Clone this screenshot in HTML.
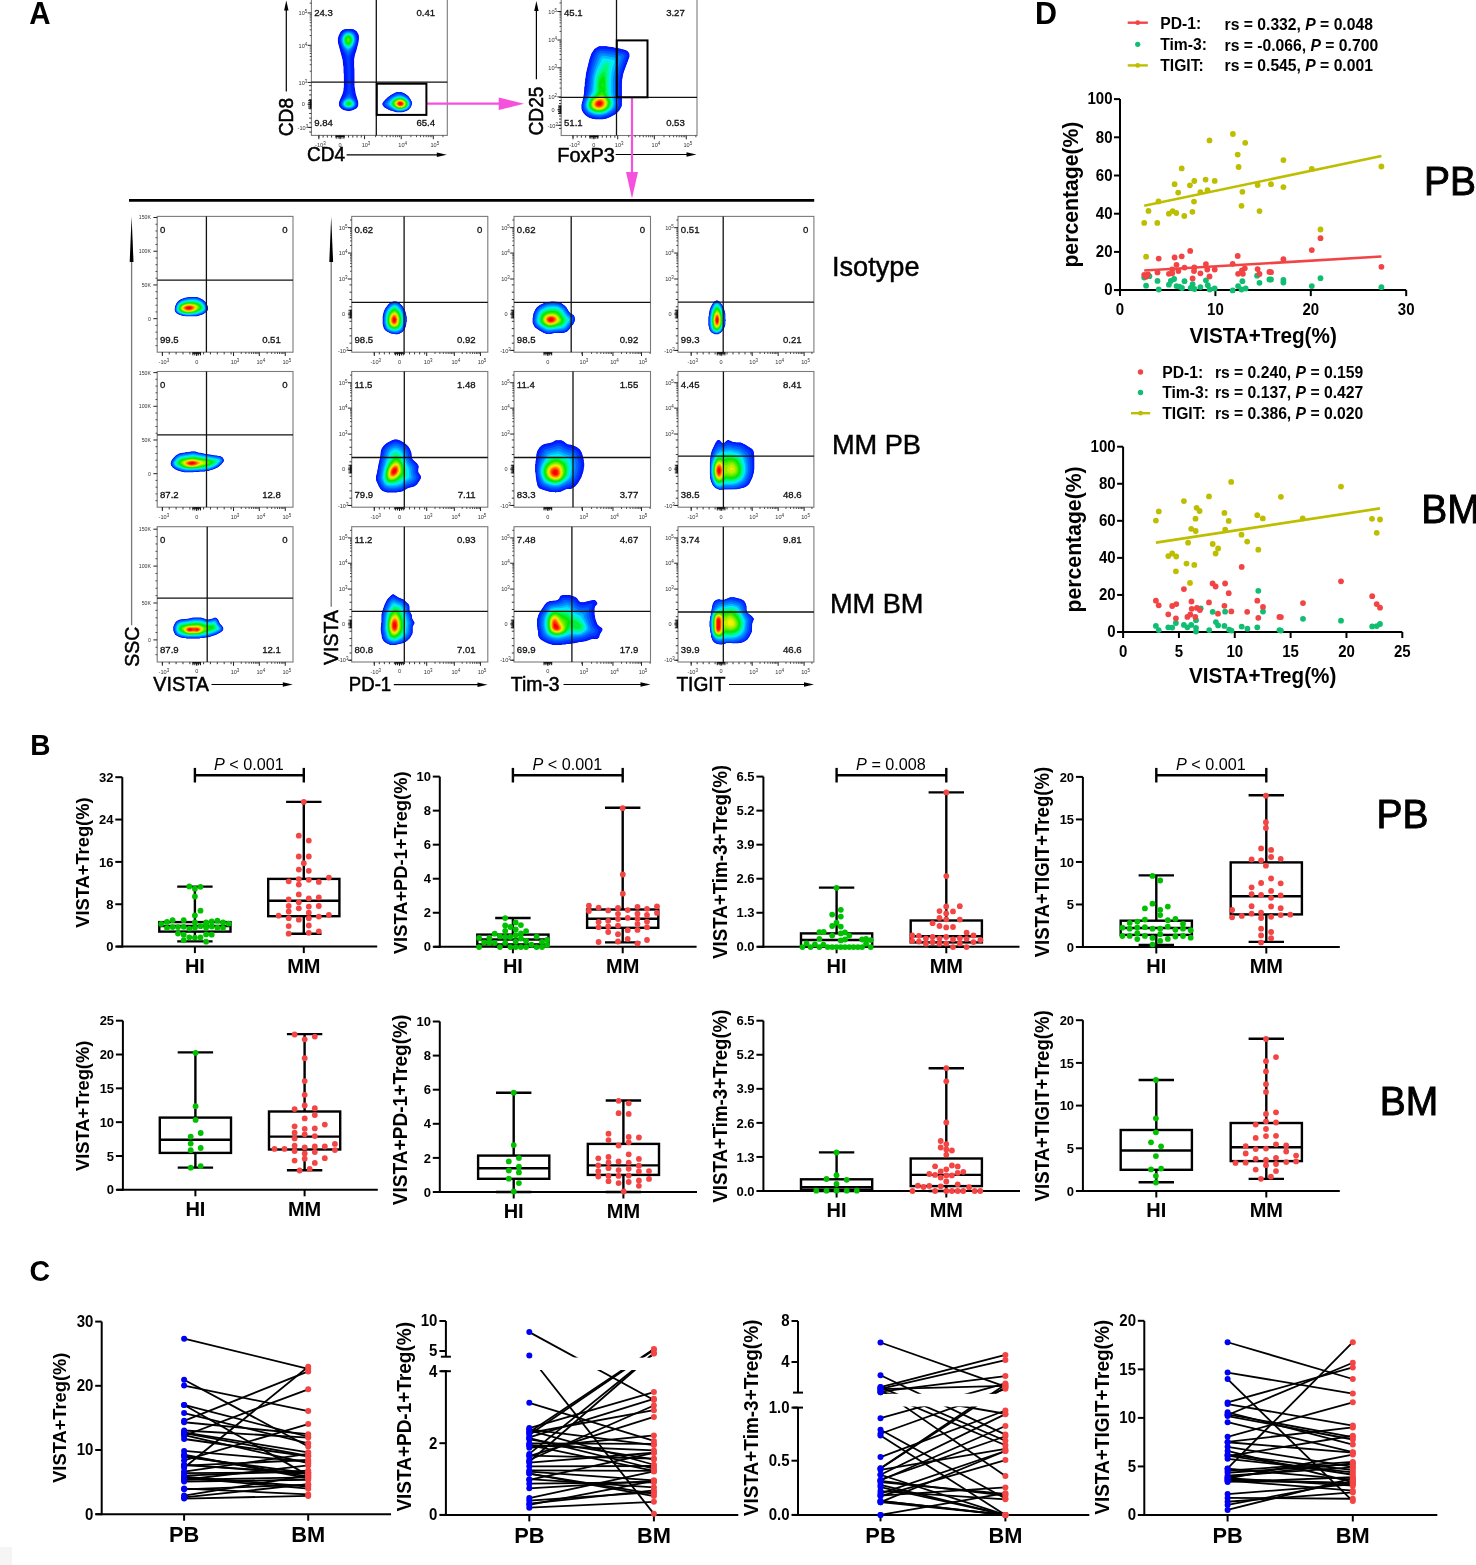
<!DOCTYPE html>
<html><head><meta charset="utf-8"><style>
html,body{margin:0;padding:0;background:#fff;overflow:hidden;}
svg{display:block;font-family:"Liberation Sans", sans-serif;will-change:transform;}
</style></head><body>
<svg width="1476" height="1565" viewBox="0 0 1476 1565">
<rect x="0" y="0" width="1476" height="1565" fill="#fff"/>
<text x="29.3" y="24.0" font-size="29.5" font-weight="bold" fill="#000" transform="translate(29.3 24.0) scale(1 1.04) translate(-29.3 -24.0)">A</text>
<text x="30.2" y="755.1" font-size="28" font-weight="bold" fill="#000" transform="translate(30.2 755.1) scale(1 1.07) translate(-30.2 -755.1)">B</text>
<text x="29.5" y="1281.0" font-size="28.5" font-weight="bold" fill="#000" transform="translate(29.5 1281.0) scale(1 1.05) translate(-29.5 -1281.0)">C</text>
<text x="1034.9" y="24.0" font-size="30.5" font-weight="bold" fill="#000" transform="translate(1034.9 24.0) scale(1 1.03) translate(-1034.9 -24.0)">D</text>
<line x1="116.30" y1="946.60" x2="377.20" y2="946.60" stroke="#000" stroke-width="2" stroke-linecap="butt"/>
<line x1="122.30" y1="777.20" x2="122.30" y2="947.60" stroke="#000" stroke-width="2" stroke-linecap="butt"/>
<line x1="115.30" y1="946.60" x2="122.30" y2="946.60" stroke="#000" stroke-width="2" stroke-linecap="butt"/>
<text x="113.5" y="951.3" font-size="13" font-weight="bold" text-anchor="end" fill="#000" transform="translate(113.5 951.3) scale(1 1.04) translate(-113.5 -951.3)">0</text>
<line x1="115.30" y1="904.25" x2="122.30" y2="904.25" stroke="#000" stroke-width="2" stroke-linecap="butt"/>
<text x="113.5" y="908.9" font-size="13" font-weight="bold" text-anchor="end" fill="#000" transform="translate(113.5 908.9) scale(1 1.04) translate(-113.5 -908.9)">8</text>
<line x1="115.30" y1="861.90" x2="122.30" y2="861.90" stroke="#000" stroke-width="2" stroke-linecap="butt"/>
<text x="113.5" y="866.6" font-size="13" font-weight="bold" text-anchor="end" fill="#000" transform="translate(113.5 866.6) scale(1 1.04) translate(-113.5 -866.6)">16</text>
<line x1="115.30" y1="819.55" x2="122.30" y2="819.55" stroke="#000" stroke-width="2" stroke-linecap="butt"/>
<text x="113.5" y="824.2" font-size="13" font-weight="bold" text-anchor="end" fill="#000" transform="translate(113.5 824.2) scale(1 1.04) translate(-113.5 -824.2)">24</text>
<line x1="115.30" y1="777.20" x2="122.30" y2="777.20" stroke="#000" stroke-width="2" stroke-linecap="butt"/>
<text x="113.5" y="781.9" font-size="13" font-weight="bold" text-anchor="end" fill="#000" transform="translate(113.5 781.9) scale(1 1.04) translate(-113.5 -781.9)">32</text>
<line x1="194.90" y1="946.60" x2="194.90" y2="953.10" stroke="#000" stroke-width="2" stroke-linecap="butt"/>
<line x1="303.80" y1="946.60" x2="303.80" y2="953.10" stroke="#000" stroke-width="2" stroke-linecap="butt"/>
<text x="194.9" y="973.0" font-size="20" font-weight="bold" text-anchor="middle" fill="#000" transform="translate(194.9 973.0) scale(1 1.04) translate(-194.9 -973.0)">HI</text>
<text x="303.8" y="973.0" font-size="20" font-weight="bold" text-anchor="middle" fill="#000" transform="translate(303.8 973.0) scale(1 1.04) translate(-303.8 -973.0)">MM</text>
<text x="89.0" y="862.6" font-size="18.3" font-weight="bold" text-anchor="middle" fill="#000" transform="rotate(-90 89.0 862.6) translate(89.0 862.6) scale(1 1.04) translate(-89.0 -862.6)">VISTA+Treg(%)</text>
<rect x="159.30" y="922.10" width="71.20" height="9.50" fill="none" stroke="#000" stroke-width="2.4"/>
<line x1="159.30" y1="926.00" x2="230.50" y2="926.00" stroke="#000" stroke-width="2.4" stroke-linecap="butt"/>
<line x1="194.90" y1="886.60" x2="194.90" y2="922.10" stroke="#000" stroke-width="2.4" stroke-linecap="butt"/>
<line x1="194.90" y1="931.60" x2="194.90" y2="941.40" stroke="#000" stroke-width="2.4" stroke-linecap="butt"/>
<line x1="177.20" y1="886.60" x2="212.60" y2="886.60" stroke="#000" stroke-width="2.4" stroke-linecap="butt"/>
<line x1="177.20" y1="941.40" x2="212.60" y2="941.40" stroke="#000" stroke-width="2.4" stroke-linecap="butt"/>
<rect x="268.20" y="878.90" width="71.20" height="37.30" fill="none" stroke="#000" stroke-width="2.4"/>
<line x1="268.20" y1="900.70" x2="339.40" y2="900.70" stroke="#000" stroke-width="2.4" stroke-linecap="butt"/>
<line x1="303.80" y1="801.90" x2="303.80" y2="878.90" stroke="#000" stroke-width="2.4" stroke-linecap="butt"/>
<line x1="303.80" y1="916.20" x2="303.80" y2="933.70" stroke="#000" stroke-width="2.4" stroke-linecap="butt"/>
<line x1="286.10" y1="801.90" x2="321.50" y2="801.90" stroke="#000" stroke-width="2.4" stroke-linecap="butt"/>
<line x1="286.10" y1="933.70" x2="321.50" y2="933.70" stroke="#000" stroke-width="2.4" stroke-linecap="butt"/>
<line x1="433.80" y1="946.80" x2="696.60" y2="946.80" stroke="#000" stroke-width="2" stroke-linecap="butt"/>
<line x1="439.80" y1="776.60" x2="439.80" y2="947.80" stroke="#000" stroke-width="2" stroke-linecap="butt"/>
<line x1="432.80" y1="946.80" x2="439.80" y2="946.80" stroke="#000" stroke-width="2" stroke-linecap="butt"/>
<text x="431.0" y="951.5" font-size="13" font-weight="bold" text-anchor="end" fill="#000" transform="translate(431.0 951.5) scale(1 1.04) translate(-431.0 -951.5)">0</text>
<line x1="432.80" y1="912.76" x2="439.80" y2="912.76" stroke="#000" stroke-width="2" stroke-linecap="butt"/>
<text x="431.0" y="917.4" font-size="13" font-weight="bold" text-anchor="end" fill="#000" transform="translate(431.0 917.4) scale(1 1.04) translate(-431.0 -917.4)">2</text>
<line x1="432.80" y1="878.72" x2="439.80" y2="878.72" stroke="#000" stroke-width="2" stroke-linecap="butt"/>
<text x="431.0" y="883.4" font-size="13" font-weight="bold" text-anchor="end" fill="#000" transform="translate(431.0 883.4) scale(1 1.04) translate(-431.0 -883.4)">4</text>
<line x1="432.80" y1="844.68" x2="439.80" y2="844.68" stroke="#000" stroke-width="2" stroke-linecap="butt"/>
<text x="431.0" y="849.4" font-size="13" font-weight="bold" text-anchor="end" fill="#000" transform="translate(431.0 849.4) scale(1 1.04) translate(-431.0 -849.4)">6</text>
<line x1="432.80" y1="810.64" x2="439.80" y2="810.64" stroke="#000" stroke-width="2" stroke-linecap="butt"/>
<text x="431.0" y="815.3" font-size="13" font-weight="bold" text-anchor="end" fill="#000" transform="translate(431.0 815.3) scale(1 1.04) translate(-431.0 -815.3)">8</text>
<line x1="432.80" y1="776.60" x2="439.80" y2="776.60" stroke="#000" stroke-width="2" stroke-linecap="butt"/>
<text x="431.0" y="781.3" font-size="13" font-weight="bold" text-anchor="end" fill="#000" transform="translate(431.0 781.3) scale(1 1.04) translate(-431.0 -781.3)">10</text>
<line x1="512.90" y1="946.80" x2="512.90" y2="953.30" stroke="#000" stroke-width="2" stroke-linecap="butt"/>
<line x1="622.70" y1="946.80" x2="622.70" y2="953.30" stroke="#000" stroke-width="2" stroke-linecap="butt"/>
<text x="512.9" y="973.2" font-size="20" font-weight="bold" text-anchor="middle" fill="#000" transform="translate(512.9 973.2) scale(1 1.04) translate(-512.9 -973.2)">HI</text>
<text x="622.7" y="973.2" font-size="20" font-weight="bold" text-anchor="middle" fill="#000" transform="translate(622.7 973.2) scale(1 1.04) translate(-622.7 -973.2)">MM</text>
<text x="407.0" y="862.8" font-size="18.3" font-weight="bold" text-anchor="middle" fill="#000" transform="rotate(-90 407.0 862.8) translate(407.0 862.8) scale(1 1.04) translate(-407.0 -862.8)">VISTA+PD-1+Treg(%)</text>
<rect x="477.30" y="934.60" width="71.20" height="9.80" fill="none" stroke="#000" stroke-width="2.4"/>
<line x1="477.30" y1="939.50" x2="548.50" y2="939.50" stroke="#000" stroke-width="2.4" stroke-linecap="butt"/>
<line x1="512.90" y1="918.00" x2="512.90" y2="934.60" stroke="#000" stroke-width="2.4" stroke-linecap="butt"/>
<line x1="512.90" y1="944.40" x2="512.90" y2="946.80" stroke="#000" stroke-width="2.4" stroke-linecap="butt"/>
<line x1="495.20" y1="918.00" x2="530.60" y2="918.00" stroke="#000" stroke-width="2.4" stroke-linecap="butt"/>
<line x1="495.20" y1="946.80" x2="530.60" y2="946.80" stroke="#000" stroke-width="2.4" stroke-linecap="butt"/>
<rect x="587.10" y="909.50" width="71.20" height="18.30" fill="none" stroke="#000" stroke-width="2.4"/>
<line x1="587.10" y1="918.80" x2="658.30" y2="918.80" stroke="#000" stroke-width="2.4" stroke-linecap="butt"/>
<line x1="622.70" y1="807.80" x2="622.70" y2="909.50" stroke="#000" stroke-width="2.4" stroke-linecap="butt"/>
<line x1="622.70" y1="927.80" x2="622.70" y2="942.40" stroke="#000" stroke-width="2.4" stroke-linecap="butt"/>
<line x1="605.00" y1="807.80" x2="640.40" y2="807.80" stroke="#000" stroke-width="2.4" stroke-linecap="butt"/>
<line x1="605.00" y1="942.40" x2="640.40" y2="942.40" stroke="#000" stroke-width="2.4" stroke-linecap="butt"/>
<line x1="757.40" y1="946.80" x2="1019.50" y2="946.80" stroke="#000" stroke-width="2" stroke-linecap="butt"/>
<line x1="763.40" y1="776.60" x2="763.40" y2="947.80" stroke="#000" stroke-width="2" stroke-linecap="butt"/>
<line x1="756.40" y1="946.80" x2="763.40" y2="946.80" stroke="#000" stroke-width="2" stroke-linecap="butt"/>
<text x="754.6" y="951.5" font-size="13" font-weight="bold" text-anchor="end" fill="#000" transform="translate(754.6 951.5) scale(1 1.04) translate(-754.6 -951.5)">0.0</text>
<line x1="756.40" y1="912.76" x2="763.40" y2="912.76" stroke="#000" stroke-width="2" stroke-linecap="butt"/>
<text x="754.6" y="917.4" font-size="13" font-weight="bold" text-anchor="end" fill="#000" transform="translate(754.6 917.4) scale(1 1.04) translate(-754.6 -917.4)">1.3</text>
<line x1="756.40" y1="878.72" x2="763.40" y2="878.72" stroke="#000" stroke-width="2" stroke-linecap="butt"/>
<text x="754.6" y="883.4" font-size="13" font-weight="bold" text-anchor="end" fill="#000" transform="translate(754.6 883.4) scale(1 1.04) translate(-754.6 -883.4)">2.6</text>
<line x1="756.40" y1="844.68" x2="763.40" y2="844.68" stroke="#000" stroke-width="2" stroke-linecap="butt"/>
<text x="754.6" y="849.4" font-size="13" font-weight="bold" text-anchor="end" fill="#000" transform="translate(754.6 849.4) scale(1 1.04) translate(-754.6 -849.4)">3.9</text>
<line x1="756.40" y1="810.64" x2="763.40" y2="810.64" stroke="#000" stroke-width="2" stroke-linecap="butt"/>
<text x="754.6" y="815.3" font-size="13" font-weight="bold" text-anchor="end" fill="#000" transform="translate(754.6 815.3) scale(1 1.04) translate(-754.6 -815.3)">5.2</text>
<line x1="756.40" y1="776.60" x2="763.40" y2="776.60" stroke="#000" stroke-width="2" stroke-linecap="butt"/>
<text x="754.6" y="781.3" font-size="13" font-weight="bold" text-anchor="end" fill="#000" transform="translate(754.6 781.3) scale(1 1.04) translate(-754.6 -781.3)">6.5</text>
<line x1="836.60" y1="946.80" x2="836.60" y2="953.30" stroke="#000" stroke-width="2" stroke-linecap="butt"/>
<line x1="946.30" y1="946.80" x2="946.30" y2="953.30" stroke="#000" stroke-width="2" stroke-linecap="butt"/>
<text x="836.6" y="973.2" font-size="20" font-weight="bold" text-anchor="middle" fill="#000" transform="translate(836.6 973.2) scale(1 1.04) translate(-836.6 -973.2)">HI</text>
<text x="946.3" y="973.2" font-size="20" font-weight="bold" text-anchor="middle" fill="#000" transform="translate(946.3 973.2) scale(1 1.04) translate(-946.3 -973.2)">MM</text>
<text x="727.2" y="862.0" font-size="18.76" font-weight="bold" text-anchor="middle" fill="#000" transform="rotate(-90 727.2 862.0) translate(727.2 862.0) scale(1 1.04) translate(-727.2 -862.0)">VISTA+Tim-3+Treg(%)</text>
<rect x="801.00" y="933.40" width="71.20" height="13.40" fill="none" stroke="#000" stroke-width="2.4"/>
<line x1="801.00" y1="940.00" x2="872.20" y2="940.00" stroke="#000" stroke-width="2.4" stroke-linecap="butt"/>
<line x1="836.60" y1="887.60" x2="836.60" y2="933.40" stroke="#000" stroke-width="2.4" stroke-linecap="butt"/>
<line x1="836.60" y1="946.80" x2="836.60" y2="946.80" stroke="#000" stroke-width="2.4" stroke-linecap="butt"/>
<line x1="818.90" y1="887.60" x2="854.30" y2="887.60" stroke="#000" stroke-width="2.4" stroke-linecap="butt"/>
<line x1="818.90" y1="946.80" x2="854.30" y2="946.80" stroke="#000" stroke-width="2.4" stroke-linecap="butt"/>
<rect x="910.70" y="920.50" width="71.20" height="21.90" fill="none" stroke="#000" stroke-width="2.4"/>
<line x1="910.70" y1="936.30" x2="981.90" y2="936.30" stroke="#000" stroke-width="2.4" stroke-linecap="butt"/>
<line x1="946.30" y1="792.40" x2="946.30" y2="920.50" stroke="#000" stroke-width="2.4" stroke-linecap="butt"/>
<line x1="946.30" y1="942.40" x2="946.30" y2="946.80" stroke="#000" stroke-width="2.4" stroke-linecap="butt"/>
<line x1="928.60" y1="792.40" x2="964.00" y2="792.40" stroke="#000" stroke-width="2.4" stroke-linecap="butt"/>
<line x1="928.60" y1="946.80" x2="964.00" y2="946.80" stroke="#000" stroke-width="2.4" stroke-linecap="butt"/>
<line x1="1076.90" y1="947.00" x2="1339.80" y2="947.00" stroke="#000" stroke-width="2" stroke-linecap="butt"/>
<line x1="1082.90" y1="776.90" x2="1082.90" y2="948.00" stroke="#000" stroke-width="2" stroke-linecap="butt"/>
<line x1="1075.90" y1="947.00" x2="1082.90" y2="947.00" stroke="#000" stroke-width="2" stroke-linecap="butt"/>
<text x="1074.1" y="951.7" font-size="13" font-weight="bold" text-anchor="end" fill="#000" transform="translate(1074.1 951.7) scale(1 1.04) translate(-1074.1 -951.7)">0</text>
<line x1="1075.90" y1="904.48" x2="1082.90" y2="904.48" stroke="#000" stroke-width="2" stroke-linecap="butt"/>
<text x="1074.1" y="909.2" font-size="13" font-weight="bold" text-anchor="end" fill="#000" transform="translate(1074.1 909.2) scale(1 1.04) translate(-1074.1 -909.2)">5</text>
<line x1="1075.90" y1="861.95" x2="1082.90" y2="861.95" stroke="#000" stroke-width="2" stroke-linecap="butt"/>
<text x="1074.1" y="866.6" font-size="13" font-weight="bold" text-anchor="end" fill="#000" transform="translate(1074.1 866.6) scale(1 1.04) translate(-1074.1 -866.6)">10</text>
<line x1="1075.90" y1="819.42" x2="1082.90" y2="819.42" stroke="#000" stroke-width="2" stroke-linecap="butt"/>
<text x="1074.1" y="824.1" font-size="13" font-weight="bold" text-anchor="end" fill="#000" transform="translate(1074.1 824.1) scale(1 1.04) translate(-1074.1 -824.1)">15</text>
<line x1="1075.90" y1="776.90" x2="1082.90" y2="776.90" stroke="#000" stroke-width="2" stroke-linecap="butt"/>
<text x="1074.1" y="781.6" font-size="13" font-weight="bold" text-anchor="end" fill="#000" transform="translate(1074.1 781.6) scale(1 1.04) translate(-1074.1 -781.6)">20</text>
<line x1="1156.30" y1="947.00" x2="1156.30" y2="953.50" stroke="#000" stroke-width="2" stroke-linecap="butt"/>
<line x1="1266.30" y1="947.00" x2="1266.30" y2="953.50" stroke="#000" stroke-width="2" stroke-linecap="butt"/>
<text x="1156.3" y="973.4" font-size="20" font-weight="bold" text-anchor="middle" fill="#000" transform="translate(1156.3 973.4) scale(1 1.04) translate(-1156.3 -973.4)">HI</text>
<text x="1266.3" y="973.4" font-size="20" font-weight="bold" text-anchor="middle" fill="#000" transform="translate(1266.3 973.4) scale(1 1.04) translate(-1266.3 -973.4)">MM</text>
<text x="1049.0" y="862.1" font-size="18.57" font-weight="bold" text-anchor="middle" fill="#000" transform="rotate(-90 1049.0 862.1) translate(1049.0 862.1) scale(1 1.04) translate(-1049.0 -862.1)">VISTA+TIGIT+Treg(%)</text>
<rect x="1120.70" y="920.70" width="71.20" height="14.20" fill="none" stroke="#000" stroke-width="2.4"/>
<line x1="1120.70" y1="928.00" x2="1191.90" y2="928.00" stroke="#000" stroke-width="2.4" stroke-linecap="butt"/>
<line x1="1156.30" y1="875.40" x2="1156.30" y2="920.70" stroke="#000" stroke-width="2.4" stroke-linecap="butt"/>
<line x1="1156.30" y1="934.90" x2="1156.30" y2="944.90" stroke="#000" stroke-width="2.4" stroke-linecap="butt"/>
<line x1="1138.60" y1="875.40" x2="1174.00" y2="875.40" stroke="#000" stroke-width="2.4" stroke-linecap="butt"/>
<line x1="1138.60" y1="944.90" x2="1174.00" y2="944.90" stroke="#000" stroke-width="2.4" stroke-linecap="butt"/>
<rect x="1230.70" y="862.40" width="71.20" height="52.00" fill="none" stroke="#000" stroke-width="2.4"/>
<line x1="1230.70" y1="896.20" x2="1301.90" y2="896.20" stroke="#000" stroke-width="2.4" stroke-linecap="butt"/>
<line x1="1266.30" y1="795.30" x2="1266.30" y2="862.40" stroke="#000" stroke-width="2.4" stroke-linecap="butt"/>
<line x1="1266.30" y1="914.40" x2="1266.30" y2="941.90" stroke="#000" stroke-width="2.4" stroke-linecap="butt"/>
<line x1="1248.60" y1="795.30" x2="1284.00" y2="795.30" stroke="#000" stroke-width="2.4" stroke-linecap="butt"/>
<line x1="1248.60" y1="941.90" x2="1284.00" y2="941.90" stroke="#000" stroke-width="2.4" stroke-linecap="butt"/>
<line x1="116.90" y1="1189.80" x2="377.80" y2="1189.80" stroke="#000" stroke-width="2" stroke-linecap="butt"/>
<line x1="122.90" y1="1020.70" x2="122.90" y2="1190.80" stroke="#000" stroke-width="2" stroke-linecap="butt"/>
<line x1="115.90" y1="1189.80" x2="122.90" y2="1189.80" stroke="#000" stroke-width="2" stroke-linecap="butt"/>
<text x="114.1" y="1194.5" font-size="13" font-weight="bold" text-anchor="end" fill="#000" transform="translate(114.1 1194.5) scale(1 1.04) translate(-114.1 -1194.5)">0</text>
<line x1="115.90" y1="1155.98" x2="122.90" y2="1155.98" stroke="#000" stroke-width="2" stroke-linecap="butt"/>
<text x="114.1" y="1160.7" font-size="13" font-weight="bold" text-anchor="end" fill="#000" transform="translate(114.1 1160.7) scale(1 1.04) translate(-114.1 -1160.7)">5</text>
<line x1="115.90" y1="1122.16" x2="122.90" y2="1122.16" stroke="#000" stroke-width="2" stroke-linecap="butt"/>
<text x="114.1" y="1126.8" font-size="13" font-weight="bold" text-anchor="end" fill="#000" transform="translate(114.1 1126.8) scale(1 1.04) translate(-114.1 -1126.8)">10</text>
<line x1="115.90" y1="1088.34" x2="122.90" y2="1088.34" stroke="#000" stroke-width="2" stroke-linecap="butt"/>
<text x="114.1" y="1093.0" font-size="13" font-weight="bold" text-anchor="end" fill="#000" transform="translate(114.1 1093.0) scale(1 1.04) translate(-114.1 -1093.0)">15</text>
<line x1="115.90" y1="1054.52" x2="122.90" y2="1054.52" stroke="#000" stroke-width="2" stroke-linecap="butt"/>
<text x="114.1" y="1059.2" font-size="13" font-weight="bold" text-anchor="end" fill="#000" transform="translate(114.1 1059.2) scale(1 1.04) translate(-114.1 -1059.2)">20</text>
<line x1="115.90" y1="1020.70" x2="122.90" y2="1020.70" stroke="#000" stroke-width="2" stroke-linecap="butt"/>
<text x="114.1" y="1025.4" font-size="13" font-weight="bold" text-anchor="end" fill="#000" transform="translate(114.1 1025.4) scale(1 1.04) translate(-114.1 -1025.4)">25</text>
<line x1="195.40" y1="1189.80" x2="195.40" y2="1196.30" stroke="#000" stroke-width="2" stroke-linecap="butt"/>
<line x1="304.60" y1="1189.80" x2="304.60" y2="1196.30" stroke="#000" stroke-width="2" stroke-linecap="butt"/>
<text x="195.4" y="1216.2" font-size="20" font-weight="bold" text-anchor="middle" fill="#000" transform="translate(195.4 1216.2) scale(1 1.04) translate(-195.4 -1216.2)">HI</text>
<text x="304.6" y="1216.2" font-size="20" font-weight="bold" text-anchor="middle" fill="#000" transform="translate(304.6 1216.2) scale(1 1.04) translate(-304.6 -1216.2)">MM</text>
<text x="89.1" y="1105.8" font-size="18.3" font-weight="bold" text-anchor="middle" fill="#000" transform="rotate(-90 89.1 1105.8) translate(89.1 1105.8) scale(1 1.04) translate(-89.1 -1105.8)">VISTA+Treg(%)</text>
<rect x="159.80" y="1117.60" width="71.20" height="35.30" fill="none" stroke="#000" stroke-width="2.4"/>
<line x1="159.80" y1="1139.80" x2="231.00" y2="1139.80" stroke="#000" stroke-width="2.4" stroke-linecap="butt"/>
<line x1="195.40" y1="1052.40" x2="195.40" y2="1117.60" stroke="#000" stroke-width="2.4" stroke-linecap="butt"/>
<line x1="195.40" y1="1152.90" x2="195.40" y2="1167.60" stroke="#000" stroke-width="2.4" stroke-linecap="butt"/>
<line x1="177.70" y1="1052.40" x2="213.10" y2="1052.40" stroke="#000" stroke-width="2.4" stroke-linecap="butt"/>
<line x1="177.70" y1="1167.60" x2="213.10" y2="1167.60" stroke="#000" stroke-width="2.4" stroke-linecap="butt"/>
<rect x="269.00" y="1111.50" width="71.20" height="38.00" fill="none" stroke="#000" stroke-width="2.4"/>
<line x1="269.00" y1="1136.60" x2="340.20" y2="1136.60" stroke="#000" stroke-width="2.4" stroke-linecap="butt"/>
<line x1="304.60" y1="1034.10" x2="304.60" y2="1111.50" stroke="#000" stroke-width="2.4" stroke-linecap="butt"/>
<line x1="304.60" y1="1149.50" x2="304.60" y2="1170.20" stroke="#000" stroke-width="2.4" stroke-linecap="butt"/>
<line x1="286.90" y1="1034.10" x2="322.30" y2="1034.10" stroke="#000" stroke-width="2.4" stroke-linecap="butt"/>
<line x1="286.90" y1="1170.20" x2="322.30" y2="1170.20" stroke="#000" stroke-width="2.4" stroke-linecap="butt"/>
<line x1="433.80" y1="1192.00" x2="697.00" y2="1192.00" stroke="#000" stroke-width="2" stroke-linecap="butt"/>
<line x1="439.80" y1="1021.50" x2="439.80" y2="1193.00" stroke="#000" stroke-width="2" stroke-linecap="butt"/>
<line x1="432.80" y1="1192.00" x2="439.80" y2="1192.00" stroke="#000" stroke-width="2" stroke-linecap="butt"/>
<text x="431.0" y="1196.7" font-size="13" font-weight="bold" text-anchor="end" fill="#000" transform="translate(431.0 1196.7) scale(1 1.04) translate(-431.0 -1196.7)">0</text>
<line x1="432.80" y1="1157.90" x2="439.80" y2="1157.90" stroke="#000" stroke-width="2" stroke-linecap="butt"/>
<text x="431.0" y="1162.6" font-size="13" font-weight="bold" text-anchor="end" fill="#000" transform="translate(431.0 1162.6) scale(1 1.04) translate(-431.0 -1162.6)">2</text>
<line x1="432.80" y1="1123.80" x2="439.80" y2="1123.80" stroke="#000" stroke-width="2" stroke-linecap="butt"/>
<text x="431.0" y="1128.5" font-size="13" font-weight="bold" text-anchor="end" fill="#000" transform="translate(431.0 1128.5) scale(1 1.04) translate(-431.0 -1128.5)">4</text>
<line x1="432.80" y1="1089.70" x2="439.80" y2="1089.70" stroke="#000" stroke-width="2" stroke-linecap="butt"/>
<text x="431.0" y="1094.4" font-size="13" font-weight="bold" text-anchor="end" fill="#000" transform="translate(431.0 1094.4) scale(1 1.04) translate(-431.0 -1094.4)">6</text>
<line x1="432.80" y1="1055.60" x2="439.80" y2="1055.60" stroke="#000" stroke-width="2" stroke-linecap="butt"/>
<text x="431.0" y="1060.3" font-size="13" font-weight="bold" text-anchor="end" fill="#000" transform="translate(431.0 1060.3) scale(1 1.04) translate(-431.0 -1060.3)">8</text>
<line x1="432.80" y1="1021.50" x2="439.80" y2="1021.50" stroke="#000" stroke-width="2" stroke-linecap="butt"/>
<text x="431.0" y="1026.2" font-size="13" font-weight="bold" text-anchor="end" fill="#000" transform="translate(431.0 1026.2) scale(1 1.04) translate(-431.0 -1026.2)">10</text>
<line x1="513.70" y1="1192.00" x2="513.70" y2="1198.50" stroke="#000" stroke-width="2" stroke-linecap="butt"/>
<line x1="623.40" y1="1192.00" x2="623.40" y2="1198.50" stroke="#000" stroke-width="2" stroke-linecap="butt"/>
<text x="513.7" y="1218.4" font-size="20" font-weight="bold" text-anchor="middle" fill="#000" transform="translate(513.7 1218.4) scale(1 1.04) translate(-513.7 -1218.4)">HI</text>
<text x="623.4" y="1218.4" font-size="20" font-weight="bold" text-anchor="middle" fill="#000" transform="translate(623.4 1218.4) scale(1 1.04) translate(-623.4 -1218.4)">MM</text>
<text x="407.0" y="1109.9" font-size="19.1" font-weight="bold" text-anchor="middle" fill="#000" transform="rotate(-90 407.0 1109.9) translate(407.0 1109.9) scale(1 1.04) translate(-407.0 -1109.9)">VISTA+PD-1+Treg(%)</text>
<rect x="478.10" y="1155.60" width="71.20" height="23.20" fill="none" stroke="#000" stroke-width="2.4"/>
<line x1="478.10" y1="1168.30" x2="549.30" y2="1168.30" stroke="#000" stroke-width="2.4" stroke-linecap="butt"/>
<line x1="513.70" y1="1092.70" x2="513.70" y2="1155.60" stroke="#000" stroke-width="2.4" stroke-linecap="butt"/>
<line x1="513.70" y1="1178.80" x2="513.70" y2="1192.00" stroke="#000" stroke-width="2.4" stroke-linecap="butt"/>
<line x1="496.00" y1="1092.70" x2="531.40" y2="1092.70" stroke="#000" stroke-width="2.4" stroke-linecap="butt"/>
<line x1="496.00" y1="1192.00" x2="531.40" y2="1192.00" stroke="#000" stroke-width="2.4" stroke-linecap="butt"/>
<rect x="587.80" y="1143.90" width="71.20" height="31.00" fill="none" stroke="#000" stroke-width="2.4"/>
<line x1="587.80" y1="1165.40" x2="659.00" y2="1165.40" stroke="#000" stroke-width="2.4" stroke-linecap="butt"/>
<line x1="623.40" y1="1100.50" x2="623.40" y2="1143.90" stroke="#000" stroke-width="2.4" stroke-linecap="butt"/>
<line x1="623.40" y1="1174.90" x2="623.40" y2="1192.00" stroke="#000" stroke-width="2.4" stroke-linecap="butt"/>
<line x1="605.70" y1="1100.50" x2="641.10" y2="1100.50" stroke="#000" stroke-width="2.4" stroke-linecap="butt"/>
<line x1="605.70" y1="1192.00" x2="641.10" y2="1192.00" stroke="#000" stroke-width="2.4" stroke-linecap="butt"/>
<line x1="757.40" y1="1191.00" x2="1020.00" y2="1191.00" stroke="#000" stroke-width="2" stroke-linecap="butt"/>
<line x1="763.40" y1="1020.70" x2="763.40" y2="1192.00" stroke="#000" stroke-width="2" stroke-linecap="butt"/>
<line x1="756.40" y1="1191.00" x2="763.40" y2="1191.00" stroke="#000" stroke-width="2" stroke-linecap="butt"/>
<text x="754.6" y="1195.7" font-size="13" font-weight="bold" text-anchor="end" fill="#000" transform="translate(754.6 1195.7) scale(1 1.04) translate(-754.6 -1195.7)">0.0</text>
<line x1="756.40" y1="1156.94" x2="763.40" y2="1156.94" stroke="#000" stroke-width="2" stroke-linecap="butt"/>
<text x="754.6" y="1161.6" font-size="13" font-weight="bold" text-anchor="end" fill="#000" transform="translate(754.6 1161.6) scale(1 1.04) translate(-754.6 -1161.6)">1.3</text>
<line x1="756.40" y1="1122.88" x2="763.40" y2="1122.88" stroke="#000" stroke-width="2" stroke-linecap="butt"/>
<text x="754.6" y="1127.6" font-size="13" font-weight="bold" text-anchor="end" fill="#000" transform="translate(754.6 1127.6) scale(1 1.04) translate(-754.6 -1127.6)">2.6</text>
<line x1="756.40" y1="1088.82" x2="763.40" y2="1088.82" stroke="#000" stroke-width="2" stroke-linecap="butt"/>
<text x="754.6" y="1093.5" font-size="13" font-weight="bold" text-anchor="end" fill="#000" transform="translate(754.6 1093.5) scale(1 1.04) translate(-754.6 -1093.5)">3.9</text>
<line x1="756.40" y1="1054.76" x2="763.40" y2="1054.76" stroke="#000" stroke-width="2" stroke-linecap="butt"/>
<text x="754.6" y="1059.4" font-size="13" font-weight="bold" text-anchor="end" fill="#000" transform="translate(754.6 1059.4) scale(1 1.04) translate(-754.6 -1059.4)">5.2</text>
<line x1="756.40" y1="1020.70" x2="763.40" y2="1020.70" stroke="#000" stroke-width="2" stroke-linecap="butt"/>
<text x="754.6" y="1025.4" font-size="13" font-weight="bold" text-anchor="end" fill="#000" transform="translate(754.6 1025.4) scale(1 1.04) translate(-754.6 -1025.4)">6.5</text>
<line x1="836.60" y1="1191.00" x2="836.60" y2="1197.50" stroke="#000" stroke-width="2" stroke-linecap="butt"/>
<line x1="946.30" y1="1191.00" x2="946.30" y2="1197.50" stroke="#000" stroke-width="2" stroke-linecap="butt"/>
<text x="836.6" y="1217.4" font-size="20" font-weight="bold" text-anchor="middle" fill="#000" transform="translate(836.6 1217.4) scale(1 1.04) translate(-836.6 -1217.4)">HI</text>
<text x="946.3" y="1217.4" font-size="20" font-weight="bold" text-anchor="middle" fill="#000" transform="translate(946.3 1217.4) scale(1 1.04) translate(-946.3 -1217.4)">MM</text>
<text x="727.2" y="1106.1" font-size="18.65" font-weight="bold" text-anchor="middle" fill="#000" transform="rotate(-90 727.2 1106.1) translate(727.2 1106.1) scale(1 1.04) translate(-727.2 -1106.1)">VISTA+Tim-3+Treg(%)</text>
<rect x="801.00" y="1179.30" width="71.20" height="10.50" fill="none" stroke="#000" stroke-width="2.4"/>
<line x1="801.00" y1="1187.30" x2="872.20" y2="1187.30" stroke="#000" stroke-width="2.4" stroke-linecap="butt"/>
<line x1="836.60" y1="1152.40" x2="836.60" y2="1179.30" stroke="#000" stroke-width="2.4" stroke-linecap="butt"/>
<line x1="836.60" y1="1189.80" x2="836.60" y2="1191.00" stroke="#000" stroke-width="2.4" stroke-linecap="butt"/>
<line x1="818.90" y1="1152.40" x2="854.30" y2="1152.40" stroke="#000" stroke-width="2.4" stroke-linecap="butt"/>
<line x1="818.90" y1="1191.00" x2="854.30" y2="1191.00" stroke="#000" stroke-width="2.4" stroke-linecap="butt"/>
<rect x="910.70" y="1158.50" width="71.20" height="27.60" fill="none" stroke="#000" stroke-width="2.4"/>
<line x1="910.70" y1="1174.90" x2="981.90" y2="1174.90" stroke="#000" stroke-width="2.4" stroke-linecap="butt"/>
<line x1="946.30" y1="1068.30" x2="946.30" y2="1158.50" stroke="#000" stroke-width="2.4" stroke-linecap="butt"/>
<line x1="946.30" y1="1186.10" x2="946.30" y2="1191.00" stroke="#000" stroke-width="2.4" stroke-linecap="butt"/>
<line x1="928.60" y1="1068.30" x2="964.00" y2="1068.30" stroke="#000" stroke-width="2.4" stroke-linecap="butt"/>
<line x1="928.60" y1="1191.00" x2="964.00" y2="1191.00" stroke="#000" stroke-width="2.4" stroke-linecap="butt"/>
<line x1="1076.90" y1="1191.00" x2="1339.80" y2="1191.00" stroke="#000" stroke-width="2" stroke-linecap="butt"/>
<line x1="1082.90" y1="1020.20" x2="1082.90" y2="1192.00" stroke="#000" stroke-width="2" stroke-linecap="butt"/>
<line x1="1075.90" y1="1191.00" x2="1082.90" y2="1191.00" stroke="#000" stroke-width="2" stroke-linecap="butt"/>
<text x="1074.1" y="1195.7" font-size="13" font-weight="bold" text-anchor="end" fill="#000" transform="translate(1074.1 1195.7) scale(1 1.04) translate(-1074.1 -1195.7)">0</text>
<line x1="1075.90" y1="1148.30" x2="1082.90" y2="1148.30" stroke="#000" stroke-width="2" stroke-linecap="butt"/>
<text x="1074.1" y="1153.0" font-size="13" font-weight="bold" text-anchor="end" fill="#000" transform="translate(1074.1 1153.0) scale(1 1.04) translate(-1074.1 -1153.0)">5</text>
<line x1="1075.90" y1="1105.60" x2="1082.90" y2="1105.60" stroke="#000" stroke-width="2" stroke-linecap="butt"/>
<text x="1074.1" y="1110.3" font-size="13" font-weight="bold" text-anchor="end" fill="#000" transform="translate(1074.1 1110.3) scale(1 1.04) translate(-1074.1 -1110.3)">10</text>
<line x1="1075.90" y1="1062.90" x2="1082.90" y2="1062.90" stroke="#000" stroke-width="2" stroke-linecap="butt"/>
<text x="1074.1" y="1067.6" font-size="13" font-weight="bold" text-anchor="end" fill="#000" transform="translate(1074.1 1067.6) scale(1 1.04) translate(-1074.1 -1067.6)">15</text>
<line x1="1075.90" y1="1020.20" x2="1082.90" y2="1020.20" stroke="#000" stroke-width="2" stroke-linecap="butt"/>
<text x="1074.1" y="1024.9" font-size="13" font-weight="bold" text-anchor="end" fill="#000" transform="translate(1074.1 1024.9) scale(1 1.04) translate(-1074.1 -1024.9)">20</text>
<line x1="1156.30" y1="1191.00" x2="1156.30" y2="1197.50" stroke="#000" stroke-width="2" stroke-linecap="butt"/>
<line x1="1266.30" y1="1191.00" x2="1266.30" y2="1197.50" stroke="#000" stroke-width="2" stroke-linecap="butt"/>
<text x="1156.3" y="1217.4" font-size="20" font-weight="bold" text-anchor="middle" fill="#000" transform="translate(1156.3 1217.4) scale(1 1.04) translate(-1156.3 -1217.4)">HI</text>
<text x="1266.3" y="1217.4" font-size="20" font-weight="bold" text-anchor="middle" fill="#000" transform="translate(1266.3 1217.4) scale(1 1.04) translate(-1266.3 -1217.4)">MM</text>
<text x="1049.0" y="1105.8" font-size="18.63" font-weight="bold" text-anchor="middle" fill="#000" transform="rotate(-90 1049.0 1105.8) translate(1049.0 1105.8) scale(1 1.04) translate(-1049.0 -1105.8)">VISTA+TIGIT+Treg(%)</text>
<rect x="1120.70" y="1130.00" width="71.20" height="39.80" fill="none" stroke="#000" stroke-width="2.4"/>
<line x1="1120.70" y1="1150.50" x2="1191.90" y2="1150.50" stroke="#000" stroke-width="2.4" stroke-linecap="butt"/>
<line x1="1156.30" y1="1080.00" x2="1156.30" y2="1130.00" stroke="#000" stroke-width="2.4" stroke-linecap="butt"/>
<line x1="1156.30" y1="1169.80" x2="1156.30" y2="1182.20" stroke="#000" stroke-width="2.4" stroke-linecap="butt"/>
<line x1="1138.60" y1="1080.00" x2="1174.00" y2="1080.00" stroke="#000" stroke-width="2.4" stroke-linecap="butt"/>
<line x1="1138.60" y1="1182.20" x2="1174.00" y2="1182.20" stroke="#000" stroke-width="2.4" stroke-linecap="butt"/>
<rect x="1230.70" y="1123.00" width="71.20" height="38.10" fill="none" stroke="#000" stroke-width="2.4"/>
<line x1="1230.70" y1="1147.20" x2="1301.90" y2="1147.20" stroke="#000" stroke-width="2.4" stroke-linecap="butt"/>
<line x1="1266.30" y1="1038.70" x2="1266.30" y2="1123.00" stroke="#000" stroke-width="2.4" stroke-linecap="butt"/>
<line x1="1266.30" y1="1161.10" x2="1266.30" y2="1178.90" stroke="#000" stroke-width="2.4" stroke-linecap="butt"/>
<line x1="1248.60" y1="1038.70" x2="1284.00" y2="1038.70" stroke="#000" stroke-width="2.4" stroke-linecap="butt"/>
<line x1="1248.60" y1="1178.90" x2="1284.00" y2="1178.90" stroke="#000" stroke-width="2.4" stroke-linecap="butt"/>
<line x1="194.90" y1="775.20" x2="303.80" y2="775.20" stroke="#000" stroke-width="2.4" stroke-linecap="butt"/>
<line x1="194.90" y1="767.90" x2="194.90" y2="782.50" stroke="#000" stroke-width="2.4" stroke-linecap="butt"/>
<line x1="303.80" y1="767.90" x2="303.80" y2="782.50" stroke="#000" stroke-width="2.4" stroke-linecap="butt"/>
<text x="248.9" y="770.5" font-size="16.2" text-anchor="middle" fill="#000" transform="translate(248.9 770.5) scale(1 1.04) translate(-248.9 -770.5)"><tspan font-style="italic">P</tspan> &lt; 0.001</text>
<line x1="512.90" y1="775.20" x2="622.70" y2="775.20" stroke="#000" stroke-width="2.4" stroke-linecap="butt"/>
<line x1="512.90" y1="767.90" x2="512.90" y2="782.50" stroke="#000" stroke-width="2.4" stroke-linecap="butt"/>
<line x1="622.70" y1="767.90" x2="622.70" y2="782.50" stroke="#000" stroke-width="2.4" stroke-linecap="butt"/>
<text x="567.3" y="770.5" font-size="16.2" text-anchor="middle" fill="#000" transform="translate(567.3 770.5) scale(1 1.04) translate(-567.3 -770.5)"><tspan font-style="italic">P</tspan> &lt; 0.001</text>
<line x1="836.60" y1="775.20" x2="946.30" y2="775.20" stroke="#000" stroke-width="2.4" stroke-linecap="butt"/>
<line x1="836.60" y1="767.90" x2="836.60" y2="782.50" stroke="#000" stroke-width="2.4" stroke-linecap="butt"/>
<line x1="946.30" y1="767.90" x2="946.30" y2="782.50" stroke="#000" stroke-width="2.4" stroke-linecap="butt"/>
<text x="891.0" y="770.5" font-size="16.2" text-anchor="middle" fill="#000" transform="translate(891.0 770.5) scale(1 1.04) translate(-891.0 -770.5)"><tspan font-style="italic">P</tspan> = 0.008</text>
<line x1="1156.30" y1="775.20" x2="1266.30" y2="775.20" stroke="#000" stroke-width="2.4" stroke-linecap="butt"/>
<line x1="1156.30" y1="767.90" x2="1156.30" y2="782.50" stroke="#000" stroke-width="2.4" stroke-linecap="butt"/>
<line x1="1266.30" y1="767.90" x2="1266.30" y2="782.50" stroke="#000" stroke-width="2.4" stroke-linecap="butt"/>
<text x="1210.8" y="770.5" font-size="16.2" text-anchor="middle" fill="#000" transform="translate(1210.8 770.5) scale(1 1.04) translate(-1210.8 -770.5)"><tspan font-style="italic">P</tspan> &lt; 0.001</text>
<text x="1376.6" y="827.7" font-size="39" fill="#000" transform="translate(1376.6 827.7) scale(1 1.04) translate(-1376.6 -827.7)" stroke="#000" stroke-width="0.9">PB</text>
<text x="1379.8" y="1114.6" font-size="39" fill="#000" transform="translate(1379.8 1114.6) scale(1 1.04) translate(-1379.8 -1114.6)" stroke="#000" stroke-width="0.9">BM</text>
<line x1="95.70" y1="1514.20" x2="391.00" y2="1514.20" stroke="#000" stroke-width="2" stroke-linecap="butt"/>
<line x1="184.10" y1="1514.20" x2="184.10" y2="1520.70" stroke="#000" stroke-width="2" stroke-linecap="butt"/>
<line x1="308.20" y1="1514.20" x2="308.20" y2="1520.70" stroke="#000" stroke-width="2" stroke-linecap="butt"/>
<text x="184.1" y="1542.1" font-size="21.8" font-weight="bold" text-anchor="middle" fill="#000" transform="translate(184.1 1542.1) scale(1 1.04) translate(-184.1 -1542.1)">PB</text>
<text x="308.2" y="1542.1" font-size="21.8" font-weight="bold" text-anchor="middle" fill="#000" transform="translate(308.2 1542.1) scale(1 1.04) translate(-308.2 -1542.1)">BM</text>
<line x1="439.90" y1="1514.90" x2="738.30" y2="1514.90" stroke="#000" stroke-width="2" stroke-linecap="butt"/>
<line x1="529.30" y1="1514.90" x2="529.30" y2="1521.40" stroke="#000" stroke-width="2" stroke-linecap="butt"/>
<line x1="653.90" y1="1514.90" x2="653.90" y2="1521.40" stroke="#000" stroke-width="2" stroke-linecap="butt"/>
<text x="529.3" y="1542.8" font-size="21.8" font-weight="bold" text-anchor="middle" fill="#000" transform="translate(529.3 1542.8) scale(1 1.04) translate(-529.3 -1542.8)">PB</text>
<text x="653.9" y="1542.8" font-size="21.8" font-weight="bold" text-anchor="middle" fill="#000" transform="translate(653.9 1542.8) scale(1 1.04) translate(-653.9 -1542.8)">BM</text>
<line x1="792.00" y1="1514.90" x2="1089.30" y2="1514.90" stroke="#000" stroke-width="2" stroke-linecap="butt"/>
<line x1="880.50" y1="1514.90" x2="880.50" y2="1521.40" stroke="#000" stroke-width="2" stroke-linecap="butt"/>
<line x1="1005.40" y1="1514.90" x2="1005.40" y2="1521.40" stroke="#000" stroke-width="2" stroke-linecap="butt"/>
<text x="880.5" y="1542.8" font-size="21.8" font-weight="bold" text-anchor="middle" fill="#000" transform="translate(880.5 1542.8) scale(1 1.04) translate(-880.5 -1542.8)">PB</text>
<text x="1005.4" y="1542.8" font-size="21.8" font-weight="bold" text-anchor="middle" fill="#000" transform="translate(1005.4 1542.8) scale(1 1.04) translate(-1005.4 -1542.8)">BM</text>
<line x1="1138.30" y1="1515.00" x2="1437.30" y2="1515.00" stroke="#000" stroke-width="2" stroke-linecap="butt"/>
<line x1="1227.60" y1="1515.00" x2="1227.60" y2="1521.50" stroke="#000" stroke-width="2" stroke-linecap="butt"/>
<line x1="1352.80" y1="1515.00" x2="1352.80" y2="1521.50" stroke="#000" stroke-width="2" stroke-linecap="butt"/>
<text x="1227.6" y="1542.9" font-size="21.8" font-weight="bold" text-anchor="middle" fill="#000" transform="translate(1227.6 1542.9) scale(1 1.04) translate(-1227.6 -1542.9)">PB</text>
<text x="1352.8" y="1542.9" font-size="21.8" font-weight="bold" text-anchor="middle" fill="#000" transform="translate(1352.8 1542.9) scale(1 1.04) translate(-1352.8 -1542.9)">BM</text>
<line x1="101.70" y1="1321.60" x2="101.70" y2="1515.20" stroke="#000" stroke-width="2" stroke-linecap="butt"/>
<line x1="95.20" y1="1514.20" x2="101.70" y2="1514.20" stroke="#000" stroke-width="2" stroke-linecap="butt"/>
<text x="93.4" y="1519.6" font-size="15" font-weight="bold" text-anchor="end" fill="#000" transform="translate(93.4 1519.6) scale(1 1.04) translate(-93.4 -1519.6)">0</text>
<line x1="95.20" y1="1450.00" x2="101.70" y2="1450.00" stroke="#000" stroke-width="2" stroke-linecap="butt"/>
<text x="93.4" y="1455.4" font-size="15" font-weight="bold" text-anchor="end" fill="#000" transform="translate(93.4 1455.4) scale(1 1.04) translate(-93.4 -1455.4)">10</text>
<line x1="95.20" y1="1385.80" x2="101.70" y2="1385.80" stroke="#000" stroke-width="2" stroke-linecap="butt"/>
<text x="93.4" y="1391.2" font-size="15" font-weight="bold" text-anchor="end" fill="#000" transform="translate(93.4 1391.2) scale(1 1.04) translate(-93.4 -1391.2)">20</text>
<line x1="95.20" y1="1321.60" x2="101.70" y2="1321.60" stroke="#000" stroke-width="2" stroke-linecap="butt"/>
<text x="93.4" y="1327.0" font-size="15" font-weight="bold" text-anchor="end" fill="#000" transform="translate(93.4 1327.0) scale(1 1.04) translate(-93.4 -1327.0)">30</text>
<text x="65.7" y="1417.7" font-size="18.3" font-weight="bold" text-anchor="middle" fill="#000" transform="rotate(-90 65.7 1417.7) translate(65.7 1417.7) scale(1 1.04) translate(-65.7 -1417.7)">VISTA+Treg(%)</text>
<line x1="445.90" y1="1370.00" x2="445.90" y2="1515.90" stroke="#000" stroke-width="2" stroke-linecap="butt"/>
<line x1="439.40" y1="1514.90" x2="445.90" y2="1514.90" stroke="#000" stroke-width="2" stroke-linecap="butt"/>
<text x="437.4" y="1520.3" font-size="15" font-weight="bold" text-anchor="end" fill="#000" transform="translate(437.4 1520.3) scale(1 1.04) translate(-437.4 -1520.3)">0</text>
<line x1="439.40" y1="1443.20" x2="445.90" y2="1443.20" stroke="#000" stroke-width="2" stroke-linecap="butt"/>
<text x="437.4" y="1448.6" font-size="15" font-weight="bold" text-anchor="end" fill="#000" transform="translate(437.4 1448.6) scale(1 1.04) translate(-437.4 -1448.6)">2</text>
<line x1="439.40" y1="1371.20" x2="445.90" y2="1371.20" stroke="#000" stroke-width="2" stroke-linecap="butt"/>
<text x="437.4" y="1376.6" font-size="15" font-weight="bold" text-anchor="end" fill="#000" transform="translate(437.4 1376.6) scale(1 1.04) translate(-437.4 -1376.6)">4</text>
<line x1="445.90" y1="1321.00" x2="445.90" y2="1356.00" stroke="#000" stroke-width="2" stroke-linecap="butt"/>
<line x1="439.40" y1="1351.00" x2="445.90" y2="1351.00" stroke="#000" stroke-width="2" stroke-linecap="butt"/>
<text x="437.4" y="1356.4" font-size="15" font-weight="bold" text-anchor="end" fill="#000" transform="translate(437.4 1356.4) scale(1 1.04) translate(-437.4 -1356.4)">5</text>
<line x1="439.40" y1="1321.00" x2="445.90" y2="1321.00" stroke="#000" stroke-width="2" stroke-linecap="butt"/>
<text x="437.4" y="1326.4" font-size="15" font-weight="bold" text-anchor="end" fill="#000" transform="translate(437.4 1326.4) scale(1 1.04) translate(-437.4 -1326.4)">10</text>
<line x1="440.90" y1="1356.70" x2="450.90" y2="1356.70" stroke="#000" stroke-width="2" stroke-linecap="butt"/>
<line x1="440.90" y1="1371.20" x2="450.90" y2="1371.20" stroke="#000" stroke-width="2" stroke-linecap="butt"/>
<text x="411.3" y="1416.8" font-size="19.0" font-weight="bold" text-anchor="middle" fill="#000" transform="rotate(-90 411.3 1416.8) translate(411.3 1416.8) scale(1 1.04) translate(-411.3 -1416.8)">VISTA+PD-1+Treg(%)</text>
<line x1="798.00" y1="1407.60" x2="798.00" y2="1515.90" stroke="#000" stroke-width="2" stroke-linecap="butt"/>
<line x1="791.50" y1="1514.90" x2="798.00" y2="1514.90" stroke="#000" stroke-width="2" stroke-linecap="butt"/>
<text x="789.5" y="1520.3" font-size="15" font-weight="bold" text-anchor="end" fill="#000" transform="translate(789.5 1520.3) scale(1 1.04) translate(-789.5 -1520.3)">0.0</text>
<line x1="791.50" y1="1460.70" x2="798.00" y2="1460.70" stroke="#000" stroke-width="2" stroke-linecap="butt"/>
<text x="789.5" y="1466.1" font-size="15" font-weight="bold" text-anchor="end" fill="#000" transform="translate(789.5 1466.1) scale(1 1.04) translate(-789.5 -1466.1)">0.5</text>
<line x1="791.50" y1="1407.60" x2="798.00" y2="1407.60" stroke="#000" stroke-width="2" stroke-linecap="butt"/>
<text x="789.5" y="1413.0" font-size="15" font-weight="bold" text-anchor="end" fill="#000" transform="translate(789.5 1413.0) scale(1 1.04) translate(-789.5 -1413.0)">1.0</text>
<line x1="798.00" y1="1321.00" x2="798.00" y2="1392.60" stroke="#000" stroke-width="2" stroke-linecap="butt"/>
<line x1="791.50" y1="1362.00" x2="798.00" y2="1362.00" stroke="#000" stroke-width="2" stroke-linecap="butt"/>
<text x="789.5" y="1367.4" font-size="15" font-weight="bold" text-anchor="end" fill="#000" transform="translate(789.5 1367.4) scale(1 1.04) translate(-789.5 -1367.4)">4</text>
<line x1="791.50" y1="1321.00" x2="798.00" y2="1321.00" stroke="#000" stroke-width="2" stroke-linecap="butt"/>
<text x="789.5" y="1326.4" font-size="15" font-weight="bold" text-anchor="end" fill="#000" transform="translate(789.5 1326.4) scale(1 1.04) translate(-789.5 -1326.4)">8</text>
<line x1="793.00" y1="1392.60" x2="803.00" y2="1392.60" stroke="#000" stroke-width="2" stroke-linecap="butt"/>
<line x1="793.00" y1="1407.60" x2="803.00" y2="1407.60" stroke="#000" stroke-width="2" stroke-linecap="butt"/>
<text x="757.6" y="1417.9" font-size="19.0" font-weight="bold" text-anchor="middle" fill="#000" transform="rotate(-90 757.6 1417.9) translate(757.6 1417.9) scale(1 1.04) translate(-757.6 -1417.9)">VISTA+Tim-3+Treg(%)</text>
<line x1="1144.30" y1="1320.80" x2="1144.30" y2="1516.00" stroke="#000" stroke-width="2" stroke-linecap="butt"/>
<line x1="1137.80" y1="1515.00" x2="1144.30" y2="1515.00" stroke="#000" stroke-width="2" stroke-linecap="butt"/>
<text x="1136.0" y="1520.4" font-size="15" font-weight="bold" text-anchor="end" fill="#000" transform="translate(1136.0 1520.4) scale(1 1.04) translate(-1136.0 -1520.4)">0</text>
<line x1="1137.80" y1="1466.45" x2="1144.30" y2="1466.45" stroke="#000" stroke-width="2" stroke-linecap="butt"/>
<text x="1136.0" y="1471.9" font-size="15" font-weight="bold" text-anchor="end" fill="#000" transform="translate(1136.0 1471.9) scale(1 1.04) translate(-1136.0 -1471.9)">5</text>
<line x1="1137.80" y1="1417.90" x2="1144.30" y2="1417.90" stroke="#000" stroke-width="2" stroke-linecap="butt"/>
<text x="1136.0" y="1423.3" font-size="15" font-weight="bold" text-anchor="end" fill="#000" transform="translate(1136.0 1423.3) scale(1 1.04) translate(-1136.0 -1423.3)">10</text>
<line x1="1137.80" y1="1369.35" x2="1144.30" y2="1369.35" stroke="#000" stroke-width="2" stroke-linecap="butt"/>
<text x="1136.0" y="1374.8" font-size="15" font-weight="bold" text-anchor="end" fill="#000" transform="translate(1136.0 1374.8) scale(1 1.04) translate(-1136.0 -1374.8)">15</text>
<line x1="1137.80" y1="1320.80" x2="1144.30" y2="1320.80" stroke="#000" stroke-width="2" stroke-linecap="butt"/>
<text x="1136.0" y="1326.2" font-size="15" font-weight="bold" text-anchor="end" fill="#000" transform="translate(1136.0 1326.2) scale(1 1.04) translate(-1136.0 -1326.2)">20</text>
<text x="1109.0" y="1417.3" font-size="19.0" font-weight="bold" text-anchor="middle" fill="#000" transform="rotate(-90 1109.0 1417.3) translate(1109.0 1417.3) scale(1 1.04) translate(-1109.0 -1417.3)">VISTA+TIGIT+Treg(%)</text>
<rect x="0" y="1547" width="12" height="18" fill="#f6f5f3"/>
<line x1="1114.00" y1="290.10" x2="1406.20" y2="290.10" stroke="#000" stroke-width="2" stroke-linecap="butt"/>
<line x1="1120.00" y1="99.10" x2="1120.00" y2="290.10" stroke="#000" stroke-width="2" stroke-linecap="butt"/>
<line x1="1114.00" y1="290.10" x2="1120.00" y2="290.10" stroke="#000" stroke-width="2" stroke-linecap="butt"/>
<text x="1112.5" y="295.4" font-size="15" font-weight="bold" text-anchor="end" fill="#000" transform="translate(1112.5 295.4) scale(1 1.04) translate(-1112.5 -295.4)">0</text>
<line x1="1114.00" y1="251.90" x2="1120.00" y2="251.90" stroke="#000" stroke-width="2" stroke-linecap="butt"/>
<text x="1112.5" y="257.2" font-size="15" font-weight="bold" text-anchor="end" fill="#000" transform="translate(1112.5 257.2) scale(1 1.04) translate(-1112.5 -257.2)">20</text>
<line x1="1114.00" y1="213.70" x2="1120.00" y2="213.70" stroke="#000" stroke-width="2" stroke-linecap="butt"/>
<text x="1112.5" y="219.0" font-size="15" font-weight="bold" text-anchor="end" fill="#000" transform="translate(1112.5 219.0) scale(1 1.04) translate(-1112.5 -219.0)">40</text>
<line x1="1114.00" y1="175.50" x2="1120.00" y2="175.50" stroke="#000" stroke-width="2" stroke-linecap="butt"/>
<text x="1112.5" y="180.8" font-size="15" font-weight="bold" text-anchor="end" fill="#000" transform="translate(1112.5 180.8) scale(1 1.04) translate(-1112.5 -180.8)">60</text>
<line x1="1114.00" y1="137.30" x2="1120.00" y2="137.30" stroke="#000" stroke-width="2" stroke-linecap="butt"/>
<text x="1112.5" y="142.6" font-size="15" font-weight="bold" text-anchor="end" fill="#000" transform="translate(1112.5 142.6) scale(1 1.04) translate(-1112.5 -142.6)">80</text>
<line x1="1114.00" y1="99.10" x2="1120.00" y2="99.10" stroke="#000" stroke-width="2" stroke-linecap="butt"/>
<text x="1112.5" y="104.4" font-size="15" font-weight="bold" text-anchor="end" fill="#000" transform="translate(1112.5 104.4) scale(1 1.04) translate(-1112.5 -104.4)">100</text>
<line x1="1120.00" y1="290.10" x2="1120.00" y2="296.10" stroke="#000" stroke-width="2" stroke-linecap="butt"/>
<text x="1120.0" y="315.1" font-size="15" font-weight="bold" text-anchor="middle" fill="#000" transform="translate(1120.0 315.1) scale(1 1.04) translate(-1120.0 -315.1)">0</text>
<line x1="1215.40" y1="290.10" x2="1215.40" y2="296.10" stroke="#000" stroke-width="2" stroke-linecap="butt"/>
<text x="1215.4" y="315.1" font-size="15" font-weight="bold" text-anchor="middle" fill="#000" transform="translate(1215.4 315.1) scale(1 1.04) translate(-1215.4 -315.1)">10</text>
<line x1="1310.80" y1="290.10" x2="1310.80" y2="296.10" stroke="#000" stroke-width="2" stroke-linecap="butt"/>
<text x="1310.8" y="315.1" font-size="15" font-weight="bold" text-anchor="middle" fill="#000" transform="translate(1310.8 315.1) scale(1 1.04) translate(-1310.8 -315.1)">20</text>
<line x1="1406.20" y1="290.10" x2="1406.20" y2="296.10" stroke="#000" stroke-width="2" stroke-linecap="butt"/>
<text x="1406.2" y="315.1" font-size="15" font-weight="bold" text-anchor="middle" fill="#000" transform="translate(1406.2 315.1) scale(1 1.04) translate(-1406.2 -315.1)">30</text>
<text x="1078.0" y="194.6" font-size="21.2" font-weight="bold" text-anchor="middle" fill="#000" transform="rotate(-90 1078.0 194.6) translate(1078.0 194.6) scale(1 1.04) translate(-1078.0 -194.6)">percentage(%)</text>
<text x="1263.1" y="343.0" font-size="20.7" font-weight="bold" text-anchor="middle" fill="#000" transform="translate(1263.1 343.0) scale(1 1.04) translate(-1263.1 -343.0)">VISTA+Treg(%)</text>
<line x1="1117.10" y1="632.00" x2="1402.30" y2="632.00" stroke="#000" stroke-width="2" stroke-linecap="butt"/>
<line x1="1123.10" y1="446.70" x2="1123.10" y2="632.00" stroke="#000" stroke-width="2" stroke-linecap="butt"/>
<line x1="1117.10" y1="632.00" x2="1123.10" y2="632.00" stroke="#000" stroke-width="2" stroke-linecap="butt"/>
<text x="1115.6" y="637.3" font-size="15" font-weight="bold" text-anchor="end" fill="#000" transform="translate(1115.6 637.3) scale(1 1.04) translate(-1115.6 -637.3)">0</text>
<line x1="1117.10" y1="594.94" x2="1123.10" y2="594.94" stroke="#000" stroke-width="2" stroke-linecap="butt"/>
<text x="1115.6" y="600.2" font-size="15" font-weight="bold" text-anchor="end" fill="#000" transform="translate(1115.6 600.2) scale(1 1.04) translate(-1115.6 -600.2)">20</text>
<line x1="1117.10" y1="557.88" x2="1123.10" y2="557.88" stroke="#000" stroke-width="2" stroke-linecap="butt"/>
<text x="1115.6" y="563.2" font-size="15" font-weight="bold" text-anchor="end" fill="#000" transform="translate(1115.6 563.2) scale(1 1.04) translate(-1115.6 -563.2)">40</text>
<line x1="1117.10" y1="520.82" x2="1123.10" y2="520.82" stroke="#000" stroke-width="2" stroke-linecap="butt"/>
<text x="1115.6" y="526.1" font-size="15" font-weight="bold" text-anchor="end" fill="#000" transform="translate(1115.6 526.1) scale(1 1.04) translate(-1115.6 -526.1)">60</text>
<line x1="1117.10" y1="483.76" x2="1123.10" y2="483.76" stroke="#000" stroke-width="2" stroke-linecap="butt"/>
<text x="1115.6" y="489.1" font-size="15" font-weight="bold" text-anchor="end" fill="#000" transform="translate(1115.6 489.1) scale(1 1.04) translate(-1115.6 -489.1)">80</text>
<line x1="1117.10" y1="446.70" x2="1123.10" y2="446.70" stroke="#000" stroke-width="2" stroke-linecap="butt"/>
<text x="1115.6" y="452.0" font-size="15" font-weight="bold" text-anchor="end" fill="#000" transform="translate(1115.6 452.0) scale(1 1.04) translate(-1115.6 -452.0)">100</text>
<line x1="1123.10" y1="632.00" x2="1123.10" y2="638.00" stroke="#000" stroke-width="2" stroke-linecap="butt"/>
<text x="1123.1" y="657.0" font-size="15" font-weight="bold" text-anchor="middle" fill="#000" transform="translate(1123.1 657.0) scale(1 1.04) translate(-1123.1 -657.0)">0</text>
<line x1="1178.94" y1="632.00" x2="1178.94" y2="638.00" stroke="#000" stroke-width="2" stroke-linecap="butt"/>
<text x="1178.9" y="657.0" font-size="15" font-weight="bold" text-anchor="middle" fill="#000" transform="translate(1178.9 657.0) scale(1 1.04) translate(-1178.9 -657.0)">5</text>
<line x1="1234.78" y1="632.00" x2="1234.78" y2="638.00" stroke="#000" stroke-width="2" stroke-linecap="butt"/>
<text x="1234.8" y="657.0" font-size="15" font-weight="bold" text-anchor="middle" fill="#000" transform="translate(1234.8 657.0) scale(1 1.04) translate(-1234.8 -657.0)">10</text>
<line x1="1290.62" y1="632.00" x2="1290.62" y2="638.00" stroke="#000" stroke-width="2" stroke-linecap="butt"/>
<text x="1290.6" y="657.0" font-size="15" font-weight="bold" text-anchor="middle" fill="#000" transform="translate(1290.6 657.0) scale(1 1.04) translate(-1290.6 -657.0)">15</text>
<line x1="1346.46" y1="632.00" x2="1346.46" y2="638.00" stroke="#000" stroke-width="2" stroke-linecap="butt"/>
<text x="1346.5" y="657.0" font-size="15" font-weight="bold" text-anchor="middle" fill="#000" transform="translate(1346.5 657.0) scale(1 1.04) translate(-1346.5 -657.0)">20</text>
<line x1="1402.30" y1="632.00" x2="1402.30" y2="638.00" stroke="#000" stroke-width="2" stroke-linecap="butt"/>
<text x="1402.3" y="657.0" font-size="15" font-weight="bold" text-anchor="middle" fill="#000" transform="translate(1402.3 657.0) scale(1 1.04) translate(-1402.3 -657.0)">25</text>
<text x="1081.0" y="539.4" font-size="21.2" font-weight="bold" text-anchor="middle" fill="#000" transform="rotate(-90 1081.0 539.4) translate(1081.0 539.4) scale(1 1.04) translate(-1081.0 -539.4)">percentage(%)</text>
<text x="1262.7" y="683.0" font-size="20.7" font-weight="bold" text-anchor="middle" fill="#000" transform="translate(1262.7 683.0) scale(1 1.04) translate(-1262.7 -683.0)">VISTA+Treg(%)</text>
<text x="1424.0" y="194.7" font-size="39" fill="#000" transform="translate(1424.0 194.7) scale(1 1.04) translate(-1424.0 -194.7)" stroke="#000" stroke-width="0.9">PB</text>
<text x="1421.2" y="523.2" font-size="39" fill="#000" transform="translate(1421.2 523.2) scale(1 1.04) translate(-1421.2 -523.2)" stroke="#000" stroke-width="0.9">BM</text>
<g clip-path="url(#fc0)"><path d="M197.0 316.2 185.4 316.2 184.6 315.9 182.6 315.8 179.0 314.6 176.6 313.2 175.8 312.4 174.8 310.4 174.8 308.4 175.6 305.2 177.0 302.5 179.0 300.5 180.6 299.4 185.0 297.8 188.2 297.4 189.0 297.0 196.2 297.0 199.0 297.8 202.5 299.6 204.9 301.6 206.4 303.6 208.0 307.2 208.0 309.2 207.3 310.8 204.1 313.6 202.2 314.6 197.0 316.2Z" fill="#0000ff"/><path d="M196.2 316.0 185.4 316.0 184.6 315.7 182.6 315.6 179.0 314.4 177.0 313.2 175.8 312.0 175.0 310.4 175.0 308.8 175.8 305.2 177.0 302.8 179.0 300.7 180.6 299.6 185.0 298.0 189.0 297.3 196.2 297.3 199.0 298.0 202.2 299.6 204.7 301.6 206.2 303.6 207.4 306.0 207.8 308.4 207.3 310.4 205.4 312.5 203.0 314.0 198.6 315.6 196.2 316.0Z" fill="#0016ff"/><path d="M197.0 315.7 185.4 315.8 181.0 315.0 178.2 313.8 176.2 312.3 175.2 310.0 175.6 306.4 177.2 302.8 179.2 300.8 180.6 299.9 185.0 298.3 189.4 297.4 196.2 297.5 199.0 298.3 202.2 299.9 204.3 301.6 205.9 303.6 207.5 307.2 207.5 309.2 206.8 310.8 203.8 313.3 202.2 314.1 197.0 315.7Z" fill="#001dff"/><path d="M196.2 315.6 186.2 315.7 183.0 315.3 179.0 314.0 177.0 312.8 176.2 312.0 175.4 310.4 175.3 308.8 176.2 305.2 177.5 302.8 180.6 300.2 185.0 298.6 189.4 297.7 195.8 297.7 199.0 298.6 202.2 300.2 204.4 302.0 205.6 303.6 206.8 306.0 207.3 308.4 206.8 310.4 205.0 312.2 202.7 313.6 198.6 315.1 196.2 315.6Z" fill="#003dff"/><path d="M197.0 315.2 185.8 315.4 181.0 314.5 178.2 313.3 176.5 312.0 175.6 310.0 176.1 306.4 177.4 303.5 179.0 301.7 181.0 300.4 185.4 298.8 189.4 298.1 195.8 298.1 198.6 298.8 201.8 300.4 204.2 302.4 205.8 304.7 206.9 307.6 206.6 309.8 205.4 311.4 203.5 312.8 200.9 314.0 197.0 315.2Z" fill="#0063ff"/><path d="M192.2 315.2 186.2 315.2 183.0 314.7 179.6 313.6 177.4 312.2 176.3 310.8 175.9 308.8 176.6 306.0 178.3 303.2 180.2 301.6 183.0 300.3 186.6 299.2 190.6 298.7 195.0 298.7 197.4 299.2 200.4 300.4 202.7 302.0 204.6 304.1 206.0 306.8 206.1 308.8 205.4 310.4 202.9 312.4 199.4 313.9 196.2 314.8 192.2 315.2Z" fill="#0089ff"/><path d="M190.6 314.8 186.6 314.8 182.6 314.1 179.4 312.9 177.6 311.6 176.6 310.0 176.6 308.0 177.4 305.6 179.0 303.3 181.4 301.6 185.0 300.3 189.8 299.4 193.4 299.4 196.2 299.6 199.0 300.5 201.4 301.9 203.4 303.7 204.9 306.0 205.4 308.0 205.0 309.6 204.0 310.8 201.5 312.4 197.4 314.0 195.0 314.5 190.6 314.8Z" fill="#00b9ff"/><path d="M190.2 314.4 186.6 314.4 183.0 313.8 180.2 312.7 178.2 311.4 177.3 310.0 177.2 308.0 178.0 305.6 179.4 303.8 181.8 302.1 185.4 300.9 190.2 300.1 193.8 300.1 196.6 300.5 199.4 301.5 201.4 302.8 203.3 304.8 204.4 306.8 204.6 308.4 204.1 309.6 202.8 310.8 200.6 312.1 196.6 313.6 190.2 314.4Z" fill="#00eaff"/><path d="M190.2 314.0 186.6 314.0 183.4 313.4 180.6 312.4 178.7 311.2 177.9 310.0 177.7 308.4 178.2 306.4 179.6 304.4 181.8 302.8 185.4 301.5 190.2 300.8 193.8 300.8 196.6 301.2 199.4 302.4 201.4 303.8 203.0 305.6 203.7 307.2 203.8 308.4 203.1 309.6 201.6 310.8 196.2 313.2 190.2 314.0Z" fill="#00f3bb"/><path d="M190.2 313.6 187.0 313.6 183.8 313.1 181.4 312.3 179.5 311.2 178.5 310.0 178.2 308.8 178.7 306.8 179.6 305.2 181.4 303.6 184.2 302.4 187.8 301.6 192.2 301.4 195.4 301.7 198.2 302.6 200.5 304.0 202.4 306.0 202.9 307.2 202.9 308.4 202.2 309.4 200.9 310.4 195.8 312.8 190.2 313.6Z" fill="#00fa75"/><path d="M190.6 313.2 187.4 313.3 185.0 313.0 182.6 312.3 180.4 311.2 179.4 310.3 178.8 309.2 178.9 307.6 179.6 306.0 181.4 304.2 183.8 303.1 187.0 302.3 191.0 301.9 194.6 302.2 197.4 303.0 199.8 304.3 201.5 306.0 202.0 307.2 202.1 308.0 201.7 308.8 200.3 310.0 195.8 312.3 190.6 313.2Z" fill="#00f03e"/><path d="M191.0 312.8 185.8 312.7 183.4 312.2 181.2 311.2 180.2 310.4 179.4 309.2 179.4 308.0 180.0 306.4 181.4 304.8 183.8 303.6 187.0 302.8 191.0 302.5 194.2 302.7 197.0 303.5 199.3 304.8 200.8 306.4 201.2 307.6 200.9 308.4 198.5 310.4 195.2 312.0 191.0 312.8Z" fill="#00e707"/><path d="M191.4 312.4 186.6 312.5 182.2 311.2 180.9 310.4 180.0 309.2 179.9 308.0 180.3 306.8 181.7 305.2 183.8 304.0 186.6 303.3 190.2 303.0 193.8 303.2 196.2 303.8 198.2 304.8 199.9 306.4 200.2 307.2 200.1 308.0 198.1 310.0 195.0 311.6 191.4 312.4Z" fill="#2ce900"/><path d="M191.8 312.0 187.0 312.2 183.0 311.2 180.8 309.6 180.4 308.4 180.7 307.2 181.8 305.7 183.4 304.7 185.8 303.9 188.6 303.5 191.4 303.4 194.6 303.9 197.0 304.8 198.6 306.0 199.2 306.8 199.3 307.6 198.1 309.2 195.4 311.0 191.8 312.0Z" fill="#5fec00"/><path d="M191.8 311.7 187.4 311.9 183.8 311.1 182.2 310.2 181.2 309.2 181.0 308.4 181.2 307.2 182.2 305.9 183.8 304.9 186.2 304.2 188.6 303.9 191.4 303.9 194.2 304.3 196.2 305.0 197.7 306.0 198.2 306.8 198.3 307.6 197.1 309.2 195.0 310.6 191.8 311.7Z" fill="#92ef00"/><path d="M189.4 311.6 186.2 311.4 183.0 310.2 181.7 308.8 181.6 308.0 182.0 306.8 183.0 305.8 184.6 305.0 189.4 304.2 194.2 304.8 196.1 305.6 197.1 306.4 197.4 307.2 197.2 308.0 195.4 309.9 192.6 311.1 189.4 311.6Z" fill="#c4f000"/><path d="M190.2 311.2 187.0 311.2 183.8 310.2 182.3 308.8 182.4 307.2 183.0 306.4 184.6 305.5 188.6 304.6 193.0 305.0 194.9 305.6 196.1 306.4 196.5 307.6 195.4 309.2 193.3 310.4 190.2 311.2Z" fill="#f5f000"/><path d="M190.2 310.8 187.0 310.8 184.4 310.0 183.0 308.8 182.7 308.0 183.0 307.2 183.8 306.4 185.4 305.6 189.0 305.0 193.0 305.4 194.5 306.0 195.4 306.8 195.5 308.0 194.4 309.2 192.6 310.2 190.2 310.8Z" fill="#ffc800"/><path d="M190.2 310.5 187.8 310.6 185.4 310.0 183.7 308.8 183.5 307.6 184.0 306.8 185.0 306.2 188.2 305.4 191.9 305.6 193.4 306.1 194.4 306.8 194.7 307.6 193.9 308.8 192.2 309.9 190.2 310.5Z" fill="#ff9700"/><path d="M190.2 310.0 187.8 310.2 185.8 309.6 184.5 308.8 184.2 307.6 185.6 306.4 188.2 305.8 191.4 306.0 193.3 306.8 193.7 307.6 193.0 308.8 191.7 309.6 190.2 310.0Z" fill="#ff6300"/><path d="M189.8 309.6 187.8 309.7 186.2 309.2 185.2 308.4 185.1 307.6 186.2 306.7 188.2 306.2 190.6 306.3 192.0 306.8 192.6 307.6 192.3 308.4 191.2 309.2 189.8 309.6Z" fill="#ff2c00"/><path d="M190.2 308.9 188.6 309.2 187.4 309.0 186.4 308.4 186.3 307.6 187.8 306.8 190.2 306.8 191.3 307.6 191.0 308.4 190.2 308.9Z" fill="#ff0000"/></g>
<rect x="157.20" y="216.40" width="135.80" height="135.80" fill="none" stroke="#7a7a7a" stroke-width="1.1"/>
<line x1="206.40" y1="216.40" x2="206.40" y2="352.20" stroke="#111" stroke-width="1.3" stroke-linecap="butt"/>
<line x1="157.20" y1="280.20" x2="293.00" y2="280.20" stroke="#111" stroke-width="1.3" stroke-linecap="butt"/>
<text x="160.0" y="232.8" font-size="9.6" fill="#111" transform="translate(160.0 232.8) scale(1 1.04) translate(-160.0 -232.8)" stroke="#111" stroke-width="0.3">0</text>
<text x="160.0" y="342.9" font-size="9.6" fill="#111" transform="translate(160.0 342.9) scale(1 1.04) translate(-160.0 -342.9)" stroke="#111" stroke-width="0.3">99.5</text>
<text x="282.2" y="232.8" font-size="9.6" fill="#111" transform="translate(282.2 232.8) scale(1 1.04) translate(-282.2 -232.8)" stroke="#111" stroke-width="0.3">0</text>
<text x="280.8" y="342.9" font-size="9.6" text-anchor="end" fill="#111" transform="translate(280.8 342.9) scale(1 1.04) translate(-280.8 -342.9)" stroke="#111" stroke-width="0.3">0.51</text>
<line x1="153.40" y1="217.50" x2="157.20" y2="217.50" stroke="#222" stroke-width="1.0" stroke-linecap="butt"/>
<line x1="155.50" y1="224.24" x2="157.20" y2="224.24" stroke="#222" stroke-width="0.8" stroke-linecap="butt"/>
<line x1="155.50" y1="230.99" x2="157.20" y2="230.99" stroke="#222" stroke-width="0.8" stroke-linecap="butt"/>
<line x1="155.50" y1="237.73" x2="157.20" y2="237.73" stroke="#222" stroke-width="0.8" stroke-linecap="butt"/>
<line x1="155.50" y1="244.48" x2="157.20" y2="244.48" stroke="#222" stroke-width="0.8" stroke-linecap="butt"/>
<line x1="153.40" y1="251.22" x2="157.20" y2="251.22" stroke="#222" stroke-width="1.0" stroke-linecap="butt"/>
<line x1="155.50" y1="257.96" x2="157.20" y2="257.96" stroke="#222" stroke-width="0.8" stroke-linecap="butt"/>
<line x1="155.50" y1="264.71" x2="157.20" y2="264.71" stroke="#222" stroke-width="0.8" stroke-linecap="butt"/>
<line x1="155.50" y1="271.45" x2="157.20" y2="271.45" stroke="#222" stroke-width="0.8" stroke-linecap="butt"/>
<line x1="155.50" y1="278.19" x2="157.20" y2="278.19" stroke="#222" stroke-width="0.8" stroke-linecap="butt"/>
<line x1="153.40" y1="284.94" x2="157.20" y2="284.94" stroke="#222" stroke-width="1.0" stroke-linecap="butt"/>
<line x1="155.50" y1="291.68" x2="157.20" y2="291.68" stroke="#222" stroke-width="0.8" stroke-linecap="butt"/>
<line x1="155.50" y1="298.43" x2="157.20" y2="298.43" stroke="#222" stroke-width="0.8" stroke-linecap="butt"/>
<line x1="155.50" y1="305.17" x2="157.20" y2="305.17" stroke="#222" stroke-width="0.8" stroke-linecap="butt"/>
<line x1="155.50" y1="311.91" x2="157.20" y2="311.91" stroke="#222" stroke-width="0.8" stroke-linecap="butt"/>
<line x1="153.40" y1="318.66" x2="157.20" y2="318.66" stroke="#222" stroke-width="1.0" stroke-linecap="butt"/>
<line x1="155.50" y1="325.40" x2="157.20" y2="325.40" stroke="#222" stroke-width="0.8" stroke-linecap="butt"/>
<line x1="155.50" y1="332.15" x2="157.20" y2="332.15" stroke="#222" stroke-width="0.8" stroke-linecap="butt"/>
<line x1="155.50" y1="338.89" x2="157.20" y2="338.89" stroke="#222" stroke-width="0.8" stroke-linecap="butt"/>
<line x1="155.50" y1="345.63" x2="157.20" y2="345.63" stroke="#222" stroke-width="0.8" stroke-linecap="butt"/>
<text x="150.9" y="219.5" font-size="5.2" text-anchor="end" fill="#333" transform="translate(150.9 219.5) scale(1 1.04) translate(-150.9 -219.5)">150K</text>
<text x="150.9" y="253.2" font-size="5.2" text-anchor="end" fill="#333" transform="translate(150.9 253.2) scale(1 1.04) translate(-150.9 -253.2)">100K</text>
<text x="150.9" y="286.9" font-size="5.2" text-anchor="end" fill="#333" transform="translate(150.9 286.9) scale(1 1.04) translate(-150.9 -286.9)">50K</text>
<text x="150.9" y="320.7" font-size="5.2" text-anchor="end" fill="#333" transform="translate(150.9 320.7) scale(1 1.04) translate(-150.9 -320.7)">0</text>
<line x1="162.36" y1="352.20" x2="162.36" y2="356.00" stroke="#222" stroke-width="1.0" stroke-linecap="butt"/>
<text x="163.9" y="363.7" font-size="5.6" text-anchor="middle" fill="#333">-10<tspan font-size="4.5" dy="-2">3</tspan></text>
<line x1="196.72" y1="352.20" x2="196.72" y2="356.00" stroke="#222" stroke-width="1.0" stroke-linecap="butt"/>
<text x="196.7" y="363.7" font-size="5.6" text-anchor="middle" fill="#333" transform="translate(196.7 363.7) scale(1 1.04) translate(-196.7 -363.7)">0</text>
<line x1="233.52" y1="352.20" x2="233.52" y2="356.00" stroke="#222" stroke-width="1.0" stroke-linecap="butt"/>
<text x="235.0" y="363.7" font-size="5.6" text-anchor="middle" fill="#333">10<tspan font-size="4.5" dy="-2">3</tspan></text>
<line x1="259.32" y1="352.20" x2="259.32" y2="356.00" stroke="#222" stroke-width="1.0" stroke-linecap="butt"/>
<text x="260.8" y="363.7" font-size="5.6" text-anchor="middle" fill="#333">10<tspan font-size="4.5" dy="-2">4</tspan></text>
<line x1="285.26" y1="352.20" x2="285.26" y2="356.00" stroke="#222" stroke-width="1.0" stroke-linecap="butt"/>
<text x="286.8" y="363.7" font-size="5.6" text-anchor="middle" fill="#333">10<tspan font-size="4.5" dy="-2">5</tspan></text>
<line x1="241.29" y1="352.20" x2="241.29" y2="354.00" stroke="#222" stroke-width="0.8" stroke-linecap="butt"/>
<line x1="245.83" y1="352.20" x2="245.83" y2="354.00" stroke="#222" stroke-width="0.8" stroke-linecap="butt"/>
<line x1="249.05" y1="352.20" x2="249.05" y2="354.00" stroke="#222" stroke-width="0.8" stroke-linecap="butt"/>
<line x1="251.55" y1="352.20" x2="251.55" y2="354.00" stroke="#222" stroke-width="0.8" stroke-linecap="butt"/>
<line x1="253.60" y1="352.20" x2="253.60" y2="354.00" stroke="#222" stroke-width="0.8" stroke-linecap="butt"/>
<line x1="255.32" y1="352.20" x2="255.32" y2="354.00" stroke="#222" stroke-width="0.8" stroke-linecap="butt"/>
<line x1="256.82" y1="352.20" x2="256.82" y2="354.00" stroke="#222" stroke-width="0.8" stroke-linecap="butt"/>
<line x1="258.14" y1="352.20" x2="258.14" y2="354.00" stroke="#222" stroke-width="0.8" stroke-linecap="butt"/>
<line x1="267.13" y1="352.20" x2="267.13" y2="354.00" stroke="#222" stroke-width="0.8" stroke-linecap="butt"/>
<line x1="271.70" y1="352.20" x2="271.70" y2="354.00" stroke="#222" stroke-width="0.8" stroke-linecap="butt"/>
<line x1="274.94" y1="352.20" x2="274.94" y2="354.00" stroke="#222" stroke-width="0.8" stroke-linecap="butt"/>
<line x1="277.45" y1="352.20" x2="277.45" y2="354.00" stroke="#222" stroke-width="0.8" stroke-linecap="butt"/>
<line x1="279.51" y1="352.20" x2="279.51" y2="354.00" stroke="#222" stroke-width="0.8" stroke-linecap="butt"/>
<line x1="281.24" y1="352.20" x2="281.24" y2="354.00" stroke="#222" stroke-width="0.8" stroke-linecap="butt"/>
<line x1="282.75" y1="352.20" x2="282.75" y2="354.00" stroke="#222" stroke-width="0.8" stroke-linecap="butt"/>
<line x1="284.07" y1="352.20" x2="284.07" y2="354.00" stroke="#222" stroke-width="0.8" stroke-linecap="butt"/>
<line x1="162.36" y1="352.20" x2="162.36" y2="354.40" stroke="#222" stroke-width="0.9" stroke-linecap="butt"/>
<line x1="169.23" y1="352.20" x2="169.23" y2="354.40" stroke="#222" stroke-width="0.9" stroke-linecap="butt"/>
<line x1="176.10" y1="352.20" x2="176.10" y2="354.40" stroke="#222" stroke-width="0.9" stroke-linecap="butt"/>
<line x1="182.97" y1="352.20" x2="182.97" y2="354.40" stroke="#222" stroke-width="0.9" stroke-linecap="butt"/>
<line x1="189.85" y1="352.20" x2="189.85" y2="354.40" stroke="#222" stroke-width="0.9" stroke-linecap="butt"/>
<line x1="196.72" y1="352.20" x2="196.72" y2="354.40" stroke="#222" stroke-width="0.9" stroke-linecap="butt"/>
<line x1="203.59" y1="352.20" x2="203.59" y2="354.40" stroke="#222" stroke-width="0.9" stroke-linecap="butt"/>
<line x1="210.46" y1="352.20" x2="210.46" y2="354.40" stroke="#222" stroke-width="0.9" stroke-linecap="butt"/>
<line x1="217.33" y1="352.20" x2="217.33" y2="354.40" stroke="#222" stroke-width="0.9" stroke-linecap="butt"/>
<line x1="224.20" y1="352.20" x2="224.20" y2="354.40" stroke="#222" stroke-width="0.9" stroke-linecap="butt"/>
<line x1="231.08" y1="352.20" x2="231.08" y2="354.40" stroke="#222" stroke-width="0.9" stroke-linecap="butt"/>
<line x1="192.92" y1="352.20" x2="192.92" y2="355.40" stroke="#111" stroke-width="1.0" stroke-linecap="butt"/>
<line x1="194.82" y1="352.20" x2="194.82" y2="355.40" stroke="#111" stroke-width="1.0" stroke-linecap="butt"/>
<line x1="196.72" y1="352.20" x2="196.72" y2="355.40" stroke="#111" stroke-width="1.0" stroke-linecap="butt"/>
<line x1="198.62" y1="352.20" x2="198.62" y2="355.40" stroke="#111" stroke-width="1.0" stroke-linecap="butt"/>
<line x1="200.52" y1="352.20" x2="200.52" y2="355.40" stroke="#111" stroke-width="1.0" stroke-linecap="butt"/>
<rect x="192.5" y="352.2" width="8.4" height="1.6" fill="#111"/>
<g clip-path="url(#fc1)"><path d="M397.7 334.2 395.3 334.2 394.5 333.8 392.5 333.8 390.9 333.4 385.8 330.8 383.9 328.4 382.7 324.0 382.7 316.4 383.9 311.2 385.7 307.7 388.5 304.2 390.5 302.6 393.3 301.5 396.5 301.5 398.1 302.2 399.3 302.9 402.4 306.0 405.1 310.8 406.2 314.4 406.3 316.0 406.6 316.8 406.7 321.6 406.3 322.4 406.2 324.8 404.7 329.2 402.4 332.0 399.3 333.8 397.7 334.2Z" fill="#0000ff"/><path d="M398.1 333.7 397.7 333.9 395.7 334.0 394.5 333.6 392.5 333.6 389.7 332.8 387.3 331.5 385.3 330.0 384.2 328.4 383.0 324.0 383.0 316.4 384.2 311.2 385.8 308.0 388.6 304.4 390.5 302.9 393.3 301.7 396.5 301.7 397.3 302.1 399.3 303.2 402.1 306.0 404.8 310.8 406.0 314.4 406.1 316.0 406.4 316.8 406.4 321.6 406.1 322.4 406.0 324.8 404.8 328.4 402.5 331.6 399.3 333.5 398.1 333.7Z" fill="#0016ff"/><path d="M397.7 333.7 395.3 333.7 390.9 332.9 386.1 330.5 384.5 328.4 383.2 323.6 383.2 316.8 384.4 311.2 386.1 308.0 388.9 304.4 390.5 303.2 393.7 301.9 396.5 302.0 398.9 303.2 402.1 306.4 404.5 310.8 405.7 314.4 406.2 317.2 406.2 321.2 405.8 322.4 405.7 324.8 404.1 329.2 402.1 331.6 399.3 333.3 397.7 333.7Z" fill="#001dff"/><path d="M397.7 333.4 395.7 333.5 392.5 333.0 389.7 332.2 387.3 331.0 385.7 329.7 384.8 328.4 383.5 323.6 383.5 316.8 384.9 310.9 386.4 308.0 389.1 304.8 390.5 303.5 393.7 302.3 396.1 302.3 398.1 303.1 398.9 303.6 401.8 306.4 404.2 310.8 405.4 314.4 405.9 317.2 405.9 321.2 405.5 324.4 404.1 328.6 402.1 331.3 399.6 332.8 397.7 333.4Z" fill="#003dff"/><path d="M397.7 332.9 396.1 333.1 392.9 332.8 390.1 332.0 387.7 330.7 386.4 329.6 385.3 328.0 383.9 323.2 384.0 316.8 384.7 313.2 385.8 310.4 387.2 308.0 389.7 305.1 391.7 303.7 394.1 302.9 396.1 303.0 397.7 303.7 399.3 304.8 401.3 307.0 403.8 311.6 404.7 314.4 405.3 317.6 405.3 320.4 404.8 324.4 403.5 328.4 402.5 330.0 401.3 331.1 399.7 332.1 397.7 332.9Z" fill="#0063ff"/><path d="M397.7 332.1 396.1 332.3 392.9 332.0 390.5 331.3 388.5 330.3 386.9 329.0 385.9 327.6 384.7 323.2 384.7 317.2 385.4 313.6 386.5 310.8 387.9 308.4 390.1 305.9 392.1 304.5 394.1 303.8 395.7 303.9 397.3 304.5 398.9 305.7 400.7 307.6 403.1 312.0 404.5 317.6 404.5 320.0 404.1 324.0 402.9 327.6 402.0 329.2 400.9 330.4 397.7 332.1Z" fill="#0089ff"/><path d="M397.7 331.3 395.7 331.6 392.9 331.3 390.9 330.8 388.9 329.7 387.4 328.4 386.6 327.2 385.3 322.8 385.4 317.2 386.0 314.0 386.9 311.6 388.3 309.2 390.5 306.7 392.1 305.5 394.1 304.8 395.6 304.8 396.9 305.3 398.5 306.5 400.1 308.2 402.3 312.4 403.7 317.6 403.8 320.0 403.4 323.2 402.4 326.8 400.6 329.6 397.7 331.3Z" fill="#00b9ff"/><path d="M396.1 330.8 393.7 330.8 391.7 330.3 390.0 329.6 388.4 328.4 386.8 326.0 385.9 321.6 386.1 316.8 386.8 314.0 387.7 311.6 389.3 309.2 391.3 307.2 392.9 306.1 394.5 305.6 395.7 305.8 397.3 306.6 400.1 309.7 402.2 314.4 403.0 318.8 402.5 324.0 401.2 327.6 400.3 328.8 398.9 329.9 396.1 330.8Z" fill="#00eaff"/><path d="M396.5 330.1 392.5 329.9 389.3 328.3 387.5 326.0 386.5 322.0 386.6 317.2 387.3 314.4 388.3 312.0 389.6 310.0 391.3 308.3 392.9 307.1 394.5 306.6 395.7 306.8 396.9 307.4 399.6 310.4 401.5 314.4 402.3 318.4 401.9 323.6 400.8 326.8 398.9 329.1 396.5 330.1Z" fill="#00f3bb"/><path d="M396.9 329.3 393.3 329.4 391.3 328.8 389.9 328.0 388.1 325.9 387.1 322.0 387.1 317.6 388.6 312.8 389.7 311.1 391.4 309.2 393.0 308.0 394.5 307.5 395.7 307.7 396.9 308.5 399.2 311.2 400.9 314.8 401.7 318.4 401.4 322.8 400.5 325.9 399.1 328.0 396.9 329.3Z" fill="#00fa75"/><path d="M396.1 328.8 392.5 328.6 389.8 327.2 388.4 325.2 387.6 321.6 387.7 317.6 389.1 313.2 390.1 311.6 391.7 309.9 393.3 308.8 394.5 308.4 396.5 309.2 398.9 312.0 400.4 315.2 401.1 318.8 400.7 323.2 399.8 326.0 398.1 328.0 396.1 328.8Z" fill="#00f03e"/><path d="M396.5 328.1 393.3 328.2 390.5 327.0 388.9 324.9 388.1 321.6 388.2 317.6 389.5 313.6 391.7 310.9 393.3 309.7 394.5 309.3 396.5 310.2 398.4 312.4 399.8 315.2 400.5 318.4 400.4 321.6 399.7 324.8 398.5 326.8 396.5 328.1Z" fill="#00e707"/><path d="M395.7 327.7 392.9 327.6 390.5 326.3 389.2 324.4 388.5 321.2 388.7 317.6 389.9 314.0 392.1 311.4 393.3 310.6 394.5 310.2 396.1 310.8 398.1 313.0 399.4 315.6 400.0 318.8 399.8 322.4 398.9 325.2 397.7 326.8 395.7 327.7Z" fill="#2ce900"/><path d="M394.9 327.2 392.5 326.9 390.5 325.6 389.3 323.2 388.9 320.4 389.2 317.2 390.5 314.1 392.5 311.9 394.5 311.0 396.1 311.7 397.8 313.6 399.1 316.4 399.6 319.2 399.2 322.8 398.3 325.2 396.9 326.6 394.9 327.2Z" fill="#5fec00"/><path d="M395.7 326.5 393.3 326.6 391.3 325.6 390.0 323.6 389.4 320.8 389.6 317.6 390.7 314.8 392.5 312.7 394.5 311.8 396.0 312.4 397.4 314.0 398.5 316.2 399.1 318.8 399.0 321.6 398.3 324.0 397.3 325.6 395.7 326.5Z" fill="#92ef00"/><path d="M395.3 326.0 392.9 325.9 391.3 324.9 390.3 323.2 389.8 320.8 390.0 318.0 391.1 315.2 392.8 313.2 394.5 312.5 395.7 313.0 397.3 314.8 398.2 316.8 398.7 319.2 398.4 322.0 397.8 324.0 396.9 325.2 395.3 326.0Z" fill="#c4f000"/><path d="M395.7 325.3 393.7 325.5 392.1 324.9 390.9 323.4 390.3 321.2 390.4 318.4 391.2 316.0 392.5 314.2 394.1 313.3 395.3 313.5 396.5 314.6 397.5 316.4 398.2 318.8 398.2 320.8 397.6 323.2 396.9 324.5 395.7 325.3Z" fill="#f5f000"/><path d="M395.3 324.9 393.7 325.0 392.1 324.2 391.2 322.8 390.7 320.8 390.8 318.4 391.6 316.4 392.7 314.8 394.1 314.0 395.3 314.3 396.3 315.2 397.2 316.8 397.7 318.8 397.7 320.8 397.2 322.8 396.5 324.1 395.3 324.9Z" fill="#ffc800"/><path d="M394.5 324.4 393.3 324.3 392.1 323.4 391.4 322.0 391.1 320.0 391.4 318.0 392.2 316.4 393.3 315.1 394.5 314.8 395.4 315.2 396.4 316.4 397.3 319.6 397.1 321.6 396.5 323.2 395.7 324.1 394.5 324.4Z" fill="#ff9700"/><path d="M394.9 323.8 393.7 323.8 392.7 323.2 392.1 322.3 391.7 320.8 391.7 319.2 392.2 317.6 392.9 316.4 394.1 315.6 394.9 315.7 395.7 316.4 396.8 319.2 396.3 322.4 395.7 323.3 394.9 323.8Z" fill="#ff6300"/><path d="M394.9 323.0 394.1 323.1 393.3 322.8 392.6 322.0 392.3 320.8 392.5 318.3 393.3 317.0 394.1 316.5 395.3 316.9 396.3 319.2 396.0 321.6 394.9 323.0Z" fill="#ff2c00"/><path d="M394.9 322.0 393.7 322.1 393.0 320.8 393.1 318.8 394.1 317.6 394.9 317.8 395.6 319.2 395.6 320.8 394.9 322.0Z" fill="#ff0000"/></g>
<rect x="351.70" y="216.40" width="136.10" height="135.80" fill="none" stroke="#7a7a7a" stroke-width="1.1"/>
<line x1="404.10" y1="216.40" x2="404.10" y2="352.20" stroke="#111" stroke-width="1.3" stroke-linecap="butt"/>
<line x1="351.70" y1="302.40" x2="487.80" y2="302.40" stroke="#111" stroke-width="1.3" stroke-linecap="butt"/>
<text x="354.5" y="232.8" font-size="9.6" fill="#111" transform="translate(354.5 232.8) scale(1 1.04) translate(-354.5 -232.8)" stroke="#111" stroke-width="0.3">0.62</text>
<text x="354.5" y="342.9" font-size="9.6" fill="#111" transform="translate(354.5 342.9) scale(1 1.04) translate(-354.5 -342.9)" stroke="#111" stroke-width="0.3">98.5</text>
<text x="477.0" y="232.8" font-size="9.6" fill="#111" transform="translate(477.0 232.8) scale(1 1.04) translate(-477.0 -232.8)" stroke="#111" stroke-width="0.3">0</text>
<text x="475.6" y="342.9" font-size="9.6" text-anchor="end" fill="#111" transform="translate(475.6 342.9) scale(1 1.04) translate(-475.6 -342.9)" stroke="#111" stroke-width="0.3">0.92</text>
<line x1="347.90" y1="227.67" x2="351.70" y2="227.67" stroke="#222" stroke-width="1.0" stroke-linecap="butt"/>
<text x="343.2" y="229.9" font-size="5.6" text-anchor="middle" fill="#333">10<tspan font-size="4.5" dy="-2">5</tspan></text>
<line x1="347.90" y1="253.07" x2="351.70" y2="253.07" stroke="#222" stroke-width="1.0" stroke-linecap="butt"/>
<text x="343.2" y="255.3" font-size="5.6" text-anchor="middle" fill="#333">10<tspan font-size="4.5" dy="-2">4</tspan></text>
<line x1="347.90" y1="279.00" x2="351.70" y2="279.00" stroke="#222" stroke-width="1.0" stroke-linecap="butt"/>
<text x="343.2" y="281.2" font-size="5.6" text-anchor="middle" fill="#333">10<tspan font-size="4.5" dy="-2">3</tspan></text>
<line x1="347.90" y1="314.04" x2="351.70" y2="314.04" stroke="#222" stroke-width="1.0" stroke-linecap="butt"/>
<text x="345.2" y="316.2" font-size="5.6" text-anchor="end" fill="#333" transform="translate(345.2 316.2) scale(1 1.04) translate(-345.2 -316.2)">0</text>
<line x1="347.90" y1="350.43" x2="351.70" y2="350.43" stroke="#222" stroke-width="1.0" stroke-linecap="butt"/>
<text x="343.2" y="352.6" font-size="5.6" text-anchor="middle" fill="#333">-10<tspan font-size="4.5" dy="-2">3</tspan></text>
<line x1="350.00" y1="245.42" x2="351.70" y2="245.42" stroke="#222" stroke-width="0.8" stroke-linecap="butt"/>
<line x1="350.00" y1="240.95" x2="351.70" y2="240.95" stroke="#222" stroke-width="0.8" stroke-linecap="butt"/>
<line x1="350.00" y1="237.78" x2="351.70" y2="237.78" stroke="#222" stroke-width="0.8" stroke-linecap="butt"/>
<line x1="350.00" y1="235.32" x2="351.70" y2="235.32" stroke="#222" stroke-width="0.8" stroke-linecap="butt"/>
<line x1="350.00" y1="233.31" x2="351.70" y2="233.31" stroke="#222" stroke-width="0.8" stroke-linecap="butt"/>
<line x1="350.00" y1="231.61" x2="351.70" y2="231.61" stroke="#222" stroke-width="0.8" stroke-linecap="butt"/>
<line x1="350.00" y1="230.13" x2="351.70" y2="230.13" stroke="#222" stroke-width="0.8" stroke-linecap="butt"/>
<line x1="350.00" y1="228.83" x2="351.70" y2="228.83" stroke="#222" stroke-width="0.8" stroke-linecap="butt"/>
<line x1="350.00" y1="271.20" x2="351.70" y2="271.20" stroke="#222" stroke-width="0.8" stroke-linecap="butt"/>
<line x1="350.00" y1="266.63" x2="351.70" y2="266.63" stroke="#222" stroke-width="0.8" stroke-linecap="butt"/>
<line x1="350.00" y1="263.39" x2="351.70" y2="263.39" stroke="#222" stroke-width="0.8" stroke-linecap="butt"/>
<line x1="350.00" y1="260.87" x2="351.70" y2="260.87" stroke="#222" stroke-width="0.8" stroke-linecap="butt"/>
<line x1="350.00" y1="258.82" x2="351.70" y2="258.82" stroke="#222" stroke-width="0.8" stroke-linecap="butt"/>
<line x1="350.00" y1="257.08" x2="351.70" y2="257.08" stroke="#222" stroke-width="0.8" stroke-linecap="butt"/>
<line x1="350.00" y1="255.58" x2="351.70" y2="255.58" stroke="#222" stroke-width="0.8" stroke-linecap="butt"/>
<line x1="350.00" y1="254.25" x2="351.70" y2="254.25" stroke="#222" stroke-width="0.8" stroke-linecap="butt"/>
<line x1="350.00" y1="220.03" x2="351.70" y2="220.03" stroke="#222" stroke-width="0.8" stroke-linecap="butt"/>
<line x1="349.50" y1="284.92" x2="351.70" y2="284.92" stroke="#222" stroke-width="0.9" stroke-linecap="butt"/>
<line x1="349.50" y1="292.20" x2="351.70" y2="292.20" stroke="#222" stroke-width="0.9" stroke-linecap="butt"/>
<line x1="349.50" y1="299.48" x2="351.70" y2="299.48" stroke="#222" stroke-width="0.9" stroke-linecap="butt"/>
<line x1="349.50" y1="306.76" x2="351.70" y2="306.76" stroke="#222" stroke-width="0.9" stroke-linecap="butt"/>
<line x1="349.50" y1="321.32" x2="351.70" y2="321.32" stroke="#222" stroke-width="0.9" stroke-linecap="butt"/>
<line x1="349.50" y1="328.60" x2="351.70" y2="328.60" stroke="#222" stroke-width="0.9" stroke-linecap="butt"/>
<line x1="349.50" y1="335.88" x2="351.70" y2="335.88" stroke="#222" stroke-width="0.9" stroke-linecap="butt"/>
<line x1="349.50" y1="343.16" x2="351.70" y2="343.16" stroke="#222" stroke-width="0.9" stroke-linecap="butt"/>
<line x1="349.50" y1="350.43" x2="351.70" y2="350.43" stroke="#222" stroke-width="0.9" stroke-linecap="butt"/>
<line x1="348.50" y1="310.24" x2="351.70" y2="310.24" stroke="#111" stroke-width="1.0" stroke-linecap="butt"/>
<line x1="348.50" y1="312.14" x2="351.70" y2="312.14" stroke="#111" stroke-width="1.0" stroke-linecap="butt"/>
<line x1="348.50" y1="314.04" x2="351.70" y2="314.04" stroke="#111" stroke-width="1.0" stroke-linecap="butt"/>
<line x1="348.50" y1="315.94" x2="351.70" y2="315.94" stroke="#111" stroke-width="1.0" stroke-linecap="butt"/>
<line x1="348.50" y1="317.84" x2="351.70" y2="317.84" stroke="#111" stroke-width="1.0" stroke-linecap="butt"/>
<rect x="350.1" y="309.8" width="1.6" height="8.4" fill="#111"/>
<line x1="374.29" y1="352.20" x2="374.29" y2="356.00" stroke="#222" stroke-width="1.0" stroke-linecap="butt"/>
<text x="375.8" y="363.7" font-size="5.6" text-anchor="middle" fill="#333">-10<tspan font-size="4.5" dy="-2">3</tspan></text>
<line x1="399.47" y1="352.20" x2="399.47" y2="356.00" stroke="#222" stroke-width="1.0" stroke-linecap="butt"/>
<text x="399.5" y="363.7" font-size="5.6" text-anchor="middle" fill="#333" transform="translate(399.5 363.7) scale(1 1.04) translate(-399.5 -363.7)">0</text>
<line x1="426.69" y1="352.20" x2="426.69" y2="356.00" stroke="#222" stroke-width="1.0" stroke-linecap="butt"/>
<text x="428.2" y="363.7" font-size="5.6" text-anchor="middle" fill="#333">10<tspan font-size="4.5" dy="-2">3</tspan></text>
<line x1="454.32" y1="352.20" x2="454.32" y2="356.00" stroke="#222" stroke-width="1.0" stroke-linecap="butt"/>
<text x="455.8" y="363.7" font-size="5.6" text-anchor="middle" fill="#333">10<tspan font-size="4.5" dy="-2">4</tspan></text>
<line x1="480.45" y1="352.20" x2="480.45" y2="356.00" stroke="#222" stroke-width="1.0" stroke-linecap="butt"/>
<text x="482.0" y="363.7" font-size="5.6" text-anchor="middle" fill="#333">10<tspan font-size="4.5" dy="-2">5</tspan></text>
<line x1="435.01" y1="352.20" x2="435.01" y2="354.00" stroke="#222" stroke-width="0.8" stroke-linecap="butt"/>
<line x1="439.87" y1="352.20" x2="439.87" y2="354.00" stroke="#222" stroke-width="0.8" stroke-linecap="butt"/>
<line x1="443.32" y1="352.20" x2="443.32" y2="354.00" stroke="#222" stroke-width="0.8" stroke-linecap="butt"/>
<line x1="446.00" y1="352.20" x2="446.00" y2="354.00" stroke="#222" stroke-width="0.8" stroke-linecap="butt"/>
<line x1="448.19" y1="352.20" x2="448.19" y2="354.00" stroke="#222" stroke-width="0.8" stroke-linecap="butt"/>
<line x1="450.04" y1="352.20" x2="450.04" y2="354.00" stroke="#222" stroke-width="0.8" stroke-linecap="butt"/>
<line x1="451.64" y1="352.20" x2="451.64" y2="354.00" stroke="#222" stroke-width="0.8" stroke-linecap="butt"/>
<line x1="453.06" y1="352.20" x2="453.06" y2="354.00" stroke="#222" stroke-width="0.8" stroke-linecap="butt"/>
<line x1="462.19" y1="352.20" x2="462.19" y2="354.00" stroke="#222" stroke-width="0.8" stroke-linecap="butt"/>
<line x1="466.79" y1="352.20" x2="466.79" y2="354.00" stroke="#222" stroke-width="0.8" stroke-linecap="butt"/>
<line x1="470.05" y1="352.20" x2="470.05" y2="354.00" stroke="#222" stroke-width="0.8" stroke-linecap="butt"/>
<line x1="472.58" y1="352.20" x2="472.58" y2="354.00" stroke="#222" stroke-width="0.8" stroke-linecap="butt"/>
<line x1="474.65" y1="352.20" x2="474.65" y2="354.00" stroke="#222" stroke-width="0.8" stroke-linecap="butt"/>
<line x1="476.40" y1="352.20" x2="476.40" y2="354.00" stroke="#222" stroke-width="0.8" stroke-linecap="butt"/>
<line x1="477.92" y1="352.20" x2="477.92" y2="354.00" stroke="#222" stroke-width="0.8" stroke-linecap="butt"/>
<line x1="479.25" y1="352.20" x2="479.25" y2="354.00" stroke="#222" stroke-width="0.8" stroke-linecap="butt"/>
<line x1="374.29" y1="352.20" x2="374.29" y2="354.40" stroke="#222" stroke-width="0.9" stroke-linecap="butt"/>
<line x1="379.33" y1="352.20" x2="379.33" y2="354.40" stroke="#222" stroke-width="0.9" stroke-linecap="butt"/>
<line x1="384.36" y1="352.20" x2="384.36" y2="354.40" stroke="#222" stroke-width="0.9" stroke-linecap="butt"/>
<line x1="389.40" y1="352.20" x2="389.40" y2="354.40" stroke="#222" stroke-width="0.9" stroke-linecap="butt"/>
<line x1="394.44" y1="352.20" x2="394.44" y2="354.40" stroke="#222" stroke-width="0.9" stroke-linecap="butt"/>
<line x1="399.47" y1="352.20" x2="399.47" y2="354.40" stroke="#222" stroke-width="0.9" stroke-linecap="butt"/>
<line x1="404.51" y1="352.20" x2="404.51" y2="354.40" stroke="#222" stroke-width="0.9" stroke-linecap="butt"/>
<line x1="409.54" y1="352.20" x2="409.54" y2="354.40" stroke="#222" stroke-width="0.9" stroke-linecap="butt"/>
<line x1="414.58" y1="352.20" x2="414.58" y2="354.40" stroke="#222" stroke-width="0.9" stroke-linecap="butt"/>
<line x1="419.61" y1="352.20" x2="419.61" y2="354.40" stroke="#222" stroke-width="0.9" stroke-linecap="butt"/>
<line x1="424.65" y1="352.20" x2="424.65" y2="354.40" stroke="#222" stroke-width="0.9" stroke-linecap="butt"/>
<line x1="395.67" y1="352.20" x2="395.67" y2="355.40" stroke="#111" stroke-width="1.0" stroke-linecap="butt"/>
<line x1="397.57" y1="352.20" x2="397.57" y2="355.40" stroke="#111" stroke-width="1.0" stroke-linecap="butt"/>
<line x1="399.47" y1="352.20" x2="399.47" y2="355.40" stroke="#111" stroke-width="1.0" stroke-linecap="butt"/>
<line x1="401.37" y1="352.20" x2="401.37" y2="355.40" stroke="#111" stroke-width="1.0" stroke-linecap="butt"/>
<line x1="403.27" y1="352.20" x2="403.27" y2="355.40" stroke="#111" stroke-width="1.0" stroke-linecap="butt"/>
<rect x="395.3" y="352.2" width="8.4" height="1.6" fill="#111"/>
<g clip-path="url(#fc2)"><path d="M550.4 334.1 547.2 334.1 544.0 332.9 539.4 330.4 534.9 327.2 533.9 325.6 532.7 322.8 532.7 318.0 533.0 317.2 533.5 313.6 535.5 309.2 537.0 307.2 540.0 305.1 544.8 302.7 547.6 301.9 550.8 301.8 551.6 301.5 558.4 301.9 561.8 303.6 564.8 305.7 566.4 307.4 569.1 312.0 570.8 313.7 573.6 315.0 574.5 316.8 574.9 320.0 574.5 321.6 573.2 324.2 571.1 326.4 569.1 329.6 566.8 331.7 563.2 332.9 554.4 333.0 550.4 334.1Z" fill="#0000ff"/><path d="M550.8 333.6 550.4 333.9 547.2 333.9 544.0 332.7 539.6 330.3 535.2 327.2 534.1 325.6 532.9 322.8 532.9 318.0 533.3 317.2 533.7 313.6 535.7 309.2 537.2 307.3 540.0 305.3 544.8 302.9 547.6 302.1 550.8 302.1 551.6 301.7 558.4 302.1 561.6 303.7 564.8 306.0 566.3 307.6 568.9 312.0 570.8 313.9 573.4 315.2 574.3 316.8 574.7 320.0 574.3 321.6 573.1 324.0 570.8 326.4 568.8 329.6 566.8 331.5 563.2 332.7 554.4 332.7 550.8 333.6Z" fill="#0016ff"/><path d="M550.0 333.7 547.3 333.6 544.0 332.4 539.6 330.0 535.2 326.8 533.6 324.0 533.2 322.4 533.1 318.4 534.0 313.6 536.0 309.2 537.3 307.6 540.0 305.6 544.8 303.2 547.7 302.4 550.8 302.3 552.0 302.0 558.4 302.4 561.6 304.0 564.4 306.0 566.0 307.6 568.8 312.3 570.8 314.2 573.2 315.4 574.0 316.8 574.4 318.8 574.0 321.5 572.8 324.0 570.8 326.0 568.8 329.2 566.8 331.2 566.0 331.6 562.8 332.4 554.4 332.5 550.0 333.7Z" fill="#001dff"/><path d="M550.0 333.3 547.3 333.2 544.0 332.0 539.6 329.6 535.6 326.6 534.4 324.8 533.5 322.4 533.5 318.4 534.4 313.6 536.0 310.0 537.6 307.9 540.1 306.0 544.9 303.6 548.0 302.7 552.0 302.3 558.2 302.8 561.5 304.4 564.4 306.4 565.6 307.6 568.5 312.4 570.4 314.3 572.8 315.6 573.6 317.0 574.0 318.8 573.6 321.4 572.4 323.8 570.4 326.0 568.4 329.0 565.8 331.2 562.8 332.0 554.4 332.2 550.0 333.3Z" fill="#003dff"/><path d="M551.6 332.0 548.4 332.4 544.8 331.3 540.1 328.8 536.5 326.0 535.1 324.0 534.4 321.6 534.4 318.8 535.1 314.8 536.3 311.6 538.0 309.0 540.4 307.0 544.0 305.1 547.6 303.9 552.4 303.3 558.0 303.8 561.2 305.3 564.6 308.0 568.4 313.5 572.2 316.8 572.9 318.4 572.8 320.4 571.3 323.6 567.3 328.8 565.6 330.1 562.4 331.1 554.8 331.4 551.6 332.0Z" fill="#0063ff"/><path d="M550.4 331.2 547.6 331.2 544.0 329.9 539.6 327.2 536.8 324.8 535.8 322.8 535.4 320.8 535.6 318.4 536.4 314.0 537.7 311.2 539.2 309.3 541.6 307.5 545.2 305.7 548.4 304.8 552.8 304.4 558.0 305.0 560.8 306.4 563.9 308.8 567.4 314.0 571.3 317.6 571.8 319.2 571.5 320.8 570.5 322.8 566.8 327.6 564.9 329.2 562.0 330.0 554.4 330.5 550.4 331.2Z" fill="#0089ff"/><path d="M551.6 330.1 548.4 330.3 545.6 329.5 541.6 327.4 538.2 324.8 537.1 323.2 536.5 321.2 536.5 319.2 537.2 315.6 538.1 312.8 539.6 310.5 541.6 308.9 544.7 307.2 546.8 306.3 549.2 305.8 553.2 305.5 557.2 305.9 560.0 307.2 562.8 309.3 566.7 314.8 570.0 318.0 570.5 319.2 570.4 320.4 569.6 322.0 566.0 326.8 564.4 328.2 561.6 329.0 551.6 330.1Z" fill="#00b9ff"/><path d="M551.6 329.2 548.4 329.4 545.6 328.5 542.0 326.6 539.2 324.4 538.0 322.8 537.6 321.2 537.6 319.2 538.2 316.0 539.0 313.6 540.4 311.3 542.4 309.7 545.2 308.2 547.2 307.4 549.6 306.9 553.2 306.7 557.2 307.1 559.6 308.3 562.0 310.1 565.6 315.3 568.8 318.8 569.1 320.4 565.2 326.0 563.6 327.3 561.2 328.0 551.6 329.2Z" fill="#00eaff"/><path d="M551.6 328.4 548.8 328.6 546.0 327.8 542.8 326.1 540.1 324.0 539.2 322.8 538.6 321.2 538.6 319.2 539.1 316.4 540.0 314.0 541.2 312.1 542.8 310.8 545.6 309.3 547.6 308.5 550.0 308.1 553.2 307.9 556.8 308.2 558.9 309.2 561.2 311.0 567.4 319.2 567.6 320.4 564.4 325.2 562.8 326.4 560.4 327.1 551.6 328.4Z" fill="#00f3bb"/><path d="M552.4 327.6 549.6 327.9 548.0 327.7 545.2 326.7 542.8 325.2 541.0 323.6 539.8 322.0 539.4 320.4 539.7 318.0 540.4 315.6 541.4 313.6 542.8 312.1 544.8 310.9 547.2 309.8 549.6 309.2 553.2 309.0 556.4 309.3 558.4 310.2 560.6 312.0 565.5 318.8 566.0 320.4 563.9 324.0 562.4 325.4 558.0 326.7 552.4 327.6Z" fill="#00fa75"/><path d="M550.8 327.2 548.4 327.1 546.0 326.3 543.6 324.9 541.7 323.2 540.8 322.0 540.4 320.8 540.4 319.2 541.0 316.8 541.8 314.8 542.8 313.5 544.4 312.3 546.8 311.1 548.8 310.5 551.6 310.2 556.4 310.5 558.4 311.5 560.1 313.2 564.1 318.8 564.5 320.0 564.5 320.8 562.9 323.6 561.3 324.8 556.4 326.3 550.8 327.2Z" fill="#00f03e"/><path d="M552.8 326.4 549.2 326.6 546.8 326.0 544.0 324.4 541.7 322.0 541.1 320.0 541.7 317.2 542.9 314.8 544.8 313.2 547.6 311.8 549.6 311.3 553.2 311.1 556.0 311.5 557.6 312.3 559.1 313.6 562.6 318.4 563.2 319.6 563.2 320.8 562.5 322.4 561.6 323.5 557.6 325.3 552.8 326.4Z" fill="#00e707"/><path d="M551.6 326.0 549.6 326.1 547.6 325.7 545.6 324.8 544.0 323.6 542.6 322.0 542.0 320.8 542.3 318.0 544.0 314.9 547.2 312.9 550.8 312.1 555.6 312.4 557.8 313.6 560.0 316.1 561.9 319.2 562.2 320.4 562.0 321.2 560.9 322.8 558.9 324.0 555.6 325.3 551.6 326.0Z" fill="#2ce900"/><path d="M550.8 325.6 548.8 325.5 547.2 325.0 544.1 322.8 542.7 320.4 543.2 317.6 544.8 315.2 546.4 314.1 548.4 313.3 552.4 312.9 556.0 313.5 557.8 314.8 559.8 317.2 561.0 319.6 560.9 321.2 559.6 322.7 556.8 324.2 554.0 325.1 550.8 325.6Z" fill="#5fec00"/><path d="M553.2 324.8 550.4 325.1 548.4 324.9 546.4 324.0 544.5 322.4 543.5 320.8 543.4 319.2 544.1 317.2 545.4 315.6 548.8 313.9 552.8 313.6 556.0 314.4 558.3 316.4 560.0 319.2 560.1 320.4 559.8 321.2 557.2 323.3 553.2 324.8Z" fill="#92ef00"/><path d="M552.8 324.4 550.4 324.7 548.4 324.4 546.4 323.4 545.0 322.0 544.1 320.4 544.1 319.2 544.8 317.3 546.0 315.9 549.2 314.5 552.8 314.3 555.6 315.0 557.7 316.8 559.1 319.2 559.2 320.4 558.8 321.1 556.2 323.2 552.8 324.4Z" fill="#c4f000"/><path d="M552.4 324.0 548.8 324.0 547.1 323.2 545.7 322.0 544.8 320.4 544.8 319.2 545.3 317.6 546.4 316.4 549.2 315.1 552.4 314.9 555.2 315.5 557.2 317.2 558.3 319.2 558.0 320.8 555.8 322.8 552.4 324.0Z" fill="#f5f000"/><path d="M551.6 323.7 550.0 323.7 548.4 323.3 546.9 322.4 545.9 321.2 545.4 320.0 545.6 318.4 546.4 317.2 547.6 316.3 550.4 315.4 553.6 315.6 555.6 316.5 557.2 318.4 557.4 320.0 556.3 321.6 554.4 322.9 551.6 323.7Z" fill="#ffc800"/><path d="M551.2 323.2 549.2 323.0 547.3 322.0 546.2 320.4 546.3 318.4 547.6 317.0 549.6 316.1 552.0 315.9 554.4 316.5 555.4 317.2 556.3 318.4 556.6 319.6 556.3 320.4 554.4 322.2 551.2 323.2Z" fill="#ff9700"/><path d="M552.4 322.4 549.6 322.6 547.8 321.6 547.2 320.8 546.8 319.6 546.9 318.8 547.6 317.7 549.2 316.8 551.2 316.5 553.5 316.8 554.8 317.6 555.6 318.8 555.4 320.4 554.2 321.6 552.4 322.4Z" fill="#ff6300"/><path d="M551.6 322.0 549.6 321.9 548.0 320.8 547.6 319.2 548.4 317.9 549.9 317.2 551.6 317.1 553.2 317.4 554.4 318.4 554.7 319.2 554.3 320.4 553.2 321.4 551.6 322.0Z" fill="#ff2c00"/><path d="M551.6 321.2 550.4 321.3 549.1 320.8 548.6 319.6 549.1 318.4 550.0 317.9 551.2 317.8 552.9 318.4 553.4 319.2 553.3 320.0 552.5 320.8 551.6 321.2Z" fill="#ff0000"/></g>
<rect x="514.00" y="216.40" width="136.50" height="135.80" fill="none" stroke="#7a7a7a" stroke-width="1.1"/>
<line x1="571.20" y1="216.40" x2="571.20" y2="352.20" stroke="#111" stroke-width="1.3" stroke-linecap="butt"/>
<line x1="514.00" y1="302.30" x2="650.50" y2="302.30" stroke="#111" stroke-width="1.3" stroke-linecap="butt"/>
<text x="516.8" y="232.8" font-size="9.6" fill="#111" transform="translate(516.8 232.8) scale(1 1.04) translate(-516.8 -232.8)" stroke="#111" stroke-width="0.3">0.62</text>
<text x="516.8" y="342.9" font-size="9.6" fill="#111" transform="translate(516.8 342.9) scale(1 1.04) translate(-516.8 -342.9)" stroke="#111" stroke-width="0.3">98.5</text>
<text x="639.7" y="232.8" font-size="9.6" fill="#111" transform="translate(639.7 232.8) scale(1 1.04) translate(-639.7 -232.8)" stroke="#111" stroke-width="0.3">0</text>
<text x="638.3" y="342.9" font-size="9.6" text-anchor="end" fill="#111" transform="translate(638.3 342.9) scale(1 1.04) translate(-638.3 -342.9)" stroke="#111" stroke-width="0.3">0.92</text>
<line x1="510.20" y1="227.67" x2="514.00" y2="227.67" stroke="#222" stroke-width="1.0" stroke-linecap="butt"/>
<text x="505.5" y="229.9" font-size="5.6" text-anchor="middle" fill="#333">10<tspan font-size="4.5" dy="-2">5</tspan></text>
<line x1="510.20" y1="253.07" x2="514.00" y2="253.07" stroke="#222" stroke-width="1.0" stroke-linecap="butt"/>
<text x="505.5" y="255.3" font-size="5.6" text-anchor="middle" fill="#333">10<tspan font-size="4.5" dy="-2">4</tspan></text>
<line x1="510.20" y1="279.00" x2="514.00" y2="279.00" stroke="#222" stroke-width="1.0" stroke-linecap="butt"/>
<text x="505.5" y="281.2" font-size="5.6" text-anchor="middle" fill="#333">10<tspan font-size="4.5" dy="-2">3</tspan></text>
<line x1="510.20" y1="314.04" x2="514.00" y2="314.04" stroke="#222" stroke-width="1.0" stroke-linecap="butt"/>
<text x="507.5" y="316.2" font-size="5.6" text-anchor="end" fill="#333" transform="translate(507.5 316.2) scale(1 1.04) translate(-507.5 -316.2)">0</text>
<line x1="510.20" y1="350.43" x2="514.00" y2="350.43" stroke="#222" stroke-width="1.0" stroke-linecap="butt"/>
<text x="505.5" y="352.6" font-size="5.6" text-anchor="middle" fill="#333">-10<tspan font-size="4.5" dy="-2">3</tspan></text>
<line x1="512.30" y1="245.42" x2="514.00" y2="245.42" stroke="#222" stroke-width="0.8" stroke-linecap="butt"/>
<line x1="512.30" y1="240.95" x2="514.00" y2="240.95" stroke="#222" stroke-width="0.8" stroke-linecap="butt"/>
<line x1="512.30" y1="237.78" x2="514.00" y2="237.78" stroke="#222" stroke-width="0.8" stroke-linecap="butt"/>
<line x1="512.30" y1="235.32" x2="514.00" y2="235.32" stroke="#222" stroke-width="0.8" stroke-linecap="butt"/>
<line x1="512.30" y1="233.31" x2="514.00" y2="233.31" stroke="#222" stroke-width="0.8" stroke-linecap="butt"/>
<line x1="512.30" y1="231.61" x2="514.00" y2="231.61" stroke="#222" stroke-width="0.8" stroke-linecap="butt"/>
<line x1="512.30" y1="230.13" x2="514.00" y2="230.13" stroke="#222" stroke-width="0.8" stroke-linecap="butt"/>
<line x1="512.30" y1="228.83" x2="514.00" y2="228.83" stroke="#222" stroke-width="0.8" stroke-linecap="butt"/>
<line x1="512.30" y1="271.20" x2="514.00" y2="271.20" stroke="#222" stroke-width="0.8" stroke-linecap="butt"/>
<line x1="512.30" y1="266.63" x2="514.00" y2="266.63" stroke="#222" stroke-width="0.8" stroke-linecap="butt"/>
<line x1="512.30" y1="263.39" x2="514.00" y2="263.39" stroke="#222" stroke-width="0.8" stroke-linecap="butt"/>
<line x1="512.30" y1="260.87" x2="514.00" y2="260.87" stroke="#222" stroke-width="0.8" stroke-linecap="butt"/>
<line x1="512.30" y1="258.82" x2="514.00" y2="258.82" stroke="#222" stroke-width="0.8" stroke-linecap="butt"/>
<line x1="512.30" y1="257.08" x2="514.00" y2="257.08" stroke="#222" stroke-width="0.8" stroke-linecap="butt"/>
<line x1="512.30" y1="255.58" x2="514.00" y2="255.58" stroke="#222" stroke-width="0.8" stroke-linecap="butt"/>
<line x1="512.30" y1="254.25" x2="514.00" y2="254.25" stroke="#222" stroke-width="0.8" stroke-linecap="butt"/>
<line x1="512.30" y1="220.03" x2="514.00" y2="220.03" stroke="#222" stroke-width="0.8" stroke-linecap="butt"/>
<line x1="511.80" y1="284.92" x2="514.00" y2="284.92" stroke="#222" stroke-width="0.9" stroke-linecap="butt"/>
<line x1="511.80" y1="292.20" x2="514.00" y2="292.20" stroke="#222" stroke-width="0.9" stroke-linecap="butt"/>
<line x1="511.80" y1="299.48" x2="514.00" y2="299.48" stroke="#222" stroke-width="0.9" stroke-linecap="butt"/>
<line x1="511.80" y1="306.76" x2="514.00" y2="306.76" stroke="#222" stroke-width="0.9" stroke-linecap="butt"/>
<line x1="511.80" y1="321.32" x2="514.00" y2="321.32" stroke="#222" stroke-width="0.9" stroke-linecap="butt"/>
<line x1="511.80" y1="328.60" x2="514.00" y2="328.60" stroke="#222" stroke-width="0.9" stroke-linecap="butt"/>
<line x1="511.80" y1="335.88" x2="514.00" y2="335.88" stroke="#222" stroke-width="0.9" stroke-linecap="butt"/>
<line x1="511.80" y1="343.16" x2="514.00" y2="343.16" stroke="#222" stroke-width="0.9" stroke-linecap="butt"/>
<line x1="511.80" y1="350.43" x2="514.00" y2="350.43" stroke="#222" stroke-width="0.9" stroke-linecap="butt"/>
<line x1="510.80" y1="310.24" x2="514.00" y2="310.24" stroke="#111" stroke-width="1.0" stroke-linecap="butt"/>
<line x1="510.80" y1="312.14" x2="514.00" y2="312.14" stroke="#111" stroke-width="1.0" stroke-linecap="butt"/>
<line x1="510.80" y1="314.04" x2="514.00" y2="314.04" stroke="#111" stroke-width="1.0" stroke-linecap="butt"/>
<line x1="510.80" y1="315.94" x2="514.00" y2="315.94" stroke="#111" stroke-width="1.0" stroke-linecap="butt"/>
<line x1="510.80" y1="317.84" x2="514.00" y2="317.84" stroke="#111" stroke-width="1.0" stroke-linecap="butt"/>
<rect x="512.4" y="309.8" width="1.6" height="8.4" fill="#111"/>
<line x1="547.85" y1="352.20" x2="547.85" y2="356.00" stroke="#222" stroke-width="1.0" stroke-linecap="butt"/>
<text x="547.9" y="363.7" font-size="5.6" text-anchor="middle" fill="#333" transform="translate(547.9 363.7) scale(1 1.04) translate(-547.9 -363.7)">0</text>
<line x1="582.39" y1="352.20" x2="582.39" y2="356.00" stroke="#222" stroke-width="1.0" stroke-linecap="butt"/>
<text x="583.9" y="363.7" font-size="5.6" text-anchor="middle" fill="#333">10<tspan font-size="4.5" dy="-2">3</tspan></text>
<line x1="612.96" y1="352.20" x2="612.96" y2="356.00" stroke="#222" stroke-width="1.0" stroke-linecap="butt"/>
<text x="614.5" y="363.7" font-size="5.6" text-anchor="middle" fill="#333">10<tspan font-size="4.5" dy="-2">4</tspan></text>
<line x1="641.49" y1="352.20" x2="641.49" y2="356.00" stroke="#222" stroke-width="1.0" stroke-linecap="butt"/>
<text x="643.0" y="363.7" font-size="5.6" text-anchor="middle" fill="#333">10<tspan font-size="4.5" dy="-2">5</tspan></text>
<line x1="591.59" y1="352.20" x2="591.59" y2="354.00" stroke="#222" stroke-width="0.8" stroke-linecap="butt"/>
<line x1="596.97" y1="352.20" x2="596.97" y2="354.00" stroke="#222" stroke-width="0.8" stroke-linecap="butt"/>
<line x1="600.80" y1="352.20" x2="600.80" y2="354.00" stroke="#222" stroke-width="0.8" stroke-linecap="butt"/>
<line x1="603.76" y1="352.20" x2="603.76" y2="354.00" stroke="#222" stroke-width="0.8" stroke-linecap="butt"/>
<line x1="606.18" y1="352.20" x2="606.18" y2="354.00" stroke="#222" stroke-width="0.8" stroke-linecap="butt"/>
<line x1="608.23" y1="352.20" x2="608.23" y2="354.00" stroke="#222" stroke-width="0.8" stroke-linecap="butt"/>
<line x1="610.00" y1="352.20" x2="610.00" y2="354.00" stroke="#222" stroke-width="0.8" stroke-linecap="butt"/>
<line x1="611.56" y1="352.20" x2="611.56" y2="354.00" stroke="#222" stroke-width="0.8" stroke-linecap="butt"/>
<line x1="621.55" y1="352.20" x2="621.55" y2="354.00" stroke="#222" stroke-width="0.8" stroke-linecap="butt"/>
<line x1="626.57" y1="352.20" x2="626.57" y2="354.00" stroke="#222" stroke-width="0.8" stroke-linecap="butt"/>
<line x1="630.14" y1="352.20" x2="630.14" y2="354.00" stroke="#222" stroke-width="0.8" stroke-linecap="butt"/>
<line x1="632.90" y1="352.20" x2="632.90" y2="354.00" stroke="#222" stroke-width="0.8" stroke-linecap="butt"/>
<line x1="635.16" y1="352.20" x2="635.16" y2="354.00" stroke="#222" stroke-width="0.8" stroke-linecap="butt"/>
<line x1="637.07" y1="352.20" x2="637.07" y2="354.00" stroke="#222" stroke-width="0.8" stroke-linecap="butt"/>
<line x1="638.73" y1="352.20" x2="638.73" y2="354.00" stroke="#222" stroke-width="0.8" stroke-linecap="butt"/>
<line x1="640.19" y1="352.20" x2="640.19" y2="354.00" stroke="#222" stroke-width="0.8" stroke-linecap="butt"/>
<line x1="650.08" y1="352.20" x2="650.08" y2="354.00" stroke="#222" stroke-width="0.8" stroke-linecap="butt"/>
<line x1="547.85" y1="352.20" x2="547.85" y2="354.40" stroke="#222" stroke-width="0.9" stroke-linecap="butt"/>
<line x1="581.92" y1="352.20" x2="581.92" y2="354.40" stroke="#222" stroke-width="0.9" stroke-linecap="butt"/>
<line x1="544.05" y1="352.20" x2="544.05" y2="355.40" stroke="#111" stroke-width="1.0" stroke-linecap="butt"/>
<line x1="545.95" y1="352.20" x2="545.95" y2="355.40" stroke="#111" stroke-width="1.0" stroke-linecap="butt"/>
<line x1="547.85" y1="352.20" x2="547.85" y2="355.40" stroke="#111" stroke-width="1.0" stroke-linecap="butt"/>
<line x1="549.75" y1="352.20" x2="549.75" y2="355.40" stroke="#111" stroke-width="1.0" stroke-linecap="butt"/>
<line x1="551.65" y1="352.20" x2="551.65" y2="355.40" stroke="#111" stroke-width="1.0" stroke-linecap="butt"/>
<rect x="543.7" y="352.2" width="8.4" height="1.6" fill="#111"/>
<g clip-path="url(#fc3)"><path d="M717.9 334.2 715.1 334.2 711.9 332.7 710.4 331.2 709.7 330.0 708.5 325.2 708.5 316.8 708.9 316.0 708.9 314.0 709.3 313.2 709.7 310.0 710.9 306.8 713.1 302.9 714.7 301.3 716.3 300.6 717.5 300.6 719.4 301.6 720.2 302.4 721.9 304.5 723.7 308.0 725.3 313.6 725.3 319.2 725.7 320.0 725.3 321.2 725.3 324.8 723.7 329.2 720.7 332.8 717.9 334.2Z" fill="#0000ff"/><path d="M717.9 334.0 715.1 334.0 711.9 332.5 710.6 331.2 709.9 330.0 708.7 325.2 708.7 316.8 709.1 316.0 709.1 314.0 709.9 310.0 711.1 306.8 713.1 303.2 714.7 301.5 716.3 300.8 717.5 300.8 719.9 302.3 721.9 304.8 723.5 308.0 725.1 313.6 725.1 319.2 725.5 320.0 725.1 321.2 725.1 324.8 723.5 329.2 720.7 332.5 717.9 334.0Z" fill="#0016ff"/><path d="M717.9 333.8 715.1 333.8 712.3 332.6 711.5 331.8 710.2 330.0 709.4 327.6 708.9 324.8 708.9 317.2 710.2 310.0 711.4 306.8 713.5 303.0 715.1 301.5 716.7 301.0 717.5 301.1 719.1 301.9 720.3 303.0 721.6 304.8 723.2 308.0 724.8 313.6 724.9 319.2 725.2 320.0 724.8 324.8 723.3 329.2 720.6 332.4 717.9 333.8Z" fill="#001dff"/><path d="M717.5 333.7 715.5 333.6 713.9 333.1 712.3 332.3 710.8 330.8 709.6 327.6 709.1 324.0 709.1 317.2 710.8 308.8 712.3 305.4 713.6 303.2 715.1 301.8 716.7 301.3 718.8 302.0 720.2 303.2 721.4 304.8 723.0 308.0 724.7 314.0 725.0 320.0 724.7 324.4 723.0 329.2 720.3 332.4 717.5 333.7Z" fill="#003dff"/><path d="M717.9 333.3 715.1 333.3 713.0 332.4 711.5 331.2 710.7 329.9 709.9 327.5 709.4 324.0 709.4 317.2 711.1 308.9 712.3 306.0 713.9 303.4 715.4 302.0 716.7 301.6 718.2 302.0 719.8 303.2 721.1 304.9 722.7 308.0 724.4 314.0 724.7 320.0 724.4 324.4 723.1 328.5 721.6 330.8 720.3 332.1 717.9 333.3Z" fill="#0063ff"/><path d="M718.3 332.8 717.1 333.1 715.5 333.0 713.9 332.4 712.3 331.2 711.4 330.0 710.7 328.4 709.9 323.6 709.9 317.6 711.4 309.6 713.9 304.4 715.1 303.0 716.7 302.4 717.9 302.6 718.9 303.2 721.3 306.4 723.0 310.4 724.0 315.6 724.0 323.2 723.4 326.4 722.4 328.8 721.1 330.7 719.9 331.9 718.3 332.8Z" fill="#0089ff"/><path d="M717.5 332.5 716.3 332.5 714.7 332.1 712.3 330.3 711.0 327.2 710.4 322.8 710.5 317.6 711.9 310.0 714.3 305.0 715.5 303.6 716.7 303.1 717.9 303.4 719.1 304.4 721.6 308.4 723.3 314.0 723.6 319.6 723.3 324.4 722.2 328.0 719.9 331.2 717.5 332.5Z" fill="#00b9ff"/><path d="M718.3 331.6 715.9 331.9 714.3 331.3 713.1 330.3 711.7 327.6 711.0 323.2 711.0 317.6 712.4 310.4 714.7 305.6 715.7 304.4 716.7 303.9 717.5 304.0 718.6 304.8 720.7 307.9 722.2 312.0 723.0 316.0 723.0 322.4 722.4 326.0 720.7 329.6 719.5 330.9 718.3 331.6Z" fill="#00eaff"/><path d="M717.5 331.3 716.3 331.4 715.1 331.0 713.1 329.4 712.1 326.8 711.4 322.0 711.6 317.2 712.9 310.8 714.9 306.4 715.9 305.3 716.7 304.9 717.5 305.0 718.7 306.0 720.8 309.6 722.3 314.4 722.6 318.8 722.5 323.6 721.7 326.8 719.9 329.7 718.7 330.8 717.5 331.3Z" fill="#00f3bb"/><path d="M717.1 330.8 715.9 330.7 714.7 330.2 713.2 328.4 712.1 324.4 711.8 320.0 712.4 314.8 713.6 310.4 715.5 306.8 716.3 306.0 717.1 305.9 717.9 306.2 719.1 307.6 720.9 311.2 722.0 315.2 722.2 320.0 722.0 324.0 721.0 327.2 719.1 329.8 717.1 330.8Z" fill="#00fa75"/><path d="M717.9 330.0 715.9 330.2 714.7 329.5 713.9 328.7 712.9 326.0 712.3 321.6 712.4 317.2 713.7 311.6 715.5 308.0 716.3 307.1 717.1 306.9 718.7 308.1 720.4 311.2 721.5 314.8 721.8 318.8 721.7 323.2 721.0 326.0 719.5 328.7 717.9 330.0Z" fill="#00f03e"/><path d="M717.1 329.7 715.1 329.2 713.9 327.6 712.9 324.0 712.6 320.0 713.1 315.6 714.3 311.6 715.9 308.6 717.1 307.9 717.9 308.3 718.7 309.2 720.5 312.8 721.2 315.6 721.5 320.0 721.3 323.6 720.4 326.4 718.8 328.8 717.1 329.7Z" fill="#00e707"/><path d="M717.9 328.8 716.3 329.1 714.6 328.0 713.5 325.2 713.0 321.2 713.2 317.6 714.2 313.2 715.5 310.3 716.3 309.3 717.1 309.0 718.5 310.0 720.0 312.8 720.8 315.6 721.2 319.2 721.0 322.8 720.5 325.2 719.5 327.2 717.9 328.8Z" fill="#2ce900"/><path d="M717.5 328.5 715.9 328.4 714.7 327.2 713.7 324.0 713.3 320.8 713.5 317.6 714.3 314.0 715.6 311.2 716.3 310.3 717.1 310.0 718.3 310.7 719.9 313.6 720.5 316.0 720.8 319.6 720.7 322.8 720.1 325.2 719.0 327.2 717.5 328.5Z" fill="#5fec00"/><path d="M716.7 328.0 715.5 327.5 714.6 326.0 713.9 323.2 713.7 319.6 714.0 316.8 714.7 314.0 715.9 311.7 717.1 310.9 718.3 311.7 719.7 314.4 720.4 317.2 720.5 320.4 720.3 323.2 719.5 325.6 718.3 327.3 716.7 328.0Z" fill="#92ef00"/><path d="M717.5 327.3 716.3 327.4 715.1 326.1 714.3 323.6 714.0 320.4 714.2 317.6 714.9 314.8 715.9 312.7 717.1 311.8 718.3 312.6 719.3 314.4 720.0 316.8 720.2 319.6 720.1 322.4 719.6 324.4 718.7 326.2 717.5 327.3Z" fill="#c4f000"/><path d="M716.7 326.8 715.6 326.0 714.9 324.4 714.3 319.6 714.6 317.2 715.3 314.8 716.3 313.1 717.1 312.7 718.3 313.5 719.2 315.2 719.8 317.6 719.9 320.4 719.7 322.8 719.0 324.8 717.9 326.4 716.7 326.8Z" fill="#f5f000"/><path d="M717.1 326.1 716.3 326.0 715.3 324.4 714.8 322.4 714.6 320.0 715.4 315.6 716.3 314.0 717.1 313.5 718.0 314.0 718.9 315.6 719.6 320.0 719.0 324.0 718.3 325.2 717.1 326.1Z" fill="#ffc800"/><path d="M717.5 325.3 716.7 325.4 715.8 324.4 715.2 322.8 714.9 320.4 715.5 316.4 716.3 314.9 717.1 314.4 717.9 314.7 718.6 316.0 719.3 319.6 718.9 323.2 718.3 324.4 717.5 325.3Z" fill="#ff9700"/><path d="M717.5 324.5 716.7 324.6 715.9 323.7 715.3 320.4 715.8 316.8 716.3 315.8 717.1 315.2 717.8 315.6 718.3 316.4 718.9 319.6 718.6 322.8 717.5 324.5Z" fill="#ff6300"/><path d="M717.5 323.6 716.7 323.7 716.3 323.3 715.6 320.4 715.9 317.9 716.3 316.9 717.1 316.2 717.5 316.3 718.1 317.2 718.6 319.6 718.3 322.2 717.5 323.6Z" fill="#ff2c00"/><path d="M717.5 322.4 717.1 322.7 716.7 322.5 716.1 320.4 716.3 318.4 717.1 317.4 717.7 318.0 718.1 319.6 718.0 321.2 717.5 322.4Z" fill="#ff0000"/></g>
<rect x="678.00" y="216.40" width="135.90" height="135.80" fill="none" stroke="#7a7a7a" stroke-width="1.1"/>
<line x1="723.20" y1="216.40" x2="723.20" y2="352.20" stroke="#111" stroke-width="1.3" stroke-linecap="butt"/>
<line x1="678.00" y1="302.10" x2="813.90" y2="302.10" stroke="#111" stroke-width="1.3" stroke-linecap="butt"/>
<text x="680.8" y="232.8" font-size="9.6" fill="#111" transform="translate(680.8 232.8) scale(1 1.04) translate(-680.8 -232.8)" stroke="#111" stroke-width="0.3">0.51</text>
<text x="680.8" y="342.9" font-size="9.6" fill="#111" transform="translate(680.8 342.9) scale(1 1.04) translate(-680.8 -342.9)" stroke="#111" stroke-width="0.3">99.3</text>
<text x="803.1" y="232.8" font-size="9.6" fill="#111" transform="translate(803.1 232.8) scale(1 1.04) translate(-803.1 -232.8)" stroke="#111" stroke-width="0.3">0</text>
<text x="801.7" y="342.9" font-size="9.6" text-anchor="end" fill="#111" transform="translate(801.7 342.9) scale(1 1.04) translate(-801.7 -342.9)" stroke="#111" stroke-width="0.3">0.21</text>
<line x1="674.20" y1="227.67" x2="678.00" y2="227.67" stroke="#222" stroke-width="1.0" stroke-linecap="butt"/>
<text x="669.5" y="229.9" font-size="5.6" text-anchor="middle" fill="#333">10<tspan font-size="4.5" dy="-2">5</tspan></text>
<line x1="674.20" y1="253.07" x2="678.00" y2="253.07" stroke="#222" stroke-width="1.0" stroke-linecap="butt"/>
<text x="669.5" y="255.3" font-size="5.6" text-anchor="middle" fill="#333">10<tspan font-size="4.5" dy="-2">4</tspan></text>
<line x1="674.20" y1="279.00" x2="678.00" y2="279.00" stroke="#222" stroke-width="1.0" stroke-linecap="butt"/>
<text x="669.5" y="281.2" font-size="5.6" text-anchor="middle" fill="#333">10<tspan font-size="4.5" dy="-2">3</tspan></text>
<line x1="674.20" y1="314.04" x2="678.00" y2="314.04" stroke="#222" stroke-width="1.0" stroke-linecap="butt"/>
<text x="671.5" y="316.2" font-size="5.6" text-anchor="end" fill="#333" transform="translate(671.5 316.2) scale(1 1.04) translate(-671.5 -316.2)">0</text>
<line x1="674.20" y1="350.43" x2="678.00" y2="350.43" stroke="#222" stroke-width="1.0" stroke-linecap="butt"/>
<text x="669.5" y="352.6" font-size="5.6" text-anchor="middle" fill="#333">-10<tspan font-size="4.5" dy="-2">3</tspan></text>
<line x1="676.30" y1="245.42" x2="678.00" y2="245.42" stroke="#222" stroke-width="0.8" stroke-linecap="butt"/>
<line x1="676.30" y1="240.95" x2="678.00" y2="240.95" stroke="#222" stroke-width="0.8" stroke-linecap="butt"/>
<line x1="676.30" y1="237.78" x2="678.00" y2="237.78" stroke="#222" stroke-width="0.8" stroke-linecap="butt"/>
<line x1="676.30" y1="235.32" x2="678.00" y2="235.32" stroke="#222" stroke-width="0.8" stroke-linecap="butt"/>
<line x1="676.30" y1="233.31" x2="678.00" y2="233.31" stroke="#222" stroke-width="0.8" stroke-linecap="butt"/>
<line x1="676.30" y1="231.61" x2="678.00" y2="231.61" stroke="#222" stroke-width="0.8" stroke-linecap="butt"/>
<line x1="676.30" y1="230.13" x2="678.00" y2="230.13" stroke="#222" stroke-width="0.8" stroke-linecap="butt"/>
<line x1="676.30" y1="228.83" x2="678.00" y2="228.83" stroke="#222" stroke-width="0.8" stroke-linecap="butt"/>
<line x1="676.30" y1="271.20" x2="678.00" y2="271.20" stroke="#222" stroke-width="0.8" stroke-linecap="butt"/>
<line x1="676.30" y1="266.63" x2="678.00" y2="266.63" stroke="#222" stroke-width="0.8" stroke-linecap="butt"/>
<line x1="676.30" y1="263.39" x2="678.00" y2="263.39" stroke="#222" stroke-width="0.8" stroke-linecap="butt"/>
<line x1="676.30" y1="260.87" x2="678.00" y2="260.87" stroke="#222" stroke-width="0.8" stroke-linecap="butt"/>
<line x1="676.30" y1="258.82" x2="678.00" y2="258.82" stroke="#222" stroke-width="0.8" stroke-linecap="butt"/>
<line x1="676.30" y1="257.08" x2="678.00" y2="257.08" stroke="#222" stroke-width="0.8" stroke-linecap="butt"/>
<line x1="676.30" y1="255.58" x2="678.00" y2="255.58" stroke="#222" stroke-width="0.8" stroke-linecap="butt"/>
<line x1="676.30" y1="254.25" x2="678.00" y2="254.25" stroke="#222" stroke-width="0.8" stroke-linecap="butt"/>
<line x1="676.30" y1="220.03" x2="678.00" y2="220.03" stroke="#222" stroke-width="0.8" stroke-linecap="butt"/>
<line x1="675.80" y1="284.92" x2="678.00" y2="284.92" stroke="#222" stroke-width="0.9" stroke-linecap="butt"/>
<line x1="675.80" y1="292.20" x2="678.00" y2="292.20" stroke="#222" stroke-width="0.9" stroke-linecap="butt"/>
<line x1="675.80" y1="299.48" x2="678.00" y2="299.48" stroke="#222" stroke-width="0.9" stroke-linecap="butt"/>
<line x1="675.80" y1="306.76" x2="678.00" y2="306.76" stroke="#222" stroke-width="0.9" stroke-linecap="butt"/>
<line x1="675.80" y1="321.32" x2="678.00" y2="321.32" stroke="#222" stroke-width="0.9" stroke-linecap="butt"/>
<line x1="675.80" y1="328.60" x2="678.00" y2="328.60" stroke="#222" stroke-width="0.9" stroke-linecap="butt"/>
<line x1="675.80" y1="335.88" x2="678.00" y2="335.88" stroke="#222" stroke-width="0.9" stroke-linecap="butt"/>
<line x1="675.80" y1="343.16" x2="678.00" y2="343.16" stroke="#222" stroke-width="0.9" stroke-linecap="butt"/>
<line x1="675.80" y1="350.43" x2="678.00" y2="350.43" stroke="#222" stroke-width="0.9" stroke-linecap="butt"/>
<line x1="674.80" y1="310.24" x2="678.00" y2="310.24" stroke="#111" stroke-width="1.0" stroke-linecap="butt"/>
<line x1="674.80" y1="312.14" x2="678.00" y2="312.14" stroke="#111" stroke-width="1.0" stroke-linecap="butt"/>
<line x1="674.80" y1="314.04" x2="678.00" y2="314.04" stroke="#111" stroke-width="1.0" stroke-linecap="butt"/>
<line x1="674.80" y1="315.94" x2="678.00" y2="315.94" stroke="#111" stroke-width="1.0" stroke-linecap="butt"/>
<line x1="674.80" y1="317.84" x2="678.00" y2="317.84" stroke="#111" stroke-width="1.0" stroke-linecap="butt"/>
<rect x="676.4" y="309.8" width="1.6" height="8.4" fill="#111"/>
<line x1="691.18" y1="352.20" x2="691.18" y2="356.00" stroke="#222" stroke-width="1.0" stroke-linecap="butt"/>
<text x="692.7" y="363.7" font-size="5.6" text-anchor="middle" fill="#333">-10<tspan font-size="4.5" dy="-2">3</tspan></text>
<line x1="721.08" y1="352.20" x2="721.08" y2="356.00" stroke="#222" stroke-width="1.0" stroke-linecap="butt"/>
<text x="721.1" y="363.7" font-size="5.6" text-anchor="middle" fill="#333" transform="translate(721.1 363.7) scale(1 1.04) translate(-721.1 -363.7)">0</text>
<line x1="752.20" y1="352.20" x2="752.20" y2="356.00" stroke="#222" stroke-width="1.0" stroke-linecap="butt"/>
<text x="753.7" y="363.7" font-size="5.6" text-anchor="middle" fill="#333">10<tspan font-size="4.5" dy="-2">3</tspan></text>
<line x1="778.16" y1="352.20" x2="778.16" y2="356.00" stroke="#222" stroke-width="1.0" stroke-linecap="butt"/>
<text x="779.7" y="363.7" font-size="5.6" text-anchor="middle" fill="#333">10<tspan font-size="4.5" dy="-2">4</tspan></text>
<line x1="804.12" y1="352.20" x2="804.12" y2="356.00" stroke="#222" stroke-width="1.0" stroke-linecap="butt"/>
<text x="805.6" y="363.7" font-size="5.6" text-anchor="middle" fill="#333">10<tspan font-size="4.5" dy="-2">5</tspan></text>
<line x1="760.02" y1="352.20" x2="760.02" y2="354.00" stroke="#222" stroke-width="0.8" stroke-linecap="butt"/>
<line x1="764.59" y1="352.20" x2="764.59" y2="354.00" stroke="#222" stroke-width="0.8" stroke-linecap="butt"/>
<line x1="767.83" y1="352.20" x2="767.83" y2="354.00" stroke="#222" stroke-width="0.8" stroke-linecap="butt"/>
<line x1="770.34" y1="352.20" x2="770.34" y2="354.00" stroke="#222" stroke-width="0.8" stroke-linecap="butt"/>
<line x1="772.40" y1="352.20" x2="772.40" y2="354.00" stroke="#222" stroke-width="0.8" stroke-linecap="butt"/>
<line x1="774.14" y1="352.20" x2="774.14" y2="354.00" stroke="#222" stroke-width="0.8" stroke-linecap="butt"/>
<line x1="775.64" y1="352.20" x2="775.64" y2="354.00" stroke="#222" stroke-width="0.8" stroke-linecap="butt"/>
<line x1="776.97" y1="352.20" x2="776.97" y2="354.00" stroke="#222" stroke-width="0.8" stroke-linecap="butt"/>
<line x1="785.97" y1="352.20" x2="785.97" y2="354.00" stroke="#222" stroke-width="0.8" stroke-linecap="butt"/>
<line x1="790.54" y1="352.20" x2="790.54" y2="354.00" stroke="#222" stroke-width="0.8" stroke-linecap="butt"/>
<line x1="793.79" y1="352.20" x2="793.79" y2="354.00" stroke="#222" stroke-width="0.8" stroke-linecap="butt"/>
<line x1="796.30" y1="352.20" x2="796.30" y2="354.00" stroke="#222" stroke-width="0.8" stroke-linecap="butt"/>
<line x1="798.36" y1="352.20" x2="798.36" y2="354.00" stroke="#222" stroke-width="0.8" stroke-linecap="butt"/>
<line x1="800.09" y1="352.20" x2="800.09" y2="354.00" stroke="#222" stroke-width="0.8" stroke-linecap="butt"/>
<line x1="801.60" y1="352.20" x2="801.60" y2="354.00" stroke="#222" stroke-width="0.8" stroke-linecap="butt"/>
<line x1="802.93" y1="352.20" x2="802.93" y2="354.00" stroke="#222" stroke-width="0.8" stroke-linecap="butt"/>
<line x1="811.93" y1="352.20" x2="811.93" y2="354.00" stroke="#222" stroke-width="0.8" stroke-linecap="butt"/>
<line x1="691.18" y1="352.20" x2="691.18" y2="354.40" stroke="#222" stroke-width="0.9" stroke-linecap="butt"/>
<line x1="697.16" y1="352.20" x2="697.16" y2="354.40" stroke="#222" stroke-width="0.9" stroke-linecap="butt"/>
<line x1="703.14" y1="352.20" x2="703.14" y2="354.40" stroke="#222" stroke-width="0.9" stroke-linecap="butt"/>
<line x1="709.12" y1="352.20" x2="709.12" y2="354.40" stroke="#222" stroke-width="0.9" stroke-linecap="butt"/>
<line x1="715.10" y1="352.20" x2="715.10" y2="354.40" stroke="#222" stroke-width="0.9" stroke-linecap="butt"/>
<line x1="721.08" y1="352.20" x2="721.08" y2="354.40" stroke="#222" stroke-width="0.9" stroke-linecap="butt"/>
<line x1="727.06" y1="352.20" x2="727.06" y2="354.40" stroke="#222" stroke-width="0.9" stroke-linecap="butt"/>
<line x1="733.04" y1="352.20" x2="733.04" y2="354.40" stroke="#222" stroke-width="0.9" stroke-linecap="butt"/>
<line x1="739.02" y1="352.20" x2="739.02" y2="354.40" stroke="#222" stroke-width="0.9" stroke-linecap="butt"/>
<line x1="745.00" y1="352.20" x2="745.00" y2="354.40" stroke="#222" stroke-width="0.9" stroke-linecap="butt"/>
<line x1="750.98" y1="352.20" x2="750.98" y2="354.40" stroke="#222" stroke-width="0.9" stroke-linecap="butt"/>
<line x1="717.28" y1="352.20" x2="717.28" y2="355.40" stroke="#111" stroke-width="1.0" stroke-linecap="butt"/>
<line x1="719.18" y1="352.20" x2="719.18" y2="355.40" stroke="#111" stroke-width="1.0" stroke-linecap="butt"/>
<line x1="721.08" y1="352.20" x2="721.08" y2="355.40" stroke="#111" stroke-width="1.0" stroke-linecap="butt"/>
<line x1="722.98" y1="352.20" x2="722.98" y2="355.40" stroke="#111" stroke-width="1.0" stroke-linecap="butt"/>
<line x1="724.88" y1="352.20" x2="724.88" y2="355.40" stroke="#111" stroke-width="1.0" stroke-linecap="butt"/>
<rect x="716.9" y="352.2" width="8.4" height="1.6" fill="#111"/>
<g clip-path="url(#fc4)"><path d="M193.2 472.3 184.4 472.3 179.2 471.1 175.6 469.5 172.5 467.3 171.0 464.9 170.7 463.3 171.8 460.1 173.7 457.7 176.0 455.4 179.2 453.5 182.8 452.7 184.8 452.7 185.6 452.3 187.6 452.3 188.4 451.9 192.0 451.5 195.2 451.5 198.8 452.7 200.0 452.7 206.8 454.3 211.2 454.7 214.4 455.5 217.2 455.5 218.0 455.9 219.6 455.9 222.0 457.0 222.8 457.8 223.8 459.7 223.8 461.3 221.2 464.4 218.3 466.9 214.0 469.1 207.6 471.1 205.6 471.1 204.8 471.5 199.6 471.5 198.8 471.9 194.0 471.9 193.2 472.3Z" fill="#0000ff"/><path d="M194.4 471.7 193.2 472.1 184.4 472.0 179.2 470.8 177.2 470.0 174.4 468.4 172.5 466.9 171.3 464.9 170.9 463.3 171.3 461.7 172.1 460.1 173.9 457.7 176.0 455.6 178.4 454.2 180.4 453.4 191.6 451.7 195.2 451.8 198.8 452.9 206.8 454.5 211.2 454.9 214.4 455.7 219.6 456.2 222.0 457.3 223.5 459.7 223.5 461.3 221.2 464.2 218.0 466.9 214.0 468.9 207.6 470.9 205.6 470.9 204.8 471.3 199.6 471.3 198.8 471.7 194.4 471.7Z" fill="#0016ff"/><path d="M193.2 471.8 184.4 471.8 179.2 470.6 175.6 469.0 172.8 467.0 171.5 464.9 171.2 463.3 171.5 461.7 172.3 460.1 176.3 455.7 179.2 454.0 182.8 453.2 192.8 452.0 195.2 452.0 198.4 453.0 206.8 454.7 219.6 456.4 221.7 457.3 222.5 458.1 223.3 459.7 223.2 461.3 221.0 464.1 218.0 466.6 214.0 468.6 207.6 470.6 204.4 471.1 199.6 471.1 198.4 471.5 194.0 471.5 193.2 471.8Z" fill="#001dff"/><path d="M194.8 471.3 192.4 471.6 184.8 471.6 179.2 470.3 177.2 469.5 174.4 467.9 172.2 465.7 171.5 463.3 171.8 461.7 172.6 460.1 174.8 457.5 176.4 455.9 178.8 454.5 180.8 453.8 192.0 452.2 194.8 452.2 198.4 453.3 206.4 454.8 219.6 456.7 221.6 457.6 222.9 459.7 222.9 461.3 220.8 463.9 218.0 466.3 214.0 468.4 210.8 469.6 207.2 470.5 204.4 470.9 194.8 471.3Z" fill="#003dff"/><path d="M192.8 471.3 184.8 471.2 180.0 470.1 176.8 468.8 174.4 467.3 172.6 465.3 172.1 463.3 172.5 461.3 175.6 457.3 179.0 454.9 183.2 453.9 192.8 452.6 194.8 452.7 206.4 455.2 219.2 457.1 221.2 457.9 222.3 459.3 222.5 460.5 222.3 461.3 220.9 463.3 217.7 466.1 213.9 468.1 210.7 469.3 207.2 470.1 192.8 471.3Z" fill="#0063ff"/><path d="M194.4 470.5 191.2 470.8 185.6 470.6 181.2 469.7 178.0 468.6 175.2 467.0 173.5 465.3 172.9 463.7 173.2 461.7 176.3 457.7 179.6 455.5 183.2 454.7 192.8 453.4 194.8 453.5 218.8 457.8 220.6 458.5 221.5 459.7 221.6 460.5 221.1 461.7 218.0 464.9 215.7 466.5 212.0 468.2 208.0 469.4 204.4 469.9 194.4 470.5Z" fill="#0089ff"/><path d="M192.8 470.1 185.6 469.9 178.8 468.1 176.4 466.9 174.5 465.3 173.7 463.7 173.9 462.1 176.6 458.5 179.6 456.4 183.2 455.5 192.8 454.1 217.2 458.2 219.6 458.9 220.5 459.7 220.6 460.5 220.1 461.7 217.4 464.5 214.8 466.2 211.2 467.8 207.6 468.8 204.0 469.4 192.8 470.1Z" fill="#00b9ff"/><path d="M197.6 469.3 188.4 469.6 185.2 469.3 182.0 468.5 178.4 467.1 176.1 465.7 174.7 464.1 174.7 462.5 177.2 459.0 180.0 457.1 183.6 456.2 192.8 454.9 216.4 458.9 218.4 459.4 219.4 460.1 219.3 461.3 216.8 464.0 214.8 465.4 211.7 466.9 206.8 468.3 197.6 469.3Z" fill="#00eaff"/><path d="M196.4 468.9 188.4 469.1 185.6 468.8 182.4 468.0 179.2 466.7 176.9 465.3 175.6 463.8 175.6 462.5 177.6 459.7 180.4 457.8 183.6 457.0 192.8 455.7 210.0 458.4 216.3 459.7 217.8 460.5 217.7 461.7 216.0 463.6 213.6 465.2 210.8 466.5 206.0 467.8 196.4 468.9Z" fill="#00f3bb"/><path d="M195.6 468.5 188.8 468.7 183.2 467.6 180.0 466.3 177.6 464.9 176.6 463.7 176.6 462.5 178.4 460.1 181.2 458.3 193.2 456.4 210.0 459.1 215.5 460.5 216.4 461.3 215.9 462.5 214.6 463.7 209.6 466.3 204.0 467.6 195.6 468.5Z" fill="#00fa75"/><path d="M195.6 468.1 190.0 468.3 184.4 467.4 181.2 466.2 178.9 464.9 177.8 463.7 177.7 462.5 179.2 460.4 181.6 459.0 187.2 457.9 193.2 457.1 207.6 459.3 212.5 460.5 214.0 461.1 214.7 461.7 214.4 462.5 213.1 463.7 208.8 465.8 203.6 467.1 195.6 468.1Z" fill="#00f03e"/><path d="M196.0 467.7 190.4 468.0 185.2 467.2 182.4 466.1 180.3 464.9 178.9 463.7 178.7 462.5 179.8 460.9 182.0 459.6 187.2 458.5 193.2 457.7 206.8 459.7 211.1 460.9 212.4 461.5 212.8 462.1 212.5 462.9 211.5 463.7 207.6 465.5 203.2 466.6 196.0 467.7Z" fill="#00e707"/><path d="M196.0 467.3 190.4 467.6 185.6 466.9 183.2 465.9 180.9 464.5 179.8 463.3 179.7 462.5 180.8 461.0 182.8 460.1 187.6 458.9 193.2 458.3 204.8 460.0 209.2 461.1 210.9 462.1 211.0 462.5 210.4 463.3 207.2 465.0 203.2 466.0 196.0 467.3Z" fill="#2ce900"/><path d="M192.0 467.3 187.6 466.9 184.4 465.9 181.2 463.7 180.8 462.9 180.9 462.1 182.4 460.9 184.8 460.1 189.2 459.1 193.2 458.7 204.4 460.5 208.2 461.7 209.0 462.5 208.6 463.3 207.6 463.9 203.7 465.3 196.8 466.9 192.0 467.3Z" fill="#5fec00"/><path d="M193.2 466.9 189.6 466.9 185.9 466.1 183.1 464.5 182.0 463.3 181.9 462.5 183.0 461.3 185.6 460.3 189.6 459.5 193.2 459.2 202.4 460.7 205.8 461.7 206.9 462.5 206.9 462.9 206.0 463.7 202.9 464.9 196.8 466.5 193.2 466.9Z" fill="#92ef00"/><path d="M194.0 466.5 190.0 466.6 186.4 465.8 183.6 464.1 183.0 463.3 183.0 462.5 184.0 461.5 186.7 460.5 190.0 459.8 193.2 459.6 200.9 460.9 203.4 461.7 204.6 462.5 204.4 463.3 202.4 464.3 197.2 466.0 194.0 466.5Z" fill="#c4f000"/><path d="M194.4 466.1 190.8 466.3 187.2 465.7 184.5 464.1 184.0 463.3 184.0 462.5 184.9 461.7 187.2 460.8 192.8 460.0 198.7 460.9 201.2 461.7 202.5 462.5 202.3 463.3 201.0 464.1 197.2 465.6 194.4 466.1Z" fill="#f5f000"/><path d="M194.8 465.7 191.2 466.0 188.0 465.5 185.9 464.5 185.1 463.7 184.9 462.9 185.4 462.1 187.2 461.2 192.4 460.4 197.2 461.0 199.3 461.7 200.5 462.5 200.4 463.3 199.3 464.1 197.2 465.1 194.8 465.7Z" fill="#ffc800"/><path d="M191.6 465.7 188.8 465.3 186.8 464.5 185.8 463.3 186.0 462.5 188.4 461.3 192.8 460.7 196.5 461.3 198.9 462.5 199.0 462.9 198.6 463.7 196.8 464.8 194.4 465.4 191.6 465.7Z" fill="#ff9700"/><path d="M192.4 465.3 190.4 465.3 188.4 464.7 186.9 463.7 186.8 462.9 187.6 462.1 188.6 461.7 192.0 461.1 195.2 461.4 197.5 462.5 197.7 463.3 196.8 464.1 194.9 464.9 192.4 465.3Z" fill="#ff6300"/><path d="M192.0 464.9 190.4 464.8 188.8 464.3 188.0 463.7 187.9 462.9 189.6 461.9 192.4 461.5 195.2 462.0 196.4 462.9 196.1 463.7 195.5 464.1 192.0 464.9Z" fill="#ff2c00"/><path d="M193.6 464.1 190.8 464.3 189.6 463.9 189.1 463.3 189.2 462.9 190.4 462.3 193.2 462.1 194.9 462.9 194.5 463.7 193.6 464.1Z" fill="#ff0000"/></g>
<rect x="157.20" y="371.50" width="135.80" height="135.70" fill="none" stroke="#7a7a7a" stroke-width="1.1"/>
<line x1="206.50" y1="371.50" x2="206.50" y2="507.20" stroke="#111" stroke-width="1.3" stroke-linecap="butt"/>
<line x1="157.20" y1="434.90" x2="293.00" y2="434.90" stroke="#111" stroke-width="1.3" stroke-linecap="butt"/>
<text x="160.0" y="387.9" font-size="9.6" fill="#111" transform="translate(160.0 387.9) scale(1 1.04) translate(-160.0 -387.9)" stroke="#111" stroke-width="0.3">0</text>
<text x="160.0" y="497.9" font-size="9.6" fill="#111" transform="translate(160.0 497.9) scale(1 1.04) translate(-160.0 -497.9)" stroke="#111" stroke-width="0.3">87.2</text>
<text x="282.2" y="387.9" font-size="9.6" fill="#111" transform="translate(282.2 387.9) scale(1 1.04) translate(-282.2 -387.9)" stroke="#111" stroke-width="0.3">0</text>
<text x="280.8" y="497.9" font-size="9.6" text-anchor="end" fill="#111" transform="translate(280.8 497.9) scale(1 1.04) translate(-280.8 -497.9)" stroke="#111" stroke-width="0.3">12.8</text>
<line x1="153.40" y1="372.60" x2="157.20" y2="372.60" stroke="#222" stroke-width="1.0" stroke-linecap="butt"/>
<line x1="155.50" y1="379.34" x2="157.20" y2="379.34" stroke="#222" stroke-width="0.8" stroke-linecap="butt"/>
<line x1="155.50" y1="386.08" x2="157.20" y2="386.08" stroke="#222" stroke-width="0.8" stroke-linecap="butt"/>
<line x1="155.50" y1="392.82" x2="157.20" y2="392.82" stroke="#222" stroke-width="0.8" stroke-linecap="butt"/>
<line x1="155.50" y1="399.56" x2="157.20" y2="399.56" stroke="#222" stroke-width="0.8" stroke-linecap="butt"/>
<line x1="153.40" y1="406.29" x2="157.20" y2="406.29" stroke="#222" stroke-width="1.0" stroke-linecap="butt"/>
<line x1="155.50" y1="413.03" x2="157.20" y2="413.03" stroke="#222" stroke-width="0.8" stroke-linecap="butt"/>
<line x1="155.50" y1="419.77" x2="157.20" y2="419.77" stroke="#222" stroke-width="0.8" stroke-linecap="butt"/>
<line x1="155.50" y1="426.51" x2="157.20" y2="426.51" stroke="#222" stroke-width="0.8" stroke-linecap="butt"/>
<line x1="155.50" y1="433.25" x2="157.20" y2="433.25" stroke="#222" stroke-width="0.8" stroke-linecap="butt"/>
<line x1="153.40" y1="439.99" x2="157.20" y2="439.99" stroke="#222" stroke-width="1.0" stroke-linecap="butt"/>
<line x1="155.50" y1="446.73" x2="157.20" y2="446.73" stroke="#222" stroke-width="0.8" stroke-linecap="butt"/>
<line x1="155.50" y1="453.47" x2="157.20" y2="453.47" stroke="#222" stroke-width="0.8" stroke-linecap="butt"/>
<line x1="155.50" y1="460.20" x2="157.20" y2="460.20" stroke="#222" stroke-width="0.8" stroke-linecap="butt"/>
<line x1="155.50" y1="466.94" x2="157.20" y2="466.94" stroke="#222" stroke-width="0.8" stroke-linecap="butt"/>
<line x1="153.40" y1="473.68" x2="157.20" y2="473.68" stroke="#222" stroke-width="1.0" stroke-linecap="butt"/>
<line x1="155.50" y1="480.42" x2="157.20" y2="480.42" stroke="#222" stroke-width="0.8" stroke-linecap="butt"/>
<line x1="155.50" y1="487.16" x2="157.20" y2="487.16" stroke="#222" stroke-width="0.8" stroke-linecap="butt"/>
<line x1="155.50" y1="493.90" x2="157.20" y2="493.90" stroke="#222" stroke-width="0.8" stroke-linecap="butt"/>
<line x1="155.50" y1="500.64" x2="157.20" y2="500.64" stroke="#222" stroke-width="0.8" stroke-linecap="butt"/>
<text x="150.9" y="374.6" font-size="5.2" text-anchor="end" fill="#333" transform="translate(150.9 374.6) scale(1 1.04) translate(-150.9 -374.6)">150K</text>
<text x="150.9" y="408.3" font-size="5.2" text-anchor="end" fill="#333" transform="translate(150.9 408.3) scale(1 1.04) translate(-150.9 -408.3)">100K</text>
<text x="150.9" y="442.0" font-size="5.2" text-anchor="end" fill="#333" transform="translate(150.9 442.0) scale(1 1.04) translate(-150.9 -442.0)">50K</text>
<text x="150.9" y="475.7" font-size="5.2" text-anchor="end" fill="#333" transform="translate(150.9 475.7) scale(1 1.04) translate(-150.9 -475.7)">0</text>
<line x1="162.36" y1="507.20" x2="162.36" y2="511.00" stroke="#222" stroke-width="1.0" stroke-linecap="butt"/>
<text x="163.9" y="518.7" font-size="5.6" text-anchor="middle" fill="#333">-10<tspan font-size="4.5" dy="-2">3</tspan></text>
<line x1="196.72" y1="507.20" x2="196.72" y2="511.00" stroke="#222" stroke-width="1.0" stroke-linecap="butt"/>
<text x="196.7" y="518.7" font-size="5.6" text-anchor="middle" fill="#333" transform="translate(196.7 518.7) scale(1 1.04) translate(-196.7 -518.7)">0</text>
<line x1="233.52" y1="507.20" x2="233.52" y2="511.00" stroke="#222" stroke-width="1.0" stroke-linecap="butt"/>
<text x="235.0" y="518.7" font-size="5.6" text-anchor="middle" fill="#333">10<tspan font-size="4.5" dy="-2">3</tspan></text>
<line x1="259.32" y1="507.20" x2="259.32" y2="511.00" stroke="#222" stroke-width="1.0" stroke-linecap="butt"/>
<text x="260.8" y="518.7" font-size="5.6" text-anchor="middle" fill="#333">10<tspan font-size="4.5" dy="-2">4</tspan></text>
<line x1="285.26" y1="507.20" x2="285.26" y2="511.00" stroke="#222" stroke-width="1.0" stroke-linecap="butt"/>
<text x="286.8" y="518.7" font-size="5.6" text-anchor="middle" fill="#333">10<tspan font-size="4.5" dy="-2">5</tspan></text>
<line x1="241.29" y1="507.20" x2="241.29" y2="509.00" stroke="#222" stroke-width="0.8" stroke-linecap="butt"/>
<line x1="245.83" y1="507.20" x2="245.83" y2="509.00" stroke="#222" stroke-width="0.8" stroke-linecap="butt"/>
<line x1="249.05" y1="507.20" x2="249.05" y2="509.00" stroke="#222" stroke-width="0.8" stroke-linecap="butt"/>
<line x1="251.55" y1="507.20" x2="251.55" y2="509.00" stroke="#222" stroke-width="0.8" stroke-linecap="butt"/>
<line x1="253.60" y1="507.20" x2="253.60" y2="509.00" stroke="#222" stroke-width="0.8" stroke-linecap="butt"/>
<line x1="255.32" y1="507.20" x2="255.32" y2="509.00" stroke="#222" stroke-width="0.8" stroke-linecap="butt"/>
<line x1="256.82" y1="507.20" x2="256.82" y2="509.00" stroke="#222" stroke-width="0.8" stroke-linecap="butt"/>
<line x1="258.14" y1="507.20" x2="258.14" y2="509.00" stroke="#222" stroke-width="0.8" stroke-linecap="butt"/>
<line x1="267.13" y1="507.20" x2="267.13" y2="509.00" stroke="#222" stroke-width="0.8" stroke-linecap="butt"/>
<line x1="271.70" y1="507.20" x2="271.70" y2="509.00" stroke="#222" stroke-width="0.8" stroke-linecap="butt"/>
<line x1="274.94" y1="507.20" x2="274.94" y2="509.00" stroke="#222" stroke-width="0.8" stroke-linecap="butt"/>
<line x1="277.45" y1="507.20" x2="277.45" y2="509.00" stroke="#222" stroke-width="0.8" stroke-linecap="butt"/>
<line x1="279.51" y1="507.20" x2="279.51" y2="509.00" stroke="#222" stroke-width="0.8" stroke-linecap="butt"/>
<line x1="281.24" y1="507.20" x2="281.24" y2="509.00" stroke="#222" stroke-width="0.8" stroke-linecap="butt"/>
<line x1="282.75" y1="507.20" x2="282.75" y2="509.00" stroke="#222" stroke-width="0.8" stroke-linecap="butt"/>
<line x1="284.07" y1="507.20" x2="284.07" y2="509.00" stroke="#222" stroke-width="0.8" stroke-linecap="butt"/>
<line x1="162.36" y1="507.20" x2="162.36" y2="509.40" stroke="#222" stroke-width="0.9" stroke-linecap="butt"/>
<line x1="169.23" y1="507.20" x2="169.23" y2="509.40" stroke="#222" stroke-width="0.9" stroke-linecap="butt"/>
<line x1="176.10" y1="507.20" x2="176.10" y2="509.40" stroke="#222" stroke-width="0.9" stroke-linecap="butt"/>
<line x1="182.97" y1="507.20" x2="182.97" y2="509.40" stroke="#222" stroke-width="0.9" stroke-linecap="butt"/>
<line x1="189.85" y1="507.20" x2="189.85" y2="509.40" stroke="#222" stroke-width="0.9" stroke-linecap="butt"/>
<line x1="196.72" y1="507.20" x2="196.72" y2="509.40" stroke="#222" stroke-width="0.9" stroke-linecap="butt"/>
<line x1="203.59" y1="507.20" x2="203.59" y2="509.40" stroke="#222" stroke-width="0.9" stroke-linecap="butt"/>
<line x1="210.46" y1="507.20" x2="210.46" y2="509.40" stroke="#222" stroke-width="0.9" stroke-linecap="butt"/>
<line x1="217.33" y1="507.20" x2="217.33" y2="509.40" stroke="#222" stroke-width="0.9" stroke-linecap="butt"/>
<line x1="224.20" y1="507.20" x2="224.20" y2="509.40" stroke="#222" stroke-width="0.9" stroke-linecap="butt"/>
<line x1="231.08" y1="507.20" x2="231.08" y2="509.40" stroke="#222" stroke-width="0.9" stroke-linecap="butt"/>
<line x1="192.92" y1="507.20" x2="192.92" y2="510.40" stroke="#111" stroke-width="1.0" stroke-linecap="butt"/>
<line x1="194.82" y1="507.20" x2="194.82" y2="510.40" stroke="#111" stroke-width="1.0" stroke-linecap="butt"/>
<line x1="196.72" y1="507.20" x2="196.72" y2="510.40" stroke="#111" stroke-width="1.0" stroke-linecap="butt"/>
<line x1="198.62" y1="507.20" x2="198.62" y2="510.40" stroke="#111" stroke-width="1.0" stroke-linecap="butt"/>
<line x1="200.52" y1="507.20" x2="200.52" y2="510.40" stroke="#111" stroke-width="1.0" stroke-linecap="butt"/>
<rect x="192.5" y="507.2" width="8.4" height="1.6" fill="#111"/>
<g clip-path="url(#fc5)"><path d="M396.9 492.4 387.3 492.4 384.1 491.6 382.3 490.7 380.3 488.7 378.8 486.3 376.0 479.9 376.0 476.7 377.2 472.3 378.4 465.1 380.4 456.3 380.8 451.5 381.6 448.7 383.5 445.9 386.5 443.3 392.1 440.2 394.5 439.4 396.9 439.4 400.1 440.6 404.6 443.1 408.1 446.2 409.8 448.7 410.6 450.7 411.4 453.1 411.8 457.5 412.7 459.5 417.1 463.5 418.6 465.9 418.7 467.1 418.2 469.1 418.2 471.9 421.0 476.3 421.0 477.9 419.8 480.3 417.1 484.3 416.2 485.1 414.1 486.4 408.1 488.1 402.5 491.2 399.7 492.0 397.7 492.0 396.9 492.4Z" fill="#0000ff"/><path d="M396.9 492.1 387.3 492.1 384.1 491.3 382.5 490.5 380.5 488.6 379.1 486.3 376.7 481.1 376.3 479.5 376.3 476.7 380.6 456.3 381.1 451.5 381.9 448.7 383.7 446.1 386.9 443.3 392.1 440.5 394.9 439.7 396.9 439.7 398.1 440.1 403.3 442.5 406.3 444.7 407.9 446.3 409.5 448.7 410.3 450.7 411.1 453.1 411.6 457.9 412.4 459.5 416.9 463.7 418.2 465.9 417.9 471.9 420.7 476.7 420.6 477.9 419.5 480.3 416.9 484.1 414.9 485.7 408.1 487.8 402.5 490.9 396.9 492.1Z" fill="#0016ff"/><path d="M396.1 491.9 387.7 491.8 385.3 491.3 382.5 490.1 380.7 488.3 379.3 485.9 377.1 481.1 376.6 478.7 377.0 475.1 380.9 456.3 381.4 451.9 382.4 448.7 384.5 445.8 388.1 443.0 392.1 441.0 395.3 440.1 398.1 440.6 403.3 443.0 406.1 445.0 408.2 447.5 409.0 448.7 410.6 453.1 411.2 457.5 412.1 459.5 414.9 462.5 416.6 463.9 417.8 465.9 418.0 467.1 417.6 469.1 417.6 471.9 418.3 473.5 420.2 476.3 420.3 477.1 420.1 478.1 418.2 481.5 416.6 483.9 414.9 485.2 408.1 487.5 402.5 490.6 399.3 491.5 396.1 491.9Z" fill="#001dff"/><path d="M396.5 491.1 388.5 491.0 385.3 490.2 383.3 489.2 381.7 487.7 379.9 484.7 378.2 480.7 377.7 478.3 379.9 465.1 382.7 451.9 383.4 449.5 385.4 446.7 388.4 444.3 392.5 442.2 395.7 441.4 398.1 442.0 402.5 444.0 405.6 446.3 407.3 448.5 409.2 452.7 410.9 459.5 412.1 461.3 415.3 464.6 416.2 465.9 416.5 467.1 416.4 472.3 418.6 477.1 418.4 478.3 417.3 480.3 415.6 482.7 414.1 484.0 407.7 486.6 401.7 489.9 396.5 491.1Z" fill="#003dff"/><path d="M396.1 489.5 388.9 489.4 386.1 488.8 384.3 487.9 382.9 486.6 381.3 483.9 379.7 479.9 379.4 477.9 381.5 464.7 384.4 452.3 385.1 450.3 386.8 447.9 389.3 445.9 392.9 444.1 395.7 443.4 398.5 444.1 401.7 445.7 404.5 447.9 406.0 449.9 407.5 453.1 408.7 458.3 409.4 460.3 410.7 462.3 414.3 466.7 414.6 472.7 416.1 476.3 416.4 477.5 414.7 480.7 412.9 482.5 407.3 484.8 401.3 488.3 396.1 489.5Z" fill="#0063ff"/><path d="M396.1 487.9 389.3 487.9 385.3 486.7 384.0 485.5 382.5 483.1 381.2 479.9 380.9 477.9 382.7 466.3 386.6 451.5 387.8 449.5 390.1 447.6 393.3 446.0 395.7 445.4 398.1 446.0 400.9 447.5 403.1 449.1 404.6 451.1 405.9 453.9 407.1 458.7 408.1 461.2 412.4 467.5 412.7 473.1 414.0 477.5 413.1 479.5 411.7 480.8 406.5 483.3 400.9 486.7 396.1 487.9Z" fill="#0089ff"/><path d="M396.1 486.4 390.1 486.6 387.7 486.2 386.1 485.5 384.9 484.5 383.5 482.3 382.4 479.5 382.1 477.5 382.6 472.7 383.8 467.1 388.2 452.3 389.3 450.7 391.3 449.1 394.1 447.7 395.7 447.4 398.1 448.1 400.5 449.5 402.1 450.8 403.4 452.7 406.9 462.3 410.5 468.3 410.8 473.5 411.7 477.1 411.4 478.3 410.6 479.1 406.1 481.5 401.2 484.7 398.9 485.7 396.1 486.4Z" fill="#00b9ff"/><path d="M394.9 485.1 389.7 485.3 387.7 484.9 386.5 484.3 385.1 482.7 384.0 480.7 383.3 478.7 383.2 476.7 383.7 472.3 384.8 467.5 389.9 453.1 390.7 451.9 392.1 450.8 394.1 449.8 395.7 449.5 397.7 450.0 399.7 451.2 401.0 452.3 402.3 454.3 406.1 463.8 408.7 468.7 409.4 476.3 409.2 477.1 408.5 477.9 400.5 483.3 398.5 484.2 394.9 485.1Z" fill="#00eaff"/><path d="M394.5 483.9 389.7 484.2 388.1 483.8 386.9 483.1 385.5 481.5 384.5 479.5 384.1 475.9 384.7 471.5 385.9 467.1 391.3 454.5 392.9 452.5 394.5 451.7 395.7 451.5 397.3 451.9 399.3 453.2 400.5 454.6 401.9 457.1 407.0 469.1 407.3 475.1 407.2 475.9 406.5 476.9 400.1 481.8 398.1 482.9 394.5 483.9Z" fill="#00f3bb"/><path d="M392.9 483.1 388.9 483.0 387.7 482.4 386.7 481.5 385.1 478.3 385.0 473.9 386.3 468.3 389.1 461.9 393.4 454.7 394.5 453.8 396.1 453.5 397.7 454.2 398.9 455.3 400.9 458.2 402.9 461.9 405.6 469.5 405.7 473.9 404.9 475.9 399.4 480.7 396.5 482.2 392.9 483.1Z" fill="#00fa75"/><path d="M392.1 482.3 388.9 482.0 387.7 481.3 386.8 480.3 385.7 477.5 385.8 473.1 387.0 468.3 389.3 463.5 394.1 456.8 395.3 455.7 396.1 455.5 397.3 456.1 398.9 457.8 402.2 462.7 404.3 469.5 404.4 473.1 404.1 474.3 403.3 475.5 398.9 479.7 395.3 481.6 392.1 482.3Z" fill="#00f03e"/><path d="M392.1 481.5 389.3 481.3 388.1 480.5 387.2 479.5 386.3 476.7 386.5 472.3 388.0 467.5 390.5 463.1 394.5 458.6 395.7 457.9 396.5 457.9 399.3 460.1 401.6 463.5 403.2 469.1 403.3 472.7 402.0 475.1 398.5 478.8 395.3 480.7 392.1 481.5Z" fill="#00e707"/><path d="M392.5 480.7 389.7 480.5 388.6 479.9 387.7 478.8 386.9 476.3 387.0 472.3 388.5 467.9 390.9 463.8 394.1 460.5 395.3 459.7 396.5 459.6 397.7 460.1 399.3 461.5 401.1 464.3 402.2 468.3 402.3 472.3 401.1 474.7 398.1 478.1 395.3 479.8 392.5 480.7Z" fill="#2ce900"/><path d="M392.9 479.9 390.1 479.9 388.9 479.2 388.2 478.3 387.4 475.9 387.6 472.3 388.9 468.3 391.0 464.7 394.1 461.7 395.3 461.0 396.5 460.9 398.8 462.3 400.5 464.7 401.5 468.3 401.5 471.9 400.7 473.9 398.1 477.1 395.7 478.8 392.9 479.9Z" fill="#5fec00"/><path d="M393.3 479.2 390.5 479.2 388.9 478.1 388.0 475.5 388.1 472.3 389.2 468.7 391.3 465.3 394.1 462.7 395.3 462.1 396.5 462.0 398.5 463.1 400.1 465.5 400.8 468.7 400.8 471.9 399.8 473.9 397.7 476.5 395.7 478.1 393.3 479.2Z" fill="#92ef00"/><path d="M392.1 478.7 390.1 478.2 388.9 476.7 388.4 474.3 388.9 471.1 390.1 468.1 392.1 465.3 394.5 463.3 396.5 462.9 398.2 463.9 399.5 465.9 400.2 468.7 400.1 471.9 398.8 474.3 396.6 476.7 394.5 478.1 392.1 478.7Z" fill="#c4f000"/><path d="M392.9 478.0 390.9 477.8 389.6 476.7 389.0 474.3 389.2 471.5 390.5 468.4 392.3 465.9 394.5 464.2 396.5 463.8 398.1 464.9 399.1 466.7 399.6 469.1 399.5 471.5 398.7 473.5 396.9 475.7 394.9 477.2 392.9 478.0Z" fill="#f5f000"/><path d="M393.3 477.2 391.3 477.2 390.1 476.1 389.5 473.9 389.8 471.5 390.9 468.7 392.5 466.5 394.5 465.0 395.7 464.6 396.5 464.7 397.7 465.5 398.6 467.1 399.0 469.1 398.9 471.5 398.2 473.1 396.7 475.1 394.9 476.5 393.3 477.2Z" fill="#ffc800"/><path d="M393.7 476.4 391.7 476.5 390.6 475.5 390.1 473.9 390.3 471.5 391.2 469.1 392.7 467.1 394.5 465.8 396.1 465.5 397.3 466.2 398.1 467.5 398.5 469.1 398.4 471.1 397.8 472.7 396.7 474.3 395.3 475.6 393.7 476.4Z" fill="#ff9700"/><path d="M394.1 475.6 392.5 475.8 391.3 475.1 390.7 473.5 390.9 471.5 391.6 469.5 392.9 467.8 394.5 466.6 396.1 466.4 397.0 467.1 397.6 468.3 397.8 471.1 396.5 473.7 394.1 475.6Z" fill="#ff6300"/><path d="M394.1 474.7 392.9 474.9 391.9 474.3 391.4 473.1 391.5 471.5 392.1 469.9 393.3 468.4 394.5 467.5 395.7 467.4 396.5 467.8 397.0 468.7 397.1 471.1 396.1 473.2 394.1 474.7Z" fill="#ff2c00"/><path d="M394.5 473.5 393.7 473.8 392.7 473.5 392.3 472.7 392.3 471.5 393.3 469.5 394.5 468.6 395.3 468.5 396.1 469.2 396.3 470.7 395.7 472.3 394.5 473.5Z" fill="#ff0000"/></g>
<rect x="351.70" y="371.50" width="136.10" height="135.70" fill="none" stroke="#7a7a7a" stroke-width="1.1"/>
<line x1="404.30" y1="371.50" x2="404.30" y2="507.20" stroke="#111" stroke-width="1.3" stroke-linecap="butt"/>
<line x1="351.70" y1="457.50" x2="487.80" y2="457.50" stroke="#111" stroke-width="1.3" stroke-linecap="butt"/>
<text x="354.5" y="387.9" font-size="9.6" fill="#111" transform="translate(354.5 387.9) scale(1 1.04) translate(-354.5 -387.9)" stroke="#111" stroke-width="0.3">11.5</text>
<text x="354.5" y="497.9" font-size="9.6" fill="#111" transform="translate(354.5 497.9) scale(1 1.04) translate(-354.5 -497.9)" stroke="#111" stroke-width="0.3">79.9</text>
<text x="475.6" y="387.9" font-size="9.6" text-anchor="end" fill="#111" transform="translate(475.6 387.9) scale(1 1.04) translate(-475.6 -387.9)" stroke="#111" stroke-width="0.3">1.48</text>
<text x="475.6" y="497.9" font-size="9.6" text-anchor="end" fill="#111" transform="translate(475.6 497.9) scale(1 1.04) translate(-475.6 -497.9)" stroke="#111" stroke-width="0.3">7.11</text>
<line x1="347.90" y1="382.76" x2="351.70" y2="382.76" stroke="#222" stroke-width="1.0" stroke-linecap="butt"/>
<text x="343.2" y="385.0" font-size="5.6" text-anchor="middle" fill="#333">10<tspan font-size="4.5" dy="-2">5</tspan></text>
<line x1="347.90" y1="408.14" x2="351.70" y2="408.14" stroke="#222" stroke-width="1.0" stroke-linecap="butt"/>
<text x="343.2" y="410.3" font-size="5.6" text-anchor="middle" fill="#333">10<tspan font-size="4.5" dy="-2">4</tspan></text>
<line x1="347.90" y1="434.06" x2="351.70" y2="434.06" stroke="#222" stroke-width="1.0" stroke-linecap="butt"/>
<text x="343.2" y="436.3" font-size="5.6" text-anchor="middle" fill="#333">10<tspan font-size="4.5" dy="-2">3</tspan></text>
<line x1="347.90" y1="469.07" x2="351.70" y2="469.07" stroke="#222" stroke-width="1.0" stroke-linecap="butt"/>
<text x="345.2" y="471.3" font-size="5.6" text-anchor="end" fill="#333" transform="translate(345.2 471.3) scale(1 1.04) translate(-345.2 -471.3)">0</text>
<line x1="347.90" y1="505.44" x2="351.70" y2="505.44" stroke="#222" stroke-width="1.0" stroke-linecap="butt"/>
<text x="343.2" y="507.6" font-size="5.6" text-anchor="middle" fill="#333">-10<tspan font-size="4.5" dy="-2">3</tspan></text>
<line x1="350.00" y1="400.50" x2="351.70" y2="400.50" stroke="#222" stroke-width="0.8" stroke-linecap="butt"/>
<line x1="350.00" y1="396.03" x2="351.70" y2="396.03" stroke="#222" stroke-width="0.8" stroke-linecap="butt"/>
<line x1="350.00" y1="392.86" x2="351.70" y2="392.86" stroke="#222" stroke-width="0.8" stroke-linecap="butt"/>
<line x1="350.00" y1="390.40" x2="351.70" y2="390.40" stroke="#222" stroke-width="0.8" stroke-linecap="butt"/>
<line x1="350.00" y1="388.39" x2="351.70" y2="388.39" stroke="#222" stroke-width="0.8" stroke-linecap="butt"/>
<line x1="350.00" y1="386.69" x2="351.70" y2="386.69" stroke="#222" stroke-width="0.8" stroke-linecap="butt"/>
<line x1="350.00" y1="385.22" x2="351.70" y2="385.22" stroke="#222" stroke-width="0.8" stroke-linecap="butt"/>
<line x1="350.00" y1="383.92" x2="351.70" y2="383.92" stroke="#222" stroke-width="0.8" stroke-linecap="butt"/>
<line x1="350.00" y1="426.26" x2="351.70" y2="426.26" stroke="#222" stroke-width="0.8" stroke-linecap="butt"/>
<line x1="350.00" y1="421.69" x2="351.70" y2="421.69" stroke="#222" stroke-width="0.8" stroke-linecap="butt"/>
<line x1="350.00" y1="418.45" x2="351.70" y2="418.45" stroke="#222" stroke-width="0.8" stroke-linecap="butt"/>
<line x1="350.00" y1="415.94" x2="351.70" y2="415.94" stroke="#222" stroke-width="0.8" stroke-linecap="butt"/>
<line x1="350.00" y1="413.89" x2="351.70" y2="413.89" stroke="#222" stroke-width="0.8" stroke-linecap="butt"/>
<line x1="350.00" y1="412.15" x2="351.70" y2="412.15" stroke="#222" stroke-width="0.8" stroke-linecap="butt"/>
<line x1="350.00" y1="410.65" x2="351.70" y2="410.65" stroke="#222" stroke-width="0.8" stroke-linecap="butt"/>
<line x1="350.00" y1="409.32" x2="351.70" y2="409.32" stroke="#222" stroke-width="0.8" stroke-linecap="butt"/>
<line x1="350.00" y1="375.12" x2="351.70" y2="375.12" stroke="#222" stroke-width="0.8" stroke-linecap="butt"/>
<line x1="349.50" y1="439.97" x2="351.70" y2="439.97" stroke="#222" stroke-width="0.9" stroke-linecap="butt"/>
<line x1="349.50" y1="447.25" x2="351.70" y2="447.25" stroke="#222" stroke-width="0.9" stroke-linecap="butt"/>
<line x1="349.50" y1="454.52" x2="351.70" y2="454.52" stroke="#222" stroke-width="0.9" stroke-linecap="butt"/>
<line x1="349.50" y1="461.79" x2="351.70" y2="461.79" stroke="#222" stroke-width="0.9" stroke-linecap="butt"/>
<line x1="349.50" y1="476.34" x2="351.70" y2="476.34" stroke="#222" stroke-width="0.9" stroke-linecap="butt"/>
<line x1="349.50" y1="483.62" x2="351.70" y2="483.62" stroke="#222" stroke-width="0.9" stroke-linecap="butt"/>
<line x1="349.50" y1="490.89" x2="351.70" y2="490.89" stroke="#222" stroke-width="0.9" stroke-linecap="butt"/>
<line x1="349.50" y1="498.16" x2="351.70" y2="498.16" stroke="#222" stroke-width="0.9" stroke-linecap="butt"/>
<line x1="349.50" y1="505.44" x2="351.70" y2="505.44" stroke="#222" stroke-width="0.9" stroke-linecap="butt"/>
<line x1="348.50" y1="465.27" x2="351.70" y2="465.27" stroke="#111" stroke-width="1.0" stroke-linecap="butt"/>
<line x1="348.50" y1="467.17" x2="351.70" y2="467.17" stroke="#111" stroke-width="1.0" stroke-linecap="butt"/>
<line x1="348.50" y1="469.07" x2="351.70" y2="469.07" stroke="#111" stroke-width="1.0" stroke-linecap="butt"/>
<line x1="348.50" y1="470.97" x2="351.70" y2="470.97" stroke="#111" stroke-width="1.0" stroke-linecap="butt"/>
<line x1="348.50" y1="472.87" x2="351.70" y2="472.87" stroke="#111" stroke-width="1.0" stroke-linecap="butt"/>
<rect x="350.1" y="464.9" width="1.6" height="8.4" fill="#111"/>
<line x1="374.29" y1="507.20" x2="374.29" y2="511.00" stroke="#222" stroke-width="1.0" stroke-linecap="butt"/>
<text x="375.8" y="518.7" font-size="5.6" text-anchor="middle" fill="#333">-10<tspan font-size="4.5" dy="-2">3</tspan></text>
<line x1="399.47" y1="507.20" x2="399.47" y2="511.00" stroke="#222" stroke-width="1.0" stroke-linecap="butt"/>
<text x="399.5" y="518.7" font-size="5.6" text-anchor="middle" fill="#333" transform="translate(399.5 518.7) scale(1 1.04) translate(-399.5 -518.7)">0</text>
<line x1="426.69" y1="507.20" x2="426.69" y2="511.00" stroke="#222" stroke-width="1.0" stroke-linecap="butt"/>
<text x="428.2" y="518.7" font-size="5.6" text-anchor="middle" fill="#333">10<tspan font-size="4.5" dy="-2">3</tspan></text>
<line x1="454.32" y1="507.20" x2="454.32" y2="511.00" stroke="#222" stroke-width="1.0" stroke-linecap="butt"/>
<text x="455.8" y="518.7" font-size="5.6" text-anchor="middle" fill="#333">10<tspan font-size="4.5" dy="-2">4</tspan></text>
<line x1="480.45" y1="507.20" x2="480.45" y2="511.00" stroke="#222" stroke-width="1.0" stroke-linecap="butt"/>
<text x="482.0" y="518.7" font-size="5.6" text-anchor="middle" fill="#333">10<tspan font-size="4.5" dy="-2">5</tspan></text>
<line x1="435.01" y1="507.20" x2="435.01" y2="509.00" stroke="#222" stroke-width="0.8" stroke-linecap="butt"/>
<line x1="439.87" y1="507.20" x2="439.87" y2="509.00" stroke="#222" stroke-width="0.8" stroke-linecap="butt"/>
<line x1="443.32" y1="507.20" x2="443.32" y2="509.00" stroke="#222" stroke-width="0.8" stroke-linecap="butt"/>
<line x1="446.00" y1="507.20" x2="446.00" y2="509.00" stroke="#222" stroke-width="0.8" stroke-linecap="butt"/>
<line x1="448.19" y1="507.20" x2="448.19" y2="509.00" stroke="#222" stroke-width="0.8" stroke-linecap="butt"/>
<line x1="450.04" y1="507.20" x2="450.04" y2="509.00" stroke="#222" stroke-width="0.8" stroke-linecap="butt"/>
<line x1="451.64" y1="507.20" x2="451.64" y2="509.00" stroke="#222" stroke-width="0.8" stroke-linecap="butt"/>
<line x1="453.06" y1="507.20" x2="453.06" y2="509.00" stroke="#222" stroke-width="0.8" stroke-linecap="butt"/>
<line x1="462.19" y1="507.20" x2="462.19" y2="509.00" stroke="#222" stroke-width="0.8" stroke-linecap="butt"/>
<line x1="466.79" y1="507.20" x2="466.79" y2="509.00" stroke="#222" stroke-width="0.8" stroke-linecap="butt"/>
<line x1="470.05" y1="507.20" x2="470.05" y2="509.00" stroke="#222" stroke-width="0.8" stroke-linecap="butt"/>
<line x1="472.58" y1="507.20" x2="472.58" y2="509.00" stroke="#222" stroke-width="0.8" stroke-linecap="butt"/>
<line x1="474.65" y1="507.20" x2="474.65" y2="509.00" stroke="#222" stroke-width="0.8" stroke-linecap="butt"/>
<line x1="476.40" y1="507.20" x2="476.40" y2="509.00" stroke="#222" stroke-width="0.8" stroke-linecap="butt"/>
<line x1="477.92" y1="507.20" x2="477.92" y2="509.00" stroke="#222" stroke-width="0.8" stroke-linecap="butt"/>
<line x1="479.25" y1="507.20" x2="479.25" y2="509.00" stroke="#222" stroke-width="0.8" stroke-linecap="butt"/>
<line x1="374.29" y1="507.20" x2="374.29" y2="509.40" stroke="#222" stroke-width="0.9" stroke-linecap="butt"/>
<line x1="379.33" y1="507.20" x2="379.33" y2="509.40" stroke="#222" stroke-width="0.9" stroke-linecap="butt"/>
<line x1="384.36" y1="507.20" x2="384.36" y2="509.40" stroke="#222" stroke-width="0.9" stroke-linecap="butt"/>
<line x1="389.40" y1="507.20" x2="389.40" y2="509.40" stroke="#222" stroke-width="0.9" stroke-linecap="butt"/>
<line x1="394.44" y1="507.20" x2="394.44" y2="509.40" stroke="#222" stroke-width="0.9" stroke-linecap="butt"/>
<line x1="399.47" y1="507.20" x2="399.47" y2="509.40" stroke="#222" stroke-width="0.9" stroke-linecap="butt"/>
<line x1="404.51" y1="507.20" x2="404.51" y2="509.40" stroke="#222" stroke-width="0.9" stroke-linecap="butt"/>
<line x1="409.54" y1="507.20" x2="409.54" y2="509.40" stroke="#222" stroke-width="0.9" stroke-linecap="butt"/>
<line x1="414.58" y1="507.20" x2="414.58" y2="509.40" stroke="#222" stroke-width="0.9" stroke-linecap="butt"/>
<line x1="419.61" y1="507.20" x2="419.61" y2="509.40" stroke="#222" stroke-width="0.9" stroke-linecap="butt"/>
<line x1="424.65" y1="507.20" x2="424.65" y2="509.40" stroke="#222" stroke-width="0.9" stroke-linecap="butt"/>
<line x1="395.67" y1="507.20" x2="395.67" y2="510.40" stroke="#111" stroke-width="1.0" stroke-linecap="butt"/>
<line x1="397.57" y1="507.20" x2="397.57" y2="510.40" stroke="#111" stroke-width="1.0" stroke-linecap="butt"/>
<line x1="399.47" y1="507.20" x2="399.47" y2="510.40" stroke="#111" stroke-width="1.0" stroke-linecap="butt"/>
<line x1="401.37" y1="507.20" x2="401.37" y2="510.40" stroke="#111" stroke-width="1.0" stroke-linecap="butt"/>
<line x1="403.27" y1="507.20" x2="403.27" y2="510.40" stroke="#111" stroke-width="1.0" stroke-linecap="butt"/>
<rect x="395.3" y="507.2" width="8.4" height="1.6" fill="#111"/>
<g clip-path="url(#fc6)"><path d="M555.7 492.5 554.9 492.1 551.7 492.1 550.9 491.7 549.7 491.7 543.7 490.1 539.7 488.5 538.3 487.2 537.6 486.0 536.4 480.8 536.4 479.2 536.0 478.4 535.5 472.4 535.2 471.6 535.2 464.4 535.6 463.6 535.6 460.8 536.0 460.0 536.0 457.6 536.4 456.8 536.4 454.4 537.2 451.2 539.5 447.6 541.7 445.4 544.5 443.9 549.7 443.1 552.5 442.2 555.7 440.3 561.3 440.3 563.4 441.2 567.3 444.2 569.3 444.7 570.9 444.7 574.5 445.9 577.4 447.6 579.9 449.6 581.8 452.8 583.4 458.0 583.4 459.2 583.8 460.0 583.8 462.4 584.2 463.2 584.2 466.4 583.8 467.2 583.4 471.2 581.4 477.2 578.1 482.9 575.3 486.2 573.4 487.6 570.9 488.9 566.5 488.9 560.5 491.7 558.9 492.1 556.5 492.1 555.7 492.5Z" fill="#0000ff"/><path d="M555.7 492.2 554.9 491.9 551.7 491.8 549.7 491.4 543.7 489.8 539.7 488.2 538.5 487.0 537.5 484.4 536.3 478.4 535.8 472.4 535.4 471.6 535.5 464.4 535.8 463.6 535.9 460.8 536.3 460.0 536.8 454.4 537.6 451.2 539.7 447.8 541.9 445.6 544.5 444.3 549.7 443.4 552.5 442.5 555.7 440.7 560.9 440.6 563.3 441.5 567.3 444.5 570.9 445.1 573.7 445.9 576.1 447.1 579.7 449.8 581.4 452.8 583.0 458.0 583.9 463.6 583.9 466.0 583.0 471.2 581.0 477.2 577.8 482.8 575.1 486.0 573.3 487.3 570.9 488.6 566.5 488.7 564.9 489.2 560.5 491.4 558.9 491.8 556.5 491.9 555.7 492.2Z" fill="#0016ff"/><path d="M556.1 491.6 552.1 491.5 546.5 490.2 541.3 488.5 539.7 487.7 538.8 486.8 537.4 482.4 536.5 478.0 536.0 472.4 535.7 471.2 535.8 464.8 537.7 452.4 538.5 450.4 540.1 448.0 542.1 446.0 544.5 444.8 550.1 443.8 552.5 443.0 555.7 441.2 560.9 441.1 563.3 442.0 566.1 444.3 567.3 445.0 573.7 446.4 576.1 447.6 579.3 450.1 580.9 452.8 582.5 458.0 583.4 463.6 583.4 466.0 582.5 471.2 580.5 477.2 578.1 481.6 574.9 485.7 573.3 486.9 570.9 488.1 566.1 488.4 560.5 491.0 558.5 491.5 556.1 491.6Z" fill="#001dff"/><path d="M557.7 490.4 553.3 490.5 549.7 489.8 543.3 487.7 540.5 486.1 539.1 483.6 537.3 478.0 536.6 474.0 536.3 469.6 536.8 465.2 539.3 454.0 540.2 451.6 541.9 449.2 543.3 447.9 545.3 446.8 551.7 445.3 556.5 443.3 558.9 443.2 561.7 443.7 566.5 446.8 573.3 448.7 577.3 451.5 578.7 453.6 580.1 458.0 581.2 465.2 580.4 470.4 578.7 476.0 577.0 479.6 574.1 483.6 572.3 485.2 570.5 486.3 566.1 487.4 560.5 489.8 557.7 490.4Z" fill="#003dff"/><path d="M558.9 488.4 554.9 488.8 550.9 488.3 545.7 486.7 542.1 484.8 540.6 482.4 538.9 478.0 538.0 474.0 537.8 470.4 538.2 466.4 539.3 462.0 541.8 454.0 543.7 450.9 544.9 449.8 546.5 449.0 552.5 447.6 556.9 445.9 558.5 445.7 560.9 446.2 565.7 449.1 572.1 451.0 574.9 452.9 576.1 454.4 576.9 456.4 578.0 460.4 578.6 464.8 578.0 469.6 576.8 474.4 575.2 478.0 572.5 482.0 569.7 484.2 565.7 485.5 558.9 488.4Z" fill="#0063ff"/><path d="M556.9 487.2 553.3 487.2 550.1 486.6 545.7 485.0 543.3 483.6 541.7 481.2 540.0 477.2 539.3 473.6 539.1 470.0 539.6 466.4 540.7 462.8 544.0 454.8 545.3 452.7 547.3 451.3 558.5 448.3 560.1 448.7 564.9 451.4 570.9 453.3 573.0 454.8 574.1 456.4 575.2 459.6 576.0 465.6 575.6 469.6 574.4 474.4 572.9 477.6 570.7 480.8 568.9 482.3 561.7 485.8 559.3 486.7 556.9 487.2Z" fill="#0089ff"/><path d="M555.7 486.0 552.5 485.8 549.3 485.0 545.8 483.6 544.1 482.4 542.3 479.6 541.0 476.4 540.3 473.2 540.2 469.6 540.9 466.4 542.1 463.2 546.9 454.4 548.9 453.2 558.5 450.9 564.1 453.6 569.7 455.6 571.3 456.8 572.2 458.4 573.2 462.0 573.6 464.8 573.6 468.0 573.0 471.6 572.1 474.8 570.7 477.6 568.9 480.0 560.9 484.8 558.1 485.8 555.7 486.0Z" fill="#00b9ff"/><path d="M557.3 484.8 554.5 484.9 551.3 484.5 548.1 483.4 545.3 481.9 543.7 479.9 542.2 476.8 541.4 474.0 541.2 470.8 541.6 467.6 542.9 464.3 544.9 460.8 548.3 456.0 550.5 454.9 558.1 453.4 568.1 457.6 569.3 458.4 570.1 459.7 571.0 462.4 571.5 467.6 570.6 473.6 569.5 476.4 568.3 478.4 566.0 480.4 562.5 482.8 559.7 484.2 557.3 484.8Z" fill="#00eaff"/><path d="M556.1 484.0 553.3 483.9 550.5 483.3 547.7 482.1 545.7 480.8 544.1 478.6 542.9 476.0 542.2 473.2 542.1 470.4 542.8 467.2 544.1 464.3 546.1 461.3 549.3 457.6 551.7 456.4 557.7 455.5 560.9 456.5 566.1 459.0 567.7 460.1 568.6 461.6 569.3 464.0 569.7 469.2 568.8 474.4 568.0 476.4 566.9 478.0 564.1 480.6 561.5 482.4 558.9 483.5 556.1 484.0Z" fill="#00f3bb"/><path d="M556.1 483.2 553.7 483.1 550.9 482.5 548.1 481.4 546.5 480.3 545.0 478.4 543.8 476.0 543.1 473.6 543.0 470.8 543.4 468.0 544.4 465.6 546.1 463.0 548.5 460.4 551.7 458.0 554.5 457.4 557.3 457.2 558.9 457.5 561.3 458.6 564.9 460.4 566.4 461.6 567.1 462.8 567.9 465.2 568.3 470.0 568.0 472.8 567.2 475.2 564.7 478.8 562.9 480.5 560.5 482.0 558.1 482.9 556.1 483.2Z" fill="#00fa75"/><path d="M556.9 482.4 554.5 482.4 552.1 482.0 549.3 481.0 547.3 479.8 546.0 478.4 544.8 476.4 544.0 474.0 543.8 472.0 543.9 469.6 544.5 467.5 545.7 465.2 547.3 463.1 551.7 459.5 553.3 458.9 556.1 458.6 557.7 458.7 559.7 459.4 564.9 462.4 565.8 463.6 566.4 465.2 567.1 469.6 566.5 474.0 565.7 476.0 564.3 478.0 562.8 479.6 560.9 481.0 558.9 481.9 556.9 482.4Z" fill="#00f03e"/><path d="M557.7 481.6 555.7 481.8 553.3 481.6 550.9 480.9 548.5 479.8 547.3 478.8 546.1 477.2 545.1 475.2 544.6 473.2 544.5 470.8 544.9 468.8 546.7 465.2 548.5 463.2 550.5 461.7 552.5 460.5 554.5 460.0 556.9 459.9 558.5 460.3 563.2 462.8 564.9 464.8 565.8 468.4 565.8 472.8 565.2 474.8 564.2 476.8 562.9 478.5 561.3 479.9 559.7 480.9 557.7 481.6Z" fill="#00e707"/><path d="M558.1 480.8 556.1 481.2 553.7 481.0 549.3 479.4 548.0 478.4 546.7 476.8 545.4 473.2 545.2 471.2 545.5 469.2 547.1 466.0 548.5 464.4 550.5 462.8 552.5 461.7 554.5 461.1 556.5 461.0 558.1 461.3 562.1 463.4 563.8 465.2 564.8 468.4 565.0 472.4 563.8 476.0 562.8 477.6 561.3 479.1 558.1 480.8Z" fill="#2ce900"/><path d="M557.3 480.4 555.3 480.6 553.3 480.3 549.3 478.6 547.1 476.0 546.0 472.8 546.3 469.2 548.1 466.0 551.3 463.4 553.3 462.5 555.3 462.0 558.1 462.3 561.7 464.4 563.2 466.4 564.1 470.0 563.9 473.6 562.5 476.8 560.2 479.2 557.3 480.4Z" fill="#5fec00"/><path d="M557.7 479.7 556.1 480.0 554.1 479.8 550.2 478.4 548.1 476.3 546.8 473.2 546.9 469.8 548.4 466.8 550.9 464.6 554.5 463.2 557.3 463.1 560.5 464.6 562.1 466.4 563.1 469.2 563.3 472.8 562.2 476.0 560.3 478.4 557.7 479.7Z" fill="#92ef00"/><path d="M557.3 479.2 554.1 479.2 550.8 478.0 548.7 476.0 547.5 473.2 547.6 470.0 548.9 467.4 551.3 465.3 554.5 464.1 557.3 464.1 559.8 465.2 561.3 466.8 562.3 469.6 562.4 473.2 561.5 476.0 559.7 478.1 557.3 479.2Z" fill="#c4f000"/><path d="M557.7 478.5 554.9 478.7 552.1 477.9 549.9 476.4 548.5 474.0 548.1 471.2 548.9 468.8 550.5 466.8 552.9 465.4 555.7 464.9 558.1 465.3 560.1 466.7 561.2 468.8 561.8 472.0 561.3 474.8 559.8 477.2 557.7 478.5Z" fill="#f5f000"/><path d="M556.9 478.1 554.5 478.1 551.7 477.0 550.1 475.5 549.0 473.2 549.0 470.8 549.8 468.8 551.3 467.2 553.7 466.0 556.1 465.8 558.3 466.4 559.7 467.7 560.7 470.0 561.0 472.8 560.5 475.2 558.9 477.1 556.9 478.1Z" fill="#ffc800"/><path d="M557.3 477.3 555.3 477.5 552.9 476.9 551.1 475.6 550.1 474.0 549.7 472.0 550.1 470.0 551.1 468.4 552.9 467.2 555.3 466.7 557.3 467.0 558.7 468.0 559.7 469.6 560.3 472.0 560.0 474.4 558.9 476.2 557.3 477.3Z" fill="#ff9700"/><path d="M556.1 476.8 554.1 476.6 552.5 475.8 551.3 474.6 550.6 472.8 550.6 471.2 551.3 469.6 552.5 468.4 554.1 467.8 556.1 467.7 557.7 468.4 558.7 469.6 559.3 471.2 559.5 473.2 558.9 475.0 557.7 476.2 556.1 476.8Z" fill="#ff6300"/><path d="M555.7 476.0 554.1 475.8 552.9 475.1 552.0 474.0 551.5 472.8 551.5 471.6 552.1 470.2 553.2 469.2 554.5 468.7 556.1 468.8 557.3 469.4 558.1 470.5 558.6 472.0 558.5 473.6 558.0 474.8 556.9 475.7 555.7 476.0Z" fill="#ff2c00"/><path d="M556.1 474.9 554.1 474.7 552.8 473.2 552.7 472.0 553.0 471.2 554.5 470.0 556.1 470.1 556.9 470.7 557.4 471.6 557.4 473.6 556.9 474.4 556.1 474.9Z" fill="#ff0000"/></g>
<rect x="514.00" y="371.50" width="136.50" height="135.70" fill="none" stroke="#7a7a7a" stroke-width="1.1"/>
<line x1="573.00" y1="371.50" x2="573.00" y2="507.20" stroke="#111" stroke-width="1.3" stroke-linecap="butt"/>
<line x1="514.00" y1="457.50" x2="650.50" y2="457.50" stroke="#111" stroke-width="1.3" stroke-linecap="butt"/>
<text x="516.8" y="387.9" font-size="9.6" fill="#111" transform="translate(516.8 387.9) scale(1 1.04) translate(-516.8 -387.9)" stroke="#111" stroke-width="0.3">11.4</text>
<text x="516.8" y="497.9" font-size="9.6" fill="#111" transform="translate(516.8 497.9) scale(1 1.04) translate(-516.8 -497.9)" stroke="#111" stroke-width="0.3">83.3</text>
<text x="638.3" y="387.9" font-size="9.6" text-anchor="end" fill="#111" transform="translate(638.3 387.9) scale(1 1.04) translate(-638.3 -387.9)" stroke="#111" stroke-width="0.3">1.55</text>
<text x="638.3" y="497.9" font-size="9.6" text-anchor="end" fill="#111" transform="translate(638.3 497.9) scale(1 1.04) translate(-638.3 -497.9)" stroke="#111" stroke-width="0.3">3.77</text>
<line x1="510.20" y1="382.76" x2="514.00" y2="382.76" stroke="#222" stroke-width="1.0" stroke-linecap="butt"/>
<text x="505.5" y="385.0" font-size="5.6" text-anchor="middle" fill="#333">10<tspan font-size="4.5" dy="-2">5</tspan></text>
<line x1="510.20" y1="408.14" x2="514.00" y2="408.14" stroke="#222" stroke-width="1.0" stroke-linecap="butt"/>
<text x="505.5" y="410.3" font-size="5.6" text-anchor="middle" fill="#333">10<tspan font-size="4.5" dy="-2">4</tspan></text>
<line x1="510.20" y1="434.06" x2="514.00" y2="434.06" stroke="#222" stroke-width="1.0" stroke-linecap="butt"/>
<text x="505.5" y="436.3" font-size="5.6" text-anchor="middle" fill="#333">10<tspan font-size="4.5" dy="-2">3</tspan></text>
<line x1="510.20" y1="469.07" x2="514.00" y2="469.07" stroke="#222" stroke-width="1.0" stroke-linecap="butt"/>
<text x="507.5" y="471.3" font-size="5.6" text-anchor="end" fill="#333" transform="translate(507.5 471.3) scale(1 1.04) translate(-507.5 -471.3)">0</text>
<line x1="510.20" y1="505.44" x2="514.00" y2="505.44" stroke="#222" stroke-width="1.0" stroke-linecap="butt"/>
<text x="505.5" y="507.6" font-size="5.6" text-anchor="middle" fill="#333">-10<tspan font-size="4.5" dy="-2">3</tspan></text>
<line x1="512.30" y1="400.50" x2="514.00" y2="400.50" stroke="#222" stroke-width="0.8" stroke-linecap="butt"/>
<line x1="512.30" y1="396.03" x2="514.00" y2="396.03" stroke="#222" stroke-width="0.8" stroke-linecap="butt"/>
<line x1="512.30" y1="392.86" x2="514.00" y2="392.86" stroke="#222" stroke-width="0.8" stroke-linecap="butt"/>
<line x1="512.30" y1="390.40" x2="514.00" y2="390.40" stroke="#222" stroke-width="0.8" stroke-linecap="butt"/>
<line x1="512.30" y1="388.39" x2="514.00" y2="388.39" stroke="#222" stroke-width="0.8" stroke-linecap="butt"/>
<line x1="512.30" y1="386.69" x2="514.00" y2="386.69" stroke="#222" stroke-width="0.8" stroke-linecap="butt"/>
<line x1="512.30" y1="385.22" x2="514.00" y2="385.22" stroke="#222" stroke-width="0.8" stroke-linecap="butt"/>
<line x1="512.30" y1="383.92" x2="514.00" y2="383.92" stroke="#222" stroke-width="0.8" stroke-linecap="butt"/>
<line x1="512.30" y1="426.26" x2="514.00" y2="426.26" stroke="#222" stroke-width="0.8" stroke-linecap="butt"/>
<line x1="512.30" y1="421.69" x2="514.00" y2="421.69" stroke="#222" stroke-width="0.8" stroke-linecap="butt"/>
<line x1="512.30" y1="418.45" x2="514.00" y2="418.45" stroke="#222" stroke-width="0.8" stroke-linecap="butt"/>
<line x1="512.30" y1="415.94" x2="514.00" y2="415.94" stroke="#222" stroke-width="0.8" stroke-linecap="butt"/>
<line x1="512.30" y1="413.89" x2="514.00" y2="413.89" stroke="#222" stroke-width="0.8" stroke-linecap="butt"/>
<line x1="512.30" y1="412.15" x2="514.00" y2="412.15" stroke="#222" stroke-width="0.8" stroke-linecap="butt"/>
<line x1="512.30" y1="410.65" x2="514.00" y2="410.65" stroke="#222" stroke-width="0.8" stroke-linecap="butt"/>
<line x1="512.30" y1="409.32" x2="514.00" y2="409.32" stroke="#222" stroke-width="0.8" stroke-linecap="butt"/>
<line x1="512.30" y1="375.12" x2="514.00" y2="375.12" stroke="#222" stroke-width="0.8" stroke-linecap="butt"/>
<line x1="511.80" y1="439.97" x2="514.00" y2="439.97" stroke="#222" stroke-width="0.9" stroke-linecap="butt"/>
<line x1="511.80" y1="447.25" x2="514.00" y2="447.25" stroke="#222" stroke-width="0.9" stroke-linecap="butt"/>
<line x1="511.80" y1="454.52" x2="514.00" y2="454.52" stroke="#222" stroke-width="0.9" stroke-linecap="butt"/>
<line x1="511.80" y1="461.79" x2="514.00" y2="461.79" stroke="#222" stroke-width="0.9" stroke-linecap="butt"/>
<line x1="511.80" y1="476.34" x2="514.00" y2="476.34" stroke="#222" stroke-width="0.9" stroke-linecap="butt"/>
<line x1="511.80" y1="483.62" x2="514.00" y2="483.62" stroke="#222" stroke-width="0.9" stroke-linecap="butt"/>
<line x1="511.80" y1="490.89" x2="514.00" y2="490.89" stroke="#222" stroke-width="0.9" stroke-linecap="butt"/>
<line x1="511.80" y1="498.16" x2="514.00" y2="498.16" stroke="#222" stroke-width="0.9" stroke-linecap="butt"/>
<line x1="511.80" y1="505.44" x2="514.00" y2="505.44" stroke="#222" stroke-width="0.9" stroke-linecap="butt"/>
<line x1="510.80" y1="465.27" x2="514.00" y2="465.27" stroke="#111" stroke-width="1.0" stroke-linecap="butt"/>
<line x1="510.80" y1="467.17" x2="514.00" y2="467.17" stroke="#111" stroke-width="1.0" stroke-linecap="butt"/>
<line x1="510.80" y1="469.07" x2="514.00" y2="469.07" stroke="#111" stroke-width="1.0" stroke-linecap="butt"/>
<line x1="510.80" y1="470.97" x2="514.00" y2="470.97" stroke="#111" stroke-width="1.0" stroke-linecap="butt"/>
<line x1="510.80" y1="472.87" x2="514.00" y2="472.87" stroke="#111" stroke-width="1.0" stroke-linecap="butt"/>
<rect x="512.4" y="464.9" width="1.6" height="8.4" fill="#111"/>
<line x1="547.85" y1="507.20" x2="547.85" y2="511.00" stroke="#222" stroke-width="1.0" stroke-linecap="butt"/>
<text x="547.9" y="518.7" font-size="5.6" text-anchor="middle" fill="#333" transform="translate(547.9 518.7) scale(1 1.04) translate(-547.9 -518.7)">0</text>
<line x1="582.39" y1="507.20" x2="582.39" y2="511.00" stroke="#222" stroke-width="1.0" stroke-linecap="butt"/>
<text x="583.9" y="518.7" font-size="5.6" text-anchor="middle" fill="#333">10<tspan font-size="4.5" dy="-2">3</tspan></text>
<line x1="612.96" y1="507.20" x2="612.96" y2="511.00" stroke="#222" stroke-width="1.0" stroke-linecap="butt"/>
<text x="614.5" y="518.7" font-size="5.6" text-anchor="middle" fill="#333">10<tspan font-size="4.5" dy="-2">4</tspan></text>
<line x1="641.49" y1="507.20" x2="641.49" y2="511.00" stroke="#222" stroke-width="1.0" stroke-linecap="butt"/>
<text x="643.0" y="518.7" font-size="5.6" text-anchor="middle" fill="#333">10<tspan font-size="4.5" dy="-2">5</tspan></text>
<line x1="591.59" y1="507.20" x2="591.59" y2="509.00" stroke="#222" stroke-width="0.8" stroke-linecap="butt"/>
<line x1="596.97" y1="507.20" x2="596.97" y2="509.00" stroke="#222" stroke-width="0.8" stroke-linecap="butt"/>
<line x1="600.80" y1="507.20" x2="600.80" y2="509.00" stroke="#222" stroke-width="0.8" stroke-linecap="butt"/>
<line x1="603.76" y1="507.20" x2="603.76" y2="509.00" stroke="#222" stroke-width="0.8" stroke-linecap="butt"/>
<line x1="606.18" y1="507.20" x2="606.18" y2="509.00" stroke="#222" stroke-width="0.8" stroke-linecap="butt"/>
<line x1="608.23" y1="507.20" x2="608.23" y2="509.00" stroke="#222" stroke-width="0.8" stroke-linecap="butt"/>
<line x1="610.00" y1="507.20" x2="610.00" y2="509.00" stroke="#222" stroke-width="0.8" stroke-linecap="butt"/>
<line x1="611.56" y1="507.20" x2="611.56" y2="509.00" stroke="#222" stroke-width="0.8" stroke-linecap="butt"/>
<line x1="621.55" y1="507.20" x2="621.55" y2="509.00" stroke="#222" stroke-width="0.8" stroke-linecap="butt"/>
<line x1="626.57" y1="507.20" x2="626.57" y2="509.00" stroke="#222" stroke-width="0.8" stroke-linecap="butt"/>
<line x1="630.14" y1="507.20" x2="630.14" y2="509.00" stroke="#222" stroke-width="0.8" stroke-linecap="butt"/>
<line x1="632.90" y1="507.20" x2="632.90" y2="509.00" stroke="#222" stroke-width="0.8" stroke-linecap="butt"/>
<line x1="635.16" y1="507.20" x2="635.16" y2="509.00" stroke="#222" stroke-width="0.8" stroke-linecap="butt"/>
<line x1="637.07" y1="507.20" x2="637.07" y2="509.00" stroke="#222" stroke-width="0.8" stroke-linecap="butt"/>
<line x1="638.73" y1="507.20" x2="638.73" y2="509.00" stroke="#222" stroke-width="0.8" stroke-linecap="butt"/>
<line x1="640.19" y1="507.20" x2="640.19" y2="509.00" stroke="#222" stroke-width="0.8" stroke-linecap="butt"/>
<line x1="650.08" y1="507.20" x2="650.08" y2="509.00" stroke="#222" stroke-width="0.8" stroke-linecap="butt"/>
<line x1="547.85" y1="507.20" x2="547.85" y2="509.40" stroke="#222" stroke-width="0.9" stroke-linecap="butt"/>
<line x1="581.92" y1="507.20" x2="581.92" y2="509.40" stroke="#222" stroke-width="0.9" stroke-linecap="butt"/>
<line x1="544.05" y1="507.20" x2="544.05" y2="510.40" stroke="#111" stroke-width="1.0" stroke-linecap="butt"/>
<line x1="545.95" y1="507.20" x2="545.95" y2="510.40" stroke="#111" stroke-width="1.0" stroke-linecap="butt"/>
<line x1="547.85" y1="507.20" x2="547.85" y2="510.40" stroke="#111" stroke-width="1.0" stroke-linecap="butt"/>
<line x1="549.75" y1="507.20" x2="549.75" y2="510.40" stroke="#111" stroke-width="1.0" stroke-linecap="butt"/>
<line x1="551.65" y1="507.20" x2="551.65" y2="510.40" stroke="#111" stroke-width="1.0" stroke-linecap="butt"/>
<rect x="543.7" y="507.2" width="8.4" height="1.6" fill="#111"/>
<g clip-path="url(#fc7)"><path d="M723.4 489.4 719.4 489.7 715.4 487.9 713.0 485.4 711.1 481.4 710.3 478.2 710.3 475.0 709.9 474.2 709.9 462.2 710.3 461.4 710.4 457.4 710.8 456.6 710.8 454.6 712.0 450.2 715.7 442.6 716.8 441.0 717.8 440.1 719.0 440.1 720.0 440.6 721.3 442.2 722.6 443.2 724.2 443.1 726.2 441.1 727.8 440.1 728.6 440.1 733.0 442.1 735.0 442.1 735.8 442.5 740.6 442.5 741.8 442.9 745.0 444.5 751.8 448.8 753.0 450.1 753.9 452.2 753.9 455.0 754.3 455.8 754.3 469.4 753.9 470.2 753.9 472.2 752.3 477.8 749.3 483.8 747.0 486.1 744.2 487.6 739.4 488.8 737.8 488.8 737.0 489.2 723.4 489.4Z" fill="#0000ff"/><path d="M723.0 489.4 719.4 489.5 715.7 487.8 713.0 485.1 711.3 481.4 710.5 478.2 710.5 475.0 710.1 474.2 710.1 462.2 710.5 461.4 710.6 457.4 711.0 456.6 711.0 454.6 712.3 450.2 716.0 442.6 717.8 440.4 719.0 440.4 719.8 440.8 721.8 443.0 722.6 443.5 724.2 443.4 726.2 441.4 728.2 440.4 733.0 442.3 735.0 442.4 735.8 442.7 740.6 442.8 741.8 443.2 745.0 444.8 751.6 449.0 752.7 450.2 753.5 452.2 753.6 455.0 754.0 456.2 754.0 469.0 753.7 470.2 753.6 472.2 752.0 477.8 749.0 483.7 747.0 485.8 744.2 487.3 737.0 489.0 723.8 489.1 723.0 489.4Z" fill="#0016ff"/><path d="M723.0 489.2 719.4 489.3 715.8 487.7 713.2 485.0 711.6 481.4 710.7 478.2 710.6 475.0 710.3 474.2 710.3 462.6 710.7 461.4 710.8 457.8 711.2 456.6 711.3 454.6 712.6 450.2 716.4 442.6 717.3 441.4 718.2 440.8 719.8 441.2 721.8 443.4 722.6 443.7 724.2 443.7 726.6 441.5 728.2 440.7 732.6 442.5 734.6 442.6 735.8 443.0 740.2 443.1 741.8 443.6 745.0 445.3 751.4 449.4 752.2 450.2 753.0 452.2 753.2 455.0 753.6 456.2 753.7 469.0 753.3 471.8 751.6 477.8 748.8 483.4 746.6 485.7 744.2 487.0 741.4 487.8 736.6 488.8 723.8 488.9 723.0 489.2Z" fill="#001dff"/><path d="M722.6 489.0 719.4 489.0 715.7 487.4 713.4 485.0 712.2 482.6 711.0 478.2 710.8 475.0 710.5 473.8 710.5 462.6 710.9 461.4 711.0 457.8 711.5 455.0 713.0 450.3 716.2 445.5 717.4 444.1 718.6 443.3 721.8 444.1 724.2 444.1 727.0 442.7 728.6 442.4 741.0 445.2 743.8 446.7 749.0 450.5 750.2 451.7 750.8 453.0 751.8 458.6 752.4 467.8 751.8 473.0 750.2 478.2 748.4 481.8 747.0 483.8 745.0 485.6 742.4 487.0 736.6 488.5 723.8 488.6 722.6 489.0Z" fill="#003dff"/><path d="M722.6 488.6 719.4 488.7 715.8 487.1 713.8 485.0 712.1 481.4 711.2 477.8 710.7 473.8 710.6 467.8 710.8 462.6 711.1 461.4 711.4 457.9 712.5 455.0 715.4 449.9 717.4 447.5 719.0 446.4 724.2 446.3 729.0 444.9 739.8 447.3 742.6 448.9 746.9 452.2 748.0 453.4 748.5 454.6 749.6 459.8 750.2 467.4 749.7 472.6 748.3 477.4 746.5 481.0 745.0 483.0 743.0 484.5 739.8 486.2 736.6 487.4 733.8 487.9 723.8 488.3 722.6 488.6Z" fill="#0063ff"/><path d="M720.2 487.8 717.4 487.3 715.0 485.4 712.9 481.8 711.5 477.0 710.9 473.0 711.0 464.9 712.3 459.0 713.9 455.0 716.6 451.1 718.6 449.2 719.8 448.7 724.6 448.3 729.4 447.3 737.4 449.0 739.8 449.8 742.2 451.4 745.4 454.2 746.3 455.8 747.3 459.4 748.2 465.8 748.2 470.2 747.3 475.0 745.6 479.0 744.3 481.0 742.6 482.6 740.0 484.2 737.0 485.5 732.2 486.5 725.0 486.6 720.2 487.8Z" fill="#0089ff"/><path d="M720.2 486.7 717.8 486.4 715.4 484.6 713.5 481.4 712.1 476.6 711.5 471.4 711.7 465.8 712.9 460.2 714.5 456.2 715.8 454.2 717.4 452.5 719.0 451.2 720.6 450.5 729.8 449.5 734.2 450.3 739.0 451.8 741.8 453.8 743.8 455.8 744.9 458.2 746.0 462.6 746.6 467.0 746.5 471.0 745.6 475.0 744.3 478.2 743.0 480.1 741.6 481.4 739.4 482.8 736.6 484.1 732.2 485.0 725.0 485.1 720.2 486.7Z" fill="#00b9ff"/><path d="M720.6 485.5 718.2 485.5 717.0 484.9 715.8 483.9 714.1 481.0 712.7 476.6 712.1 471.4 712.3 466.2 713.3 461.4 714.9 457.4 716.2 455.5 717.8 453.9 719.8 452.7 721.4 452.2 730.2 451.5 734.6 452.4 738.6 453.8 741.2 455.8 742.6 457.5 743.9 461.0 744.9 465.0 745.2 468.2 745.0 471.8 744.2 475.0 742.9 477.8 741.8 479.3 740.2 480.6 735.8 482.9 731.8 483.7 725.4 483.7 720.6 485.5Z" fill="#00eaff"/><path d="M720.2 484.6 717.8 484.4 715.8 482.8 714.2 479.8 713.1 475.8 712.5 471.0 712.8 466.2 713.8 461.8 715.4 458.1 716.6 456.5 718.2 455.1 719.8 454.3 721.8 453.9 730.6 453.3 735.0 454.3 738.2 455.7 740.3 457.4 741.4 459.0 742.7 462.2 743.6 465.8 743.9 469.0 743.6 471.8 742.9 474.6 741.8 477.0 739.4 479.6 735.4 481.7 731.8 482.3 725.4 482.3 720.2 484.6Z" fill="#00f3bb"/><path d="M719.8 483.8 717.8 483.5 715.8 481.7 714.3 478.6 713.3 474.6 713.0 470.2 713.3 465.8 714.4 461.8 715.8 458.8 718.2 456.4 719.8 455.7 721.4 455.5 731.0 455.1 735.0 456.1 737.8 457.4 739.2 458.6 740.3 460.2 741.6 463.4 742.4 466.6 742.6 469.4 742.4 471.8 741.8 474.2 740.6 476.6 738.2 478.9 735.0 480.5 731.8 481.1 725.4 481.0 721.4 483.3 719.8 483.8Z" fill="#00fa75"/><path d="M719.4 483.0 717.4 482.5 715.8 480.7 714.5 477.8 713.6 473.8 713.4 469.4 713.9 465.4 714.8 462.2 716.2 459.4 717.8 457.8 719.4 457.1 724.6 457.2 729.8 456.7 733.8 457.3 737.4 458.9 738.6 460.2 739.8 462.4 740.8 465.0 741.3 467.4 741.5 469.8 741.2 472.2 740.4 474.6 739.5 476.2 737.4 478.0 734.6 479.4 731.4 479.9 725.8 479.6 724.2 480.3 721.0 482.6 719.4 483.0Z" fill="#00f03e"/><path d="M719.4 482.3 717.4 481.6 715.8 479.8 714.7 477.0 713.9 473.4 713.8 469.8 714.2 465.8 715.1 462.6 716.6 460.0 718.2 458.6 720.2 458.1 724.6 459.1 729.0 458.3 731.4 458.3 734.6 459.1 736.6 460.2 737.8 461.6 739.0 463.7 740.2 467.8 740.0 472.2 738.6 475.4 736.2 477.4 733.4 478.5 731.0 478.7 727.0 478.3 725.4 478.5 721.0 481.7 719.4 482.3Z" fill="#00e707"/><path d="M719.8 481.4 718.2 481.3 716.6 480.0 715.2 477.4 714.4 474.2 714.1 470.6 714.5 466.6 715.3 463.4 716.6 461.0 718.2 459.5 719.8 459.1 721.4 459.5 724.6 461.0 725.8 460.9 729.0 459.9 731.0 459.7 733.8 460.3 735.8 461.4 738.0 464.6 739.1 468.2 739.0 471.8 737.7 474.6 735.4 476.5 733.0 477.3 730.6 477.5 726.6 476.9 725.4 477.1 721.4 480.6 719.8 481.4Z" fill="#2ce900"/><path d="M719.8 480.6 718.2 480.5 716.6 479.1 715.4 476.7 714.7 473.8 714.5 470.2 714.8 466.6 715.6 463.8 717.0 461.4 718.2 460.4 719.8 460.1 721.4 460.6 725.0 463.1 726.2 463.0 729.0 461.6 730.6 461.2 733.0 461.5 735.0 462.5 737.0 465.3 737.9 468.2 737.9 471.4 736.8 473.8 735.0 475.3 732.6 476.1 730.6 476.2 727.0 475.4 725.8 475.5 724.6 476.3 721.4 479.7 719.8 480.6Z" fill="#5fec00"/><path d="M719.8 479.9 718.2 479.8 716.8 478.6 715.8 476.6 715.0 473.4 714.8 470.2 715.1 467.0 715.9 464.2 717.1 462.2 718.6 461.1 720.6 461.2 722.0 462.2 724.6 465.0 725.8 465.5 730.6 462.9 732.6 462.9 734.2 463.8 735.8 465.9 736.7 468.6 736.6 471.0 735.6 473.0 733.8 474.3 731.8 474.8 729.8 474.6 726.6 473.6 725.8 473.7 724.6 474.6 721.6 478.6 719.8 479.9Z" fill="#92ef00"/><path d="M719.8 479.1 718.2 479.0 716.6 477.3 715.6 474.6 715.2 471.0 715.4 467.6 716.3 464.6 717.8 462.4 719.4 461.8 721.0 462.5 722.6 464.2 724.3 467.4 725.0 469.8 724.5 472.2 722.9 475.8 721.4 477.9 719.8 479.1ZM731.8 473.0 730.2 472.9 728.6 472.2 727.4 471.0 727.1 469.8 727.5 468.2 728.8 466.2 730.3 465.0 731.8 464.6 733.0 465.0 734.2 466.2 735.0 467.8 735.3 469.4 735.1 470.6 734.4 471.8 733.4 472.6 731.8 473.0Z" fill="#c4f000"/><path d="M719.8 478.3 718.2 478.2 717.0 477.1 716.0 474.6 715.5 471.4 715.7 468.2 716.4 465.4 717.4 463.7 719.0 462.7 720.6 463.2 721.9 464.6 723.1 467.0 723.6 469.8 723.4 472.2 722.5 475.0 721.4 477.0 719.8 478.3ZM732.2 469.9 731.0 470.0 730.4 469.4 730.6 468.2 731.4 467.5 732.2 467.6 732.7 468.2 732.7 469.4 732.2 469.9Z" fill="#f5f000"/><path d="M719.8 477.5 719.0 477.7 718.2 477.4 717.1 476.2 716.2 473.9 715.9 471.4 716.0 468.6 716.6 466.1 717.8 464.1 719.0 463.5 720.2 463.8 721.6 465.4 722.5 467.4 722.9 469.8 722.7 472.2 722.0 474.6 721.0 476.4 719.8 477.5Z" fill="#ffc800"/><path d="M719.8 476.6 718.6 476.8 717.4 475.7 716.6 473.8 716.2 471.4 716.3 469.0 716.9 466.6 717.8 465.1 719.0 464.4 720.2 464.8 721.1 465.8 721.9 467.8 722.2 469.8 721.7 473.8 720.9 475.4 719.8 476.6Z" fill="#ff9700"/><path d="M719.4 475.9 718.2 475.6 717.4 474.6 716.6 471.0 716.7 469.0 717.3 467.0 718.2 465.7 719.0 465.4 719.8 465.6 720.7 466.6 721.4 468.2 721.7 470.2 721.1 473.8 720.2 475.3 719.4 475.9Z" fill="#ff6300"/><path d="M719.4 474.8 718.6 474.8 717.8 474.0 717.1 471.0 717.6 467.8 718.2 466.8 719.0 466.4 719.8 466.7 720.3 467.4 721.1 470.2 720.7 473.0 720.2 474.0 719.4 474.8Z" fill="#ff2c00"/><path d="M719.4 473.5 718.6 473.5 718.2 473.1 717.6 471.0 718.0 468.6 719.0 467.7 719.8 468.3 720.4 470.2 720.2 472.1 719.4 473.5Z" fill="#ff0000"/></g>
<rect x="678.00" y="371.50" width="135.90" height="135.70" fill="none" stroke="#7a7a7a" stroke-width="1.1"/>
<line x1="723.40" y1="371.50" x2="723.40" y2="507.20" stroke="#111" stroke-width="1.3" stroke-linecap="butt"/>
<line x1="678.00" y1="456.20" x2="813.90" y2="456.20" stroke="#111" stroke-width="1.3" stroke-linecap="butt"/>
<text x="680.8" y="387.9" font-size="9.6" fill="#111" transform="translate(680.8 387.9) scale(1 1.04) translate(-680.8 -387.9)" stroke="#111" stroke-width="0.3">4.45</text>
<text x="680.8" y="497.9" font-size="9.6" fill="#111" transform="translate(680.8 497.9) scale(1 1.04) translate(-680.8 -497.9)" stroke="#111" stroke-width="0.3">38.5</text>
<text x="801.7" y="387.9" font-size="9.6" text-anchor="end" fill="#111" transform="translate(801.7 387.9) scale(1 1.04) translate(-801.7 -387.9)" stroke="#111" stroke-width="0.3">8.41</text>
<text x="801.7" y="497.9" font-size="9.6" text-anchor="end" fill="#111" transform="translate(801.7 497.9) scale(1 1.04) translate(-801.7 -497.9)" stroke="#111" stroke-width="0.3">48.6</text>
<line x1="674.20" y1="382.76" x2="678.00" y2="382.76" stroke="#222" stroke-width="1.0" stroke-linecap="butt"/>
<text x="669.5" y="385.0" font-size="5.6" text-anchor="middle" fill="#333">10<tspan font-size="4.5" dy="-2">5</tspan></text>
<line x1="674.20" y1="408.14" x2="678.00" y2="408.14" stroke="#222" stroke-width="1.0" stroke-linecap="butt"/>
<text x="669.5" y="410.3" font-size="5.6" text-anchor="middle" fill="#333">10<tspan font-size="4.5" dy="-2">4</tspan></text>
<line x1="674.20" y1="434.06" x2="678.00" y2="434.06" stroke="#222" stroke-width="1.0" stroke-linecap="butt"/>
<text x="669.5" y="436.3" font-size="5.6" text-anchor="middle" fill="#333">10<tspan font-size="4.5" dy="-2">3</tspan></text>
<line x1="674.20" y1="469.07" x2="678.00" y2="469.07" stroke="#222" stroke-width="1.0" stroke-linecap="butt"/>
<text x="671.5" y="471.3" font-size="5.6" text-anchor="end" fill="#333" transform="translate(671.5 471.3) scale(1 1.04) translate(-671.5 -471.3)">0</text>
<line x1="674.20" y1="505.44" x2="678.00" y2="505.44" stroke="#222" stroke-width="1.0" stroke-linecap="butt"/>
<text x="669.5" y="507.6" font-size="5.6" text-anchor="middle" fill="#333">-10<tspan font-size="4.5" dy="-2">3</tspan></text>
<line x1="676.30" y1="400.50" x2="678.00" y2="400.50" stroke="#222" stroke-width="0.8" stroke-linecap="butt"/>
<line x1="676.30" y1="396.03" x2="678.00" y2="396.03" stroke="#222" stroke-width="0.8" stroke-linecap="butt"/>
<line x1="676.30" y1="392.86" x2="678.00" y2="392.86" stroke="#222" stroke-width="0.8" stroke-linecap="butt"/>
<line x1="676.30" y1="390.40" x2="678.00" y2="390.40" stroke="#222" stroke-width="0.8" stroke-linecap="butt"/>
<line x1="676.30" y1="388.39" x2="678.00" y2="388.39" stroke="#222" stroke-width="0.8" stroke-linecap="butt"/>
<line x1="676.30" y1="386.69" x2="678.00" y2="386.69" stroke="#222" stroke-width="0.8" stroke-linecap="butt"/>
<line x1="676.30" y1="385.22" x2="678.00" y2="385.22" stroke="#222" stroke-width="0.8" stroke-linecap="butt"/>
<line x1="676.30" y1="383.92" x2="678.00" y2="383.92" stroke="#222" stroke-width="0.8" stroke-linecap="butt"/>
<line x1="676.30" y1="426.26" x2="678.00" y2="426.26" stroke="#222" stroke-width="0.8" stroke-linecap="butt"/>
<line x1="676.30" y1="421.69" x2="678.00" y2="421.69" stroke="#222" stroke-width="0.8" stroke-linecap="butt"/>
<line x1="676.30" y1="418.45" x2="678.00" y2="418.45" stroke="#222" stroke-width="0.8" stroke-linecap="butt"/>
<line x1="676.30" y1="415.94" x2="678.00" y2="415.94" stroke="#222" stroke-width="0.8" stroke-linecap="butt"/>
<line x1="676.30" y1="413.89" x2="678.00" y2="413.89" stroke="#222" stroke-width="0.8" stroke-linecap="butt"/>
<line x1="676.30" y1="412.15" x2="678.00" y2="412.15" stroke="#222" stroke-width="0.8" stroke-linecap="butt"/>
<line x1="676.30" y1="410.65" x2="678.00" y2="410.65" stroke="#222" stroke-width="0.8" stroke-linecap="butt"/>
<line x1="676.30" y1="409.32" x2="678.00" y2="409.32" stroke="#222" stroke-width="0.8" stroke-linecap="butt"/>
<line x1="676.30" y1="375.12" x2="678.00" y2="375.12" stroke="#222" stroke-width="0.8" stroke-linecap="butt"/>
<line x1="675.80" y1="439.97" x2="678.00" y2="439.97" stroke="#222" stroke-width="0.9" stroke-linecap="butt"/>
<line x1="675.80" y1="447.25" x2="678.00" y2="447.25" stroke="#222" stroke-width="0.9" stroke-linecap="butt"/>
<line x1="675.80" y1="454.52" x2="678.00" y2="454.52" stroke="#222" stroke-width="0.9" stroke-linecap="butt"/>
<line x1="675.80" y1="461.79" x2="678.00" y2="461.79" stroke="#222" stroke-width="0.9" stroke-linecap="butt"/>
<line x1="675.80" y1="476.34" x2="678.00" y2="476.34" stroke="#222" stroke-width="0.9" stroke-linecap="butt"/>
<line x1="675.80" y1="483.62" x2="678.00" y2="483.62" stroke="#222" stroke-width="0.9" stroke-linecap="butt"/>
<line x1="675.80" y1="490.89" x2="678.00" y2="490.89" stroke="#222" stroke-width="0.9" stroke-linecap="butt"/>
<line x1="675.80" y1="498.16" x2="678.00" y2="498.16" stroke="#222" stroke-width="0.9" stroke-linecap="butt"/>
<line x1="675.80" y1="505.44" x2="678.00" y2="505.44" stroke="#222" stroke-width="0.9" stroke-linecap="butt"/>
<line x1="674.80" y1="465.27" x2="678.00" y2="465.27" stroke="#111" stroke-width="1.0" stroke-linecap="butt"/>
<line x1="674.80" y1="467.17" x2="678.00" y2="467.17" stroke="#111" stroke-width="1.0" stroke-linecap="butt"/>
<line x1="674.80" y1="469.07" x2="678.00" y2="469.07" stroke="#111" stroke-width="1.0" stroke-linecap="butt"/>
<line x1="674.80" y1="470.97" x2="678.00" y2="470.97" stroke="#111" stroke-width="1.0" stroke-linecap="butt"/>
<line x1="674.80" y1="472.87" x2="678.00" y2="472.87" stroke="#111" stroke-width="1.0" stroke-linecap="butt"/>
<rect x="676.4" y="464.9" width="1.6" height="8.4" fill="#111"/>
<line x1="691.18" y1="507.20" x2="691.18" y2="511.00" stroke="#222" stroke-width="1.0" stroke-linecap="butt"/>
<text x="692.7" y="518.7" font-size="5.6" text-anchor="middle" fill="#333">-10<tspan font-size="4.5" dy="-2">3</tspan></text>
<line x1="721.08" y1="507.20" x2="721.08" y2="511.00" stroke="#222" stroke-width="1.0" stroke-linecap="butt"/>
<text x="721.1" y="518.7" font-size="5.6" text-anchor="middle" fill="#333" transform="translate(721.1 518.7) scale(1 1.04) translate(-721.1 -518.7)">0</text>
<line x1="752.20" y1="507.20" x2="752.20" y2="511.00" stroke="#222" stroke-width="1.0" stroke-linecap="butt"/>
<text x="753.7" y="518.7" font-size="5.6" text-anchor="middle" fill="#333">10<tspan font-size="4.5" dy="-2">3</tspan></text>
<line x1="778.16" y1="507.20" x2="778.16" y2="511.00" stroke="#222" stroke-width="1.0" stroke-linecap="butt"/>
<text x="779.7" y="518.7" font-size="5.6" text-anchor="middle" fill="#333">10<tspan font-size="4.5" dy="-2">4</tspan></text>
<line x1="804.12" y1="507.20" x2="804.12" y2="511.00" stroke="#222" stroke-width="1.0" stroke-linecap="butt"/>
<text x="805.6" y="518.7" font-size="5.6" text-anchor="middle" fill="#333">10<tspan font-size="4.5" dy="-2">5</tspan></text>
<line x1="760.02" y1="507.20" x2="760.02" y2="509.00" stroke="#222" stroke-width="0.8" stroke-linecap="butt"/>
<line x1="764.59" y1="507.20" x2="764.59" y2="509.00" stroke="#222" stroke-width="0.8" stroke-linecap="butt"/>
<line x1="767.83" y1="507.20" x2="767.83" y2="509.00" stroke="#222" stroke-width="0.8" stroke-linecap="butt"/>
<line x1="770.34" y1="507.20" x2="770.34" y2="509.00" stroke="#222" stroke-width="0.8" stroke-linecap="butt"/>
<line x1="772.40" y1="507.20" x2="772.40" y2="509.00" stroke="#222" stroke-width="0.8" stroke-linecap="butt"/>
<line x1="774.14" y1="507.20" x2="774.14" y2="509.00" stroke="#222" stroke-width="0.8" stroke-linecap="butt"/>
<line x1="775.64" y1="507.20" x2="775.64" y2="509.00" stroke="#222" stroke-width="0.8" stroke-linecap="butt"/>
<line x1="776.97" y1="507.20" x2="776.97" y2="509.00" stroke="#222" stroke-width="0.8" stroke-linecap="butt"/>
<line x1="785.97" y1="507.20" x2="785.97" y2="509.00" stroke="#222" stroke-width="0.8" stroke-linecap="butt"/>
<line x1="790.54" y1="507.20" x2="790.54" y2="509.00" stroke="#222" stroke-width="0.8" stroke-linecap="butt"/>
<line x1="793.79" y1="507.20" x2="793.79" y2="509.00" stroke="#222" stroke-width="0.8" stroke-linecap="butt"/>
<line x1="796.30" y1="507.20" x2="796.30" y2="509.00" stroke="#222" stroke-width="0.8" stroke-linecap="butt"/>
<line x1="798.36" y1="507.20" x2="798.36" y2="509.00" stroke="#222" stroke-width="0.8" stroke-linecap="butt"/>
<line x1="800.09" y1="507.20" x2="800.09" y2="509.00" stroke="#222" stroke-width="0.8" stroke-linecap="butt"/>
<line x1="801.60" y1="507.20" x2="801.60" y2="509.00" stroke="#222" stroke-width="0.8" stroke-linecap="butt"/>
<line x1="802.93" y1="507.20" x2="802.93" y2="509.00" stroke="#222" stroke-width="0.8" stroke-linecap="butt"/>
<line x1="811.93" y1="507.20" x2="811.93" y2="509.00" stroke="#222" stroke-width="0.8" stroke-linecap="butt"/>
<line x1="691.18" y1="507.20" x2="691.18" y2="509.40" stroke="#222" stroke-width="0.9" stroke-linecap="butt"/>
<line x1="697.16" y1="507.20" x2="697.16" y2="509.40" stroke="#222" stroke-width="0.9" stroke-linecap="butt"/>
<line x1="703.14" y1="507.20" x2="703.14" y2="509.40" stroke="#222" stroke-width="0.9" stroke-linecap="butt"/>
<line x1="709.12" y1="507.20" x2="709.12" y2="509.40" stroke="#222" stroke-width="0.9" stroke-linecap="butt"/>
<line x1="715.10" y1="507.20" x2="715.10" y2="509.40" stroke="#222" stroke-width="0.9" stroke-linecap="butt"/>
<line x1="721.08" y1="507.20" x2="721.08" y2="509.40" stroke="#222" stroke-width="0.9" stroke-linecap="butt"/>
<line x1="727.06" y1="507.20" x2="727.06" y2="509.40" stroke="#222" stroke-width="0.9" stroke-linecap="butt"/>
<line x1="733.04" y1="507.20" x2="733.04" y2="509.40" stroke="#222" stroke-width="0.9" stroke-linecap="butt"/>
<line x1="739.02" y1="507.20" x2="739.02" y2="509.40" stroke="#222" stroke-width="0.9" stroke-linecap="butt"/>
<line x1="745.00" y1="507.20" x2="745.00" y2="509.40" stroke="#222" stroke-width="0.9" stroke-linecap="butt"/>
<line x1="750.98" y1="507.20" x2="750.98" y2="509.40" stroke="#222" stroke-width="0.9" stroke-linecap="butt"/>
<line x1="717.28" y1="507.20" x2="717.28" y2="510.40" stroke="#111" stroke-width="1.0" stroke-linecap="butt"/>
<line x1="719.18" y1="507.20" x2="719.18" y2="510.40" stroke="#111" stroke-width="1.0" stroke-linecap="butt"/>
<line x1="721.08" y1="507.20" x2="721.08" y2="510.40" stroke="#111" stroke-width="1.0" stroke-linecap="butt"/>
<line x1="722.98" y1="507.20" x2="722.98" y2="510.40" stroke="#111" stroke-width="1.0" stroke-linecap="butt"/>
<line x1="724.88" y1="507.20" x2="724.88" y2="510.40" stroke="#111" stroke-width="1.0" stroke-linecap="butt"/>
<rect x="716.9" y="507.2" width="8.4" height="1.6" fill="#111"/>
<g clip-path="url(#fc8)"><path d="M199.6 638.4 186.4 638.4 185.6 638.0 183.6 638.0 180.0 637.2 176.9 635.8 175.2 634.5 173.8 631.8 173.4 630.2 173.4 627.0 173.8 625.4 175.2 622.7 176.9 621.0 180.0 619.6 188.0 618.8 193.2 617.6 200.8 617.6 204.0 618.4 206.4 619.6 208.8 619.6 213.2 618.4 214.8 617.6 215.6 617.7 216.8 618.3 218.2 619.8 219.9 623.8 222.3 626.2 223.0 627.4 223.4 629.0 222.7 630.6 220.3 632.6 216.0 634.8 208.4 637.2 204.4 637.6 203.6 638.0 200.4 638.0 199.6 638.4Z" fill="#0000ff"/><path d="M198.0 638.2 186.4 638.2 185.6 637.8 183.6 637.8 180.0 637.0 177.2 635.8 175.2 634.2 174.0 631.8 173.6 630.2 173.6 627.0 174.1 625.4 175.3 623.0 177.2 621.1 180.0 619.9 188.0 619.0 193.2 617.9 200.8 617.9 204.0 618.7 206.4 619.8 207.6 619.8 208.8 619.8 213.6 618.5 214.8 617.9 215.6 617.9 217.7 619.4 219.7 623.8 222.1 626.2 223.1 628.2 222.7 630.2 221.6 631.5 216.0 634.5 208.4 637.0 204.4 637.4 203.6 637.8 198.0 638.2Z" fill="#0016ff"/><path d="M199.6 637.9 186.8 638.0 180.0 636.7 177.2 635.5 175.5 634.2 174.3 631.8 173.9 630.2 173.9 627.0 174.3 625.4 175.5 623.0 177.2 621.3 180.0 620.1 188.0 619.2 193.6 618.1 200.8 618.1 202.8 618.5 206.8 620.0 209.2 619.9 214.8 618.2 216.5 618.6 217.7 619.8 219.5 623.8 222.0 626.5 222.5 627.4 222.9 628.6 222.4 630.3 220.0 632.3 216.0 634.3 213.6 635.1 206.4 637.1 200.4 637.6 199.6 637.9Z" fill="#001dff"/><path d="M198.0 637.8 186.8 637.7 180.4 636.5 177.2 635.2 175.6 633.8 174.6 631.8 174.1 629.8 174.1 627.4 174.5 625.8 175.8 623.0 177.2 621.6 180.0 620.4 188.0 619.4 193.6 618.3 200.4 618.3 202.8 618.8 206.0 620.1 207.6 620.3 209.2 620.2 215.2 618.4 216.4 618.9 217.3 619.8 219.4 624.2 221.7 626.6 222.5 628.2 222.1 630.2 221.2 631.1 216.0 634.0 208.4 636.4 203.2 637.3 198.0 637.8Z" fill="#003dff"/><path d="M199.2 637.4 186.8 637.4 180.4 636.2 177.6 635.0 175.6 633.1 174.5 629.8 174.5 627.4 175.6 624.2 177.2 622.2 179.5 621.0 194.0 618.7 200.4 618.8 206.8 620.6 209.2 620.5 214.8 619.1 215.6 619.2 216.6 619.8 219.0 624.2 221.1 626.6 221.8 627.8 221.8 629.4 221.0 630.6 217.1 633.0 211.9 635.0 206.0 636.6 199.2 637.4Z" fill="#0063ff"/><path d="M196.8 637.0 187.2 636.9 181.2 635.7 178.0 634.4 176.2 632.6 175.2 629.8 175.3 627.0 176.5 624.2 178.0 622.6 180.4 621.5 194.0 619.5 200.0 619.5 202.8 620.1 206.0 621.2 207.6 621.4 209.6 621.2 214.8 620.0 215.6 620.2 216.4 620.8 218.4 624.6 220.9 627.8 221.0 629.0 220.3 630.2 218.4 631.5 215.2 633.0 206.4 635.8 196.8 637.0Z" fill="#0089ff"/><path d="M199.2 636.2 188.0 636.3 183.2 635.5 179.2 634.2 177.2 632.7 176.2 630.6 175.9 628.2 176.7 625.4 178.2 623.4 180.4 622.3 194.0 620.2 200.0 620.2 202.8 620.8 205.6 621.9 207.6 622.1 209.6 622.0 214.4 620.9 215.2 621.1 216.0 621.8 217.7 625.0 219.9 627.8 220.0 629.0 219.4 629.8 215.1 632.2 207.2 634.9 199.2 636.2Z" fill="#00b9ff"/><path d="M197.2 635.8 187.6 635.7 182.8 634.7 179.3 633.4 177.6 631.9 176.8 629.8 176.7 627.8 177.6 625.4 179.2 623.7 182.0 622.7 194.4 620.9 198.8 620.9 202.0 621.4 206.8 622.8 209.6 622.8 213.6 621.9 214.8 622.1 215.6 622.9 217.0 625.4 218.8 627.8 218.8 629.0 218.0 629.8 212.9 632.2 205.6 634.5 197.2 635.8Z" fill="#00eaff"/><path d="M199.6 635.0 196.8 635.3 188.4 635.3 184.8 634.6 180.8 633.3 178.9 632.2 178.0 631.0 177.5 629.0 177.9 626.6 179.2 624.6 181.6 623.6 194.0 621.7 198.0 621.6 201.6 622.1 206.8 623.6 209.6 623.6 214.0 623.0 215.1 623.8 217.5 627.8 217.5 628.6 216.9 629.4 214.0 630.9 207.0 633.4 199.6 635.0Z" fill="#00f3bb"/><path d="M199.2 634.6 188.8 634.9 183.6 633.6 180.4 632.3 179.2 631.4 178.3 629.4 178.6 627.0 179.6 625.4 182.0 624.3 193.6 622.5 196.4 622.3 200.8 622.7 206.8 624.4 209.2 624.5 213.6 624.0 214.7 625.0 216.1 627.4 216.0 628.6 214.0 630.0 206.8 632.7 199.2 634.6Z" fill="#00fa75"/><path d="M198.8 634.2 189.2 634.5 185.2 633.6 181.6 632.1 180.0 631.0 179.2 629.4 179.3 627.4 180.4 625.8 182.4 625.0 195.6 623.0 200.4 623.3 206.8 625.2 209.2 625.3 212.8 625.0 213.7 625.4 214.5 626.6 214.8 627.4 214.7 628.2 213.2 629.3 202.8 633.3 198.8 634.2Z" fill="#00f03e"/><path d="M198.8 633.8 189.6 634.1 186.4 633.6 184.0 632.6 180.8 630.6 180.1 629.4 180.1 627.8 181.2 626.3 183.2 625.5 188.4 624.5 195.6 623.7 200.4 624.0 206.8 626.0 212.4 626.1 213.4 627.0 213.3 627.8 212.9 628.2 211.4 629.0 202.4 632.8 198.8 633.8Z" fill="#00e707"/><path d="M198.8 633.5 190.0 633.8 186.8 633.3 184.3 632.2 182.0 630.6 181.0 629.4 180.9 628.2 182.0 626.8 184.4 625.9 189.2 624.9 195.6 624.3 200.4 624.7 205.2 626.5 209.8 627.8 209.8 628.2 208.7 629.0 202.6 632.2 198.8 633.5Z" fill="#2ce900"/><path d="M190.8 633.4 187.6 633.2 184.6 631.8 182.0 629.4 181.8 628.6 182.2 627.8 184.0 626.7 187.6 625.6 196.0 624.9 198.8 625.1 201.2 625.6 206.4 628.2 206.4 628.6 205.8 629.4 202.3 631.8 200.4 632.7 197.6 633.3 190.8 633.4Z" fill="#5fec00"/><path d="M197.2 633.0 189.6 633.1 187.6 632.8 186.0 632.2 184.4 631.0 183.3 629.8 182.9 628.6 184.0 627.4 187.2 626.2 195.2 625.5 198.0 625.5 200.4 626.0 202.7 627.0 204.2 628.2 204.1 629.4 202.0 631.4 199.6 632.6 197.2 633.0Z" fill="#92ef00"/><path d="M198.0 632.6 189.6 632.8 187.6 632.5 185.1 631.0 184.1 629.8 184.0 628.6 184.6 627.8 186.4 626.9 190.8 626.1 198.4 626.1 200.8 626.7 202.6 627.8 203.1 629.0 202.2 630.6 200.4 631.9 198.0 632.6Z" fill="#c4f000"/><path d="M198.4 632.2 188.4 632.4 186.8 631.8 185.7 631.0 184.9 629.8 184.7 629.0 185.1 628.2 186.0 627.6 188.8 626.7 196.4 626.4 199.2 626.7 201.5 627.8 202.1 628.6 202.1 629.4 201.0 631.0 198.4 632.2Z" fill="#f5f000"/><path d="M190.0 632.2 188.0 631.9 186.3 631.0 185.4 629.4 185.9 628.2 187.4 627.4 189.2 627.0 197.2 626.9 200.0 627.5 200.9 628.2 201.4 629.0 200.7 630.6 198.8 631.8 197.2 632.1 193.6 631.9 190.0 632.2Z" fill="#ffc800"/><path d="M190.8 631.8 188.8 631.8 187.0 631.0 186.1 629.8 186.3 628.6 187.4 627.8 189.2 627.3 196.8 627.3 199.3 627.8 200.6 629.0 200.6 629.8 200.1 630.6 198.4 631.5 196.8 631.8 193.2 631.5 190.8 631.8Z" fill="#ff9700"/><path d="M196.8 631.4 193.6 631.0 190.4 631.5 188.8 631.4 187.2 630.6 186.6 629.4 187.6 628.2 189.6 627.7 197.2 627.8 199.5 628.6 199.9 629.4 199.3 630.6 198.4 631.1 196.8 631.4Z" fill="#ff6300"/><path d="M190.8 631.1 189.2 631.1 188.0 630.7 187.3 629.8 187.4 629.0 188.7 628.2 190.4 628.0 193.6 628.5 197.2 628.3 198.4 628.6 199.1 629.4 198.9 630.2 197.6 630.9 193.6 630.4 190.8 631.1Z" fill="#ff2c00"/><path d="M190.4 630.6 188.8 630.5 188.3 630.2 188.1 629.4 188.8 628.7 190.0 628.5 191.2 628.7 192.3 629.4 191.7 630.2 190.4 630.6ZM197.6 630.2 196.1 630.2 195.4 629.8 195.5 629.4 197.2 629.0 197.9 629.4 198.0 629.8 197.6 630.2Z" fill="#ff0000"/></g>
<rect x="157.20" y="526.70" width="135.80" height="135.30" fill="none" stroke="#7a7a7a" stroke-width="1.1"/>
<line x1="207.20" y1="526.70" x2="207.20" y2="662.00" stroke="#111" stroke-width="1.3" stroke-linecap="butt"/>
<line x1="157.20" y1="598.20" x2="293.00" y2="598.20" stroke="#111" stroke-width="1.3" stroke-linecap="butt"/>
<text x="160.0" y="543.1" font-size="9.6" fill="#111" transform="translate(160.0 543.1) scale(1 1.04) translate(-160.0 -543.1)" stroke="#111" stroke-width="0.3">0</text>
<text x="160.0" y="652.7" font-size="9.6" fill="#111" transform="translate(160.0 652.7) scale(1 1.04) translate(-160.0 -652.7)" stroke="#111" stroke-width="0.3">87.9</text>
<text x="282.2" y="543.1" font-size="9.6" fill="#111" transform="translate(282.2 543.1) scale(1 1.04) translate(-282.2 -543.1)" stroke="#111" stroke-width="0.3">0</text>
<text x="280.8" y="652.7" font-size="9.6" text-anchor="end" fill="#111" transform="translate(280.8 652.7) scale(1 1.04) translate(-280.8 -652.7)" stroke="#111" stroke-width="0.3">12.1</text>
<line x1="153.40" y1="529.20" x2="157.20" y2="529.20" stroke="#222" stroke-width="1.0" stroke-linecap="butt"/>
<line x1="155.50" y1="536.58" x2="157.20" y2="536.58" stroke="#222" stroke-width="0.8" stroke-linecap="butt"/>
<line x1="155.50" y1="543.96" x2="157.20" y2="543.96" stroke="#222" stroke-width="0.8" stroke-linecap="butt"/>
<line x1="155.50" y1="551.34" x2="157.20" y2="551.34" stroke="#222" stroke-width="0.8" stroke-linecap="butt"/>
<line x1="155.50" y1="558.72" x2="157.20" y2="558.72" stroke="#222" stroke-width="0.8" stroke-linecap="butt"/>
<line x1="153.40" y1="566.10" x2="157.20" y2="566.10" stroke="#222" stroke-width="1.0" stroke-linecap="butt"/>
<line x1="155.50" y1="573.48" x2="157.20" y2="573.48" stroke="#222" stroke-width="0.8" stroke-linecap="butt"/>
<line x1="155.50" y1="580.86" x2="157.20" y2="580.86" stroke="#222" stroke-width="0.8" stroke-linecap="butt"/>
<line x1="155.50" y1="588.24" x2="157.20" y2="588.24" stroke="#222" stroke-width="0.8" stroke-linecap="butt"/>
<line x1="155.50" y1="595.62" x2="157.20" y2="595.62" stroke="#222" stroke-width="0.8" stroke-linecap="butt"/>
<line x1="153.40" y1="603.00" x2="157.20" y2="603.00" stroke="#222" stroke-width="1.0" stroke-linecap="butt"/>
<line x1="155.50" y1="610.38" x2="157.20" y2="610.38" stroke="#222" stroke-width="0.8" stroke-linecap="butt"/>
<line x1="155.50" y1="617.76" x2="157.20" y2="617.76" stroke="#222" stroke-width="0.8" stroke-linecap="butt"/>
<line x1="155.50" y1="625.14" x2="157.20" y2="625.14" stroke="#222" stroke-width="0.8" stroke-linecap="butt"/>
<line x1="155.50" y1="632.52" x2="157.20" y2="632.52" stroke="#222" stroke-width="0.8" stroke-linecap="butt"/>
<line x1="153.40" y1="639.90" x2="157.20" y2="639.90" stroke="#222" stroke-width="1.0" stroke-linecap="butt"/>
<line x1="155.50" y1="647.28" x2="157.20" y2="647.28" stroke="#222" stroke-width="0.8" stroke-linecap="butt"/>
<line x1="155.50" y1="654.66" x2="157.20" y2="654.66" stroke="#222" stroke-width="0.8" stroke-linecap="butt"/>
<text x="150.9" y="531.2" font-size="5.2" text-anchor="end" fill="#333" transform="translate(150.9 531.2) scale(1 1.04) translate(-150.9 -531.2)">150K</text>
<text x="150.9" y="568.1" font-size="5.2" text-anchor="end" fill="#333" transform="translate(150.9 568.1) scale(1 1.04) translate(-150.9 -568.1)">100K</text>
<text x="150.9" y="605.0" font-size="5.2" text-anchor="end" fill="#333" transform="translate(150.9 605.0) scale(1 1.04) translate(-150.9 -605.0)">50K</text>
<text x="150.9" y="641.9" font-size="5.2" text-anchor="end" fill="#333" transform="translate(150.9 641.9) scale(1 1.04) translate(-150.9 -641.9)">0</text>
<line x1="162.36" y1="662.00" x2="162.36" y2="665.80" stroke="#222" stroke-width="1.0" stroke-linecap="butt"/>
<text x="163.9" y="673.5" font-size="5.6" text-anchor="middle" fill="#333">-10<tspan font-size="4.5" dy="-2">3</tspan></text>
<line x1="196.72" y1="662.00" x2="196.72" y2="665.80" stroke="#222" stroke-width="1.0" stroke-linecap="butt"/>
<text x="196.7" y="673.5" font-size="5.6" text-anchor="middle" fill="#333" transform="translate(196.7 673.5) scale(1 1.04) translate(-196.7 -673.5)">0</text>
<line x1="233.52" y1="662.00" x2="233.52" y2="665.80" stroke="#222" stroke-width="1.0" stroke-linecap="butt"/>
<text x="235.0" y="673.5" font-size="5.6" text-anchor="middle" fill="#333">10<tspan font-size="4.5" dy="-2">3</tspan></text>
<line x1="259.32" y1="662.00" x2="259.32" y2="665.80" stroke="#222" stroke-width="1.0" stroke-linecap="butt"/>
<text x="260.8" y="673.5" font-size="5.6" text-anchor="middle" fill="#333">10<tspan font-size="4.5" dy="-2">4</tspan></text>
<line x1="285.26" y1="662.00" x2="285.26" y2="665.80" stroke="#222" stroke-width="1.0" stroke-linecap="butt"/>
<text x="286.8" y="673.5" font-size="5.6" text-anchor="middle" fill="#333">10<tspan font-size="4.5" dy="-2">5</tspan></text>
<line x1="241.29" y1="662.00" x2="241.29" y2="663.80" stroke="#222" stroke-width="0.8" stroke-linecap="butt"/>
<line x1="245.83" y1="662.00" x2="245.83" y2="663.80" stroke="#222" stroke-width="0.8" stroke-linecap="butt"/>
<line x1="249.05" y1="662.00" x2="249.05" y2="663.80" stroke="#222" stroke-width="0.8" stroke-linecap="butt"/>
<line x1="251.55" y1="662.00" x2="251.55" y2="663.80" stroke="#222" stroke-width="0.8" stroke-linecap="butt"/>
<line x1="253.60" y1="662.00" x2="253.60" y2="663.80" stroke="#222" stroke-width="0.8" stroke-linecap="butt"/>
<line x1="255.32" y1="662.00" x2="255.32" y2="663.80" stroke="#222" stroke-width="0.8" stroke-linecap="butt"/>
<line x1="256.82" y1="662.00" x2="256.82" y2="663.80" stroke="#222" stroke-width="0.8" stroke-linecap="butt"/>
<line x1="258.14" y1="662.00" x2="258.14" y2="663.80" stroke="#222" stroke-width="0.8" stroke-linecap="butt"/>
<line x1="267.13" y1="662.00" x2="267.13" y2="663.80" stroke="#222" stroke-width="0.8" stroke-linecap="butt"/>
<line x1="271.70" y1="662.00" x2="271.70" y2="663.80" stroke="#222" stroke-width="0.8" stroke-linecap="butt"/>
<line x1="274.94" y1="662.00" x2="274.94" y2="663.80" stroke="#222" stroke-width="0.8" stroke-linecap="butt"/>
<line x1="277.45" y1="662.00" x2="277.45" y2="663.80" stroke="#222" stroke-width="0.8" stroke-linecap="butt"/>
<line x1="279.51" y1="662.00" x2="279.51" y2="663.80" stroke="#222" stroke-width="0.8" stroke-linecap="butt"/>
<line x1="281.24" y1="662.00" x2="281.24" y2="663.80" stroke="#222" stroke-width="0.8" stroke-linecap="butt"/>
<line x1="282.75" y1="662.00" x2="282.75" y2="663.80" stroke="#222" stroke-width="0.8" stroke-linecap="butt"/>
<line x1="284.07" y1="662.00" x2="284.07" y2="663.80" stroke="#222" stroke-width="0.8" stroke-linecap="butt"/>
<line x1="162.36" y1="662.00" x2="162.36" y2="664.20" stroke="#222" stroke-width="0.9" stroke-linecap="butt"/>
<line x1="169.23" y1="662.00" x2="169.23" y2="664.20" stroke="#222" stroke-width="0.9" stroke-linecap="butt"/>
<line x1="176.10" y1="662.00" x2="176.10" y2="664.20" stroke="#222" stroke-width="0.9" stroke-linecap="butt"/>
<line x1="182.97" y1="662.00" x2="182.97" y2="664.20" stroke="#222" stroke-width="0.9" stroke-linecap="butt"/>
<line x1="189.85" y1="662.00" x2="189.85" y2="664.20" stroke="#222" stroke-width="0.9" stroke-linecap="butt"/>
<line x1="196.72" y1="662.00" x2="196.72" y2="664.20" stroke="#222" stroke-width="0.9" stroke-linecap="butt"/>
<line x1="203.59" y1="662.00" x2="203.59" y2="664.20" stroke="#222" stroke-width="0.9" stroke-linecap="butt"/>
<line x1="210.46" y1="662.00" x2="210.46" y2="664.20" stroke="#222" stroke-width="0.9" stroke-linecap="butt"/>
<line x1="217.33" y1="662.00" x2="217.33" y2="664.20" stroke="#222" stroke-width="0.9" stroke-linecap="butt"/>
<line x1="224.20" y1="662.00" x2="224.20" y2="664.20" stroke="#222" stroke-width="0.9" stroke-linecap="butt"/>
<line x1="231.08" y1="662.00" x2="231.08" y2="664.20" stroke="#222" stroke-width="0.9" stroke-linecap="butt"/>
<line x1="192.92" y1="662.00" x2="192.92" y2="665.20" stroke="#111" stroke-width="1.0" stroke-linecap="butt"/>
<line x1="194.82" y1="662.00" x2="194.82" y2="665.20" stroke="#111" stroke-width="1.0" stroke-linecap="butt"/>
<line x1="196.72" y1="662.00" x2="196.72" y2="665.20" stroke="#111" stroke-width="1.0" stroke-linecap="butt"/>
<line x1="198.62" y1="662.00" x2="198.62" y2="665.20" stroke="#111" stroke-width="1.0" stroke-linecap="butt"/>
<line x1="200.52" y1="662.00" x2="200.52" y2="665.20" stroke="#111" stroke-width="1.0" stroke-linecap="butt"/>
<rect x="192.5" y="662.0" width="8.4" height="1.6" fill="#111"/>
<g clip-path="url(#fc9)"><path d="M394.9 644.9 390.5 644.9 386.5 643.3 384.2 641.5 383.3 640.5 382.0 637.9 381.1 631.5 380.8 630.7 380.8 627.1 381.1 626.3 381.1 623.5 381.5 622.7 381.6 614.3 382.4 611.1 384.8 604.3 386.9 600.1 387.8 598.7 391.3 595.3 392.9 594.2 393.5 594.3 398.5 597.6 403.5 599.5 404.9 600.4 406.0 601.9 408.5 604.1 409.4 606.3 409.5 610.7 411.8 615.1 411.8 617.1 412.4 619.1 414.2 621.9 414.6 623.1 412.6 626.7 412.6 632.7 412.2 634.3 410.0 637.9 406.9 641.0 403.7 642.9 394.9 644.9Z" fill="#0000ff"/><path d="M394.5 644.7 390.5 644.6 388.1 643.8 385.3 642.2 383.7 640.7 382.3 637.9 382.2 636.3 381.0 630.3 381.0 627.1 381.4 626.3 381.4 623.5 381.8 622.7 381.8 614.3 382.6 611.1 385.1 604.3 387.1 600.3 388.1 598.8 390.5 596.4 391.8 595.1 392.9 594.5 393.3 594.5 399.3 598.3 403.3 599.7 404.8 600.7 405.7 601.9 408.3 604.3 409.1 606.3 409.3 611.1 411.5 615.1 411.6 617.1 412.1 619.1 413.9 621.9 414.3 623.1 412.4 626.7 412.4 632.3 411.9 634.3 409.7 637.9 406.9 640.7 403.7 642.6 394.5 644.7Z" fill="#0016ff"/><path d="M394.9 644.4 390.9 644.4 389.3 644.0 386.5 642.7 384.2 640.7 382.6 637.9 381.3 630.3 381.3 627.5 382.0 622.7 382.1 614.7 382.9 611.1 385.4 604.3 387.4 600.3 390.9 596.4 392.9 594.9 399.3 598.6 403.3 600.0 404.5 600.8 408.1 604.6 408.9 606.7 409.0 611.1 411.2 615.1 411.8 619.1 413.5 621.9 413.9 623.1 412.2 626.3 412.1 632.3 411.6 634.3 409.6 637.5 406.5 640.7 403.7 642.3 394.9 644.4Z" fill="#001dff"/><path d="M395.3 644.0 394.1 644.2 390.5 644.0 387.3 642.7 385.2 641.1 384.1 639.8 383.0 637.5 381.7 630.3 381.7 627.5 382.3 622.7 382.5 614.7 383.3 611.4 385.3 605.9 387.7 601.1 390.5 597.8 391.7 596.7 392.9 596.2 394.1 596.4 398.9 599.0 402.9 600.6 404.5 601.8 407.3 604.9 408.3 607.1 408.6 611.1 410.4 614.7 411.3 619.1 412.9 622.7 412.7 623.9 411.8 626.3 411.5 631.5 411.1 633.5 410.3 635.5 408.9 637.5 406.3 640.3 403.7 641.9 400.5 642.9 395.3 644.0Z" fill="#003dff"/><path d="M395.7 643.5 393.3 643.7 390.9 643.3 388.1 641.9 385.8 639.9 384.3 637.1 382.8 629.1 383.6 615.9 384.6 611.5 386.6 606.3 388.9 601.9 391.3 599.1 392.5 598.2 393.3 598.0 402.3 601.9 406.1 605.7 406.9 607.5 407.5 611.5 409.3 615.5 410.1 619.4 411.3 622.7 410.4 626.7 409.9 632.7 409.2 634.7 407.8 636.7 405.7 639.1 403.3 640.8 399.3 642.5 395.7 643.5Z" fill="#0063ff"/><path d="M396.1 642.3 393.7 642.6 391.3 642.2 388.9 641.0 386.9 639.3 385.5 636.7 384.0 629.1 384.6 617.1 385.5 612.7 387.4 607.9 389.6 603.5 391.7 600.8 393.3 599.9 394.5 600.1 401.3 603.0 404.7 606.3 405.5 607.9 406.2 611.9 408.0 615.9 409.7 622.7 409.1 626.3 408.7 631.9 408.2 633.5 407.0 635.5 405.0 637.9 403.0 639.5 399.6 641.1 396.1 642.3Z" fill="#0089ff"/><path d="M394.9 641.5 392.9 641.5 391.3 641.1 389.2 639.9 387.5 638.3 386.3 635.5 385.0 628.7 385.6 618.3 386.6 613.1 388.4 608.7 390.5 604.8 392.1 602.6 393.7 601.7 394.9 602.0 400.5 604.3 403.4 607.1 404.0 608.3 404.9 612.3 406.7 616.3 408.3 623.1 407.4 631.5 406.9 633.1 405.7 635.1 403.9 637.1 401.8 638.7 397.7 640.7 394.9 641.5Z" fill="#00b9ff"/><path d="M395.7 640.4 393.7 640.6 392.1 640.3 390.1 639.3 388.5 637.9 387.2 635.1 385.9 628.7 386.3 619.5 387.4 613.9 389.1 609.9 391.2 606.3 392.9 604.1 394.1 603.6 399.6 605.5 402.2 607.9 403.7 612.7 405.5 616.7 406.9 623.1 406.1 631.1 404.9 633.9 403.3 635.9 401.5 637.5 398.1 639.4 395.7 640.4Z" fill="#00eaff"/><path d="M395.3 639.5 393.7 639.7 392.1 639.4 390.5 638.5 389.0 637.1 387.6 633.5 386.6 627.9 387.0 619.9 388.2 614.3 389.5 611.5 391.3 608.4 393.3 605.9 394.5 605.4 398.5 606.5 399.9 607.5 401.0 608.7 404.3 617.1 405.6 623.1 405.0 630.3 403.9 633.1 402.4 635.1 400.7 636.7 397.7 638.6 395.3 639.5Z" fill="#00f3bb"/><path d="M394.9 638.7 393.3 638.8 391.7 638.3 390.1 637.1 389.3 636.0 387.6 630.7 387.2 625.5 387.9 618.7 389.3 613.9 390.8 611.1 392.5 608.8 394.1 607.3 395.3 607.0 398.1 607.9 399.8 609.5 403.2 617.5 404.4 623.5 403.8 630.3 402.6 633.1 400.9 635.1 399.0 636.7 396.9 638.0 394.9 638.7Z" fill="#00fa75"/><path d="M394.5 637.9 392.9 637.8 391.7 637.3 390.5 636.4 389.6 635.1 388.1 629.9 387.8 624.7 388.5 618.7 389.9 614.3 392.9 610.1 394.5 608.8 395.7 608.5 397.7 609.2 399.0 610.7 402.2 617.9 403.3 623.9 402.7 629.9 401.6 632.7 400.1 634.6 398.1 636.3 396.1 637.5 394.5 637.9Z" fill="#00f03e"/><path d="M394.5 637.1 392.9 637.0 391.7 636.5 390.0 634.3 388.6 629.5 388.3 624.3 389.1 618.7 390.6 614.7 393.3 611.3 394.9 610.2 396.1 609.9 396.9 610.2 397.8 611.1 400.9 617.1 402.0 621.5 402.3 624.7 401.9 629.5 400.8 632.3 399.6 633.9 397.7 635.7 396.1 636.7 394.5 637.1Z" fill="#00e707"/><path d="M394.5 636.3 393.3 636.3 392.1 635.9 390.4 633.9 389.1 629.5 388.8 624.7 389.5 619.5 390.9 615.5 393.3 612.6 395.7 611.4 396.5 611.6 397.3 612.4 400.1 617.5 401.2 621.5 401.4 625.1 401.0 629.5 399.9 632.3 397.3 635.1 394.5 636.3Z" fill="#2ce900"/><path d="M394.9 635.5 393.7 635.6 392.5 635.3 390.9 633.5 389.5 629.5 389.2 625.1 389.8 620.3 391.2 616.3 393.3 613.8 394.5 613.1 395.7 612.8 397.3 614.0 399.5 617.9 400.6 621.9 400.7 625.1 400.4 629.1 399.5 631.5 397.3 634.2 394.9 635.5Z" fill="#5fec00"/><path d="M394.9 634.8 392.9 634.7 391.3 633.0 390.0 629.5 389.6 625.5 390.1 621.1 391.3 617.5 393.3 614.9 395.3 614.1 396.9 614.9 398.7 617.9 399.8 621.5 400.1 624.7 399.8 628.7 399.0 631.1 397.1 633.5 394.9 634.8Z" fill="#92ef00"/><path d="M395.3 633.9 393.3 634.0 391.7 632.6 390.5 629.5 390.1 625.5 390.5 621.5 391.7 618.0 393.3 615.9 395.3 615.2 396.9 616.2 398.2 618.3 399.2 621.5 399.6 624.7 399.3 628.3 398.7 630.3 397.3 632.4 395.3 633.9Z" fill="#c4f000"/><path d="M395.3 633.2 393.7 633.4 392.9 633.0 392.1 632.1 390.9 629.3 390.5 625.9 390.8 622.3 391.7 619.3 393.3 617.0 394.9 616.2 396.5 616.9 397.7 618.6 398.7 621.5 399.0 624.3 398.8 627.9 398.3 629.9 396.9 632.0 395.3 633.2Z" fill="#f5f000"/><path d="M395.3 632.4 393.7 632.6 392.4 631.5 391.3 629.1 390.9 625.9 391.2 622.7 392.1 619.8 393.3 618.1 394.9 617.3 396.1 617.7 397.3 619.2 398.1 621.5 398.5 624.3 398.4 627.5 397.9 629.5 396.9 631.1 395.3 632.4Z" fill="#ffc800"/><path d="M395.3 631.6 393.7 631.7 392.6 630.7 391.7 628.6 391.4 625.9 391.6 623.1 392.3 620.7 393.4 619.1 394.9 618.4 396.1 618.9 396.9 619.9 397.7 622.1 398.0 624.7 397.9 627.1 397.4 629.1 396.5 630.6 395.3 631.6Z" fill="#ff9700"/><path d="M395.3 630.8 394.1 631.0 392.9 630.0 392.1 628.0 391.8 625.9 392.0 623.5 392.6 621.5 393.7 620.0 394.9 619.5 395.8 619.9 396.7 621.1 397.5 624.7 397.0 628.7 396.3 629.9 395.3 630.8Z" fill="#ff6300"/><path d="M394.9 629.9 394.1 629.9 393.2 629.1 392.6 627.5 392.4 625.5 392.6 623.5 393.2 621.9 394.1 620.9 394.9 620.7 395.7 621.2 396.4 622.3 396.9 625.5 396.5 628.3 395.7 629.4 394.9 629.9Z" fill="#ff2c00"/><path d="M394.5 628.7 393.8 628.3 393.4 627.5 393.1 625.1 393.7 622.9 394.1 622.5 394.9 622.3 395.9 623.5 396.2 625.9 395.7 627.9 394.5 628.7Z" fill="#ff0000"/></g>
<rect x="351.70" y="526.70" width="136.10" height="135.30" fill="none" stroke="#7a7a7a" stroke-width="1.1"/>
<line x1="404.30" y1="526.70" x2="404.30" y2="662.00" stroke="#111" stroke-width="1.3" stroke-linecap="butt"/>
<line x1="351.70" y1="611.40" x2="487.80" y2="611.40" stroke="#111" stroke-width="1.3" stroke-linecap="butt"/>
<text x="354.5" y="543.1" font-size="9.6" fill="#111" transform="translate(354.5 543.1) scale(1 1.04) translate(-354.5 -543.1)" stroke="#111" stroke-width="0.3">11.2</text>
<text x="354.5" y="652.7" font-size="9.6" fill="#111" transform="translate(354.5 652.7) scale(1 1.04) translate(-354.5 -652.7)" stroke="#111" stroke-width="0.3">80.8</text>
<text x="475.6" y="543.1" font-size="9.6" text-anchor="end" fill="#111" transform="translate(475.6 543.1) scale(1 1.04) translate(-475.6 -543.1)" stroke="#111" stroke-width="0.3">0.93</text>
<text x="475.6" y="652.7" font-size="9.6" text-anchor="end" fill="#111" transform="translate(475.6 652.7) scale(1 1.04) translate(-475.6 -652.7)" stroke="#111" stroke-width="0.3">7.01</text>
<line x1="347.90" y1="537.93" x2="351.70" y2="537.93" stroke="#222" stroke-width="1.0" stroke-linecap="butt"/>
<text x="343.2" y="540.1" font-size="5.6" text-anchor="middle" fill="#333">10<tspan font-size="4.5" dy="-2">5</tspan></text>
<line x1="347.90" y1="563.23" x2="351.70" y2="563.23" stroke="#222" stroke-width="1.0" stroke-linecap="butt"/>
<text x="343.2" y="565.4" font-size="5.6" text-anchor="middle" fill="#333">10<tspan font-size="4.5" dy="-2">4</tspan></text>
<line x1="347.90" y1="589.07" x2="351.70" y2="589.07" stroke="#222" stroke-width="1.0" stroke-linecap="butt"/>
<text x="343.2" y="591.3" font-size="5.6" text-anchor="middle" fill="#333">10<tspan font-size="4.5" dy="-2">3</tspan></text>
<line x1="347.90" y1="623.98" x2="351.70" y2="623.98" stroke="#222" stroke-width="1.0" stroke-linecap="butt"/>
<text x="345.2" y="626.2" font-size="5.6" text-anchor="end" fill="#333" transform="translate(345.2 626.2) scale(1 1.04) translate(-345.2 -626.2)">0</text>
<line x1="347.90" y1="660.24" x2="351.70" y2="660.24" stroke="#222" stroke-width="1.0" stroke-linecap="butt"/>
<text x="343.2" y="662.4" font-size="5.6" text-anchor="middle" fill="#333">-10<tspan font-size="4.5" dy="-2">3</tspan></text>
<line x1="350.00" y1="555.61" x2="351.70" y2="555.61" stroke="#222" stroke-width="0.8" stroke-linecap="butt"/>
<line x1="350.00" y1="551.16" x2="351.70" y2="551.16" stroke="#222" stroke-width="0.8" stroke-linecap="butt"/>
<line x1="350.00" y1="548.00" x2="351.70" y2="548.00" stroke="#222" stroke-width="0.8" stroke-linecap="butt"/>
<line x1="350.00" y1="545.55" x2="351.70" y2="545.55" stroke="#222" stroke-width="0.8" stroke-linecap="butt"/>
<line x1="350.00" y1="543.54" x2="351.70" y2="543.54" stroke="#222" stroke-width="0.8" stroke-linecap="butt"/>
<line x1="350.00" y1="541.85" x2="351.70" y2="541.85" stroke="#222" stroke-width="0.8" stroke-linecap="butt"/>
<line x1="350.00" y1="540.38" x2="351.70" y2="540.38" stroke="#222" stroke-width="0.8" stroke-linecap="butt"/>
<line x1="350.00" y1="539.09" x2="351.70" y2="539.09" stroke="#222" stroke-width="0.8" stroke-linecap="butt"/>
<line x1="350.00" y1="581.29" x2="351.70" y2="581.29" stroke="#222" stroke-width="0.8" stroke-linecap="butt"/>
<line x1="350.00" y1="576.74" x2="351.70" y2="576.74" stroke="#222" stroke-width="0.8" stroke-linecap="butt"/>
<line x1="350.00" y1="573.51" x2="351.70" y2="573.51" stroke="#222" stroke-width="0.8" stroke-linecap="butt"/>
<line x1="350.00" y1="571.01" x2="351.70" y2="571.01" stroke="#222" stroke-width="0.8" stroke-linecap="butt"/>
<line x1="350.00" y1="568.96" x2="351.70" y2="568.96" stroke="#222" stroke-width="0.8" stroke-linecap="butt"/>
<line x1="350.00" y1="567.23" x2="351.70" y2="567.23" stroke="#222" stroke-width="0.8" stroke-linecap="butt"/>
<line x1="350.00" y1="565.74" x2="351.70" y2="565.74" stroke="#222" stroke-width="0.8" stroke-linecap="butt"/>
<line x1="350.00" y1="564.41" x2="351.70" y2="564.41" stroke="#222" stroke-width="0.8" stroke-linecap="butt"/>
<line x1="350.00" y1="530.31" x2="351.70" y2="530.31" stroke="#222" stroke-width="0.8" stroke-linecap="butt"/>
<line x1="349.50" y1="594.97" x2="351.70" y2="594.97" stroke="#222" stroke-width="0.9" stroke-linecap="butt"/>
<line x1="349.50" y1="602.22" x2="351.70" y2="602.22" stroke="#222" stroke-width="0.9" stroke-linecap="butt"/>
<line x1="349.50" y1="609.48" x2="351.70" y2="609.48" stroke="#222" stroke-width="0.9" stroke-linecap="butt"/>
<line x1="349.50" y1="616.73" x2="351.70" y2="616.73" stroke="#222" stroke-width="0.9" stroke-linecap="butt"/>
<line x1="349.50" y1="631.23" x2="351.70" y2="631.23" stroke="#222" stroke-width="0.9" stroke-linecap="butt"/>
<line x1="349.50" y1="638.48" x2="351.70" y2="638.48" stroke="#222" stroke-width="0.9" stroke-linecap="butt"/>
<line x1="349.50" y1="645.74" x2="351.70" y2="645.74" stroke="#222" stroke-width="0.9" stroke-linecap="butt"/>
<line x1="349.50" y1="652.99" x2="351.70" y2="652.99" stroke="#222" stroke-width="0.9" stroke-linecap="butt"/>
<line x1="349.50" y1="660.24" x2="351.70" y2="660.24" stroke="#222" stroke-width="0.9" stroke-linecap="butt"/>
<line x1="348.50" y1="620.18" x2="351.70" y2="620.18" stroke="#111" stroke-width="1.0" stroke-linecap="butt"/>
<line x1="348.50" y1="622.08" x2="351.70" y2="622.08" stroke="#111" stroke-width="1.0" stroke-linecap="butt"/>
<line x1="348.50" y1="623.98" x2="351.70" y2="623.98" stroke="#111" stroke-width="1.0" stroke-linecap="butt"/>
<line x1="348.50" y1="625.88" x2="351.70" y2="625.88" stroke="#111" stroke-width="1.0" stroke-linecap="butt"/>
<line x1="348.50" y1="627.78" x2="351.70" y2="627.78" stroke="#111" stroke-width="1.0" stroke-linecap="butt"/>
<rect x="350.1" y="619.8" width="1.6" height="8.4" fill="#111"/>
<line x1="374.29" y1="662.00" x2="374.29" y2="665.80" stroke="#222" stroke-width="1.0" stroke-linecap="butt"/>
<text x="375.8" y="673.5" font-size="5.6" text-anchor="middle" fill="#333">-10<tspan font-size="4.5" dy="-2">3</tspan></text>
<line x1="399.47" y1="662.00" x2="399.47" y2="665.80" stroke="#222" stroke-width="1.0" stroke-linecap="butt"/>
<text x="399.5" y="673.5" font-size="5.6" text-anchor="middle" fill="#333" transform="translate(399.5 673.5) scale(1 1.04) translate(-399.5 -673.5)">0</text>
<line x1="426.69" y1="662.00" x2="426.69" y2="665.80" stroke="#222" stroke-width="1.0" stroke-linecap="butt"/>
<text x="428.2" y="673.5" font-size="5.6" text-anchor="middle" fill="#333">10<tspan font-size="4.5" dy="-2">3</tspan></text>
<line x1="454.32" y1="662.00" x2="454.32" y2="665.80" stroke="#222" stroke-width="1.0" stroke-linecap="butt"/>
<text x="455.8" y="673.5" font-size="5.6" text-anchor="middle" fill="#333">10<tspan font-size="4.5" dy="-2">4</tspan></text>
<line x1="480.45" y1="662.00" x2="480.45" y2="665.80" stroke="#222" stroke-width="1.0" stroke-linecap="butt"/>
<text x="482.0" y="673.5" font-size="5.6" text-anchor="middle" fill="#333">10<tspan font-size="4.5" dy="-2">5</tspan></text>
<line x1="435.01" y1="662.00" x2="435.01" y2="663.80" stroke="#222" stroke-width="0.8" stroke-linecap="butt"/>
<line x1="439.87" y1="662.00" x2="439.87" y2="663.80" stroke="#222" stroke-width="0.8" stroke-linecap="butt"/>
<line x1="443.32" y1="662.00" x2="443.32" y2="663.80" stroke="#222" stroke-width="0.8" stroke-linecap="butt"/>
<line x1="446.00" y1="662.00" x2="446.00" y2="663.80" stroke="#222" stroke-width="0.8" stroke-linecap="butt"/>
<line x1="448.19" y1="662.00" x2="448.19" y2="663.80" stroke="#222" stroke-width="0.8" stroke-linecap="butt"/>
<line x1="450.04" y1="662.00" x2="450.04" y2="663.80" stroke="#222" stroke-width="0.8" stroke-linecap="butt"/>
<line x1="451.64" y1="662.00" x2="451.64" y2="663.80" stroke="#222" stroke-width="0.8" stroke-linecap="butt"/>
<line x1="453.06" y1="662.00" x2="453.06" y2="663.80" stroke="#222" stroke-width="0.8" stroke-linecap="butt"/>
<line x1="462.19" y1="662.00" x2="462.19" y2="663.80" stroke="#222" stroke-width="0.8" stroke-linecap="butt"/>
<line x1="466.79" y1="662.00" x2="466.79" y2="663.80" stroke="#222" stroke-width="0.8" stroke-linecap="butt"/>
<line x1="470.05" y1="662.00" x2="470.05" y2="663.80" stroke="#222" stroke-width="0.8" stroke-linecap="butt"/>
<line x1="472.58" y1="662.00" x2="472.58" y2="663.80" stroke="#222" stroke-width="0.8" stroke-linecap="butt"/>
<line x1="474.65" y1="662.00" x2="474.65" y2="663.80" stroke="#222" stroke-width="0.8" stroke-linecap="butt"/>
<line x1="476.40" y1="662.00" x2="476.40" y2="663.80" stroke="#222" stroke-width="0.8" stroke-linecap="butt"/>
<line x1="477.92" y1="662.00" x2="477.92" y2="663.80" stroke="#222" stroke-width="0.8" stroke-linecap="butt"/>
<line x1="479.25" y1="662.00" x2="479.25" y2="663.80" stroke="#222" stroke-width="0.8" stroke-linecap="butt"/>
<line x1="374.29" y1="662.00" x2="374.29" y2="664.20" stroke="#222" stroke-width="0.9" stroke-linecap="butt"/>
<line x1="379.33" y1="662.00" x2="379.33" y2="664.20" stroke="#222" stroke-width="0.9" stroke-linecap="butt"/>
<line x1="384.36" y1="662.00" x2="384.36" y2="664.20" stroke="#222" stroke-width="0.9" stroke-linecap="butt"/>
<line x1="389.40" y1="662.00" x2="389.40" y2="664.20" stroke="#222" stroke-width="0.9" stroke-linecap="butt"/>
<line x1="394.44" y1="662.00" x2="394.44" y2="664.20" stroke="#222" stroke-width="0.9" stroke-linecap="butt"/>
<line x1="399.47" y1="662.00" x2="399.47" y2="664.20" stroke="#222" stroke-width="0.9" stroke-linecap="butt"/>
<line x1="404.51" y1="662.00" x2="404.51" y2="664.20" stroke="#222" stroke-width="0.9" stroke-linecap="butt"/>
<line x1="409.54" y1="662.00" x2="409.54" y2="664.20" stroke="#222" stroke-width="0.9" stroke-linecap="butt"/>
<line x1="414.58" y1="662.00" x2="414.58" y2="664.20" stroke="#222" stroke-width="0.9" stroke-linecap="butt"/>
<line x1="419.61" y1="662.00" x2="419.61" y2="664.20" stroke="#222" stroke-width="0.9" stroke-linecap="butt"/>
<line x1="424.65" y1="662.00" x2="424.65" y2="664.20" stroke="#222" stroke-width="0.9" stroke-linecap="butt"/>
<line x1="395.67" y1="662.00" x2="395.67" y2="665.20" stroke="#111" stroke-width="1.0" stroke-linecap="butt"/>
<line x1="397.57" y1="662.00" x2="397.57" y2="665.20" stroke="#111" stroke-width="1.0" stroke-linecap="butt"/>
<line x1="399.47" y1="662.00" x2="399.47" y2="665.20" stroke="#111" stroke-width="1.0" stroke-linecap="butt"/>
<line x1="401.37" y1="662.00" x2="401.37" y2="665.20" stroke="#111" stroke-width="1.0" stroke-linecap="butt"/>
<line x1="403.27" y1="662.00" x2="403.27" y2="665.20" stroke="#111" stroke-width="1.0" stroke-linecap="butt"/>
<rect x="395.3" y="662.0" width="8.4" height="1.6" fill="#111"/>
<g clip-path="url(#fc10)"><path d="M561.2 644.9 553.2 644.9 547.6 643.3 543.6 641.3 540.8 639.4 539.4 638.0 538.7 636.8 538.3 635.6 537.9 630.4 537.5 629.6 537.5 627.2 537.1 626.4 537.1 619.6 538.3 615.2 539.9 612.0 544.9 604.4 546.8 602.5 548.8 601.5 550.0 601.1 552.0 601.1 552.8 600.7 555.6 600.6 557.6 600.1 559.3 598.4 559.9 596.8 560.8 595.8 562.8 595.1 569.6 595.1 572.8 595.9 576.0 597.4 577.4 598.8 579.0 601.2 580.8 602.3 583.6 602.3 593.2 599.9 594.8 599.9 595.2 600.2 596.8 601.9 597.3 603.2 597.3 604.0 595.4 606.0 594.5 608.0 594.5 614.8 594.9 615.6 595.3 618.8 597.4 624.4 599.6 626.6 601.6 627.8 602.4 628.8 602.5 630.0 599.8 634.4 599.0 637.6 597.2 638.9 592.0 638.9 586.4 640.9 581.2 642.1 579.6 642.1 574.4 643.3 572.4 643.3 571.6 643.7 569.6 643.7 568.8 644.1 566.4 644.1 565.6 644.5 562.0 644.5 561.2 644.9Z" fill="#0000ff"/><path d="M561.2 644.6 553.2 644.6 547.6 643.0 543.6 641.0 540.9 639.2 539.6 637.8 539.0 636.8 538.6 635.6 538.1 630.4 537.8 629.6 537.7 627.2 537.4 626.4 537.4 619.6 538.6 615.2 540.2 612.0 545.2 604.5 547.2 602.6 550.0 601.4 555.6 600.9 557.6 600.4 559.6 598.5 560.2 596.8 561.0 596.0 563.2 595.4 569.6 595.5 574.8 597.1 575.8 597.6 577.2 599.0 579.0 601.6 580.8 602.6 583.6 602.6 593.2 600.3 594.9 600.4 596.4 601.9 596.9 603.2 596.9 604.0 595.1 606.0 594.2 608.0 594.2 614.8 595.1 619.2 596.3 622.8 597.2 624.6 599.4 626.8 601.3 628.0 602.1 629.2 601.7 630.8 599.5 634.4 598.8 637.3 597.2 638.5 592.0 638.6 588.8 639.5 586.4 640.5 581.2 641.7 579.6 641.8 574.4 643.0 572.4 643.0 571.6 643.4 569.6 643.4 568.8 643.8 562.0 644.3 561.2 644.6Z" fill="#0016ff"/><path d="M561.6 644.1 560.8 644.3 554.4 644.4 551.2 643.8 547.6 642.6 543.6 640.6 541.2 638.9 539.5 636.8 539.0 635.2 537.7 626.0 537.7 620.0 538.9 615.2 540.4 612.2 545.3 604.8 547.2 603.0 550.0 601.7 557.6 600.7 559.7 598.8 561.2 596.3 563.2 595.8 569.2 595.9 574.8 597.6 576.8 599.2 578.8 601.9 580.8 603.0 584.0 603.0 593.2 600.8 594.8 601.0 596.0 602.1 596.4 603.6 594.6 606.0 593.8 607.6 593.7 614.8 594.2 617.6 595.8 622.8 596.6 624.4 601.6 629.2 601.2 630.7 599.0 634.4 598.4 637.0 597.1 638.0 591.6 638.2 586.4 640.1 580.8 641.4 568.4 643.5 561.6 644.1Z" fill="#001dff"/><path d="M560.8 643.3 554.4 643.3 549.6 642.1 546.8 640.8 543.6 638.8 541.7 637.2 540.7 635.6 538.7 625.6 538.8 619.6 539.5 616.4 540.7 613.6 545.2 606.5 547.2 604.3 549.2 603.0 558.0 601.2 560.0 600.1 562.4 598.0 564.4 597.6 568.8 597.8 573.2 599.2 574.8 600.2 577.8 603.6 580.4 605.0 583.6 605.2 590.4 603.8 592.3 604.0 592.4 604.8 591.7 607.2 591.5 609.6 591.6 614.8 592.2 618.4 594.6 625.2 598.0 629.2 598.3 630.0 598.1 631.2 596.2 635.2 595.2 635.8 590.4 636.5 585.6 638.4 582.0 639.5 560.8 643.3Z" fill="#003dff"/><path d="M561.6 641.2 555.6 641.5 551.2 640.6 548.4 639.5 545.9 638.0 543.6 636.2 542.6 634.8 541.5 630.8 540.6 625.6 540.6 620.0 541.2 617.2 542.3 614.4 546.4 607.9 548.4 605.7 550.0 604.7 553.2 603.9 558.8 603.0 560.8 602.1 564.0 600.1 565.6 599.9 568.8 600.2 572.4 601.5 576.4 605.6 579.2 607.3 582.4 607.8 587.2 607.3 588.4 607.6 588.8 608.8 589.0 614.8 589.7 618.4 592.3 626.0 594.9 630.0 595.0 631.2 594.4 632.5 593.6 633.1 590.0 634.1 585.2 636.5 582.0 637.6 571.6 639.2 561.6 641.2Z" fill="#0063ff"/><path d="M560.4 639.7 555.2 639.8 551.2 638.8 548.8 637.7 546.4 636.2 544.9 634.8 544.1 633.6 543.0 629.6 542.3 625.2 542.4 619.6 543.1 616.8 544.2 614.4 548.1 608.4 549.6 607.0 551.2 606.1 560.0 604.6 565.1 602.4 566.8 602.2 569.2 602.8 571.2 603.7 574.8 607.4 578.0 609.6 580.0 610.2 584.8 610.6 585.6 611.0 586.1 612.0 586.4 615.6 587.2 618.4 591.3 629.6 591.0 630.8 585.2 634.5 581.6 636.0 578.4 636.6 571.2 637.3 564.0 639.1 560.4 639.7Z" fill="#0089ff"/><path d="M558.4 638.4 554.8 638.3 551.6 637.5 548.4 635.8 546.0 633.6 544.6 630.0 543.8 625.2 543.8 621.2 544.5 617.6 545.6 614.8 547.6 611.4 549.6 609.0 551.2 607.8 554.4 607.0 561.2 606.3 566.4 604.7 568.4 604.9 570.4 606.0 573.2 609.0 576.4 611.5 578.8 612.6 582.4 613.4 583.2 614.0 584.7 618.4 587.6 624.8 588.4 627.6 588.5 629.2 587.8 630.4 585.2 632.6 581.2 634.7 578.0 635.2 570.8 635.5 563.6 637.6 558.4 638.4Z" fill="#00b9ff"/><path d="M559.2 637.2 555.6 637.2 552.4 636.6 549.2 634.9 547.0 632.8 545.7 629.6 545.0 625.2 545.1 621.2 545.8 617.6 546.9 614.8 548.7 612.0 550.4 610.1 552.0 609.0 554.8 608.3 561.6 608.1 566.8 607.1 568.0 607.2 569.2 607.9 572.4 611.2 575.2 613.5 577.2 614.6 580.4 615.8 581.2 616.4 585.7 624.4 586.6 627.2 586.5 628.8 585.7 630.0 584.1 631.6 580.8 633.4 577.6 633.9 570.8 633.7 563.6 636.3 559.2 637.2Z" fill="#00eaff"/><path d="M557.6 636.4 553.2 635.9 549.6 634.1 547.7 632.0 546.4 628.4 546.0 622.4 546.8 617.6 547.8 615.2 549.4 612.8 550.8 611.2 552.4 610.1 555.6 609.5 562.0 609.9 566.8 609.7 568.0 609.9 574.0 615.4 579.6 618.3 582.8 622.3 584.5 625.2 585.0 627.2 584.6 628.8 583.2 630.5 581.2 631.8 578.0 632.5 572.4 631.9 570.8 632.0 563.2 635.4 557.6 636.4Z" fill="#00f3bb"/><path d="M558.4 635.6 554.4 635.4 550.9 634.0 548.7 632.0 547.3 628.8 546.8 622.8 547.6 618.0 548.6 615.6 549.9 613.6 551.2 612.2 552.8 611.1 556.0 610.7 567.6 612.4 573.2 617.4 578.4 620.0 581.6 623.2 583.1 625.6 583.3 627.2 582.9 628.4 581.9 629.6 580.4 630.5 577.6 631.0 572.8 630.1 571.2 630.1 569.6 630.7 564.0 634.2 561.6 635.0 558.4 635.6Z" fill="#00fa75"/><path d="M559.6 634.8 555.6 634.9 552.0 633.9 550.4 632.8 549.3 631.6 548.0 628.8 547.5 622.8 548.3 618.0 549.2 616.0 550.6 614.0 552.0 612.7 553.6 611.9 556.8 611.9 567.2 614.8 572.1 619.2 576.4 621.1 578.8 622.7 580.5 624.4 581.4 626.0 581.3 627.2 580.8 628.0 578.8 629.1 576.4 629.0 572.4 627.5 570.8 627.7 564.9 632.8 562.4 634.1 559.6 634.8Z" fill="#00f03e"/><path d="M558.0 634.4 554.4 634.1 551.6 632.9 549.5 630.8 548.5 628.0 548.2 622.4 549.0 618.0 550.0 616.0 551.2 614.5 552.4 613.4 554.0 612.7 555.6 612.6 557.2 613.0 566.8 617.2 568.7 618.8 571.2 622.0 571.1 622.8 569.2 625.3 567.2 629.2 565.7 631.2 562.4 633.4 558.0 634.4Z" fill="#00e707"/><path d="M559.6 633.7 556.0 633.9 552.8 633.0 550.5 631.2 549.3 628.8 548.7 623.6 549.4 618.8 551.2 615.5 552.4 614.4 554.0 613.6 556.0 613.6 558.4 614.6 562.8 617.7 566.4 619.7 567.6 621.2 566.8 627.2 565.8 629.6 564.6 631.2 563.2 632.3 559.6 633.7Z" fill="#2ce900"/><path d="M559.2 633.2 556.0 633.4 553.2 632.6 550.9 630.8 549.7 628.4 549.3 623.6 549.9 619.2 551.6 616.0 552.8 615.0 554.0 614.5 556.0 614.5 558.2 615.6 564.4 621.2 565.0 622.4 565.6 626.8 564.9 629.6 564.0 630.8 562.5 632.0 559.2 633.2Z" fill="#5fec00"/><path d="M558.4 632.9 555.2 632.8 552.8 631.8 551.2 630.4 550.2 628.0 549.8 623.6 550.3 619.6 551.8 616.8 554.0 615.3 555.2 615.2 556.4 615.5 558.7 617.2 562.8 622.0 564.4 625.9 564.4 628.4 563.4 630.4 561.3 632.0 558.4 632.9Z" fill="#92ef00"/><path d="M558.0 632.4 555.6 632.4 553.2 631.5 551.6 630.0 550.7 628.0 550.3 623.6 550.8 620.0 552.0 617.6 554.0 616.1 556.0 616.2 558.0 617.7 561.5 622.4 563.5 626.4 563.6 628.4 562.5 630.4 560.4 631.8 558.0 632.4Z" fill="#c4f000"/><path d="M557.2 632.0 554.8 631.7 553.0 630.8 551.7 629.2 551.0 627.2 550.8 623.2 551.3 620.0 552.5 618.0 554.4 616.9 556.1 617.2 557.9 618.8 561.8 624.8 562.8 627.2 562.6 628.8 561.6 630.4 559.6 631.5 557.2 632.0Z" fill="#f5f000"/><path d="M558.8 631.3 556.4 631.5 554.4 631.0 552.8 629.9 551.8 628.4 551.3 625.2 551.5 621.6 552.4 619.2 554.0 617.9 555.6 617.9 557.2 619.1 561.8 626.8 561.9 628.4 561.4 629.6 560.4 630.5 558.8 631.3Z" fill="#ffc800"/><path d="M558.4 630.8 556.4 631.0 554.4 630.5 553.2 629.6 552.3 628.0 551.8 625.2 552.0 622.0 552.8 619.9 554.0 618.9 555.6 618.9 556.8 619.9 560.9 626.8 561.1 628.0 560.7 629.2 560.0 630.0 558.4 630.8Z" fill="#ff9700"/><path d="M557.2 630.4 555.6 630.3 554.1 629.6 553.2 628.7 552.6 627.2 552.4 624.4 552.7 622.0 553.2 620.8 554.4 619.9 555.6 620.1 556.7 621.2 560.1 627.2 560.2 628.4 559.8 629.2 558.8 630.0 557.2 630.4Z" fill="#ff6300"/><path d="M557.6 629.7 555.2 629.5 554.1 628.8 553.4 627.6 553.1 626.0 553.2 623.6 553.6 622.1 554.4 621.3 555.2 621.4 556.0 622.0 559.1 626.8 559.2 628.4 558.5 629.2 557.6 629.7Z" fill="#ff2c00"/><path d="M557.2 628.8 555.6 628.8 554.2 627.6 553.9 625.2 554.2 624.0 554.8 623.4 556.0 623.9 557.9 626.4 558.1 628.0 557.2 628.8Z" fill="#ff0000"/></g>
<rect x="514.00" y="526.70" width="136.50" height="135.30" fill="none" stroke="#7a7a7a" stroke-width="1.1"/>
<line x1="571.90" y1="526.70" x2="571.90" y2="662.00" stroke="#111" stroke-width="1.3" stroke-linecap="butt"/>
<line x1="514.00" y1="611.40" x2="650.50" y2="611.40" stroke="#111" stroke-width="1.3" stroke-linecap="butt"/>
<text x="516.8" y="543.1" font-size="9.6" fill="#111" transform="translate(516.8 543.1) scale(1 1.04) translate(-516.8 -543.1)" stroke="#111" stroke-width="0.3">7.48</text>
<text x="516.8" y="652.7" font-size="9.6" fill="#111" transform="translate(516.8 652.7) scale(1 1.04) translate(-516.8 -652.7)" stroke="#111" stroke-width="0.3">69.9</text>
<text x="638.3" y="543.1" font-size="9.6" text-anchor="end" fill="#111" transform="translate(638.3 543.1) scale(1 1.04) translate(-638.3 -543.1)" stroke="#111" stroke-width="0.3">4.67</text>
<text x="638.3" y="652.7" font-size="9.6" text-anchor="end" fill="#111" transform="translate(638.3 652.7) scale(1 1.04) translate(-638.3 -652.7)" stroke="#111" stroke-width="0.3">17.9</text>
<line x1="510.20" y1="537.93" x2="514.00" y2="537.93" stroke="#222" stroke-width="1.0" stroke-linecap="butt"/>
<text x="505.5" y="540.1" font-size="5.6" text-anchor="middle" fill="#333">10<tspan font-size="4.5" dy="-2">5</tspan></text>
<line x1="510.20" y1="563.23" x2="514.00" y2="563.23" stroke="#222" stroke-width="1.0" stroke-linecap="butt"/>
<text x="505.5" y="565.4" font-size="5.6" text-anchor="middle" fill="#333">10<tspan font-size="4.5" dy="-2">4</tspan></text>
<line x1="510.20" y1="589.07" x2="514.00" y2="589.07" stroke="#222" stroke-width="1.0" stroke-linecap="butt"/>
<text x="505.5" y="591.3" font-size="5.6" text-anchor="middle" fill="#333">10<tspan font-size="4.5" dy="-2">3</tspan></text>
<line x1="510.20" y1="623.98" x2="514.00" y2="623.98" stroke="#222" stroke-width="1.0" stroke-linecap="butt"/>
<text x="507.5" y="626.2" font-size="5.6" text-anchor="end" fill="#333" transform="translate(507.5 626.2) scale(1 1.04) translate(-507.5 -626.2)">0</text>
<line x1="510.20" y1="660.24" x2="514.00" y2="660.24" stroke="#222" stroke-width="1.0" stroke-linecap="butt"/>
<text x="505.5" y="662.4" font-size="5.6" text-anchor="middle" fill="#333">-10<tspan font-size="4.5" dy="-2">3</tspan></text>
<line x1="512.30" y1="555.61" x2="514.00" y2="555.61" stroke="#222" stroke-width="0.8" stroke-linecap="butt"/>
<line x1="512.30" y1="551.16" x2="514.00" y2="551.16" stroke="#222" stroke-width="0.8" stroke-linecap="butt"/>
<line x1="512.30" y1="548.00" x2="514.00" y2="548.00" stroke="#222" stroke-width="0.8" stroke-linecap="butt"/>
<line x1="512.30" y1="545.55" x2="514.00" y2="545.55" stroke="#222" stroke-width="0.8" stroke-linecap="butt"/>
<line x1="512.30" y1="543.54" x2="514.00" y2="543.54" stroke="#222" stroke-width="0.8" stroke-linecap="butt"/>
<line x1="512.30" y1="541.85" x2="514.00" y2="541.85" stroke="#222" stroke-width="0.8" stroke-linecap="butt"/>
<line x1="512.30" y1="540.38" x2="514.00" y2="540.38" stroke="#222" stroke-width="0.8" stroke-linecap="butt"/>
<line x1="512.30" y1="539.09" x2="514.00" y2="539.09" stroke="#222" stroke-width="0.8" stroke-linecap="butt"/>
<line x1="512.30" y1="581.29" x2="514.00" y2="581.29" stroke="#222" stroke-width="0.8" stroke-linecap="butt"/>
<line x1="512.30" y1="576.74" x2="514.00" y2="576.74" stroke="#222" stroke-width="0.8" stroke-linecap="butt"/>
<line x1="512.30" y1="573.51" x2="514.00" y2="573.51" stroke="#222" stroke-width="0.8" stroke-linecap="butt"/>
<line x1="512.30" y1="571.01" x2="514.00" y2="571.01" stroke="#222" stroke-width="0.8" stroke-linecap="butt"/>
<line x1="512.30" y1="568.96" x2="514.00" y2="568.96" stroke="#222" stroke-width="0.8" stroke-linecap="butt"/>
<line x1="512.30" y1="567.23" x2="514.00" y2="567.23" stroke="#222" stroke-width="0.8" stroke-linecap="butt"/>
<line x1="512.30" y1="565.74" x2="514.00" y2="565.74" stroke="#222" stroke-width="0.8" stroke-linecap="butt"/>
<line x1="512.30" y1="564.41" x2="514.00" y2="564.41" stroke="#222" stroke-width="0.8" stroke-linecap="butt"/>
<line x1="512.30" y1="530.31" x2="514.00" y2="530.31" stroke="#222" stroke-width="0.8" stroke-linecap="butt"/>
<line x1="511.80" y1="594.97" x2="514.00" y2="594.97" stroke="#222" stroke-width="0.9" stroke-linecap="butt"/>
<line x1="511.80" y1="602.22" x2="514.00" y2="602.22" stroke="#222" stroke-width="0.9" stroke-linecap="butt"/>
<line x1="511.80" y1="609.48" x2="514.00" y2="609.48" stroke="#222" stroke-width="0.9" stroke-linecap="butt"/>
<line x1="511.80" y1="616.73" x2="514.00" y2="616.73" stroke="#222" stroke-width="0.9" stroke-linecap="butt"/>
<line x1="511.80" y1="631.23" x2="514.00" y2="631.23" stroke="#222" stroke-width="0.9" stroke-linecap="butt"/>
<line x1="511.80" y1="638.48" x2="514.00" y2="638.48" stroke="#222" stroke-width="0.9" stroke-linecap="butt"/>
<line x1="511.80" y1="645.74" x2="514.00" y2="645.74" stroke="#222" stroke-width="0.9" stroke-linecap="butt"/>
<line x1="511.80" y1="652.99" x2="514.00" y2="652.99" stroke="#222" stroke-width="0.9" stroke-linecap="butt"/>
<line x1="511.80" y1="660.24" x2="514.00" y2="660.24" stroke="#222" stroke-width="0.9" stroke-linecap="butt"/>
<line x1="510.80" y1="620.18" x2="514.00" y2="620.18" stroke="#111" stroke-width="1.0" stroke-linecap="butt"/>
<line x1="510.80" y1="622.08" x2="514.00" y2="622.08" stroke="#111" stroke-width="1.0" stroke-linecap="butt"/>
<line x1="510.80" y1="623.98" x2="514.00" y2="623.98" stroke="#111" stroke-width="1.0" stroke-linecap="butt"/>
<line x1="510.80" y1="625.88" x2="514.00" y2="625.88" stroke="#111" stroke-width="1.0" stroke-linecap="butt"/>
<line x1="510.80" y1="627.78" x2="514.00" y2="627.78" stroke="#111" stroke-width="1.0" stroke-linecap="butt"/>
<rect x="512.4" y="619.8" width="1.6" height="8.4" fill="#111"/>
<line x1="547.85" y1="662.00" x2="547.85" y2="665.80" stroke="#222" stroke-width="1.0" stroke-linecap="butt"/>
<text x="547.9" y="673.5" font-size="5.6" text-anchor="middle" fill="#333" transform="translate(547.9 673.5) scale(1 1.04) translate(-547.9 -673.5)">0</text>
<line x1="582.39" y1="662.00" x2="582.39" y2="665.80" stroke="#222" stroke-width="1.0" stroke-linecap="butt"/>
<text x="583.9" y="673.5" font-size="5.6" text-anchor="middle" fill="#333">10<tspan font-size="4.5" dy="-2">3</tspan></text>
<line x1="612.96" y1="662.00" x2="612.96" y2="665.80" stroke="#222" stroke-width="1.0" stroke-linecap="butt"/>
<text x="614.5" y="673.5" font-size="5.6" text-anchor="middle" fill="#333">10<tspan font-size="4.5" dy="-2">4</tspan></text>
<line x1="641.49" y1="662.00" x2="641.49" y2="665.80" stroke="#222" stroke-width="1.0" stroke-linecap="butt"/>
<text x="643.0" y="673.5" font-size="5.6" text-anchor="middle" fill="#333">10<tspan font-size="4.5" dy="-2">5</tspan></text>
<line x1="591.59" y1="662.00" x2="591.59" y2="663.80" stroke="#222" stroke-width="0.8" stroke-linecap="butt"/>
<line x1="596.97" y1="662.00" x2="596.97" y2="663.80" stroke="#222" stroke-width="0.8" stroke-linecap="butt"/>
<line x1="600.80" y1="662.00" x2="600.80" y2="663.80" stroke="#222" stroke-width="0.8" stroke-linecap="butt"/>
<line x1="603.76" y1="662.00" x2="603.76" y2="663.80" stroke="#222" stroke-width="0.8" stroke-linecap="butt"/>
<line x1="606.18" y1="662.00" x2="606.18" y2="663.80" stroke="#222" stroke-width="0.8" stroke-linecap="butt"/>
<line x1="608.23" y1="662.00" x2="608.23" y2="663.80" stroke="#222" stroke-width="0.8" stroke-linecap="butt"/>
<line x1="610.00" y1="662.00" x2="610.00" y2="663.80" stroke="#222" stroke-width="0.8" stroke-linecap="butt"/>
<line x1="611.56" y1="662.00" x2="611.56" y2="663.80" stroke="#222" stroke-width="0.8" stroke-linecap="butt"/>
<line x1="621.55" y1="662.00" x2="621.55" y2="663.80" stroke="#222" stroke-width="0.8" stroke-linecap="butt"/>
<line x1="626.57" y1="662.00" x2="626.57" y2="663.80" stroke="#222" stroke-width="0.8" stroke-linecap="butt"/>
<line x1="630.14" y1="662.00" x2="630.14" y2="663.80" stroke="#222" stroke-width="0.8" stroke-linecap="butt"/>
<line x1="632.90" y1="662.00" x2="632.90" y2="663.80" stroke="#222" stroke-width="0.8" stroke-linecap="butt"/>
<line x1="635.16" y1="662.00" x2="635.16" y2="663.80" stroke="#222" stroke-width="0.8" stroke-linecap="butt"/>
<line x1="637.07" y1="662.00" x2="637.07" y2="663.80" stroke="#222" stroke-width="0.8" stroke-linecap="butt"/>
<line x1="638.73" y1="662.00" x2="638.73" y2="663.80" stroke="#222" stroke-width="0.8" stroke-linecap="butt"/>
<line x1="640.19" y1="662.00" x2="640.19" y2="663.80" stroke="#222" stroke-width="0.8" stroke-linecap="butt"/>
<line x1="650.08" y1="662.00" x2="650.08" y2="663.80" stroke="#222" stroke-width="0.8" stroke-linecap="butt"/>
<line x1="547.85" y1="662.00" x2="547.85" y2="664.20" stroke="#222" stroke-width="0.9" stroke-linecap="butt"/>
<line x1="581.92" y1="662.00" x2="581.92" y2="664.20" stroke="#222" stroke-width="0.9" stroke-linecap="butt"/>
<line x1="544.05" y1="662.00" x2="544.05" y2="665.20" stroke="#111" stroke-width="1.0" stroke-linecap="butt"/>
<line x1="545.95" y1="662.00" x2="545.95" y2="665.20" stroke="#111" stroke-width="1.0" stroke-linecap="butt"/>
<line x1="547.85" y1="662.00" x2="547.85" y2="665.20" stroke="#111" stroke-width="1.0" stroke-linecap="butt"/>
<line x1="549.75" y1="662.00" x2="549.75" y2="665.20" stroke="#111" stroke-width="1.0" stroke-linecap="butt"/>
<line x1="551.65" y1="662.00" x2="551.65" y2="665.20" stroke="#111" stroke-width="1.0" stroke-linecap="butt"/>
<rect x="543.7" y="662.0" width="8.4" height="1.6" fill="#111"/>
<g clip-path="url(#fc11)"><path d="M721.9 644.5 717.1 644.1 714.0 642.3 712.5 640.3 711.3 637.1 710.8 633.1 710.4 632.3 710.4 630.3 710.0 629.5 710.0 627.5 709.6 626.7 709.6 621.5 710.4 618.3 710.4 616.3 710.8 615.5 710.8 613.5 711.6 610.3 711.7 608.7 712.1 607.9 712.1 606.7 712.9 603.5 714.3 601.2 716.7 599.7 719.1 599.3 720.7 599.7 724.3 599.7 730.3 597.3 733.9 597.3 740.7 599.0 743.3 600.3 744.7 601.7 745.6 603.5 746.5 606.3 746.5 609.9 747.1 611.9 748.3 613.5 752.0 616.3 754.0 619.1 752.6 622.3 752.1 624.3 752.0 631.1 751.6 632.3 749.6 636.3 747.4 639.5 745.3 641.1 743.5 642.1 740.7 642.9 738.7 642.9 737.9 643.3 732.3 643.3 731.5 643.0 726.7 643.0 723.9 644.1 722.7 644.1 721.9 644.5Z" fill="#0000ff"/><path d="M723.9 643.9 722.7 643.9 721.9 644.3 719.5 644.3 718.7 643.9 717.1 643.8 715.5 643.0 714.0 641.9 712.7 640.3 711.5 637.1 711.0 633.1 710.6 632.3 710.6 630.3 710.2 629.5 710.2 627.5 709.8 626.7 709.8 621.5 710.2 620.7 710.2 619.1 710.5 618.3 710.6 616.3 711.0 615.5 711.0 613.5 711.8 610.3 711.9 608.7 713.2 603.5 714.7 601.1 716.7 600.0 719.1 599.6 720.7 599.9 724.3 599.9 730.3 597.6 733.9 597.6 740.7 599.2 743.5 600.7 744.6 601.9 745.4 603.5 746.2 606.3 746.3 609.9 746.8 611.9 748.3 613.8 751.5 616.3 753.1 618.0 753.7 619.1 752.3 622.3 751.8 624.3 751.8 630.7 751.3 632.3 749.4 636.3 747.1 639.5 743.5 641.8 737.9 643.1 732.3 643.1 731.5 642.8 726.7 642.8 723.9 643.9Z" fill="#0016ff"/><path d="M721.9 644.0 719.9 644.0 717.1 643.5 714.3 641.9 712.2 638.7 711.3 635.1 710.7 630.3 710.4 629.5 710.3 627.5 710.0 626.7 710.0 621.5 710.3 620.7 710.3 619.1 710.7 618.3 710.7 616.3 711.1 615.5 711.7 611.1 713.5 603.5 714.7 601.5 716.7 600.3 719.1 599.8 720.7 600.2 724.3 600.1 730.3 597.9 733.9 597.9 740.7 599.6 743.1 600.8 744.2 601.9 745.0 603.5 745.9 606.3 746.1 609.9 746.6 611.9 748.1 613.9 751.6 616.7 753.3 619.1 751.6 623.9 751.5 630.7 751.0 632.3 749.0 636.3 747.0 639.1 745.1 640.6 743.5 641.5 740.7 642.3 738.7 642.4 737.5 642.8 726.7 642.6 723.9 643.6 721.9 644.0Z" fill="#001dff"/><path d="M721.9 643.6 719.9 643.7 717.1 643.1 714.7 641.7 713.4 640.3 712.5 638.7 711.5 635.1 710.2 626.3 710.1 621.9 711.9 611.1 713.9 603.6 715.1 601.9 717.1 600.7 719.5 600.2 720.7 600.5 724.3 600.4 730.7 598.3 733.5 598.3 739.5 600.0 742.3 601.5 743.9 603.2 745.5 606.6 745.7 609.9 746.5 612.3 747.9 614.2 750.4 616.3 751.8 618.7 751.9 619.9 751.1 623.9 750.7 629.5 750.0 632.3 748.3 635.6 746.3 638.5 744.3 640.2 742.0 641.5 736.7 642.5 732.7 642.7 731.5 642.3 726.7 642.3 721.9 643.6Z" fill="#003dff"/><path d="M724.3 642.3 720.3 642.4 716.7 641.6 714.0 639.5 712.3 636.9 711.1 631.9 710.4 626.3 710.3 621.9 711.6 613.9 712.7 609.4 715.5 604.6 717.1 603.0 719.1 602.2 729.5 600.3 731.5 600.1 733.5 600.4 737.5 601.5 740.3 602.7 741.7 603.9 743.0 605.9 745.7 612.7 749.0 617.9 749.7 619.5 748.6 629.9 747.4 633.1 745.5 636.2 743.9 638.0 741.5 639.6 737.5 641.1 734.7 641.8 726.3 642.0 724.3 642.3Z" fill="#0063ff"/><path d="M723.1 640.7 719.1 640.9 716.3 640.0 713.9 637.9 712.2 634.7 711.0 629.1 710.7 622.3 711.4 616.7 712.3 612.8 713.9 609.8 715.9 607.0 717.5 605.2 719.0 604.3 731.1 602.1 733.5 602.4 737.5 603.6 739.6 604.7 741.0 606.3 744.1 613.1 747.6 619.5 747.8 621.1 747.4 626.3 746.5 630.7 745.1 633.5 743.4 635.9 741.5 637.5 739.1 638.7 733.9 640.2 723.1 640.7Z" fill="#0089ff"/><path d="M721.9 639.5 718.7 639.8 716.3 639.0 714.3 637.1 712.6 633.9 711.6 629.5 711.3 622.3 711.7 617.5 712.8 613.5 715.5 609.4 718.3 606.8 719.9 605.9 731.1 603.9 733.5 604.2 737.1 605.4 738.7 606.4 739.8 607.9 746.0 619.9 746.2 621.5 745.8 626.3 744.8 630.7 743.5 633.1 741.9 635.1 739.9 636.5 737.1 637.8 733.1 638.8 725.1 638.9 721.9 639.5Z" fill="#00b9ff"/><path d="M720.7 638.7 718.3 638.8 715.9 637.8 713.9 635.5 712.6 632.3 712.0 628.3 711.9 620.3 712.4 616.7 713.5 613.6 714.7 611.7 716.3 610.0 719.1 608.1 720.7 607.4 731.1 605.7 733.5 606.0 736.3 607.0 737.6 607.9 738.7 609.4 742.5 615.9 744.5 620.3 744.7 622.3 744.5 625.9 744.0 628.7 743.2 630.7 741.9 632.8 740.5 634.3 735.9 636.7 731.5 637.5 725.1 637.5 720.7 638.7Z" fill="#00eaff"/><path d="M720.3 637.9 717.9 638.0 715.9 637.0 714.1 634.7 713.0 631.9 712.5 628.3 712.4 620.3 712.9 616.7 713.9 614.1 715.1 612.2 716.7 610.7 720.7 608.9 730.7 607.3 733.1 607.5 735.3 608.3 736.8 609.5 739.4 613.1 741.7 617.1 743.2 620.7 743.4 622.7 743.2 625.9 742.7 628.3 741.9 630.3 740.7 632.1 739.5 633.3 735.5 635.4 731.5 636.2 725.1 636.2 720.3 637.9Z" fill="#00f3bb"/><path d="M720.3 637.2 718.3 637.4 716.3 636.5 714.6 634.7 713.4 631.9 712.9 628.3 712.8 620.7 713.2 617.5 714.1 614.7 716.3 611.9 719.1 610.5 730.3 608.9 732.3 608.9 734.3 609.5 735.9 610.8 738.4 613.9 740.6 617.5 741.9 620.7 742.2 622.7 742.1 625.1 740.9 629.5 739.1 632.0 735.5 634.1 731.5 634.9 725.1 634.9 720.3 637.2Z" fill="#00fa75"/><path d="M719.5 636.7 717.5 636.6 715.9 635.5 714.4 633.5 713.6 631.1 713.2 627.9 713.2 619.9 713.7 617.1 714.6 614.7 716.3 612.7 718.7 611.5 724.3 611.3 730.7 610.3 733.5 610.8 735.5 612.4 737.8 615.1 739.5 617.9 740.7 620.7 741.1 622.7 741.0 624.7 740.6 627.1 739.8 629.1 738.2 631.1 735.1 632.9 731.1 633.7 725.1 633.7 721.1 636.2 719.5 636.7Z" fill="#00f03e"/><path d="M719.9 636.0 717.9 636.1 716.3 635.3 714.9 633.5 714.0 631.1 713.6 627.9 713.6 620.3 714.0 617.5 714.9 615.1 716.7 613.0 718.7 612.2 723.5 612.7 730.3 611.7 731.9 611.8 733.1 612.2 735.1 613.8 736.9 615.9 738.5 618.3 739.5 620.7 739.9 622.3 740.0 624.3 739.5 626.7 738.7 628.7 736.8 630.7 733.9 632.1 730.7 632.6 726.3 632.2 725.1 632.4 721.5 635.2 719.9 636.0Z" fill="#00e707"/><path d="M719.5 635.5 717.9 635.5 716.3 634.7 715.1 633.1 714.2 630.7 713.9 627.9 713.9 620.3 714.3 617.5 715.1 615.5 716.7 613.7 718.7 612.9 720.3 613.0 723.9 614.2 729.9 613.1 731.5 613.1 732.7 613.6 736.1 616.7 738.4 620.7 738.9 623.9 738.6 625.9 737.9 627.9 736.3 629.6 733.5 631.0 730.7 631.4 726.3 630.9 725.1 631.1 721.2 634.7 719.5 635.5Z" fill="#2ce900"/><path d="M719.9 634.8 718.3 635.1 716.7 634.4 715.5 633.1 714.6 630.7 714.2 627.9 714.3 620.3 714.7 617.5 715.6 615.5 717.1 614.0 719.1 613.5 720.8 613.9 724.3 615.9 729.9 614.4 731.5 614.6 732.7 615.2 735.6 617.9 737.4 621.5 737.8 624.3 736.8 627.5 734.9 629.1 732.3 630.0 730.3 630.2 726.3 629.6 725.1 629.7 723.9 630.7 721.5 633.7 719.9 634.8Z" fill="#5fec00"/><path d="M719.5 634.4 717.9 634.5 716.3 633.5 715.3 631.9 714.7 629.9 714.6 619.9 715.1 617.5 716.1 615.5 717.5 614.4 719.1 614.1 721.1 614.9 723.9 617.5 724.7 617.9 725.5 617.8 727.9 616.3 729.5 615.8 731.1 616.0 733.1 617.2 735.2 619.5 736.4 622.3 736.5 624.7 735.5 627.1 733.9 628.2 731.5 628.9 729.1 628.8 725.9 627.9 724.7 628.1 721.5 632.9 719.5 634.4Z" fill="#92ef00"/><path d="M719.1 634.0 717.9 634.0 716.5 633.1 715.5 631.5 715.0 629.5 715.0 619.5 715.6 617.1 716.7 615.5 717.5 614.9 718.7 614.6 720.7 615.3 722.3 617.1 724.7 621.3 725.5 621.0 727.5 618.6 729.1 617.5 731.1 617.7 733.1 619.1 734.6 621.1 735.2 623.1 735.1 625.1 734.3 626.3 732.3 627.3 729.5 627.4 727.5 626.7 725.1 624.7 724.7 624.7 723.9 626.0 722.6 629.9 721.6 631.9 720.3 633.4 719.1 634.0Z" fill="#c4f000"/><path d="M718.7 633.5 717.2 633.1 716.1 631.9 715.4 629.9 715.2 627.1 715.2 620.7 715.6 618.3 716.7 616.1 717.5 615.5 718.7 615.2 720.3 615.8 721.8 617.5 722.7 619.9 723.0 622.7 722.6 627.5 721.8 630.3 720.3 632.7 718.7 633.5ZM732.3 625.5 731.1 625.8 729.5 625.6 728.5 625.1 727.8 624.3 727.5 623.1 727.7 621.9 728.3 620.6 729.1 619.7 729.9 619.5 731.1 619.7 732.3 620.6 733.1 621.7 733.6 623.9 733.1 625.0 732.3 625.5Z" fill="#f5f000"/><path d="M719.1 632.9 717.9 632.9 716.6 631.9 715.8 630.3 715.5 627.9 715.5 621.1 715.8 618.7 717.1 616.4 718.7 615.8 719.9 616.2 721.1 617.5 721.9 619.5 722.2 621.9 722.0 626.7 721.6 629.5 720.7 631.5 719.1 632.9Z" fill="#ffc800"/><path d="M718.7 632.4 717.5 632.1 716.6 631.1 716.0 629.5 715.8 627.5 716.1 619.1 717.1 617.1 718.7 616.4 719.9 616.9 720.9 618.3 721.4 619.9 721.6 622.3 721.1 629.5 720.1 631.5 718.7 632.4Z" fill="#ff9700"/><path d="M719.1 631.6 717.9 631.7 717.1 631.0 716.5 629.9 716.2 628.3 716.3 619.9 717.1 617.9 718.3 617.1 719.5 617.4 720.3 618.3 721.0 621.1 720.7 628.7 720.2 630.3 719.1 631.6Z" fill="#ff6300"/><path d="M719.1 630.8 718.3 631.0 717.5 630.6 716.7 628.3 716.7 620.3 717.2 618.7 718.3 617.9 719.1 618.0 719.8 618.7 720.4 621.1 720.3 628.3 719.9 629.7 719.1 630.8Z" fill="#ff2c00"/><path d="M718.7 630.0 717.9 629.9 717.6 629.5 717.2 627.9 717.3 620.7 717.6 619.5 718.3 618.9 719.3 619.5 719.8 621.5 719.7 627.9 719.4 629.1 718.7 630.0Z" fill="#ff0000"/></g>
<rect x="678.00" y="526.70" width="135.90" height="135.30" fill="none" stroke="#7a7a7a" stroke-width="1.1"/>
<line x1="723.30" y1="526.70" x2="723.30" y2="662.00" stroke="#111" stroke-width="1.3" stroke-linecap="butt"/>
<line x1="678.00" y1="612.00" x2="813.90" y2="612.00" stroke="#111" stroke-width="1.3" stroke-linecap="butt"/>
<text x="680.8" y="543.1" font-size="9.6" fill="#111" transform="translate(680.8 543.1) scale(1 1.04) translate(-680.8 -543.1)" stroke="#111" stroke-width="0.3">3.74</text>
<text x="680.8" y="652.7" font-size="9.6" fill="#111" transform="translate(680.8 652.7) scale(1 1.04) translate(-680.8 -652.7)" stroke="#111" stroke-width="0.3">39.9</text>
<text x="801.7" y="543.1" font-size="9.6" text-anchor="end" fill="#111" transform="translate(801.7 543.1) scale(1 1.04) translate(-801.7 -543.1)" stroke="#111" stroke-width="0.3">9.81</text>
<text x="801.7" y="652.7" font-size="9.6" text-anchor="end" fill="#111" transform="translate(801.7 652.7) scale(1 1.04) translate(-801.7 -652.7)" stroke="#111" stroke-width="0.3">46.6</text>
<line x1="674.20" y1="537.93" x2="678.00" y2="537.93" stroke="#222" stroke-width="1.0" stroke-linecap="butt"/>
<text x="669.5" y="540.1" font-size="5.6" text-anchor="middle" fill="#333">10<tspan font-size="4.5" dy="-2">5</tspan></text>
<line x1="674.20" y1="563.23" x2="678.00" y2="563.23" stroke="#222" stroke-width="1.0" stroke-linecap="butt"/>
<text x="669.5" y="565.4" font-size="5.6" text-anchor="middle" fill="#333">10<tspan font-size="4.5" dy="-2">4</tspan></text>
<line x1="674.20" y1="589.07" x2="678.00" y2="589.07" stroke="#222" stroke-width="1.0" stroke-linecap="butt"/>
<text x="669.5" y="591.3" font-size="5.6" text-anchor="middle" fill="#333">10<tspan font-size="4.5" dy="-2">3</tspan></text>
<line x1="674.20" y1="623.98" x2="678.00" y2="623.98" stroke="#222" stroke-width="1.0" stroke-linecap="butt"/>
<text x="671.5" y="626.2" font-size="5.6" text-anchor="end" fill="#333" transform="translate(671.5 626.2) scale(1 1.04) translate(-671.5 -626.2)">0</text>
<line x1="674.20" y1="660.24" x2="678.00" y2="660.24" stroke="#222" stroke-width="1.0" stroke-linecap="butt"/>
<text x="669.5" y="662.4" font-size="5.6" text-anchor="middle" fill="#333">-10<tspan font-size="4.5" dy="-2">3</tspan></text>
<line x1="676.30" y1="555.61" x2="678.00" y2="555.61" stroke="#222" stroke-width="0.8" stroke-linecap="butt"/>
<line x1="676.30" y1="551.16" x2="678.00" y2="551.16" stroke="#222" stroke-width="0.8" stroke-linecap="butt"/>
<line x1="676.30" y1="548.00" x2="678.00" y2="548.00" stroke="#222" stroke-width="0.8" stroke-linecap="butt"/>
<line x1="676.30" y1="545.55" x2="678.00" y2="545.55" stroke="#222" stroke-width="0.8" stroke-linecap="butt"/>
<line x1="676.30" y1="543.54" x2="678.00" y2="543.54" stroke="#222" stroke-width="0.8" stroke-linecap="butt"/>
<line x1="676.30" y1="541.85" x2="678.00" y2="541.85" stroke="#222" stroke-width="0.8" stroke-linecap="butt"/>
<line x1="676.30" y1="540.38" x2="678.00" y2="540.38" stroke="#222" stroke-width="0.8" stroke-linecap="butt"/>
<line x1="676.30" y1="539.09" x2="678.00" y2="539.09" stroke="#222" stroke-width="0.8" stroke-linecap="butt"/>
<line x1="676.30" y1="581.29" x2="678.00" y2="581.29" stroke="#222" stroke-width="0.8" stroke-linecap="butt"/>
<line x1="676.30" y1="576.74" x2="678.00" y2="576.74" stroke="#222" stroke-width="0.8" stroke-linecap="butt"/>
<line x1="676.30" y1="573.51" x2="678.00" y2="573.51" stroke="#222" stroke-width="0.8" stroke-linecap="butt"/>
<line x1="676.30" y1="571.01" x2="678.00" y2="571.01" stroke="#222" stroke-width="0.8" stroke-linecap="butt"/>
<line x1="676.30" y1="568.96" x2="678.00" y2="568.96" stroke="#222" stroke-width="0.8" stroke-linecap="butt"/>
<line x1="676.30" y1="567.23" x2="678.00" y2="567.23" stroke="#222" stroke-width="0.8" stroke-linecap="butt"/>
<line x1="676.30" y1="565.74" x2="678.00" y2="565.74" stroke="#222" stroke-width="0.8" stroke-linecap="butt"/>
<line x1="676.30" y1="564.41" x2="678.00" y2="564.41" stroke="#222" stroke-width="0.8" stroke-linecap="butt"/>
<line x1="676.30" y1="530.31" x2="678.00" y2="530.31" stroke="#222" stroke-width="0.8" stroke-linecap="butt"/>
<line x1="675.80" y1="594.97" x2="678.00" y2="594.97" stroke="#222" stroke-width="0.9" stroke-linecap="butt"/>
<line x1="675.80" y1="602.22" x2="678.00" y2="602.22" stroke="#222" stroke-width="0.9" stroke-linecap="butt"/>
<line x1="675.80" y1="609.48" x2="678.00" y2="609.48" stroke="#222" stroke-width="0.9" stroke-linecap="butt"/>
<line x1="675.80" y1="616.73" x2="678.00" y2="616.73" stroke="#222" stroke-width="0.9" stroke-linecap="butt"/>
<line x1="675.80" y1="631.23" x2="678.00" y2="631.23" stroke="#222" stroke-width="0.9" stroke-linecap="butt"/>
<line x1="675.80" y1="638.48" x2="678.00" y2="638.48" stroke="#222" stroke-width="0.9" stroke-linecap="butt"/>
<line x1="675.80" y1="645.74" x2="678.00" y2="645.74" stroke="#222" stroke-width="0.9" stroke-linecap="butt"/>
<line x1="675.80" y1="652.99" x2="678.00" y2="652.99" stroke="#222" stroke-width="0.9" stroke-linecap="butt"/>
<line x1="675.80" y1="660.24" x2="678.00" y2="660.24" stroke="#222" stroke-width="0.9" stroke-linecap="butt"/>
<line x1="674.80" y1="620.18" x2="678.00" y2="620.18" stroke="#111" stroke-width="1.0" stroke-linecap="butt"/>
<line x1="674.80" y1="622.08" x2="678.00" y2="622.08" stroke="#111" stroke-width="1.0" stroke-linecap="butt"/>
<line x1="674.80" y1="623.98" x2="678.00" y2="623.98" stroke="#111" stroke-width="1.0" stroke-linecap="butt"/>
<line x1="674.80" y1="625.88" x2="678.00" y2="625.88" stroke="#111" stroke-width="1.0" stroke-linecap="butt"/>
<line x1="674.80" y1="627.78" x2="678.00" y2="627.78" stroke="#111" stroke-width="1.0" stroke-linecap="butt"/>
<rect x="676.4" y="619.8" width="1.6" height="8.4" fill="#111"/>
<line x1="691.18" y1="662.00" x2="691.18" y2="665.80" stroke="#222" stroke-width="1.0" stroke-linecap="butt"/>
<text x="692.7" y="673.5" font-size="5.6" text-anchor="middle" fill="#333">-10<tspan font-size="4.5" dy="-2">3</tspan></text>
<line x1="721.08" y1="662.00" x2="721.08" y2="665.80" stroke="#222" stroke-width="1.0" stroke-linecap="butt"/>
<text x="721.1" y="673.5" font-size="5.6" text-anchor="middle" fill="#333" transform="translate(721.1 673.5) scale(1 1.04) translate(-721.1 -673.5)">0</text>
<line x1="752.20" y1="662.00" x2="752.20" y2="665.80" stroke="#222" stroke-width="1.0" stroke-linecap="butt"/>
<text x="753.7" y="673.5" font-size="5.6" text-anchor="middle" fill="#333">10<tspan font-size="4.5" dy="-2">3</tspan></text>
<line x1="778.16" y1="662.00" x2="778.16" y2="665.80" stroke="#222" stroke-width="1.0" stroke-linecap="butt"/>
<text x="779.7" y="673.5" font-size="5.6" text-anchor="middle" fill="#333">10<tspan font-size="4.5" dy="-2">4</tspan></text>
<line x1="804.12" y1="662.00" x2="804.12" y2="665.80" stroke="#222" stroke-width="1.0" stroke-linecap="butt"/>
<text x="805.6" y="673.5" font-size="5.6" text-anchor="middle" fill="#333">10<tspan font-size="4.5" dy="-2">5</tspan></text>
<line x1="760.02" y1="662.00" x2="760.02" y2="663.80" stroke="#222" stroke-width="0.8" stroke-linecap="butt"/>
<line x1="764.59" y1="662.00" x2="764.59" y2="663.80" stroke="#222" stroke-width="0.8" stroke-linecap="butt"/>
<line x1="767.83" y1="662.00" x2="767.83" y2="663.80" stroke="#222" stroke-width="0.8" stroke-linecap="butt"/>
<line x1="770.34" y1="662.00" x2="770.34" y2="663.80" stroke="#222" stroke-width="0.8" stroke-linecap="butt"/>
<line x1="772.40" y1="662.00" x2="772.40" y2="663.80" stroke="#222" stroke-width="0.8" stroke-linecap="butt"/>
<line x1="774.14" y1="662.00" x2="774.14" y2="663.80" stroke="#222" stroke-width="0.8" stroke-linecap="butt"/>
<line x1="775.64" y1="662.00" x2="775.64" y2="663.80" stroke="#222" stroke-width="0.8" stroke-linecap="butt"/>
<line x1="776.97" y1="662.00" x2="776.97" y2="663.80" stroke="#222" stroke-width="0.8" stroke-linecap="butt"/>
<line x1="785.97" y1="662.00" x2="785.97" y2="663.80" stroke="#222" stroke-width="0.8" stroke-linecap="butt"/>
<line x1="790.54" y1="662.00" x2="790.54" y2="663.80" stroke="#222" stroke-width="0.8" stroke-linecap="butt"/>
<line x1="793.79" y1="662.00" x2="793.79" y2="663.80" stroke="#222" stroke-width="0.8" stroke-linecap="butt"/>
<line x1="796.30" y1="662.00" x2="796.30" y2="663.80" stroke="#222" stroke-width="0.8" stroke-linecap="butt"/>
<line x1="798.36" y1="662.00" x2="798.36" y2="663.80" stroke="#222" stroke-width="0.8" stroke-linecap="butt"/>
<line x1="800.09" y1="662.00" x2="800.09" y2="663.80" stroke="#222" stroke-width="0.8" stroke-linecap="butt"/>
<line x1="801.60" y1="662.00" x2="801.60" y2="663.80" stroke="#222" stroke-width="0.8" stroke-linecap="butt"/>
<line x1="802.93" y1="662.00" x2="802.93" y2="663.80" stroke="#222" stroke-width="0.8" stroke-linecap="butt"/>
<line x1="811.93" y1="662.00" x2="811.93" y2="663.80" stroke="#222" stroke-width="0.8" stroke-linecap="butt"/>
<line x1="691.18" y1="662.00" x2="691.18" y2="664.20" stroke="#222" stroke-width="0.9" stroke-linecap="butt"/>
<line x1="697.16" y1="662.00" x2="697.16" y2="664.20" stroke="#222" stroke-width="0.9" stroke-linecap="butt"/>
<line x1="703.14" y1="662.00" x2="703.14" y2="664.20" stroke="#222" stroke-width="0.9" stroke-linecap="butt"/>
<line x1="709.12" y1="662.00" x2="709.12" y2="664.20" stroke="#222" stroke-width="0.9" stroke-linecap="butt"/>
<line x1="715.10" y1="662.00" x2="715.10" y2="664.20" stroke="#222" stroke-width="0.9" stroke-linecap="butt"/>
<line x1="721.08" y1="662.00" x2="721.08" y2="664.20" stroke="#222" stroke-width="0.9" stroke-linecap="butt"/>
<line x1="727.06" y1="662.00" x2="727.06" y2="664.20" stroke="#222" stroke-width="0.9" stroke-linecap="butt"/>
<line x1="733.04" y1="662.00" x2="733.04" y2="664.20" stroke="#222" stroke-width="0.9" stroke-linecap="butt"/>
<line x1="739.02" y1="662.00" x2="739.02" y2="664.20" stroke="#222" stroke-width="0.9" stroke-linecap="butt"/>
<line x1="745.00" y1="662.00" x2="745.00" y2="664.20" stroke="#222" stroke-width="0.9" stroke-linecap="butt"/>
<line x1="750.98" y1="662.00" x2="750.98" y2="664.20" stroke="#222" stroke-width="0.9" stroke-linecap="butt"/>
<line x1="717.28" y1="662.00" x2="717.28" y2="665.20" stroke="#111" stroke-width="1.0" stroke-linecap="butt"/>
<line x1="719.18" y1="662.00" x2="719.18" y2="665.20" stroke="#111" stroke-width="1.0" stroke-linecap="butt"/>
<line x1="721.08" y1="662.00" x2="721.08" y2="665.20" stroke="#111" stroke-width="1.0" stroke-linecap="butt"/>
<line x1="722.98" y1="662.00" x2="722.98" y2="665.20" stroke="#111" stroke-width="1.0" stroke-linecap="butt"/>
<line x1="724.88" y1="662.00" x2="724.88" y2="665.20" stroke="#111" stroke-width="1.0" stroke-linecap="butt"/>
<rect x="716.9" y="662.0" width="8.4" height="1.6" fill="#111"/>
<g clip-path="url(#fc100)"><path d="M402.2 112.2 396.6 112.2 389.4 110.1 384.6 107.5 382.9 105.6 382.5 104.8 382.5 103.6 383.9 101.2 385.5 99.6 388.2 96.9 391.4 94.7 396.2 92.3 397.8 91.9 400.6 91.9 403.0 92.7 404.8 93.6 408.1 96.0 410.4 99.2 411.6 101.6 412.0 103.6 411.0 106.7 408.2 110.0 406.2 111.0 402.2 112.2Z" fill="#0000ff"/><path d="M402.2 112.0 396.6 112.0 389.4 109.9 384.7 107.2 383.2 105.6 382.8 104.8 382.8 103.6 384.2 101.3 385.8 99.6 388.2 97.2 391.4 94.9 396.2 92.6 397.8 92.2 400.6 92.2 403.0 92.9 407.8 96.0 409.5 98.0 411.4 101.6 411.8 103.6 411.0 106.4 409.9 108.0 408.2 109.7 406.2 110.8 402.2 112.0Z" fill="#0016ff"/><path d="M402.2 111.8 396.6 111.7 389.4 109.6 385.0 107.1 383.5 105.6 383.0 104.4 383.1 103.6 384.3 101.6 387.0 98.8 388.6 97.3 391.5 95.2 396.2 92.9 398.1 92.4 400.3 92.4 403.0 93.3 407.4 96.0 409.4 98.3 411.1 101.6 411.5 103.6 410.8 106.4 409.8 107.9 408.1 109.6 406.2 110.6 402.2 111.8Z" fill="#001dff"/><path d="M401.8 111.6 397.0 111.6 393.0 110.5 389.5 109.2 386.5 107.6 384.5 106.0 383.8 104.8 383.9 103.2 385.3 101.2 388.9 97.6 391.7 95.6 394.8 94.0 396.7 93.2 399.4 92.8 403.6 94.0 407.4 96.4 409.1 98.4 410.8 101.6 411.2 103.6 410.5 106.4 409.7 107.6 407.8 109.5 405.0 110.8 401.8 111.6Z" fill="#003dff"/><path d="M402.2 111.3 397.0 111.3 392.6 109.8 389.2 108.0 386.2 105.9 385.3 104.8 385.3 103.2 386.4 101.6 389.6 98.4 392.2 96.5 395.4 94.8 397.4 94.1 399.4 93.9 403.8 95.1 406.6 96.7 408.8 98.8 410.6 101.9 410.8 103.6 410.2 106.3 409.4 107.6 407.8 109.2 406.2 110.1 402.2 111.3Z" fill="#0063ff"/><path d="M402.6 110.8 400.6 111.1 397.8 110.9 393.4 109.4 387.6 105.6 386.7 104.4 386.8 103.2 388.6 100.8 390.6 98.8 393.0 97.1 395.8 95.7 397.8 95.0 399.8 94.9 402.2 95.4 404.2 96.2 407.0 98.0 408.9 100.0 410.0 102.4 410.2 104.4 409.3 106.8 407.8 108.6 405.8 109.8 402.6 110.8Z" fill="#0089ff"/><path d="M402.2 110.4 397.8 110.4 393.5 108.8 388.8 105.2 388.1 104.0 388.4 102.8 390.2 100.4 392.2 98.6 394.2 97.3 397.0 96.1 399.0 95.7 400.6 95.8 402.6 96.3 405.0 97.4 407.0 98.8 408.7 100.8 409.5 102.8 409.5 104.8 408.6 106.8 407.0 108.5 404.6 109.8 402.2 110.4Z" fill="#00b9ff"/><path d="M401.8 110.0 399.4 110.1 397.0 109.7 394.7 108.8 392.8 107.6 389.6 104.4 389.5 103.2 390.3 101.6 391.8 100.0 393.8 98.4 396.2 97.2 398.2 96.6 401.8 96.7 403.8 97.4 405.8 98.6 407.4 100.0 408.5 101.6 409.0 103.2 408.8 105.2 407.8 107.0 406.3 108.4 404.2 109.4 401.8 110.0Z" fill="#00eaff"/><path d="M401.8 109.6 399.8 109.7 397.4 109.4 395.0 108.4 393.2 107.2 391.6 105.6 390.6 104.0 390.6 102.8 391.6 101.2 393.2 99.6 395.0 98.4 397.0 97.5 399.0 97.1 402.6 97.5 404.6 98.4 406.2 99.5 407.4 100.8 408.2 102.4 408.5 104.0 408.1 105.6 407.0 107.2 405.8 108.2 403.8 109.1 401.8 109.6Z" fill="#00f3bb"/><path d="M401.8 109.3 399.8 109.3 397.4 108.9 395.4 108.1 393.5 106.8 392.1 105.2 391.4 103.6 391.7 102.4 392.8 100.8 395.8 98.6 399.4 97.6 403.0 98.2 406.2 100.1 407.4 101.6 407.9 102.8 408.0 104.0 407.6 105.6 406.8 106.8 405.4 108.0 401.8 109.3Z" fill="#00fa75"/><path d="M402.2 108.8 400.2 109.0 397.8 108.7 395.8 107.9 394.3 106.8 393.1 105.6 392.3 104.0 392.3 102.8 393.2 101.2 395.8 99.2 399.0 98.1 402.6 98.5 405.4 100.0 407.2 102.4 407.5 103.6 407.2 105.2 406.6 106.4 405.4 107.5 402.2 108.8Z" fill="#00f03e"/><path d="M402.2 108.5 400.2 108.7 398.2 108.4 396.2 107.6 394.6 106.5 393.5 105.2 392.9 103.6 393.1 102.4 393.9 101.2 396.6 99.3 399.4 98.5 402.6 98.9 405.4 100.5 406.9 102.8 407.0 104.0 406.8 105.2 405.1 107.2 402.2 108.5Z" fill="#00e707"/><path d="M402.6 108.0 399.0 108.2 397.4 107.8 395.6 106.8 394.4 105.6 393.6 104.0 393.6 102.8 394.2 101.6 396.2 99.9 399.0 98.9 401.8 99.1 404.6 100.4 406.3 102.4 406.6 103.6 406.5 104.8 405.0 106.8 402.6 108.0Z" fill="#2ce900"/><path d="M402.6 107.7 399.4 107.9 397.8 107.6 396.2 106.7 395.0 105.6 394.3 104.4 394.1 103.2 394.5 102.0 396.2 100.4 399.0 99.3 401.8 99.5 404.2 100.6 405.8 102.4 406.1 104.4 404.9 106.4 402.6 107.7Z" fill="#5fec00"/><path d="M401.4 107.6 398.2 107.3 396.6 106.5 395.5 105.6 394.8 104.4 394.6 103.2 395.0 102.1 395.8 101.2 397.8 100.0 400.2 99.6 402.6 100.1 404.8 101.6 405.7 103.2 405.4 105.2 403.8 106.8 401.4 107.6Z" fill="#92ef00"/><path d="M401.4 107.3 398.6 107.1 396.1 105.6 395.1 103.6 395.4 102.4 396.0 101.6 397.8 100.4 400.2 100.0 402.6 100.5 404.3 101.6 405.2 103.2 405.0 105.0 403.7 106.4 401.4 107.3Z" fill="#c4f000"/><path d="M401.8 106.8 399.4 106.9 397.0 105.9 395.7 104.0 395.7 102.8 396.2 102.0 397.8 100.8 399.8 100.3 401.8 100.6 403.7 101.6 404.7 102.8 404.8 104.4 403.8 105.9 401.8 106.8Z" fill="#f5f000"/><path d="M401.8 106.5 399.4 106.6 397.3 105.6 396.6 104.8 396.1 103.6 396.8 102.0 398.2 101.0 399.8 100.7 401.8 100.9 403.4 101.8 404.3 103.2 404.3 104.4 403.5 105.6 401.8 106.5Z" fill="#ffc800"/><path d="M401.8 106.1 399.8 106.3 397.8 105.5 396.7 104.0 397.1 102.4 398.2 101.5 399.8 101.0 401.4 101.2 403.0 102.0 403.9 103.2 403.8 104.4 403.0 105.5 401.8 106.1Z" fill="#ff9700"/><path d="M401.8 105.7 399.8 105.9 398.2 105.2 397.3 104.0 397.3 103.2 397.7 102.4 398.9 101.6 400.2 101.4 401.4 101.6 402.6 102.2 403.3 103.2 403.4 104.0 403.0 104.8 401.8 105.7Z" fill="#ff6300"/><path d="M401.4 105.3 399.8 105.4 398.6 104.9 397.9 104.0 398.1 102.8 399.8 101.9 401.0 101.9 402.0 102.4 402.7 103.2 402.8 104.0 402.3 104.8 401.4 105.3Z" fill="#ff2c00"/><path d="M401.0 104.8 399.8 104.8 399.0 104.4 398.6 103.6 399.0 102.8 400.6 102.4 401.8 103.0 402.0 104.0 401.0 104.8Z" fill="#ff0000"/></g>
<g clip-path="url(#fc100)"><path d="M351.4 110.5 349.8 110.9 347.8 110.9 343.8 110.1 342.2 109.3 340.9 108.1 339.8 106.9 339.0 105.3 339.0 102.9 339.4 101.3 342.6 93.7 343.5 90.5 343.6 88.1 343.9 87.3 343.9 73.7 343.6 72.9 343.5 66.5 343.2 65.7 342.7 60.1 338.3 43.7 337.9 41.7 337.9 38.5 338.7 35.7 340.5 32.1 342.6 30.1 345.8 28.9 351.4 28.9 353.4 29.3 355.0 30.2 356.6 31.3 357.7 32.9 358.5 34.5 358.9 36.5 358.9 39.3 358.6 40.1 358.5 42.1 356.5 50.1 355.0 54.5 354.1 59.3 354.1 67.3 354.4 68.9 354.5 86.5 355.7 93.7 358.2 102.1 358.2 105.3 357.8 106.5 356.6 108.2 353.0 110.1 351.4 110.5Z" fill="#0000ff"/><path d="M349.8 110.6 345.0 110.1 342.2 108.9 340.2 106.9 339.3 104.9 339.3 103.3 339.8 101.3 343.1 93.7 344.0 90.5 344.4 86.9 344.4 74.5 344.1 72.5 344.0 66.5 343.2 60.1 338.6 43.4 338.2 41.3 338.2 38.9 339.1 35.7 340.6 32.5 342.6 30.5 344.2 29.7 346.2 29.2 351.4 29.2 353.4 29.7 355.0 30.6 356.4 31.7 357.2 32.9 358.0 34.5 358.6 37.3 358.2 41.8 354.1 56.1 353.6 59.7 353.6 67.3 354.0 69.7 354.0 86.5 355.3 94.1 357.8 102.1 357.9 104.9 357.4 106.5 356.2 108.1 353.0 109.8 349.8 110.6Z" fill="#0016ff"/><path d="M349.8 110.2 345.4 109.8 343.0 108.9 340.6 106.8 339.7 104.5 340.2 101.6 343.9 95.3 345.3 91.3 345.9 86.5 345.9 74.9 345.4 66.5 344.5 59.3 343.2 54.5 339.5 44.5 338.9 41.3 338.8 39.3 339.8 35.3 341.6 32.1 342.9 30.9 344.3 30.1 347.4 29.5 351.4 29.7 353.0 30.1 354.8 31.3 356.0 32.5 357.0 34.1 357.9 38.1 357.3 43.3 356.0 47.3 353.0 54.9 352.3 58.1 352.1 60.5 352.6 86.9 353.9 94.5 354.8 96.9 357.0 100.9 357.5 102.5 357.5 104.9 357.0 106.5 356.1 107.7 353.0 109.4 349.8 110.2Z" fill="#001dff"/><path d="M351.0 109.4 347.4 109.5 343.8 108.5 341.5 106.5 340.6 104.1 341.4 101.2 345.6 95.7 347.0 92.1 347.7 86.9 347.7 74.9 347.3 66.5 346.3 58.9 344.8 54.1 340.7 44.9 339.9 41.7 339.8 39.3 340.7 35.7 342.6 32.5 345.0 30.8 347.8 30.1 351.0 30.5 354.2 32.2 355.9 34.5 356.8 38.1 356.6 41.7 355.8 44.9 351.6 53.7 350.7 56.5 350.3 58.9 350.3 66.1 350.7 70.5 350.7 86.1 351.3 90.5 352.4 95.3 356.2 101.3 356.8 104.1 356.5 105.7 355.3 107.3 353.4 108.6 351.0 109.4Z" fill="#003dff"/><path d="M348.2 55.8 347.4 55.1 342.5 46.9 341.1 43.3 340.7 40.1 341.3 36.5 343.0 33.3 345.4 31.6 348.6 31.0 351.4 31.6 354.0 33.3 355.4 35.7 356.0 39.3 355.6 42.5 354.4 46.1 349.0 55.0 348.2 55.8ZM349.8 108.9 347.0 108.8 344.2 107.9 342.2 106.1 341.5 104.1 341.7 102.5 342.8 100.5 349.0 94.1 349.8 94.4 351.4 96.9 354.7 100.5 355.6 102.1 356.0 103.7 355.7 105.3 354.6 106.9 352.6 108.2 349.8 108.9Z" fill="#0063ff"/><path d="M348.6 51.7 347.8 51.8 347.0 51.2 343.8 47.3 342.1 43.7 341.4 40.1 342.0 36.9 343.4 34.1 345.4 32.5 348.2 31.8 351.0 32.3 353.2 33.7 354.5 35.7 355.2 38.9 354.8 42.5 353.6 45.7 351.4 49.0 348.6 51.7ZM350.6 108.2 347.8 108.3 345.0 107.6 343.1 106.1 342.3 104.5 342.6 102.5 343.8 100.6 345.8 98.8 348.6 97.2 350.2 97.6 353.0 99.8 354.6 101.7 355.2 103.3 355.0 104.9 354.2 106.3 352.6 107.5 350.6 108.2Z" fill="#0089ff"/><path d="M348.6 49.8 347.8 49.8 346.6 49.1 344.2 46.4 342.7 43.3 342.1 40.1 342.7 36.9 344.1 34.5 345.8 33.1 348.2 32.6 350.6 33.0 352.9 34.5 354.0 36.5 354.5 39.3 354.1 42.5 353.0 45.3 351.0 48.0 348.6 49.8ZM349.8 107.7 347.4 107.7 345.1 106.9 343.7 105.7 343.0 104.1 343.4 102.5 344.6 100.7 346.6 99.3 348.6 98.5 350.2 98.8 352.2 100.1 353.7 101.7 354.4 103.3 354.3 104.9 353.5 106.1 351.8 107.2 349.8 107.7Z" fill="#00b9ff"/><path d="M349.0 48.2 347.4 48.2 345.0 46.1 343.4 43.3 342.8 40.5 343.1 37.7 344.2 35.5 345.8 34.0 347.8 33.4 350.2 33.6 352.2 34.9 353.3 36.5 353.8 38.9 353.6 41.7 352.6 44.5 351.0 46.7 349.0 48.2ZM350.6 107.0 347.4 107.1 345.8 106.6 344.6 105.7 343.9 104.5 343.8 103.3 344.3 102.1 345.4 100.9 347.4 99.7 349.0 99.4 351.0 100.1 352.9 101.7 353.7 103.3 353.5 104.9 352.5 106.1 350.6 107.0Z" fill="#00eaff"/><path d="M349.4 46.9 347.8 47.2 345.8 45.9 344.3 43.7 343.5 40.9 343.6 38.5 344.6 36.1 345.8 34.8 347.8 34.1 349.8 34.3 351.4 35.1 352.5 36.5 353.1 38.5 353.1 40.9 352.4 43.3 351.0 45.6 349.4 46.9ZM350.2 106.5 347.4 106.6 345.1 105.3 344.6 104.5 344.6 103.3 346.0 101.3 347.4 100.4 349.0 100.1 351.0 100.9 352.4 102.1 353.0 103.7 352.7 104.9 351.8 105.8 350.2 106.5Z" fill="#00f3bb"/><path d="M348.6 46.2 347.0 45.8 345.6 44.5 344.5 42.5 344.1 40.1 344.4 38.1 345.4 36.1 346.6 35.2 348.2 34.8 349.8 35.0 351.4 36.1 352.2 37.5 352.5 39.3 352.3 41.7 351.5 43.7 350.2 45.3 348.6 46.2ZM349.0 106.1 347.4 105.9 346.2 105.3 345.5 104.5 345.3 103.7 346.2 102.0 347.4 101.2 348.6 100.8 349.8 101.0 351.0 101.7 351.8 102.5 352.2 103.7 352.0 104.5 351.4 105.3 349.0 106.1Z" fill="#00fa75"/><path d="M349.0 45.1 347.8 45.2 346.6 44.5 345.4 42.9 344.8 40.9 344.8 38.9 345.4 37.3 346.5 36.1 347.8 35.6 349.4 35.7 350.6 36.3 351.4 37.3 351.9 38.9 351.8 40.9 351.3 42.5 350.3 44.1 349.0 45.1ZM349.8 105.3 347.8 105.3 346.6 104.6 346.2 103.7 346.7 102.5 348.6 101.6 349.5 101.7 350.6 102.3 351.3 103.3 351.2 104.1 350.6 104.9 349.8 105.3Z" fill="#00f03e"/><path d="M348.6 44.2 347.4 44.0 346.6 43.3 345.7 41.7 345.4 40.1 345.6 38.5 346.2 37.4 347.0 36.7 348.2 36.3 349.4 36.5 350.5 37.3 351.0 38.3 351.2 39.7 350.5 42.5 349.5 43.7 348.6 44.2ZM349.4 104.3 348.6 104.5 347.8 104.1 347.6 103.7 347.8 103.0 348.6 102.6 349.6 102.9 350.0 103.7 349.4 104.3Z" fill="#00e707"/><path d="M349.0 42.9 348.2 43.1 347.4 42.8 346.6 41.9 346.2 40.5 346.6 38.3 347.4 37.5 348.2 37.2 349.7 37.7 350.4 39.3 350.2 41.4 349.0 42.9Z" fill="#2ce900"/><path d="M348.2 41.7 347.4 41.1 347.2 39.7 347.8 38.6 348.6 38.5 349.4 39.3 349.5 40.1 349.0 41.3 348.2 41.7Z" fill="#5fec00"/></g>
<rect x="311.40" y="-0.70" width="135.90" height="136.10" fill="none" stroke="#7a7a7a" stroke-width="1.1"/>
<line x1="376.30" y1="-0.70" x2="376.30" y2="135.40" stroke="#111" stroke-width="1.3" stroke-linecap="butt"/>
<line x1="311.40" y1="82.10" x2="447.30" y2="82.10" stroke="#111" stroke-width="1.3" stroke-linecap="butt"/>
<text x="314.2" y="15.7" font-size="9.6" fill="#111" transform="translate(314.2 15.7) scale(1 1.04) translate(-314.2 -15.7)" stroke="#111" stroke-width="0.3">24.3</text>
<text x="314.2" y="126.1" font-size="9.6" fill="#111" transform="translate(314.2 126.1) scale(1 1.04) translate(-314.2 -126.1)" stroke="#111" stroke-width="0.3">9.84</text>
<text x="435.1" y="15.7" font-size="9.6" text-anchor="end" fill="#111" transform="translate(435.1 15.7) scale(1 1.04) translate(-435.1 -15.7)" stroke="#111" stroke-width="0.3">0.41</text>
<text x="435.1" y="126.1" font-size="9.6" text-anchor="end" fill="#111" transform="translate(435.1 126.1) scale(1 1.04) translate(-435.1 -126.1)" stroke="#111" stroke-width="0.3">65.4</text>
<line x1="307.60" y1="12.90" x2="311.40" y2="12.90" stroke="#222" stroke-width="1.0" stroke-linecap="butt"/>
<text x="302.9" y="15.1" font-size="5.6" text-anchor="middle" fill="#333">10<tspan font-size="4.5" dy="-2">5</tspan></text>
<line x1="307.60" y1="45.30" x2="311.40" y2="45.30" stroke="#222" stroke-width="1.0" stroke-linecap="butt"/>
<text x="302.9" y="47.5" font-size="5.6" text-anchor="middle" fill="#333">10<tspan font-size="4.5" dy="-2">4</tspan></text>
<line x1="307.60" y1="82.40" x2="311.40" y2="82.40" stroke="#222" stroke-width="1.0" stroke-linecap="butt"/>
<text x="302.9" y="84.6" font-size="5.6" text-anchor="middle" fill="#333">10<tspan font-size="4.5" dy="-2">3</tspan></text>
<line x1="307.60" y1="104.20" x2="311.40" y2="104.20" stroke="#222" stroke-width="1.0" stroke-linecap="butt"/>
<text x="304.9" y="106.4" font-size="5.6" text-anchor="end" fill="#333" transform="translate(304.9 106.4) scale(1 1.04) translate(-304.9 -106.4)">0</text>
<line x1="307.60" y1="127.40" x2="311.40" y2="127.40" stroke="#222" stroke-width="1.0" stroke-linecap="butt"/>
<text x="302.9" y="129.6" font-size="5.6" text-anchor="middle" fill="#333">-10<tspan font-size="4.5" dy="-2">3</tspan></text>
<line x1="309.70" y1="35.55" x2="311.40" y2="35.55" stroke="#222" stroke-width="0.8" stroke-linecap="butt"/>
<line x1="309.70" y1="29.84" x2="311.40" y2="29.84" stroke="#222" stroke-width="0.8" stroke-linecap="butt"/>
<line x1="309.70" y1="25.79" x2="311.40" y2="25.79" stroke="#222" stroke-width="0.8" stroke-linecap="butt"/>
<line x1="309.70" y1="22.65" x2="311.40" y2="22.65" stroke="#222" stroke-width="0.8" stroke-linecap="butt"/>
<line x1="309.70" y1="20.09" x2="311.40" y2="20.09" stroke="#222" stroke-width="0.8" stroke-linecap="butt"/>
<line x1="309.70" y1="17.92" x2="311.40" y2="17.92" stroke="#222" stroke-width="0.8" stroke-linecap="butt"/>
<line x1="309.70" y1="16.04" x2="311.40" y2="16.04" stroke="#222" stroke-width="0.8" stroke-linecap="butt"/>
<line x1="309.70" y1="14.38" x2="311.40" y2="14.38" stroke="#222" stroke-width="0.8" stroke-linecap="butt"/>
<line x1="309.70" y1="71.23" x2="311.40" y2="71.23" stroke="#222" stroke-width="0.8" stroke-linecap="butt"/>
<line x1="309.70" y1="64.70" x2="311.40" y2="64.70" stroke="#222" stroke-width="0.8" stroke-linecap="butt"/>
<line x1="309.70" y1="60.06" x2="311.40" y2="60.06" stroke="#222" stroke-width="0.8" stroke-linecap="butt"/>
<line x1="309.70" y1="56.47" x2="311.40" y2="56.47" stroke="#222" stroke-width="0.8" stroke-linecap="butt"/>
<line x1="309.70" y1="53.53" x2="311.40" y2="53.53" stroke="#222" stroke-width="0.8" stroke-linecap="butt"/>
<line x1="309.70" y1="51.05" x2="311.40" y2="51.05" stroke="#222" stroke-width="0.8" stroke-linecap="butt"/>
<line x1="309.70" y1="48.90" x2="311.40" y2="48.90" stroke="#222" stroke-width="0.8" stroke-linecap="butt"/>
<line x1="309.70" y1="47.00" x2="311.40" y2="47.00" stroke="#222" stroke-width="0.8" stroke-linecap="butt"/>
<line x1="309.70" y1="3.15" x2="311.40" y2="3.15" stroke="#222" stroke-width="0.8" stroke-linecap="butt"/>
<line x1="309.20" y1="85.64" x2="311.40" y2="85.64" stroke="#222" stroke-width="0.9" stroke-linecap="butt"/>
<line x1="309.20" y1="90.28" x2="311.40" y2="90.28" stroke="#222" stroke-width="0.9" stroke-linecap="butt"/>
<line x1="309.20" y1="94.92" x2="311.40" y2="94.92" stroke="#222" stroke-width="0.9" stroke-linecap="butt"/>
<line x1="309.20" y1="99.56" x2="311.40" y2="99.56" stroke="#222" stroke-width="0.9" stroke-linecap="butt"/>
<line x1="309.20" y1="108.84" x2="311.40" y2="108.84" stroke="#222" stroke-width="0.9" stroke-linecap="butt"/>
<line x1="309.20" y1="113.48" x2="311.40" y2="113.48" stroke="#222" stroke-width="0.9" stroke-linecap="butt"/>
<line x1="309.20" y1="118.12" x2="311.40" y2="118.12" stroke="#222" stroke-width="0.9" stroke-linecap="butt"/>
<line x1="309.20" y1="122.76" x2="311.40" y2="122.76" stroke="#222" stroke-width="0.9" stroke-linecap="butt"/>
<line x1="309.20" y1="127.40" x2="311.40" y2="127.40" stroke="#222" stroke-width="0.9" stroke-linecap="butt"/>
<line x1="309.20" y1="132.04" x2="311.40" y2="132.04" stroke="#222" stroke-width="0.9" stroke-linecap="butt"/>
<line x1="308.20" y1="100.40" x2="311.40" y2="100.40" stroke="#111" stroke-width="1.0" stroke-linecap="butt"/>
<line x1="308.20" y1="102.30" x2="311.40" y2="102.30" stroke="#111" stroke-width="1.0" stroke-linecap="butt"/>
<line x1="308.20" y1="104.20" x2="311.40" y2="104.20" stroke="#111" stroke-width="1.0" stroke-linecap="butt"/>
<line x1="308.20" y1="106.10" x2="311.40" y2="106.10" stroke="#111" stroke-width="1.0" stroke-linecap="butt"/>
<line x1="308.20" y1="108.00" x2="311.40" y2="108.00" stroke="#111" stroke-width="1.0" stroke-linecap="butt"/>
<rect x="309.8" y="100.0" width="1.6" height="8.4" fill="#111"/>
<line x1="318.87" y1="135.40" x2="318.87" y2="139.20" stroke="#222" stroke-width="1.0" stroke-linecap="butt"/>
<text x="320.4" y="146.9" font-size="5.6" text-anchor="middle" fill="#333">-10<tspan font-size="4.5" dy="-2">3</tspan></text>
<line x1="340.07" y1="135.40" x2="340.07" y2="139.20" stroke="#222" stroke-width="1.0" stroke-linecap="butt"/>
<text x="340.1" y="146.9" font-size="5.6" text-anchor="middle" fill="#333" transform="translate(340.1 146.9) scale(1 1.04) translate(-340.1 -146.9)">0</text>
<line x1="364.54" y1="135.40" x2="364.54" y2="139.20" stroke="#222" stroke-width="1.0" stroke-linecap="butt"/>
<text x="366.0" y="146.9" font-size="5.6" text-anchor="middle" fill="#333">10<tspan font-size="4.5" dy="-2">3</tspan></text>
<line x1="401.23" y1="135.40" x2="401.23" y2="139.20" stroke="#222" stroke-width="1.0" stroke-linecap="butt"/>
<text x="402.7" y="146.9" font-size="5.6" text-anchor="middle" fill="#333">10<tspan font-size="4.5" dy="-2">4</tspan></text>
<line x1="433.30" y1="135.40" x2="433.30" y2="139.20" stroke="#222" stroke-width="1.0" stroke-linecap="butt"/>
<text x="434.8" y="146.9" font-size="5.6" text-anchor="middle" fill="#333">10<tspan font-size="4.5" dy="-2">5</tspan></text>
<line x1="375.58" y1="135.40" x2="375.58" y2="137.20" stroke="#222" stroke-width="0.8" stroke-linecap="butt"/>
<line x1="382.04" y1="135.40" x2="382.04" y2="137.20" stroke="#222" stroke-width="0.8" stroke-linecap="butt"/>
<line x1="386.63" y1="135.40" x2="386.63" y2="137.20" stroke="#222" stroke-width="0.8" stroke-linecap="butt"/>
<line x1="390.18" y1="135.40" x2="390.18" y2="137.20" stroke="#222" stroke-width="0.8" stroke-linecap="butt"/>
<line x1="393.09" y1="135.40" x2="393.09" y2="137.20" stroke="#222" stroke-width="0.8" stroke-linecap="butt"/>
<line x1="395.55" y1="135.40" x2="395.55" y2="137.20" stroke="#222" stroke-width="0.8" stroke-linecap="butt"/>
<line x1="397.67" y1="135.40" x2="397.67" y2="137.20" stroke="#222" stroke-width="0.8" stroke-linecap="butt"/>
<line x1="399.55" y1="135.40" x2="399.55" y2="137.20" stroke="#222" stroke-width="0.8" stroke-linecap="butt"/>
<line x1="410.88" y1="135.40" x2="410.88" y2="137.20" stroke="#222" stroke-width="0.8" stroke-linecap="butt"/>
<line x1="416.53" y1="135.40" x2="416.53" y2="137.20" stroke="#222" stroke-width="0.8" stroke-linecap="butt"/>
<line x1="420.54" y1="135.40" x2="420.54" y2="137.20" stroke="#222" stroke-width="0.8" stroke-linecap="butt"/>
<line x1="423.65" y1="135.40" x2="423.65" y2="137.20" stroke="#222" stroke-width="0.8" stroke-linecap="butt"/>
<line x1="426.19" y1="135.40" x2="426.19" y2="137.20" stroke="#222" stroke-width="0.8" stroke-linecap="butt"/>
<line x1="428.33" y1="135.40" x2="428.33" y2="137.20" stroke="#222" stroke-width="0.8" stroke-linecap="butt"/>
<line x1="430.19" y1="135.40" x2="430.19" y2="137.20" stroke="#222" stroke-width="0.8" stroke-linecap="butt"/>
<line x1="431.83" y1="135.40" x2="431.83" y2="137.20" stroke="#222" stroke-width="0.8" stroke-linecap="butt"/>
<line x1="442.96" y1="135.40" x2="442.96" y2="137.20" stroke="#222" stroke-width="0.8" stroke-linecap="butt"/>
<line x1="318.87" y1="135.40" x2="318.87" y2="137.60" stroke="#222" stroke-width="0.9" stroke-linecap="butt"/>
<line x1="323.11" y1="135.40" x2="323.11" y2="137.60" stroke="#222" stroke-width="0.9" stroke-linecap="butt"/>
<line x1="327.35" y1="135.40" x2="327.35" y2="137.60" stroke="#222" stroke-width="0.9" stroke-linecap="butt"/>
<line x1="331.59" y1="135.40" x2="331.59" y2="137.60" stroke="#222" stroke-width="0.9" stroke-linecap="butt"/>
<line x1="335.83" y1="135.40" x2="335.83" y2="137.60" stroke="#222" stroke-width="0.9" stroke-linecap="butt"/>
<line x1="340.07" y1="135.40" x2="340.07" y2="137.60" stroke="#222" stroke-width="0.9" stroke-linecap="butt"/>
<line x1="344.31" y1="135.40" x2="344.31" y2="137.60" stroke="#222" stroke-width="0.9" stroke-linecap="butt"/>
<line x1="348.56" y1="135.40" x2="348.56" y2="137.60" stroke="#222" stroke-width="0.9" stroke-linecap="butt"/>
<line x1="352.80" y1="135.40" x2="352.80" y2="137.60" stroke="#222" stroke-width="0.9" stroke-linecap="butt"/>
<line x1="357.04" y1="135.40" x2="357.04" y2="137.60" stroke="#222" stroke-width="0.9" stroke-linecap="butt"/>
<line x1="361.28" y1="135.40" x2="361.28" y2="137.60" stroke="#222" stroke-width="0.9" stroke-linecap="butt"/>
<line x1="336.27" y1="135.40" x2="336.27" y2="138.60" stroke="#111" stroke-width="1.0" stroke-linecap="butt"/>
<line x1="338.17" y1="135.40" x2="338.17" y2="138.60" stroke="#111" stroke-width="1.0" stroke-linecap="butt"/>
<line x1="340.07" y1="135.40" x2="340.07" y2="138.60" stroke="#111" stroke-width="1.0" stroke-linecap="butt"/>
<line x1="341.97" y1="135.40" x2="341.97" y2="138.60" stroke="#111" stroke-width="1.0" stroke-linecap="butt"/>
<line x1="343.87" y1="135.40" x2="343.87" y2="138.60" stroke="#111" stroke-width="1.0" stroke-linecap="butt"/>
<rect x="335.9" y="135.4" width="8.4" height="1.6" fill="#111"/>
<g clip-path="url(#fc101)"><path d="M602.9 119.3 595.3 119.3 594.5 118.9 593.3 118.9 589.3 117.7 585.9 115.6 583.9 113.6 582.0 110.4 581.6 108.8 581.6 104.4 582.7 100.4 582.8 99.2 583.6 96.4 583.6 94.8 584.0 94.0 584.4 86.8 584.8 86.0 584.8 82.4 585.2 81.6 585.2 78.8 585.6 78.0 586.0 73.6 589.6 58.8 591.6 53.2 594.5 49.0 598.1 46.7 599.3 46.3 606.9 46.3 607.7 46.7 612.1 47.1 616.9 48.3 618.5 48.3 625.3 49.9 627.3 51.0 628.6 52.4 629.4 54.0 629.4 56.8 623.5 72.8 622.6 76.4 622.6 78.0 622.2 78.8 621.8 83.6 621.8 98.8 622.2 99.6 621.8 100.4 621.8 105.6 621.4 106.8 619.1 110.8 615.8 114.0 609.7 117.3 606.5 118.5 603.7 118.9 602.9 119.3Z" fill="#0000ff"/><path d="M602.9 119.0 595.7 119.0 593.3 118.6 589.3 117.4 586.1 115.4 584.1 113.5 582.3 110.4 581.8 108.4 581.8 104.4 583.0 100.4 584.3 94.0 584.8 86.8 585.1 86.0 585.2 82.4 585.5 81.6 585.6 78.8 585.9 78.0 586.4 73.6 590.0 58.8 592.0 53.2 594.7 49.2 598.1 47.1 599.7 46.6 606.5 46.6 612.1 47.5 616.9 48.6 618.5 48.7 625.3 50.3 627.1 51.2 628.2 52.4 629.0 54.0 629.1 56.4 627.4 61.6 626.0 64.8 623.2 72.8 621.9 78.8 621.5 83.2 621.5 98.8 621.8 99.6 621.5 100.4 621.4 105.6 621.0 106.8 618.9 110.6 615.7 113.8 609.7 117.0 606.5 118.2 602.9 119.0Z" fill="#0016ff"/><path d="M603.3 118.4 602.5 118.7 595.7 118.7 589.3 117.0 586.1 115.0 584.3 113.2 582.6 110.4 582.1 108.4 582.1 104.5 584.0 96.8 585.1 90.4 585.6 82.8 586.7 74.0 590.4 58.8 592.5 53.2 594.9 49.6 596.5 48.3 599.7 47.1 606.5 47.1 624.1 50.3 626.9 51.6 627.7 52.4 628.6 54.4 628.6 56.8 622.8 72.8 621.5 78.8 621.1 83.2 621.1 98.8 621.3 99.6 621.1 100.4 621.1 105.2 620.6 106.8 618.6 110.4 615.7 113.3 614.5 114.1 607.7 117.4 603.3 118.4Z" fill="#001dff"/><path d="M603.3 117.6 600.5 117.9 596.1 117.8 592.1 117.0 588.9 115.7 586.1 113.8 584.2 111.6 583.0 109.2 582.5 106.4 582.5 104.7 583.7 99.5 585.7 94.0 586.5 90.8 588.5 74.0 589.7 68.4 592.5 58.0 594.3 53.6 596.3 50.8 598.9 49.2 601.7 48.7 605.3 48.7 608.9 49.2 623.3 52.0 625.8 53.2 626.6 54.4 626.8 55.6 625.8 59.6 621.4 71.6 619.9 78.0 619.4 83.2 619.6 103.6 619.1 106.4 617.1 110.0 613.7 113.2 608.1 116.2 603.3 117.6Z" fill="#003dff"/><path d="M602.5 116.5 599.3 116.7 595.7 116.5 592.1 115.6 589.3 114.4 586.9 112.6 585.1 110.4 584.0 108.0 583.7 105.2 584.6 100.4 587.5 94.0 588.5 90.8 589.6 80.0 590.7 73.2 591.8 68.0 595.1 57.2 596.7 54.0 598.5 51.9 600.5 51.1 604.1 50.9 610.9 51.8 622.0 54.0 623.8 54.8 624.4 56.0 623.7 58.8 619.2 71.2 617.7 78.0 617.2 83.2 617.2 93.2 617.8 103.2 617.3 106.0 615.3 109.6 612.2 112.4 607.3 115.1 602.5 116.5Z" fill="#0063ff"/><path d="M600.5 115.6 594.9 115.2 592.1 114.4 589.7 113.3 587.7 111.8 586.2 110.0 585.2 108.0 584.8 106.0 585.0 103.2 585.8 100.4 589.3 93.6 590.4 90.8 591.4 80.0 592.3 74.4 593.5 69.2 596.2 60.8 598.6 55.2 599.7 54.0 601.3 53.3 605.7 53.4 620.1 56.1 621.2 56.8 621.3 58.0 616.7 71.2 615.8 75.2 615.0 81.2 615.0 92.4 616.1 102.8 615.7 105.6 613.7 109.2 610.1 112.3 605.7 114.5 600.5 115.6Z" fill="#0089ff"/><path d="M602.5 114.5 599.7 114.8 596.5 114.6 593.3 113.9 590.5 112.6 588.5 111.2 586.9 109.2 586.1 107.2 585.8 104.8 586.2 102.4 587.0 100.0 590.9 93.6 592.0 91.2 593.3 77.6 594.3 72.8 595.6 68.4 598.7 60.4 600.2 57.2 601.7 55.9 603.7 55.6 616.5 57.9 617.7 58.4 618.0 59.2 614.2 71.2 613.4 75.2 612.8 80.8 612.8 91.6 614.5 101.6 614.4 105.2 612.8 108.4 610.1 111.0 606.5 113.2 602.5 114.5Z" fill="#00b9ff"/><path d="M602.5 113.6 599.7 114.0 596.9 113.9 593.7 113.1 591.3 112.1 589.3 110.7 587.7 108.8 586.9 106.8 586.7 104.8 587.0 102.4 587.9 100.0 592.4 93.6 593.5 91.2 594.6 78.8 595.4 74.8 596.6 70.8 601.7 59.6 602.9 58.4 604.1 58.2 612.9 59.8 614.1 60.3 614.5 61.0 614.4 62.4 612.4 68.4 611.6 72.0 610.7 81.6 610.9 92.4 613.0 100.4 613.4 103.6 612.4 106.8 610.1 109.8 606.5 112.3 602.5 113.6Z" fill="#00eaff"/><path d="M600.5 113.2 597.7 113.2 595.3 112.9 592.9 112.1 590.9 111.0 589.3 109.6 588.2 108.0 587.6 106.0 587.6 104.0 588.1 101.6 589.1 99.6 593.6 94.0 594.8 91.6 595.8 79.6 596.6 75.6 597.9 72.0 603.7 61.7 604.5 61.1 605.7 60.9 610.1 62.0 610.7 62.4 611.1 63.2 609.8 69.2 609.3 73.2 609.0 90.4 609.5 94.0 611.9 100.8 612.2 104.0 611.1 107.2 608.5 110.1 604.9 112.2 600.5 113.2Z" fill="#00f3bb"/><path d="M601.7 112.4 599.3 112.7 596.5 112.4 594.1 111.8 591.7 110.6 590.0 109.2 588.9 107.6 588.4 106.0 588.3 104.0 588.9 101.6 589.9 99.6 594.6 94.4 596.0 92.0 596.4 90.0 596.9 80.4 597.7 76.8 598.9 73.7 600.5 70.9 605.5 64.8 606.1 64.2 606.9 64.1 607.7 64.7 607.9 65.6 607.4 72.4 607.6 92.0 608.3 94.8 610.8 100.4 611.3 104.0 610.3 106.8 608.1 109.4 605.3 111.3 601.7 112.4Z" fill="#00fa75"/><path d="M600.5 112.0 596.1 111.8 593.7 111.0 591.9 110.0 590.5 108.8 589.5 107.2 589.1 105.6 589.0 104.0 589.6 101.6 590.7 99.6 595.9 94.4 597.3 92.4 597.8 90.4 598.0 82.0 598.9 77.9 599.9 75.6 601.3 73.6 602.9 72.1 604.5 71.4 604.9 71.6 605.5 72.8 606.0 77.2 606.3 92.4 607.0 94.8 609.8 100.4 610.4 102.4 610.4 104.0 609.4 106.8 607.3 109.2 604.1 111.1 600.5 112.0Z" fill="#00f03e"/><path d="M601.7 111.3 597.3 111.4 594.9 110.8 593.0 110.0 591.4 108.8 590.5 107.6 589.8 106.0 589.7 104.4 590.2 102.0 591.6 99.6 597.3 94.4 598.9 92.4 599.4 90.4 599.3 84.4 599.8 80.8 601.3 77.5 602.5 76.4 603.3 76.2 604.2 77.2 604.8 80.0 604.9 92.4 605.8 94.8 609.0 100.4 609.6 103.6 608.9 106.0 607.2 108.4 604.5 110.3 601.7 111.3Z" fill="#00e707"/><path d="M602.5 87.2 602.1 86.9 601.8 85.2 602.1 83.6 602.5 83.1 602.9 83.8 603.0 85.2 602.5 87.2ZM600.9 110.9 598.5 111.0 596.5 110.7 592.9 109.2 591.5 108.0 590.8 106.8 590.4 104.0 591.2 101.2 593.1 98.8 601.7 92.2 602.5 92.0 607.8 99.6 608.6 101.6 608.8 103.6 608.1 106.0 606.3 108.4 603.8 110.0 600.9 110.9Z" fill="#2ce900"/><path d="M600.1 110.4 596.5 110.2 593.3 108.8 591.5 106.8 591.0 104.0 591.9 101.2 594.1 98.7 598.5 95.9 600.5 95.0 602.1 94.7 603.7 95.6 606.7 99.2 607.9 101.6 608.0 104.0 607.1 106.4 605.3 108.4 602.9 109.8 600.1 110.4Z" fill="#5fec00"/><path d="M601.7 109.6 598.1 109.9 594.5 108.9 593.2 108.0 592.2 106.8 591.6 104.4 592.4 101.6 594.5 99.2 598.1 97.0 601.7 96.0 603.3 96.5 605.6 98.8 607.0 101.2 607.4 103.2 607.0 105.2 605.7 107.2 604.1 108.6 601.7 109.6Z" fill="#92ef00"/><path d="M600.9 109.3 597.7 109.4 594.5 108.2 592.7 106.4 592.3 104.0 593.1 101.6 595.3 99.3 598.5 97.6 601.7 97.0 603.3 97.6 605.3 99.6 606.4 101.6 606.7 103.6 606.1 105.6 604.9 107.2 603.3 108.4 600.9 109.3Z" fill="#c4f000"/><path d="M600.5 108.8 597.7 108.8 594.9 107.8 593.3 106.2 592.9 104.0 593.8 101.6 595.8 99.6 598.9 98.1 601.7 97.9 603.3 98.5 604.8 100.0 605.7 101.7 605.9 103.6 605.5 105.2 604.5 106.8 602.9 108.0 600.5 108.8Z" fill="#f5f000"/><path d="M599.3 108.4 596.6 108.0 594.6 106.8 593.6 105.2 593.7 103.2 594.9 101.2 596.9 99.6 599.7 98.7 602.1 98.7 603.5 99.6 604.7 101.2 605.2 102.8 605.1 104.4 604.3 106.0 603.1 107.2 601.3 108.1 599.3 108.4Z" fill="#ffc800"/><path d="M600.5 107.7 598.1 107.8 596.1 107.1 594.8 106.0 594.2 104.4 594.8 102.4 596.1 100.9 598.1 99.8 600.5 99.3 602.1 99.6 603.3 100.4 604.1 101.6 604.5 103.2 604.2 104.8 603.5 106.0 602.1 107.1 600.5 107.7Z" fill="#ff9700"/><path d="M599.7 107.2 597.7 107.1 596.2 106.4 595.2 105.2 595.0 104.0 595.6 102.4 596.9 101.1 598.9 100.2 600.9 100.0 602.1 100.5 602.9 101.2 603.5 102.4 603.6 104.0 602.5 106.0 601.3 106.8 599.7 107.2Z" fill="#ff6300"/><path d="M600.1 106.4 598.5 106.5 596.9 106.0 596.1 105.2 595.8 104.0 596.3 102.8 597.3 101.7 598.5 101.1 600.1 100.8 601.3 101.0 602.1 101.6 602.6 102.4 602.8 103.6 602.1 105.3 600.1 106.4Z" fill="#ff2c00"/><path d="M599.7 105.6 597.7 105.3 597.1 104.8 596.9 104.0 597.8 102.4 598.9 101.8 600.1 101.7 601.3 102.3 601.7 103.6 601.2 104.8 599.7 105.6Z" fill="#ff0000"/></g>
<rect x="561.20" y="-0.70" width="135.80" height="136.20" fill="none" stroke="#7a7a7a" stroke-width="1.1"/>
<line x1="616.50" y1="-0.70" x2="616.50" y2="135.50" stroke="#111" stroke-width="1.3" stroke-linecap="butt"/>
<line x1="561.20" y1="97.30" x2="697.00" y2="97.30" stroke="#111" stroke-width="1.3" stroke-linecap="butt"/>
<text x="564.0" y="15.7" font-size="9.6" fill="#111" transform="translate(564.0 15.7) scale(1 1.04) translate(-564.0 -15.7)" stroke="#111" stroke-width="0.3">45.1</text>
<text x="564.0" y="126.2" font-size="9.6" fill="#111" transform="translate(564.0 126.2) scale(1 1.04) translate(-564.0 -126.2)" stroke="#111" stroke-width="0.3">51.1</text>
<text x="684.8" y="15.7" font-size="9.6" text-anchor="end" fill="#111" transform="translate(684.8 15.7) scale(1 1.04) translate(-684.8 -15.7)" stroke="#111" stroke-width="0.3">3.27</text>
<text x="684.8" y="126.2" font-size="9.6" text-anchor="end" fill="#111" transform="translate(684.8 126.2) scale(1 1.04) translate(-684.8 -126.2)" stroke="#111" stroke-width="0.3">0.53</text>
<line x1="557.40" y1="11.50" x2="561.20" y2="11.50" stroke="#222" stroke-width="1.0" stroke-linecap="butt"/>
<text x="552.7" y="13.7" font-size="5.6" text-anchor="middle" fill="#333">10<tspan font-size="4.5" dy="-2">5</tspan></text>
<line x1="557.40" y1="40.00" x2="561.20" y2="40.00" stroke="#222" stroke-width="1.0" stroke-linecap="butt"/>
<text x="552.7" y="42.2" font-size="5.6" text-anchor="middle" fill="#333">10<tspan font-size="4.5" dy="-2">4</tspan></text>
<line x1="557.40" y1="67.80" x2="561.20" y2="67.80" stroke="#222" stroke-width="1.0" stroke-linecap="butt"/>
<text x="552.7" y="70.0" font-size="5.6" text-anchor="middle" fill="#333">10<tspan font-size="4.5" dy="-2">3</tspan></text>
<line x1="557.40" y1="96.90" x2="561.20" y2="96.90" stroke="#222" stroke-width="1.0" stroke-linecap="butt"/>
<text x="552.7" y="99.1" font-size="5.6" text-anchor="middle" fill="#333">10<tspan font-size="4.5" dy="-2">2</tspan></text>
<line x1="557.40" y1="109.80" x2="561.20" y2="109.80" stroke="#222" stroke-width="1.0" stroke-linecap="butt"/>
<text x="554.7" y="112.0" font-size="5.6" text-anchor="end" fill="#333" transform="translate(554.7 112.0) scale(1 1.04) translate(-554.7 -112.0)">0</text>
<line x1="557.40" y1="125.30" x2="561.20" y2="125.30" stroke="#222" stroke-width="1.0" stroke-linecap="butt"/>
<text x="552.7" y="127.5" font-size="5.6" text-anchor="middle" fill="#333">-10<tspan font-size="4.5" dy="-2">2</tspan></text>
<line x1="559.50" y1="31.42" x2="561.20" y2="31.42" stroke="#222" stroke-width="0.8" stroke-linecap="butt"/>
<line x1="559.50" y1="26.40" x2="561.20" y2="26.40" stroke="#222" stroke-width="0.8" stroke-linecap="butt"/>
<line x1="559.50" y1="22.84" x2="561.20" y2="22.84" stroke="#222" stroke-width="0.8" stroke-linecap="butt"/>
<line x1="559.50" y1="20.08" x2="561.20" y2="20.08" stroke="#222" stroke-width="0.8" stroke-linecap="butt"/>
<line x1="559.50" y1="17.82" x2="561.20" y2="17.82" stroke="#222" stroke-width="0.8" stroke-linecap="butt"/>
<line x1="559.50" y1="15.91" x2="561.20" y2="15.91" stroke="#222" stroke-width="0.8" stroke-linecap="butt"/>
<line x1="559.50" y1="14.26" x2="561.20" y2="14.26" stroke="#222" stroke-width="0.8" stroke-linecap="butt"/>
<line x1="559.50" y1="12.80" x2="561.20" y2="12.80" stroke="#222" stroke-width="0.8" stroke-linecap="butt"/>
<line x1="559.50" y1="59.43" x2="561.20" y2="59.43" stroke="#222" stroke-width="0.8" stroke-linecap="butt"/>
<line x1="559.50" y1="54.54" x2="561.20" y2="54.54" stroke="#222" stroke-width="0.8" stroke-linecap="butt"/>
<line x1="559.50" y1="51.06" x2="561.20" y2="51.06" stroke="#222" stroke-width="0.8" stroke-linecap="butt"/>
<line x1="559.50" y1="48.37" x2="561.20" y2="48.37" stroke="#222" stroke-width="0.8" stroke-linecap="butt"/>
<line x1="559.50" y1="46.17" x2="561.20" y2="46.17" stroke="#222" stroke-width="0.8" stroke-linecap="butt"/>
<line x1="559.50" y1="44.31" x2="561.20" y2="44.31" stroke="#222" stroke-width="0.8" stroke-linecap="butt"/>
<line x1="559.50" y1="42.69" x2="561.20" y2="42.69" stroke="#222" stroke-width="0.8" stroke-linecap="butt"/>
<line x1="559.50" y1="41.27" x2="561.20" y2="41.27" stroke="#222" stroke-width="0.8" stroke-linecap="butt"/>
<line x1="559.50" y1="88.14" x2="561.20" y2="88.14" stroke="#222" stroke-width="0.8" stroke-linecap="butt"/>
<line x1="559.50" y1="83.02" x2="561.20" y2="83.02" stroke="#222" stroke-width="0.8" stroke-linecap="butt"/>
<line x1="559.50" y1="79.38" x2="561.20" y2="79.38" stroke="#222" stroke-width="0.8" stroke-linecap="butt"/>
<line x1="559.50" y1="76.56" x2="561.20" y2="76.56" stroke="#222" stroke-width="0.8" stroke-linecap="butt"/>
<line x1="559.50" y1="74.26" x2="561.20" y2="74.26" stroke="#222" stroke-width="0.8" stroke-linecap="butt"/>
<line x1="559.50" y1="72.31" x2="561.20" y2="72.31" stroke="#222" stroke-width="0.8" stroke-linecap="butt"/>
<line x1="559.50" y1="70.62" x2="561.20" y2="70.62" stroke="#222" stroke-width="0.8" stroke-linecap="butt"/>
<line x1="559.50" y1="69.13" x2="561.20" y2="69.13" stroke="#222" stroke-width="0.8" stroke-linecap="butt"/>
<line x1="559.50" y1="2.92" x2="561.20" y2="2.92" stroke="#222" stroke-width="0.8" stroke-linecap="butt"/>
<line x1="559.00" y1="97.40" x2="561.20" y2="97.40" stroke="#222" stroke-width="0.9" stroke-linecap="butt"/>
<line x1="559.00" y1="100.50" x2="561.20" y2="100.50" stroke="#222" stroke-width="0.9" stroke-linecap="butt"/>
<line x1="559.00" y1="103.60" x2="561.20" y2="103.60" stroke="#222" stroke-width="0.9" stroke-linecap="butt"/>
<line x1="559.00" y1="106.70" x2="561.20" y2="106.70" stroke="#222" stroke-width="0.9" stroke-linecap="butt"/>
<line x1="559.00" y1="112.90" x2="561.20" y2="112.90" stroke="#222" stroke-width="0.9" stroke-linecap="butt"/>
<line x1="559.00" y1="116.00" x2="561.20" y2="116.00" stroke="#222" stroke-width="0.9" stroke-linecap="butt"/>
<line x1="559.00" y1="119.10" x2="561.20" y2="119.10" stroke="#222" stroke-width="0.9" stroke-linecap="butt"/>
<line x1="559.00" y1="122.20" x2="561.20" y2="122.20" stroke="#222" stroke-width="0.9" stroke-linecap="butt"/>
<line x1="559.00" y1="125.30" x2="561.20" y2="125.30" stroke="#222" stroke-width="0.9" stroke-linecap="butt"/>
<line x1="559.00" y1="128.40" x2="561.20" y2="128.40" stroke="#222" stroke-width="0.9" stroke-linecap="butt"/>
<line x1="558.00" y1="106.00" x2="561.20" y2="106.00" stroke="#111" stroke-width="1.0" stroke-linecap="butt"/>
<line x1="558.00" y1="107.90" x2="561.20" y2="107.90" stroke="#111" stroke-width="1.0" stroke-linecap="butt"/>
<line x1="558.00" y1="109.80" x2="561.20" y2="109.80" stroke="#111" stroke-width="1.0" stroke-linecap="butt"/>
<line x1="558.00" y1="111.70" x2="561.20" y2="111.70" stroke="#111" stroke-width="1.0" stroke-linecap="butt"/>
<line x1="558.00" y1="113.60" x2="561.20" y2="113.60" stroke="#111" stroke-width="1.0" stroke-linecap="butt"/>
<rect x="559.6" y="105.6" width="1.6" height="8.4" fill="#111"/>
<line x1="573.01" y1="135.50" x2="573.01" y2="139.30" stroke="#222" stroke-width="1.0" stroke-linecap="butt"/>
<text x="574.5" y="147.0" font-size="5.6" text-anchor="middle" fill="#333">-10<tspan font-size="4.5" dy="-2">3</tspan></text>
<line x1="593.93" y1="135.50" x2="593.93" y2="139.30" stroke="#222" stroke-width="1.0" stroke-linecap="butt"/>
<text x="593.9" y="147.0" font-size="5.6" text-anchor="middle" fill="#333" transform="translate(593.9 147.0) scale(1 1.04) translate(-593.9 -147.0)">0</text>
<line x1="617.69" y1="135.50" x2="617.69" y2="139.30" stroke="#222" stroke-width="1.0" stroke-linecap="butt"/>
<text x="619.2" y="147.0" font-size="5.6" text-anchor="middle" fill="#333">10<tspan font-size="4.5" dy="-2">3</tspan></text>
<line x1="654.36" y1="135.50" x2="654.36" y2="139.30" stroke="#222" stroke-width="1.0" stroke-linecap="butt"/>
<text x="655.9" y="147.0" font-size="5.6" text-anchor="middle" fill="#333">10<tspan font-size="4.5" dy="-2">4</tspan></text>
<line x1="686.27" y1="135.50" x2="686.27" y2="139.30" stroke="#222" stroke-width="1.0" stroke-linecap="butt"/>
<text x="687.8" y="147.0" font-size="5.6" text-anchor="middle" fill="#333">10<tspan font-size="4.5" dy="-2">5</tspan></text>
<line x1="628.73" y1="135.50" x2="628.73" y2="137.30" stroke="#222" stroke-width="0.8" stroke-linecap="butt"/>
<line x1="635.19" y1="135.50" x2="635.19" y2="137.30" stroke="#222" stroke-width="0.8" stroke-linecap="butt"/>
<line x1="639.77" y1="135.50" x2="639.77" y2="137.30" stroke="#222" stroke-width="0.8" stroke-linecap="butt"/>
<line x1="643.32" y1="135.50" x2="643.32" y2="137.30" stroke="#222" stroke-width="0.8" stroke-linecap="butt"/>
<line x1="646.22" y1="135.50" x2="646.22" y2="137.30" stroke="#222" stroke-width="0.8" stroke-linecap="butt"/>
<line x1="648.68" y1="135.50" x2="648.68" y2="137.30" stroke="#222" stroke-width="0.8" stroke-linecap="butt"/>
<line x1="650.81" y1="135.50" x2="650.81" y2="137.30" stroke="#222" stroke-width="0.8" stroke-linecap="butt"/>
<line x1="652.68" y1="135.50" x2="652.68" y2="137.30" stroke="#222" stroke-width="0.8" stroke-linecap="butt"/>
<line x1="663.97" y1="135.50" x2="663.97" y2="137.30" stroke="#222" stroke-width="0.8" stroke-linecap="butt"/>
<line x1="669.59" y1="135.50" x2="669.59" y2="137.30" stroke="#222" stroke-width="0.8" stroke-linecap="butt"/>
<line x1="673.57" y1="135.50" x2="673.57" y2="137.30" stroke="#222" stroke-width="0.8" stroke-linecap="butt"/>
<line x1="676.67" y1="135.50" x2="676.67" y2="137.30" stroke="#222" stroke-width="0.8" stroke-linecap="butt"/>
<line x1="679.19" y1="135.50" x2="679.19" y2="137.30" stroke="#222" stroke-width="0.8" stroke-linecap="butt"/>
<line x1="681.33" y1="135.50" x2="681.33" y2="137.30" stroke="#222" stroke-width="0.8" stroke-linecap="butt"/>
<line x1="683.18" y1="135.50" x2="683.18" y2="137.30" stroke="#222" stroke-width="0.8" stroke-linecap="butt"/>
<line x1="684.81" y1="135.50" x2="684.81" y2="137.30" stroke="#222" stroke-width="0.8" stroke-linecap="butt"/>
<line x1="695.88" y1="135.50" x2="695.88" y2="137.30" stroke="#222" stroke-width="0.8" stroke-linecap="butt"/>
<line x1="573.01" y1="135.50" x2="573.01" y2="137.70" stroke="#222" stroke-width="0.9" stroke-linecap="butt"/>
<line x1="577.20" y1="135.50" x2="577.20" y2="137.70" stroke="#222" stroke-width="0.9" stroke-linecap="butt"/>
<line x1="581.38" y1="135.50" x2="581.38" y2="137.70" stroke="#222" stroke-width="0.9" stroke-linecap="butt"/>
<line x1="585.56" y1="135.50" x2="585.56" y2="137.70" stroke="#222" stroke-width="0.9" stroke-linecap="butt"/>
<line x1="589.75" y1="135.50" x2="589.75" y2="137.70" stroke="#222" stroke-width="0.9" stroke-linecap="butt"/>
<line x1="593.93" y1="135.50" x2="593.93" y2="137.70" stroke="#222" stroke-width="0.9" stroke-linecap="butt"/>
<line x1="598.11" y1="135.50" x2="598.11" y2="137.70" stroke="#222" stroke-width="0.9" stroke-linecap="butt"/>
<line x1="602.29" y1="135.50" x2="602.29" y2="137.70" stroke="#222" stroke-width="0.9" stroke-linecap="butt"/>
<line x1="606.48" y1="135.50" x2="606.48" y2="137.70" stroke="#222" stroke-width="0.9" stroke-linecap="butt"/>
<line x1="610.66" y1="135.50" x2="610.66" y2="137.70" stroke="#222" stroke-width="0.9" stroke-linecap="butt"/>
<line x1="614.84" y1="135.50" x2="614.84" y2="137.70" stroke="#222" stroke-width="0.9" stroke-linecap="butt"/>
<line x1="590.13" y1="135.50" x2="590.13" y2="138.70" stroke="#111" stroke-width="1.0" stroke-linecap="butt"/>
<line x1="592.03" y1="135.50" x2="592.03" y2="138.70" stroke="#111" stroke-width="1.0" stroke-linecap="butt"/>
<line x1="593.93" y1="135.50" x2="593.93" y2="138.70" stroke="#111" stroke-width="1.0" stroke-linecap="butt"/>
<line x1="595.83" y1="135.50" x2="595.83" y2="138.70" stroke="#111" stroke-width="1.0" stroke-linecap="butt"/>
<line x1="597.73" y1="135.50" x2="597.73" y2="138.70" stroke="#111" stroke-width="1.0" stroke-linecap="butt"/>
<rect x="589.7" y="135.5" width="8.4" height="1.6" fill="#111"/>
<defs><clipPath id="fc0"><rect x="157.2" y="216.4" width="135.80" height="135.80"/></clipPath><clipPath id="fc1"><rect x="351.7" y="216.4" width="136.10" height="135.80"/></clipPath><clipPath id="fc2"><rect x="514.0" y="216.4" width="136.50" height="135.80"/></clipPath><clipPath id="fc3"><rect x="678.0" y="216.4" width="135.90" height="135.80"/></clipPath><clipPath id="fc4"><rect x="157.2" y="371.5" width="135.80" height="135.70"/></clipPath><clipPath id="fc5"><rect x="351.7" y="371.5" width="136.10" height="135.70"/></clipPath><clipPath id="fc6"><rect x="514.0" y="371.5" width="136.50" height="135.70"/></clipPath><clipPath id="fc7"><rect x="678.0" y="371.5" width="135.90" height="135.70"/></clipPath><clipPath id="fc8"><rect x="157.2" y="526.7" width="135.80" height="135.30"/></clipPath><clipPath id="fc9"><rect x="351.7" y="526.7" width="136.10" height="135.30"/></clipPath><clipPath id="fc10"><rect x="514.0" y="526.7" width="136.50" height="135.30"/></clipPath><clipPath id="fc11"><rect x="678.0" y="526.7" width="135.90" height="135.30"/></clipPath><clipPath id="fc100"><rect x="311.4" y="-0.7" width="135.90" height="136.10"/></clipPath><clipPath id="fc101"><rect x="561.2" y="-0.7" width="135.80" height="136.20"/></clipPath></defs>
<line x1="286.30" y1="9.50" x2="286.30" y2="91.60" stroke="#000" stroke-width="1.2" stroke-linecap="butt"/>
<path d="M286.3 0.5 L284.1 10.5 L288.5 10.5 Z" fill="#000"/>
<text x="293.3" y="117.1" font-size="19.2" text-anchor="middle" fill="#000" transform="rotate(-90 293.3 117.1) translate(293.3 117.1) scale(1 1.04) translate(-293.3 -117.1)" stroke="#000" stroke-width="0.5">CD8</text>
<text x="307.0" y="161.5" font-size="19.0" fill="#000" transform="translate(307.0 161.5) scale(1 1.04) translate(-307.0 -161.5)" stroke="#000" stroke-width="0.5">CD4</text>
<line x1="346.60" y1="154.80" x2="437.80" y2="154.80" stroke="#000" stroke-width="1.2" stroke-linecap="butt"/>
<path d="M446.8 154.8 L436.8 152.6 L436.8 157.0 Z" fill="#000"/>
<line x1="536.40" y1="10.00" x2="536.40" y2="79.30" stroke="#000" stroke-width="1.2" stroke-linecap="butt"/>
<path d="M536.4 1.0 L534.2 11.0 L538.6 11.0 Z" fill="#000"/>
<text x="543.4" y="111.0" font-size="19.2" text-anchor="middle" fill="#000" transform="rotate(-90 543.4 111.0) translate(543.4 111.0) scale(1 1.04) translate(-543.4 -111.0)" stroke="#000" stroke-width="0.5">CD25</text>
<text x="557.2" y="161.8" font-size="20" fill="#000" transform="translate(557.2 161.8) scale(1 1.04) translate(-557.2 -161.8)" stroke="#000" stroke-width="0.5">FoxP3</text>
<line x1="615.70" y1="154.50" x2="687.50" y2="154.50" stroke="#000" stroke-width="1.2" stroke-linecap="butt"/>
<path d="M696.5 154.5 L686.5 152.3 L686.5 156.7 Z" fill="#000"/>
<line x1="426.40" y1="103.60" x2="500.00" y2="103.60" stroke="#f651dc" stroke-width="2.2" stroke-linecap="butt"/>
<path d="M524 103.7 L498.7 97.4 L498.7 110 Z" fill="#f651dc"/>
<line x1="632.00" y1="97.30" x2="632.00" y2="174.00" stroke="#f651dc" stroke-width="2.2" stroke-linecap="butt"/>
<path d="M632 198.6 L626 172 L638 172 Z" fill="#f651dc"/>
<line x1="129.00" y1="200.40" x2="814.20" y2="200.40" stroke="#000" stroke-width="2.6" stroke-linecap="butt"/>
<line x1="131.60" y1="240.00" x2="131.60" y2="625.30" stroke="#777" stroke-width="1.3" stroke-linecap="butt"/>
<path d="M131.6 216.5 L129.7 262 L133.5 262 Z" fill="#000"/>
<text x="138.6" y="646.7" font-size="19.5" text-anchor="middle" fill="#000" transform="rotate(-90 138.6 646.7) translate(138.6 646.7) scale(1 1.04) translate(-138.6 -646.7)" stroke="#000" stroke-width="0.5">SSC</text>
<line x1="331.20" y1="240.00" x2="331.20" y2="606.80" stroke="#777" stroke-width="1.3" stroke-linecap="butt"/>
<path d="M331.2 216.5 L329.3 262 L333.1 262 Z" fill="#000"/>
<text x="338.2" y="637.5" font-size="19.5" text-anchor="middle" fill="#000" transform="rotate(-90 338.2 637.5) translate(338.2 637.5) scale(1 1.04) translate(-338.2 -637.5)" stroke="#000" stroke-width="0.5">VISTA</text>
<text x="153.3" y="691.5" font-size="19.8" fill="#000" transform="translate(153.3 691.5) scale(1 1.04) translate(-153.3 -691.5)" stroke="#000" stroke-width="0.5">VISTA</text>
<line x1="211.50" y1="684.50" x2="283.80" y2="684.50" stroke="#000" stroke-width="1.2" stroke-linecap="butt"/>
<path d="M292.8 684.5 L282.8 682.3 L282.8 686.7 Z" fill="#000"/>
<text x="348.8" y="690.8" font-size="18.6" fill="#000" transform="translate(348.8 690.8) scale(1 1.04) translate(-348.8 -690.8)" stroke="#000" stroke-width="0.5">PD-1</text>
<line x1="393.80" y1="684.70" x2="478.50" y2="684.70" stroke="#000" stroke-width="1.2" stroke-linecap="butt"/>
<path d="M487.5 684.7 L477.5 682.5 L477.5 686.9 Z" fill="#000"/>
<text x="510.8" y="690.8" font-size="19.4" fill="#000" transform="translate(510.8 690.8) scale(1 1.04) translate(-510.8 -690.8)" stroke="#000" stroke-width="0.5">Tim-3</text>
<line x1="563.50" y1="684.50" x2="641.50" y2="684.50" stroke="#000" stroke-width="1.2" stroke-linecap="butt"/>
<path d="M650.5 684.5 L640.5 682.3 L640.5 686.7 Z" fill="#000"/>
<text x="676.4" y="690.8" font-size="19.2" fill="#000" transform="translate(676.4 690.8) scale(1 1.04) translate(-676.4 -690.8)" stroke="#000" stroke-width="0.5">TIGIT</text>
<line x1="729.00" y1="684.50" x2="805.00" y2="684.50" stroke="#000" stroke-width="1.2" stroke-linecap="butt"/>
<path d="M814.0 684.5 L804.0 682.3 L804.0 686.7 Z" fill="#000"/>
<text x="831.9" y="275.9" font-size="27.2" fill="#000" transform="translate(831.9 275.9) scale(1 1.04) translate(-831.9 -275.9)" stroke="#000" stroke-width="0.45">Isotype</text>
<text x="831.9" y="454.5" font-size="27.2" fill="#000" transform="translate(831.9 454.5) scale(1 1.04) translate(-831.9 -454.5)" stroke="#000" stroke-width="0.45">MM PB</text>
<text x="829.9" y="613.0" font-size="27.2" fill="#000" transform="translate(829.9 613.0) scale(1 1.04) translate(-829.9 -613.0)" stroke="#000" stroke-width="0.45">MM BM</text>
<rect x="376.80" y="83.70" width="49.60" height="31.20" fill="none" stroke="#000" stroke-width="2.0"/>
<rect x="616.80" y="40.40" width="30.70" height="56.90" fill="none" stroke="#000" stroke-width="2.0"/>
<circle cx="1144.2" cy="277.6" r="2.9" fill="#10be72"/>
<circle cx="1149.4" cy="276.2" r="2.9" fill="#10be72"/>
<circle cx="1146.1" cy="285.7" r="2.9" fill="#10be72"/>
<circle cx="1157.5" cy="280.9" r="2.9" fill="#10be72"/>
<circle cx="1158.7" cy="289.5" r="2.9" fill="#10be72"/>
<circle cx="1174.1" cy="279.0" r="2.9" fill="#10be72"/>
<circle cx="1170.8" cy="280.9" r="2.9" fill="#10be72"/>
<circle cx="1168.9" cy="284.7" r="2.9" fill="#10be72"/>
<circle cx="1176.5" cy="286.1" r="2.9" fill="#10be72"/>
<circle cx="1179.3" cy="286.6" r="2.9" fill="#10be72"/>
<circle cx="1182.0" cy="288.0" r="2.9" fill="#10be72"/>
<circle cx="1184.5" cy="281.2" r="2.9" fill="#10be72"/>
<circle cx="1190.7" cy="288.0" r="2.9" fill="#10be72"/>
<circle cx="1192.6" cy="284.2" r="2.9" fill="#10be72"/>
<circle cx="1194.5" cy="289.0" r="2.9" fill="#10be72"/>
<circle cx="1200.4" cy="287.1" r="2.9" fill="#10be72"/>
<circle cx="1205.9" cy="280.3" r="2.9" fill="#10be72"/>
<circle cx="1207.8" cy="285.2" r="2.9" fill="#10be72"/>
<circle cx="1209.7" cy="289.5" r="2.9" fill="#10be72"/>
<circle cx="1214.7" cy="288.5" r="2.9" fill="#10be72"/>
<circle cx="1232.7" cy="290.4" r="2.9" fill="#10be72"/>
<circle cx="1238.1" cy="286.1" r="2.9" fill="#10be72"/>
<circle cx="1242.4" cy="281.2" r="2.9" fill="#10be72"/>
<circle cx="1241.5" cy="289.5" r="2.9" fill="#10be72"/>
<circle cx="1245.7" cy="288.5" r="2.9" fill="#10be72"/>
<circle cx="1257.1" cy="275.7" r="2.9" fill="#10be72"/>
<circle cx="1259.5" cy="282.8" r="2.9" fill="#10be72"/>
<circle cx="1269.4" cy="279.5" r="2.9" fill="#10be72"/>
<circle cx="1271.0" cy="279.5" r="2.9" fill="#10be72"/>
<circle cx="1283.4" cy="280.0" r="2.9" fill="#10be72"/>
<circle cx="1283.4" cy="282.6" r="2.9" fill="#10be72"/>
<circle cx="1311.8" cy="286.1" r="2.9" fill="#10be72"/>
<circle cx="1320.5" cy="278.2" r="2.9" fill="#10be72"/>
<circle cx="1381.4" cy="287.2" r="2.9" fill="#10be72"/>
<circle cx="1158.7" cy="258.6" r="2.9" fill="#f24444"/>
<circle cx="1174.6" cy="257.5" r="2.9" fill="#f24444"/>
<circle cx="1181.7" cy="256.3" r="2.9" fill="#f24444"/>
<circle cx="1190.2" cy="250.9" r="2.9" fill="#f24444"/>
<circle cx="1237.7" cy="256.0" r="2.9" fill="#f24444"/>
<circle cx="1176.5" cy="264.8" r="2.9" fill="#f24444"/>
<circle cx="1205.9" cy="264.1" r="2.9" fill="#f24444"/>
<circle cx="1232.7" cy="263.8" r="2.9" fill="#f24444"/>
<circle cx="1184.5" cy="267.6" r="2.9" fill="#f24444"/>
<circle cx="1194.3" cy="267.5" r="2.9" fill="#f24444"/>
<circle cx="1172.2" cy="269.5" r="2.9" fill="#f24444"/>
<circle cx="1178.4" cy="271.0" r="2.9" fill="#f24444"/>
<circle cx="1194.0" cy="271.0" r="2.9" fill="#f24444"/>
<circle cx="1207.3" cy="269.5" r="2.9" fill="#f24444"/>
<circle cx="1214.7" cy="269.5" r="2.9" fill="#f24444"/>
<circle cx="1244.8" cy="268.3" r="2.9" fill="#f24444"/>
<circle cx="1241.9" cy="270.5" r="2.9" fill="#f24444"/>
<circle cx="1157.5" cy="272.4" r="2.9" fill="#f24444"/>
<circle cx="1144.2" cy="274.8" r="2.9" fill="#f24444"/>
<circle cx="1148.0" cy="274.3" r="2.9" fill="#f24444"/>
<circle cx="1146.1" cy="276.7" r="2.9" fill="#f24444"/>
<circle cx="1168.9" cy="273.8" r="2.9" fill="#f24444"/>
<circle cx="1172.2" cy="273.3" r="2.9" fill="#f24444"/>
<circle cx="1200.4" cy="273.3" r="2.9" fill="#f24444"/>
<circle cx="1238.1" cy="273.8" r="2.9" fill="#f24444"/>
<circle cx="1242.9" cy="273.8" r="2.9" fill="#f24444"/>
<circle cx="1257.6" cy="269.1" r="2.9" fill="#f24444"/>
<circle cx="1259.5" cy="274.0" r="2.9" fill="#f24444"/>
<circle cx="1269.4" cy="271.9" r="2.9" fill="#f24444"/>
<circle cx="1192.6" cy="278.4" r="2.9" fill="#f24444"/>
<circle cx="1209.5" cy="276.5" r="2.9" fill="#f24444"/>
<circle cx="1320.5" cy="238.2" r="2.9" fill="#f24444"/>
<circle cx="1311.8" cy="250.1" r="2.9" fill="#f24444"/>
<circle cx="1283.4" cy="259.2" r="2.9" fill="#f24444"/>
<circle cx="1271.0" cy="272.2" r="2.9" fill="#f24444"/>
<circle cx="1381.4" cy="266.8" r="2.9" fill="#f24444"/>
<circle cx="1209.5" cy="140.4" r="2.9" fill="#bebe00"/>
<circle cx="1232.9" cy="134.0" r="2.9" fill="#bebe00"/>
<circle cx="1245.2" cy="142.8" r="2.9" fill="#bebe00"/>
<circle cx="1237.7" cy="154.6" r="2.9" fill="#bebe00"/>
<circle cx="1238.6" cy="167.0" r="2.9" fill="#bebe00"/>
<circle cx="1181.7" cy="168.4" r="2.9" fill="#bebe00"/>
<circle cx="1174.6" cy="184.2" r="2.9" fill="#bebe00"/>
<circle cx="1194.3" cy="181.0" r="2.9" fill="#bebe00"/>
<circle cx="1189.9" cy="185.3" r="2.9" fill="#bebe00"/>
<circle cx="1205.6" cy="179.6" r="2.9" fill="#bebe00"/>
<circle cx="1214.7" cy="180.9" r="2.9" fill="#bebe00"/>
<circle cx="1178.2" cy="192.6" r="2.9" fill="#bebe00"/>
<circle cx="1200.4" cy="192.1" r="2.9" fill="#bebe00"/>
<circle cx="1207.5" cy="190.2" r="2.9" fill="#bebe00"/>
<circle cx="1158.5" cy="201.4" r="2.9" fill="#bebe00"/>
<circle cx="1194.0" cy="201.6" r="2.9" fill="#bebe00"/>
<circle cx="1242.4" cy="191.8" r="2.9" fill="#bebe00"/>
<circle cx="1257.6" cy="185.0" r="2.9" fill="#bebe00"/>
<circle cx="1271.0" cy="184.2" r="2.9" fill="#bebe00"/>
<circle cx="1241.5" cy="205.8" r="2.9" fill="#bebe00"/>
<circle cx="1259.5" cy="211.1" r="2.9" fill="#bebe00"/>
<circle cx="1148.5" cy="210.9" r="2.9" fill="#bebe00"/>
<circle cx="1168.9" cy="213.7" r="2.9" fill="#bebe00"/>
<circle cx="1172.7" cy="211.1" r="2.9" fill="#bebe00"/>
<circle cx="1176.3" cy="213.0" r="2.9" fill="#bebe00"/>
<circle cx="1184.3" cy="216.0" r="2.9" fill="#bebe00"/>
<circle cx="1192.4" cy="211.8" r="2.9" fill="#bebe00"/>
<circle cx="1144.2" cy="222.9" r="2.9" fill="#bebe00"/>
<circle cx="1157.3" cy="222.9" r="2.9" fill="#bebe00"/>
<circle cx="1283.4" cy="160.1" r="2.9" fill="#bebe00"/>
<circle cx="1311.8" cy="169.0" r="2.9" fill="#bebe00"/>
<circle cx="1381.4" cy="166.5" r="2.9" fill="#bebe00"/>
<circle cx="1283.4" cy="187.1" r="2.9" fill="#bebe00"/>
<circle cx="1146.1" cy="256.7" r="2.9" fill="#bebe00"/>
<circle cx="1320.5" cy="229.5" r="2.9" fill="#bebe00"/>
<line x1="1144.20" y1="270.50" x2="1381.40" y2="256.50" stroke="#f24444" stroke-width="2.6" stroke-linecap="butt"/>
<line x1="1144.20" y1="205.80" x2="1381.40" y2="156.10" stroke="#bebe00" stroke-width="2.6" stroke-linecap="butt"/>
<circle cx="1258.3" cy="590.8" r="2.9" fill="#10be72"/>
<circle cx="1212.7" cy="611.8" r="2.9" fill="#10be72"/>
<circle cx="1225.1" cy="611.7" r="2.9" fill="#10be72"/>
<circle cx="1263.0" cy="611.5" r="2.9" fill="#10be72"/>
<circle cx="1200.7" cy="608.3" r="2.9" fill="#10be72"/>
<circle cx="1175.9" cy="623.0" r="2.9" fill="#10be72"/>
<circle cx="1196.0" cy="620.2" r="2.9" fill="#10be72"/>
<circle cx="1155.9" cy="625.9" r="2.9" fill="#10be72"/>
<circle cx="1158.7" cy="630.1" r="2.9" fill="#10be72"/>
<circle cx="1168.3" cy="627.3" r="2.9" fill="#10be72"/>
<circle cx="1172.2" cy="627.6" r="2.9" fill="#10be72"/>
<circle cx="1183.9" cy="624.9" r="2.9" fill="#10be72"/>
<circle cx="1187.4" cy="627.3" r="2.9" fill="#10be72"/>
<circle cx="1191.2" cy="624.9" r="2.9" fill="#10be72"/>
<circle cx="1196.0" cy="627.8" r="2.9" fill="#10be72"/>
<circle cx="1196.0" cy="631.6" r="2.9" fill="#10be72"/>
<circle cx="1209.2" cy="630.1" r="2.9" fill="#10be72"/>
<circle cx="1215.9" cy="622.1" r="2.9" fill="#10be72"/>
<circle cx="1218.1" cy="625.4" r="2.9" fill="#10be72"/>
<circle cx="1224.4" cy="625.9" r="2.9" fill="#10be72"/>
<circle cx="1229.2" cy="629.7" r="2.9" fill="#10be72"/>
<circle cx="1231.5" cy="630.6" r="2.9" fill="#10be72"/>
<circle cx="1241.7" cy="626.6" r="2.9" fill="#10be72"/>
<circle cx="1247.4" cy="628.7" r="2.9" fill="#10be72"/>
<circle cx="1257.3" cy="627.3" r="2.9" fill="#10be72"/>
<circle cx="1279.4" cy="630.1" r="2.9" fill="#10be72"/>
<circle cx="1280.9" cy="630.6" r="2.9" fill="#10be72"/>
<circle cx="1303.0" cy="618.8" r="2.9" fill="#10be72"/>
<circle cx="1341.0" cy="620.7" r="2.9" fill="#10be72"/>
<circle cx="1372.2" cy="626.4" r="2.9" fill="#10be72"/>
<circle cx="1376.7" cy="626.1" r="2.9" fill="#10be72"/>
<circle cx="1380.0" cy="624.0" r="2.9" fill="#10be72"/>
<circle cx="1241.7" cy="566.9" r="2.9" fill="#f24444"/>
<circle cx="1212.6" cy="583.4" r="2.9" fill="#f24444"/>
<circle cx="1215.6" cy="586.5" r="2.9" fill="#f24444"/>
<circle cx="1225.1" cy="583.5" r="2.9" fill="#f24444"/>
<circle cx="1228.7" cy="593.2" r="2.9" fill="#f24444"/>
<circle cx="1183.9" cy="589.1" r="2.9" fill="#f24444"/>
<circle cx="1155.9" cy="600.7" r="2.9" fill="#f24444"/>
<circle cx="1158.7" cy="605.3" r="2.9" fill="#f24444"/>
<circle cx="1172.2" cy="606.0" r="2.9" fill="#f24444"/>
<circle cx="1176.3" cy="604.1" r="2.9" fill="#f24444"/>
<circle cx="1191.5" cy="601.5" r="2.9" fill="#f24444"/>
<circle cx="1209.0" cy="602.4" r="2.9" fill="#f24444"/>
<circle cx="1224.4" cy="605.8" r="2.9" fill="#f24444"/>
<circle cx="1257.3" cy="600.7" r="2.9" fill="#f24444"/>
<circle cx="1263.0" cy="606.9" r="2.9" fill="#f24444"/>
<circle cx="1168.3" cy="614.3" r="2.9" fill="#f24444"/>
<circle cx="1175.9" cy="618.3" r="2.9" fill="#f24444"/>
<circle cx="1191.7" cy="608.8" r="2.9" fill="#f24444"/>
<circle cx="1196.9" cy="607.9" r="2.9" fill="#f24444"/>
<circle cx="1199.9" cy="610.0" r="2.9" fill="#f24444"/>
<circle cx="1187.4" cy="616.9" r="2.9" fill="#f24444"/>
<circle cx="1190.3" cy="614.5" r="2.9" fill="#f24444"/>
<circle cx="1195.3" cy="616.9" r="2.9" fill="#f24444"/>
<circle cx="1218.0" cy="613.7" r="2.9" fill="#f24444"/>
<circle cx="1231.3" cy="611.4" r="2.9" fill="#f24444"/>
<circle cx="1247.2" cy="611.8" r="2.9" fill="#f24444"/>
<circle cx="1258.3" cy="617.8" r="2.9" fill="#f24444"/>
<circle cx="1279.4" cy="616.9" r="2.9" fill="#f24444"/>
<circle cx="1280.9" cy="617.1" r="2.9" fill="#f24444"/>
<circle cx="1303.0" cy="603.1" r="2.9" fill="#f24444"/>
<circle cx="1341.0" cy="581.3" r="2.9" fill="#f24444"/>
<circle cx="1372.2" cy="596.2" r="2.9" fill="#f24444"/>
<circle cx="1376.7" cy="604.1" r="2.9" fill="#f24444"/>
<circle cx="1380.0" cy="607.7" r="2.9" fill="#f24444"/>
<circle cx="1231.2" cy="481.9" r="2.9" fill="#bebe00"/>
<circle cx="1209.0" cy="496.4" r="2.9" fill="#bebe00"/>
<circle cx="1183.9" cy="501.1" r="2.9" fill="#bebe00"/>
<circle cx="1158.8" cy="511.4" r="2.9" fill="#bebe00"/>
<circle cx="1155.9" cy="520.6" r="2.9" fill="#bebe00"/>
<circle cx="1196.6" cy="507.8" r="2.9" fill="#bebe00"/>
<circle cx="1199.6" cy="511.0" r="2.9" fill="#bebe00"/>
<circle cx="1195.5" cy="518.7" r="2.9" fill="#bebe00"/>
<circle cx="1224.4" cy="512.9" r="2.9" fill="#bebe00"/>
<circle cx="1228.7" cy="520.9" r="2.9" fill="#bebe00"/>
<circle cx="1257.3" cy="515.2" r="2.9" fill="#bebe00"/>
<circle cx="1262.8" cy="518.4" r="2.9" fill="#bebe00"/>
<circle cx="1191.2" cy="528.8" r="2.9" fill="#bebe00"/>
<circle cx="1195.7" cy="531.0" r="2.9" fill="#bebe00"/>
<circle cx="1225.2" cy="529.6" r="2.9" fill="#bebe00"/>
<circle cx="1241.5" cy="534.7" r="2.9" fill="#bebe00"/>
<circle cx="1188.1" cy="542.7" r="2.9" fill="#bebe00"/>
<circle cx="1247.2" cy="541.6" r="2.9" fill="#bebe00"/>
<circle cx="1212.7" cy="544.0" r="2.9" fill="#bebe00"/>
<circle cx="1218.1" cy="548.5" r="2.9" fill="#bebe00"/>
<circle cx="1215.6" cy="553.5" r="2.9" fill="#bebe00"/>
<circle cx="1258.3" cy="549.7" r="2.9" fill="#bebe00"/>
<circle cx="1168.3" cy="556.1" r="2.9" fill="#bebe00"/>
<circle cx="1172.2" cy="553.5" r="2.9" fill="#bebe00"/>
<circle cx="1176.2" cy="556.5" r="2.9" fill="#bebe00"/>
<circle cx="1280.9" cy="496.8" r="2.9" fill="#bebe00"/>
<circle cx="1341.0" cy="486.6" r="2.9" fill="#bebe00"/>
<circle cx="1302.7" cy="518.4" r="2.9" fill="#bebe00"/>
<circle cx="1372.0" cy="518.8" r="2.9" fill="#bebe00"/>
<circle cx="1380.0" cy="519.5" r="2.9" fill="#bebe00"/>
<circle cx="1376.7" cy="532.8" r="2.9" fill="#bebe00"/>
<circle cx="1175.9" cy="571.3" r="2.9" fill="#bebe00"/>
<circle cx="1186.5" cy="563.6" r="2.9" fill="#bebe00"/>
<circle cx="1194.3" cy="564.9" r="2.9" fill="#bebe00"/>
<circle cx="1190.0" cy="582.9" r="2.9" fill="#bebe00"/>
<line x1="1155.90" y1="542.60" x2="1380.00" y2="508.40" stroke="#bebe00" stroke-width="2.6" stroke-linecap="butt"/>
<line x1="1127.70" y1="22.70" x2="1147.80" y2="22.70" stroke="#f24444" stroke-width="2.4" stroke-linecap="butt"/>
<circle cx="1137.7" cy="22.7" r="2.4" fill="#f24444"/>
<circle cx="1137.7" cy="44.3" r="2.6" fill="#10be72"/>
<line x1="1127.70" y1="65.40" x2="1147.80" y2="65.40" stroke="#bebe00" stroke-width="2.4" stroke-linecap="butt"/>
<circle cx="1137.7" cy="65.4" r="2.4" fill="#bebe00"/>
<text x="1160.2" y="28.7" font-size="15.7" font-weight="bold" fill="#000" transform="translate(1160.2 28.7) scale(1 1.04) translate(-1160.2 -28.7)">PD-1:</text>
<text x="1224.6" y="30.0" font-size="15.7" font-weight="bold">rs = 0.332, <tspan font-style="italic">P</tspan> = 0.048</text>
<text x="1160.2" y="50.0" font-size="15.7" font-weight="bold" fill="#000" transform="translate(1160.2 50.0) scale(1 1.04) translate(-1160.2 -50.0)">Tim-3:</text>
<text x="1224.6" y="50.5" font-size="15.7" font-weight="bold">rs = -0.066, <tspan font-style="italic">P</tspan> = 0.700</text>
<text x="1160.2" y="71.0" font-size="15.7" font-weight="bold" fill="#000" transform="translate(1160.2 71.0) scale(1 1.04) translate(-1160.2 -71.0)">TIGIT:</text>
<text x="1224.6" y="71.0" font-size="15.7" font-weight="bold">rs = 0.545, <tspan font-style="italic">P</tspan> = 0.001</text>
<circle cx="1140.5" cy="372.0" r="2.7" fill="#f24444"/>
<circle cx="1140.5" cy="392.5" r="2.7" fill="#10be72"/>
<line x1="1131.00" y1="413.20" x2="1150.20" y2="413.20" stroke="#bebe00" stroke-width="2.4" stroke-linecap="butt"/>
<circle cx="1140.5" cy="413.2" r="2.4" fill="#bebe00"/>
<text x="1162.2" y="377.6" font-size="15.7" font-weight="bold" fill="#000" transform="translate(1162.2 377.6) scale(1 1.04) translate(-1162.2 -377.6)">PD-1:</text>
<text x="1214.9" y="377.6" font-size="15.7" font-weight="bold">rs = 0.240, <tspan font-style="italic">P</tspan> = 0.159</text>
<text x="1162.2" y="398.2" font-size="15.7" font-weight="bold" fill="#000" transform="translate(1162.2 398.2) scale(1 1.04) translate(-1162.2 -398.2)">Tim-3:</text>
<text x="1214.9" y="398.2" font-size="15.7" font-weight="bold">rs = 0.137, <tspan font-style="italic">P</tspan> = 0.427</text>
<text x="1162.2" y="418.6" font-size="15.7" font-weight="bold" fill="#000" transform="translate(1162.2 418.6) scale(1 1.04) translate(-1162.2 -418.6)">TIGIT:</text>
<text x="1214.9" y="418.6" font-size="15.7" font-weight="bold">rs = 0.386, <tspan font-style="italic">P</tspan> = 0.020</text>
<circle cx="189.3" cy="886.5" r="2.9" fill="#00c000"/>
<circle cx="194.9" cy="888.7" r="2.9" fill="#00c000"/>
<circle cx="200.5" cy="886.8" r="2.9" fill="#00c000"/>
<circle cx="194.9" cy="896.5" r="2.9" fill="#00c000"/>
<circle cx="200.5" cy="910.7" r="2.9" fill="#00c000"/>
<circle cx="194.9" cy="915.5" r="2.9" fill="#00c000"/>
<circle cx="161.3" cy="923.9" r="2.9" fill="#00c000"/>
<circle cx="167.0" cy="921.9" r="2.9" fill="#00c000"/>
<circle cx="172.6" cy="920.2" r="2.9" fill="#00c000"/>
<circle cx="183.7" cy="920.2" r="2.9" fill="#00c000"/>
<circle cx="194.9" cy="922.5" r="2.9" fill="#00c000"/>
<circle cx="206.1" cy="922.5" r="2.9" fill="#00c000"/>
<circle cx="211.7" cy="921.3" r="2.9" fill="#00c000"/>
<circle cx="217.4" cy="920.7" r="2.9" fill="#00c000"/>
<circle cx="223.0" cy="922.5" r="2.9" fill="#00c000"/>
<circle cx="228.7" cy="923.7" r="2.9" fill="#00c000"/>
<circle cx="167.0" cy="928.0" r="2.9" fill="#00c000"/>
<circle cx="172.6" cy="927.1" r="2.9" fill="#00c000"/>
<circle cx="178.0" cy="927.1" r="2.9" fill="#00c000"/>
<circle cx="183.7" cy="926.8" r="2.9" fill="#00c000"/>
<circle cx="189.3" cy="928.6" r="2.9" fill="#00c000"/>
<circle cx="194.9" cy="927.7" r="2.9" fill="#00c000"/>
<circle cx="200.5" cy="926.2" r="2.9" fill="#00c000"/>
<circle cx="206.1" cy="927.7" r="2.9" fill="#00c000"/>
<circle cx="211.7" cy="926.5" r="2.9" fill="#00c000"/>
<circle cx="217.4" cy="927.7" r="2.9" fill="#00c000"/>
<circle cx="223.0" cy="928.0" r="2.9" fill="#00c000"/>
<circle cx="206.1" cy="924.6" r="2.9" fill="#00c000"/>
<circle cx="178.0" cy="933.5" r="2.9" fill="#00c000"/>
<circle cx="183.7" cy="934.7" r="2.9" fill="#00c000"/>
<circle cx="206.1" cy="934.4" r="2.9" fill="#00c000"/>
<circle cx="211.7" cy="934.7" r="2.9" fill="#00c000"/>
<circle cx="189.3" cy="937.3" r="2.9" fill="#00c000"/>
<circle cx="194.9" cy="937.7" r="2.9" fill="#00c000"/>
<circle cx="200.5" cy="937.4" r="2.9" fill="#00c000"/>
<circle cx="183.7" cy="940.2" r="2.9" fill="#00c000"/>
<circle cx="206.1" cy="941.7" r="2.9" fill="#00c000"/>
<circle cx="303.8" cy="801.9" r="2.9" fill="#f44545"/>
<circle cx="298.8" cy="835.7" r="2.9" fill="#f44545"/>
<circle cx="308.8" cy="840.6" r="2.9" fill="#f44545"/>
<circle cx="298.8" cy="856.5" r="2.9" fill="#f44545"/>
<circle cx="308.8" cy="856.5" r="2.9" fill="#f44545"/>
<circle cx="303.8" cy="863.2" r="2.9" fill="#f44545"/>
<circle cx="298.8" cy="869.6" r="2.9" fill="#f44545"/>
<circle cx="308.8" cy="870.8" r="2.9" fill="#f44545"/>
<circle cx="328.9" cy="877.6" r="2.9" fill="#f44545"/>
<circle cx="288.7" cy="881.3" r="2.9" fill="#f44545"/>
<circle cx="298.8" cy="879.1" r="2.9" fill="#f44545"/>
<circle cx="308.8" cy="879.8" r="2.9" fill="#f44545"/>
<circle cx="318.8" cy="881.9" r="2.9" fill="#f44545"/>
<circle cx="298.8" cy="884.6" r="2.9" fill="#f44545"/>
<circle cx="298.8" cy="894.4" r="2.9" fill="#f44545"/>
<circle cx="308.8" cy="898.4" r="2.9" fill="#f44545"/>
<circle cx="318.8" cy="897.4" r="2.9" fill="#f44545"/>
<circle cx="288.7" cy="899.3" r="2.9" fill="#f44545"/>
<circle cx="298.8" cy="902.3" r="2.9" fill="#f44545"/>
<circle cx="288.7" cy="906.0" r="2.9" fill="#f44545"/>
<circle cx="298.8" cy="908.3" r="2.9" fill="#f44545"/>
<circle cx="308.8" cy="906.6" r="2.9" fill="#f44545"/>
<circle cx="318.8" cy="906.0" r="2.9" fill="#f44545"/>
<circle cx="288.7" cy="911.5" r="2.9" fill="#f44545"/>
<circle cx="308.8" cy="912.7" r="2.9" fill="#f44545"/>
<circle cx="278.6" cy="915.7" r="2.9" fill="#f44545"/>
<circle cx="328.9" cy="914.8" r="2.9" fill="#f44545"/>
<circle cx="288.7" cy="918.2" r="2.9" fill="#f44545"/>
<circle cx="298.8" cy="919.7" r="2.9" fill="#f44545"/>
<circle cx="308.8" cy="918.2" r="2.9" fill="#f44545"/>
<circle cx="318.8" cy="916.6" r="2.9" fill="#f44545"/>
<circle cx="288.7" cy="926.1" r="2.9" fill="#f44545"/>
<circle cx="308.8" cy="925.5" r="2.9" fill="#f44545"/>
<circle cx="288.7" cy="933.7" r="2.9" fill="#f44545"/>
<circle cx="308.8" cy="932.8" r="2.9" fill="#f44545"/>
<circle cx="318.8" cy="931.3" r="2.9" fill="#f44545"/>
<circle cx="505.2" cy="918.1" r="2.9" fill="#00c000"/>
<circle cx="515.7" cy="922.4" r="2.9" fill="#00c000"/>
<circle cx="505.2" cy="925.4" r="2.9" fill="#00c000"/>
<circle cx="510.4" cy="927.0" r="2.9" fill="#00c000"/>
<circle cx="520.9" cy="925.1" r="2.9" fill="#00c000"/>
<circle cx="515.7" cy="929.4" r="2.9" fill="#00c000"/>
<circle cx="505.2" cy="930.9" r="2.9" fill="#00c000"/>
<circle cx="526.1" cy="931.2" r="2.9" fill="#00c000"/>
<circle cx="494.7" cy="933.7" r="2.9" fill="#00c000"/>
<circle cx="520.9" cy="933.4" r="2.9" fill="#00c000"/>
<circle cx="515.7" cy="935.2" r="2.9" fill="#00c000"/>
<circle cx="499.9" cy="936.4" r="2.9" fill="#00c000"/>
<circle cx="505.2" cy="937.0" r="2.9" fill="#00c000"/>
<circle cx="510.4" cy="937.0" r="2.9" fill="#00c000"/>
<circle cx="479.1" cy="937.9" r="2.9" fill="#00c000"/>
<circle cx="489.4" cy="937.9" r="2.9" fill="#00c000"/>
<circle cx="536.6" cy="936.7" r="2.9" fill="#00c000"/>
<circle cx="520.9" cy="938.5" r="2.9" fill="#00c000"/>
<circle cx="547.1" cy="939.8" r="2.9" fill="#00c000"/>
<circle cx="484.2" cy="942.5" r="2.9" fill="#00c000"/>
<circle cx="489.4" cy="942.8" r="2.9" fill="#00c000"/>
<circle cx="494.7" cy="942.8" r="2.9" fill="#00c000"/>
<circle cx="505.2" cy="942.8" r="2.9" fill="#00c000"/>
<circle cx="515.7" cy="941.6" r="2.9" fill="#00c000"/>
<circle cx="526.1" cy="941.0" r="2.9" fill="#00c000"/>
<circle cx="542.0" cy="941.9" r="2.9" fill="#00c000"/>
<circle cx="531.4" cy="944.6" r="2.9" fill="#00c000"/>
<circle cx="547.1" cy="944.9" r="2.9" fill="#00c000"/>
<circle cx="479.1" cy="947.1" r="2.9" fill="#00c000"/>
<circle cx="499.9" cy="947.1" r="2.9" fill="#00c000"/>
<circle cx="510.4" cy="947.1" r="2.9" fill="#00c000"/>
<circle cx="515.7" cy="947.1" r="2.9" fill="#00c000"/>
<circle cx="520.9" cy="947.1" r="2.9" fill="#00c000"/>
<circle cx="526.1" cy="947.1" r="2.9" fill="#00c000"/>
<circle cx="536.6" cy="947.1" r="2.9" fill="#00c000"/>
<circle cx="542.0" cy="947.1" r="2.9" fill="#00c000"/>
<circle cx="622.6" cy="808.2" r="2.9" fill="#f44545"/>
<circle cx="622.8" cy="874.5" r="2.9" fill="#f44545"/>
<circle cx="622.8" cy="893.7" r="2.9" fill="#f44545"/>
<circle cx="588.9" cy="905.7" r="2.9" fill="#f44545"/>
<circle cx="598.6" cy="907.7" r="2.9" fill="#f44545"/>
<circle cx="618.0" cy="908.0" r="2.9" fill="#f44545"/>
<circle cx="637.5" cy="906.8" r="2.9" fill="#f44545"/>
<circle cx="657.0" cy="906.3" r="2.9" fill="#f44545"/>
<circle cx="588.9" cy="911.0" r="2.9" fill="#f44545"/>
<circle cx="608.2" cy="910.4" r="2.9" fill="#f44545"/>
<circle cx="627.7" cy="910.1" r="2.9" fill="#f44545"/>
<circle cx="647.0" cy="908.8" r="2.9" fill="#f44545"/>
<circle cx="618.0" cy="913.8" r="2.9" fill="#f44545"/>
<circle cx="637.5" cy="913.7" r="2.9" fill="#f44545"/>
<circle cx="647.0" cy="915.0" r="2.9" fill="#f44545"/>
<circle cx="657.0" cy="912.9" r="2.9" fill="#f44545"/>
<circle cx="627.7" cy="917.9" r="2.9" fill="#f44545"/>
<circle cx="618.0" cy="919.0" r="2.9" fill="#f44545"/>
<circle cx="637.5" cy="918.7" r="2.9" fill="#f44545"/>
<circle cx="598.6" cy="922.0" r="2.9" fill="#f44545"/>
<circle cx="608.2" cy="920.8" r="2.9" fill="#f44545"/>
<circle cx="647.0" cy="921.6" r="2.9" fill="#f44545"/>
<circle cx="637.5" cy="923.8" r="2.9" fill="#f44545"/>
<circle cx="598.6" cy="927.2" r="2.9" fill="#f44545"/>
<circle cx="608.2" cy="926.3" r="2.9" fill="#f44545"/>
<circle cx="618.0" cy="925.7" r="2.9" fill="#f44545"/>
<circle cx="647.0" cy="927.2" r="2.9" fill="#f44545"/>
<circle cx="608.2" cy="932.0" r="2.9" fill="#f44545"/>
<circle cx="627.7" cy="930.2" r="2.9" fill="#f44545"/>
<circle cx="637.5" cy="929.9" r="2.9" fill="#f44545"/>
<circle cx="618.0" cy="934.2" r="2.9" fill="#f44545"/>
<circle cx="627.7" cy="938.8" r="2.9" fill="#f44545"/>
<circle cx="647.0" cy="940.0" r="2.9" fill="#f44545"/>
<circle cx="598.6" cy="942.0" r="2.9" fill="#f44545"/>
<circle cx="618.0" cy="941.5" r="2.9" fill="#f44545"/>
<circle cx="637.5" cy="943.4" r="2.9" fill="#f44545"/>
<circle cx="836.5" cy="887.8" r="2.9" fill="#00c000"/>
<circle cx="840.8" cy="909.8" r="2.9" fill="#00c000"/>
<circle cx="832.2" cy="914.6" r="2.9" fill="#00c000"/>
<circle cx="840.8" cy="916.6" r="2.9" fill="#00c000"/>
<circle cx="836.5" cy="922.7" r="2.9" fill="#00c000"/>
<circle cx="832.2" cy="926.0" r="2.9" fill="#00c000"/>
<circle cx="840.8" cy="926.6" r="2.9" fill="#00c000"/>
<circle cx="819.4" cy="932.1" r="2.9" fill="#00c000"/>
<circle cx="823.7" cy="931.8" r="2.9" fill="#00c000"/>
<circle cx="840.8" cy="933.4" r="2.9" fill="#00c000"/>
<circle cx="845.0" cy="932.4" r="2.9" fill="#00c000"/>
<circle cx="832.2" cy="935.6" r="2.9" fill="#00c000"/>
<circle cx="849.3" cy="935.6" r="2.9" fill="#00c000"/>
<circle cx="819.4" cy="938.8" r="2.9" fill="#00c000"/>
<circle cx="840.8" cy="940.4" r="2.9" fill="#00c000"/>
<circle cx="845.0" cy="939.5" r="2.9" fill="#00c000"/>
<circle cx="862.1" cy="939.5" r="2.9" fill="#00c000"/>
<circle cx="866.1" cy="938.8" r="2.9" fill="#00c000"/>
<circle cx="870.7" cy="940.1" r="2.9" fill="#00c000"/>
<circle cx="806.6" cy="943.4" r="2.9" fill="#00c000"/>
<circle cx="814.9" cy="944.3" r="2.9" fill="#00c000"/>
<circle cx="823.4" cy="944.6" r="2.9" fill="#00c000"/>
<circle cx="866.1" cy="943.7" r="2.9" fill="#00c000"/>
<circle cx="802.4" cy="947.1" r="2.9" fill="#00c000"/>
<circle cx="810.6" cy="947.1" r="2.9" fill="#00c000"/>
<circle cx="819.4" cy="947.1" r="2.9" fill="#00c000"/>
<circle cx="827.7" cy="947.1" r="2.9" fill="#00c000"/>
<circle cx="832.2" cy="947.1" r="2.9" fill="#00c000"/>
<circle cx="836.5" cy="947.1" r="2.9" fill="#00c000"/>
<circle cx="840.8" cy="947.1" r="2.9" fill="#00c000"/>
<circle cx="845.0" cy="947.1" r="2.9" fill="#00c000"/>
<circle cx="849.3" cy="947.1" r="2.9" fill="#00c000"/>
<circle cx="853.6" cy="947.1" r="2.9" fill="#00c000"/>
<circle cx="857.9" cy="947.1" r="2.9" fill="#00c000"/>
<circle cx="862.1" cy="947.1" r="2.9" fill="#00c000"/>
<circle cx="870.7" cy="947.1" r="2.9" fill="#00c000"/>
<circle cx="946.3" cy="792.4" r="2.9" fill="#f44545"/>
<circle cx="946.3" cy="876.1" r="2.9" fill="#f44545"/>
<circle cx="946.2" cy="906.5" r="2.9" fill="#f44545"/>
<circle cx="959.8" cy="906.2" r="2.9" fill="#f44545"/>
<circle cx="939.5" cy="911.1" r="2.9" fill="#f44545"/>
<circle cx="953.0" cy="911.4" r="2.9" fill="#f44545"/>
<circle cx="946.2" cy="913.4" r="2.9" fill="#f44545"/>
<circle cx="939.5" cy="917.9" r="2.9" fill="#f44545"/>
<circle cx="946.2" cy="919.3" r="2.9" fill="#f44545"/>
<circle cx="959.8" cy="919.6" r="2.9" fill="#f44545"/>
<circle cx="932.6" cy="923.2" r="2.9" fill="#f44545"/>
<circle cx="939.5" cy="926.0" r="2.9" fill="#f44545"/>
<circle cx="946.2" cy="927.4" r="2.9" fill="#f44545"/>
<circle cx="953.0" cy="927.0" r="2.9" fill="#f44545"/>
<circle cx="966.6" cy="932.7" r="2.9" fill="#f44545"/>
<circle cx="912.2" cy="935.4" r="2.9" fill="#f44545"/>
<circle cx="918.9" cy="935.8" r="2.9" fill="#f44545"/>
<circle cx="932.6" cy="937.0" r="2.9" fill="#f44545"/>
<circle cx="946.2" cy="937.0" r="2.9" fill="#f44545"/>
<circle cx="973.5" cy="935.5" r="2.9" fill="#f44545"/>
<circle cx="925.9" cy="938.5" r="2.9" fill="#f44545"/>
<circle cx="939.5" cy="938.4" r="2.9" fill="#f44545"/>
<circle cx="953.0" cy="939.5" r="2.9" fill="#f44545"/>
<circle cx="959.8" cy="938.2" r="2.9" fill="#f44545"/>
<circle cx="966.6" cy="938.8" r="2.9" fill="#f44545"/>
<circle cx="980.4" cy="940.0" r="2.9" fill="#f44545"/>
<circle cx="912.2" cy="941.0" r="2.9" fill="#f44545"/>
<circle cx="918.9" cy="941.6" r="2.9" fill="#f44545"/>
<circle cx="932.6" cy="942.2" r="2.9" fill="#f44545"/>
<circle cx="973.5" cy="942.1" r="2.9" fill="#f44545"/>
<circle cx="925.9" cy="943.7" r="2.9" fill="#f44545"/>
<circle cx="939.5" cy="943.7" r="2.9" fill="#f44545"/>
<circle cx="946.2" cy="943.4" r="2.9" fill="#f44545"/>
<circle cx="959.8" cy="943.4" r="2.9" fill="#f44545"/>
<circle cx="953.0" cy="947.1" r="2.9" fill="#f44545"/>
<circle cx="966.6" cy="947.1" r="2.9" fill="#f44545"/>
<circle cx="1152.5" cy="875.9" r="2.9" fill="#00c000"/>
<circle cx="1160.2" cy="880.5" r="2.9" fill="#00c000"/>
<circle cx="1152.5" cy="903.7" r="2.9" fill="#00c000"/>
<circle cx="1144.9" cy="908.4" r="2.9" fill="#00c000"/>
<circle cx="1167.8" cy="906.6" r="2.9" fill="#00c000"/>
<circle cx="1160.2" cy="909.8" r="2.9" fill="#00c000"/>
<circle cx="1160.2" cy="915.1" r="2.9" fill="#00c000"/>
<circle cx="1144.9" cy="919.6" r="2.9" fill="#00c000"/>
<circle cx="1175.4" cy="918.8" r="2.9" fill="#00c000"/>
<circle cx="1129.7" cy="922.9" r="2.9" fill="#00c000"/>
<circle cx="1137.3" cy="921.6" r="2.9" fill="#00c000"/>
<circle cx="1167.8" cy="920.2" r="2.9" fill="#00c000"/>
<circle cx="1183.0" cy="923.8" r="2.9" fill="#00c000"/>
<circle cx="1122.4" cy="927.7" r="2.9" fill="#00c000"/>
<circle cx="1129.7" cy="928.7" r="2.9" fill="#00c000"/>
<circle cx="1137.3" cy="927.5" r="2.9" fill="#00c000"/>
<circle cx="1144.9" cy="927.2" r="2.9" fill="#00c000"/>
<circle cx="1152.5" cy="928.7" r="2.9" fill="#00c000"/>
<circle cx="1160.2" cy="928.7" r="2.9" fill="#00c000"/>
<circle cx="1167.8" cy="926.6" r="2.9" fill="#00c000"/>
<circle cx="1175.4" cy="929.8" r="2.9" fill="#00c000"/>
<circle cx="1183.0" cy="928.7" r="2.9" fill="#00c000"/>
<circle cx="1190.7" cy="930.2" r="2.9" fill="#00c000"/>
<circle cx="1137.3" cy="933.2" r="2.9" fill="#00c000"/>
<circle cx="1160.2" cy="934.2" r="2.9" fill="#00c000"/>
<circle cx="1122.4" cy="936.0" r="2.9" fill="#00c000"/>
<circle cx="1129.7" cy="935.9" r="2.9" fill="#00c000"/>
<circle cx="1144.9" cy="935.9" r="2.9" fill="#00c000"/>
<circle cx="1175.4" cy="936.5" r="2.9" fill="#00c000"/>
<circle cx="1183.0" cy="936.0" r="2.9" fill="#00c000"/>
<circle cx="1190.7" cy="937.7" r="2.9" fill="#00c000"/>
<circle cx="1137.3" cy="939.1" r="2.9" fill="#00c000"/>
<circle cx="1152.5" cy="937.9" r="2.9" fill="#00c000"/>
<circle cx="1167.8" cy="938.9" r="2.9" fill="#00c000"/>
<circle cx="1160.2" cy="940.9" r="2.9" fill="#00c000"/>
<circle cx="1152.5" cy="944.6" r="2.9" fill="#00c000"/>
<circle cx="1265.9" cy="795.7" r="2.9" fill="#f44545"/>
<circle cx="1265.9" cy="822.2" r="2.9" fill="#f44545"/>
<circle cx="1265.9" cy="828.0" r="2.9" fill="#f44545"/>
<circle cx="1261.1" cy="848.4" r="2.9" fill="#f44545"/>
<circle cx="1271.1" cy="849.9" r="2.9" fill="#f44545"/>
<circle cx="1271.1" cy="857.0" r="2.9" fill="#f44545"/>
<circle cx="1251.6" cy="859.4" r="2.9" fill="#f44545"/>
<circle cx="1261.1" cy="860.3" r="2.9" fill="#f44545"/>
<circle cx="1280.7" cy="858.8" r="2.9" fill="#f44545"/>
<circle cx="1265.9" cy="865.7" r="2.9" fill="#f44545"/>
<circle cx="1271.1" cy="878.5" r="2.9" fill="#f44545"/>
<circle cx="1261.1" cy="883.0" r="2.9" fill="#f44545"/>
<circle cx="1280.7" cy="883.3" r="2.9" fill="#f44545"/>
<circle cx="1251.6" cy="887.3" r="2.9" fill="#f44545"/>
<circle cx="1271.1" cy="890.9" r="2.9" fill="#f44545"/>
<circle cx="1251.6" cy="894.1" r="2.9" fill="#f44545"/>
<circle cx="1261.1" cy="894.9" r="2.9" fill="#f44545"/>
<circle cx="1280.7" cy="895.4" r="2.9" fill="#f44545"/>
<circle cx="1271.1" cy="897.8" r="2.9" fill="#f44545"/>
<circle cx="1251.6" cy="906.2" r="2.9" fill="#f44545"/>
<circle cx="1271.1" cy="906.5" r="2.9" fill="#f44545"/>
<circle cx="1280.7" cy="908.2" r="2.9" fill="#f44545"/>
<circle cx="1232.1" cy="910.0" r="2.9" fill="#f44545"/>
<circle cx="1261.1" cy="912.6" r="2.9" fill="#f44545"/>
<circle cx="1251.6" cy="913.7" r="2.9" fill="#f44545"/>
<circle cx="1241.8" cy="915.9" r="2.9" fill="#f44545"/>
<circle cx="1280.7" cy="915.1" r="2.9" fill="#f44545"/>
<circle cx="1290.3" cy="914.7" r="2.9" fill="#f44545"/>
<circle cx="1232.1" cy="917.3" r="2.9" fill="#f44545"/>
<circle cx="1261.1" cy="918.0" r="2.9" fill="#f44545"/>
<circle cx="1271.1" cy="916.8" r="2.9" fill="#f44545"/>
<circle cx="1261.1" cy="928.7" r="2.9" fill="#f44545"/>
<circle cx="1271.1" cy="932.0" r="2.9" fill="#f44545"/>
<circle cx="1261.1" cy="935.4" r="2.9" fill="#f44545"/>
<circle cx="1271.1" cy="938.2" r="2.9" fill="#f44545"/>
<circle cx="1261.1" cy="942.6" r="2.9" fill="#f44545"/>
<circle cx="195.6" cy="1052.8" r="2.9" fill="#00c000"/>
<circle cx="195.6" cy="1106.2" r="2.9" fill="#00c000"/>
<circle cx="195.6" cy="1119.9" r="2.9" fill="#00c000"/>
<circle cx="200.7" cy="1133.0" r="2.9" fill="#00c000"/>
<circle cx="190.7" cy="1136.6" r="2.9" fill="#00c000"/>
<circle cx="190.7" cy="1143.6" r="2.9" fill="#00c000"/>
<circle cx="200.7" cy="1148.0" r="2.9" fill="#00c000"/>
<circle cx="190.7" cy="1150.2" r="2.9" fill="#00c000"/>
<circle cx="200.7" cy="1166.1" r="2.9" fill="#00c000"/>
<circle cx="190.7" cy="1167.7" r="2.9" fill="#00c000"/>
<circle cx="294.6" cy="1034.5" r="2.9" fill="#f44545"/>
<circle cx="314.8" cy="1036.6" r="2.9" fill="#f44545"/>
<circle cx="304.7" cy="1039.3" r="2.9" fill="#f44545"/>
<circle cx="304.7" cy="1058.2" r="2.9" fill="#f44545"/>
<circle cx="304.7" cy="1081.1" r="2.9" fill="#f44545"/>
<circle cx="304.7" cy="1094.8" r="2.9" fill="#f44545"/>
<circle cx="304.7" cy="1105.5" r="2.9" fill="#f44545"/>
<circle cx="294.6" cy="1109.1" r="2.9" fill="#f44545"/>
<circle cx="314.8" cy="1108.2" r="2.9" fill="#f44545"/>
<circle cx="314.8" cy="1115.1" r="2.9" fill="#f44545"/>
<circle cx="304.7" cy="1118.4" r="2.9" fill="#f44545"/>
<circle cx="324.8" cy="1124.6" r="2.9" fill="#f44545"/>
<circle cx="294.6" cy="1126.3" r="2.9" fill="#f44545"/>
<circle cx="304.7" cy="1128.8" r="2.9" fill="#f44545"/>
<circle cx="314.8" cy="1128.4" r="2.9" fill="#f44545"/>
<circle cx="294.6" cy="1132.7" r="2.9" fill="#f44545"/>
<circle cx="304.7" cy="1134.3" r="2.9" fill="#f44545"/>
<circle cx="314.8" cy="1136.1" r="2.9" fill="#f44545"/>
<circle cx="294.6" cy="1138.4" r="2.9" fill="#f44545"/>
<circle cx="334.9" cy="1143.9" r="2.9" fill="#f44545"/>
<circle cx="294.6" cy="1145.7" r="2.9" fill="#f44545"/>
<circle cx="304.7" cy="1147.3" r="2.9" fill="#f44545"/>
<circle cx="314.8" cy="1146.5" r="2.9" fill="#f44545"/>
<circle cx="324.8" cy="1146.5" r="2.9" fill="#f44545"/>
<circle cx="274.5" cy="1148.9" r="2.9" fill="#f44545"/>
<circle cx="284.5" cy="1148.9" r="2.9" fill="#f44545"/>
<circle cx="334.9" cy="1150.1" r="2.9" fill="#f44545"/>
<circle cx="294.6" cy="1151.0" r="2.9" fill="#f44545"/>
<circle cx="314.8" cy="1152.0" r="2.9" fill="#f44545"/>
<circle cx="304.7" cy="1153.5" r="2.9" fill="#f44545"/>
<circle cx="304.7" cy="1158.7" r="2.9" fill="#f44545"/>
<circle cx="324.8" cy="1158.2" r="2.9" fill="#f44545"/>
<circle cx="294.6" cy="1160.6" r="2.9" fill="#f44545"/>
<circle cx="314.8" cy="1162.9" r="2.9" fill="#f44545"/>
<circle cx="309.7" cy="1168.9" r="2.9" fill="#f44545"/>
<circle cx="299.6" cy="1170.5" r="2.9" fill="#f44545"/>
<circle cx="513.7" cy="1092.7" r="2.9" fill="#00c000"/>
<circle cx="513.7" cy="1145.1" r="2.9" fill="#00c000"/>
<circle cx="518.9" cy="1158.1" r="2.9" fill="#00c000"/>
<circle cx="508.8" cy="1161.4" r="2.9" fill="#00c000"/>
<circle cx="518.9" cy="1166.6" r="2.9" fill="#00c000"/>
<circle cx="508.8" cy="1170.5" r="2.9" fill="#00c000"/>
<circle cx="518.9" cy="1172.4" r="2.9" fill="#00c000"/>
<circle cx="508.8" cy="1178.7" r="2.9" fill="#00c000"/>
<circle cx="518.9" cy="1183.1" r="2.9" fill="#00c000"/>
<circle cx="513.7" cy="1191.5" r="2.9" fill="#00c000"/>
<circle cx="618.6" cy="1100.8" r="2.9" fill="#f44545"/>
<circle cx="628.7" cy="1103.3" r="2.9" fill="#f44545"/>
<circle cx="618.6" cy="1113.2" r="2.9" fill="#f44545"/>
<circle cx="628.7" cy="1113.9" r="2.9" fill="#f44545"/>
<circle cx="608.5" cy="1133.7" r="2.9" fill="#f44545"/>
<circle cx="608.5" cy="1140.1" r="2.9" fill="#f44545"/>
<circle cx="628.7" cy="1136.9" r="2.9" fill="#f44545"/>
<circle cx="628.7" cy="1142.3" r="2.9" fill="#f44545"/>
<circle cx="638.9" cy="1137.5" r="2.9" fill="#f44545"/>
<circle cx="618.6" cy="1145.5" r="2.9" fill="#f44545"/>
<circle cx="628.7" cy="1154.3" r="2.9" fill="#f44545"/>
<circle cx="598.3" cy="1158.3" r="2.9" fill="#f44545"/>
<circle cx="608.5" cy="1156.9" r="2.9" fill="#f44545"/>
<circle cx="638.9" cy="1158.9" r="2.9" fill="#f44545"/>
<circle cx="618.6" cy="1161.4" r="2.9" fill="#f44545"/>
<circle cx="608.5" cy="1162.5" r="2.9" fill="#f44545"/>
<circle cx="628.7" cy="1162.6" r="2.9" fill="#f44545"/>
<circle cx="598.3" cy="1165.3" r="2.9" fill="#f44545"/>
<circle cx="638.9" cy="1165.7" r="2.9" fill="#f44545"/>
<circle cx="608.5" cy="1168.2" r="2.9" fill="#f44545"/>
<circle cx="628.7" cy="1168.8" r="2.9" fill="#f44545"/>
<circle cx="618.6" cy="1170.1" r="2.9" fill="#f44545"/>
<circle cx="598.3" cy="1171.1" r="2.9" fill="#f44545"/>
<circle cx="638.9" cy="1171.4" r="2.9" fill="#f44545"/>
<circle cx="649.0" cy="1171.1" r="2.9" fill="#f44545"/>
<circle cx="618.6" cy="1175.9" r="2.9" fill="#f44545"/>
<circle cx="598.3" cy="1176.5" r="2.9" fill="#f44545"/>
<circle cx="608.5" cy="1175.9" r="2.9" fill="#f44545"/>
<circle cx="628.7" cy="1175.6" r="2.9" fill="#f44545"/>
<circle cx="608.5" cy="1181.2" r="2.9" fill="#f44545"/>
<circle cx="628.7" cy="1182.0" r="2.9" fill="#f44545"/>
<circle cx="638.9" cy="1180.4" r="2.9" fill="#f44545"/>
<circle cx="649.0" cy="1178.9" r="2.9" fill="#f44545"/>
<circle cx="618.6" cy="1183.1" r="2.9" fill="#f44545"/>
<circle cx="638.9" cy="1185.8" r="2.9" fill="#f44545"/>
<circle cx="623.7" cy="1191.5" r="2.9" fill="#f44545"/>
<circle cx="836.5" cy="1152.5" r="2.9" fill="#00c000"/>
<circle cx="836.5" cy="1175.2" r="2.9" fill="#00c000"/>
<circle cx="826.5" cy="1179.0" r="2.9" fill="#00c000"/>
<circle cx="846.7" cy="1179.8" r="2.9" fill="#00c000"/>
<circle cx="836.5" cy="1184.0" r="2.9" fill="#00c000"/>
<circle cx="816.3" cy="1190.7" r="2.9" fill="#00c000"/>
<circle cx="826.5" cy="1190.7" r="2.9" fill="#00c000"/>
<circle cx="836.5" cy="1190.7" r="2.9" fill="#00c000"/>
<circle cx="846.7" cy="1190.7" r="2.9" fill="#00c000"/>
<circle cx="856.8" cy="1190.7" r="2.9" fill="#00c000"/>
<circle cx="946.3" cy="1068.2" r="2.9" fill="#f44545"/>
<circle cx="946.3" cy="1081.3" r="2.9" fill="#f44545"/>
<circle cx="946.3" cy="1122.4" r="2.9" fill="#f44545"/>
<circle cx="940.7" cy="1141.0" r="2.9" fill="#f44545"/>
<circle cx="946.3" cy="1144.1" r="2.9" fill="#f44545"/>
<circle cx="940.7" cy="1147.5" r="2.9" fill="#f44545"/>
<circle cx="946.3" cy="1149.4" r="2.9" fill="#f44545"/>
<circle cx="951.9" cy="1150.5" r="2.9" fill="#f44545"/>
<circle cx="946.3" cy="1154.8" r="2.9" fill="#f44545"/>
<circle cx="935.1" cy="1166.3" r="2.9" fill="#f44545"/>
<circle cx="951.9" cy="1165.5" r="2.9" fill="#f44545"/>
<circle cx="957.7" cy="1166.4" r="2.9" fill="#f44545"/>
<circle cx="946.3" cy="1169.3" r="2.9" fill="#f44545"/>
<circle cx="940.7" cy="1171.4" r="2.9" fill="#f44545"/>
<circle cx="963.3" cy="1171.8" r="2.9" fill="#f44545"/>
<circle cx="957.7" cy="1172.9" r="2.9" fill="#f44545"/>
<circle cx="929.3" cy="1174.0" r="2.9" fill="#f44545"/>
<circle cx="935.1" cy="1174.9" r="2.9" fill="#f44545"/>
<circle cx="946.3" cy="1175.4" r="2.9" fill="#f44545"/>
<circle cx="951.9" cy="1175.4" r="2.9" fill="#f44545"/>
<circle cx="940.7" cy="1177.6" r="2.9" fill="#f44545"/>
<circle cx="946.3" cy="1181.5" r="2.9" fill="#f44545"/>
<circle cx="917.9" cy="1185.7" r="2.9" fill="#f44545"/>
<circle cx="923.5" cy="1187.0" r="2.9" fill="#f44545"/>
<circle cx="929.3" cy="1185.9" r="2.9" fill="#f44545"/>
<circle cx="940.7" cy="1186.3" r="2.9" fill="#f44545"/>
<circle cx="957.7" cy="1184.3" r="2.9" fill="#f44545"/>
<circle cx="969.1" cy="1187.2" r="2.9" fill="#f44545"/>
<circle cx="912.5" cy="1191.0" r="2.9" fill="#f44545"/>
<circle cx="935.1" cy="1191.0" r="2.9" fill="#f44545"/>
<circle cx="946.3" cy="1191.0" r="2.9" fill="#f44545"/>
<circle cx="951.9" cy="1191.0" r="2.9" fill="#f44545"/>
<circle cx="957.7" cy="1191.0" r="2.9" fill="#f44545"/>
<circle cx="963.3" cy="1191.0" r="2.9" fill="#f44545"/>
<circle cx="974.7" cy="1191.0" r="2.9" fill="#f44545"/>
<circle cx="980.3" cy="1191.0" r="2.9" fill="#f44545"/>
<circle cx="1155.9" cy="1080.0" r="2.9" fill="#00c000"/>
<circle cx="1155.9" cy="1118.3" r="2.9" fill="#00c000"/>
<circle cx="1155.9" cy="1132.3" r="2.9" fill="#00c000"/>
<circle cx="1151.0" cy="1142.3" r="2.9" fill="#00c000"/>
<circle cx="1161.1" cy="1146.3" r="2.9" fill="#00c000"/>
<circle cx="1155.9" cy="1156.1" r="2.9" fill="#00c000"/>
<circle cx="1151.0" cy="1169.4" r="2.9" fill="#00c000"/>
<circle cx="1161.1" cy="1168.6" r="2.9" fill="#00c000"/>
<circle cx="1155.9" cy="1175.8" r="2.9" fill="#00c000"/>
<circle cx="1155.9" cy="1182.5" r="2.9" fill="#00c000"/>
<circle cx="1266.0" cy="1039.0" r="2.9" fill="#f44545"/>
<circle cx="1276.0" cy="1057.1" r="2.9" fill="#f44545"/>
<circle cx="1266.0" cy="1061.2" r="2.9" fill="#f44545"/>
<circle cx="1266.0" cy="1071.4" r="2.9" fill="#f44545"/>
<circle cx="1266.0" cy="1084.2" r="2.9" fill="#f44545"/>
<circle cx="1266.0" cy="1091.9" r="2.9" fill="#f44545"/>
<circle cx="1266.0" cy="1114.0" r="2.9" fill="#f44545"/>
<circle cx="1276.0" cy="1112.3" r="2.9" fill="#f44545"/>
<circle cx="1266.0" cy="1121.3" r="2.9" fill="#f44545"/>
<circle cx="1276.0" cy="1122.5" r="2.9" fill="#f44545"/>
<circle cx="1255.7" cy="1124.6" r="2.9" fill="#f44545"/>
<circle cx="1266.0" cy="1129.0" r="2.9" fill="#f44545"/>
<circle cx="1266.0" cy="1136.1" r="2.9" fill="#f44545"/>
<circle cx="1276.0" cy="1135.8" r="2.9" fill="#f44545"/>
<circle cx="1255.7" cy="1137.9" r="2.9" fill="#f44545"/>
<circle cx="1276.0" cy="1144.3" r="2.9" fill="#f44545"/>
<circle cx="1245.7" cy="1146.1" r="2.9" fill="#f44545"/>
<circle cx="1286.2" cy="1145.5" r="2.9" fill="#f44545"/>
<circle cx="1255.7" cy="1149.1" r="2.9" fill="#f44545"/>
<circle cx="1266.0" cy="1148.6" r="2.9" fill="#f44545"/>
<circle cx="1286.2" cy="1151.5" r="2.9" fill="#f44545"/>
<circle cx="1245.7" cy="1153.5" r="2.9" fill="#f44545"/>
<circle cx="1296.1" cy="1155.6" r="2.9" fill="#f44545"/>
<circle cx="1255.7" cy="1158.8" r="2.9" fill="#f44545"/>
<circle cx="1276.0" cy="1157.8" r="2.9" fill="#f44545"/>
<circle cx="1266.0" cy="1159.9" r="2.9" fill="#f44545"/>
<circle cx="1235.5" cy="1162.9" r="2.9" fill="#f44545"/>
<circle cx="1245.7" cy="1162.7" r="2.9" fill="#f44545"/>
<circle cx="1286.2" cy="1162.1" r="2.9" fill="#f44545"/>
<circle cx="1296.1" cy="1161.4" r="2.9" fill="#f44545"/>
<circle cx="1266.0" cy="1165.2" r="2.9" fill="#f44545"/>
<circle cx="1276.0" cy="1164.0" r="2.9" fill="#f44545"/>
<circle cx="1255.7" cy="1169.6" r="2.9" fill="#f44545"/>
<circle cx="1276.0" cy="1171.1" r="2.9" fill="#f44545"/>
<circle cx="1270.9" cy="1176.7" r="2.9" fill="#f44545"/>
<circle cx="1260.9" cy="1178.8" r="2.9" fill="#f44545"/>
<g>
<line x1="184.10" y1="1338.71" x2="308.20" y2="1368.79" stroke="#000" stroke-width="1.8" stroke-linecap="butt"/>
<line x1="184.10" y1="1379.71" x2="308.20" y2="1446.43" stroke="#000" stroke-width="1.8" stroke-linecap="butt"/>
<line x1="184.10" y1="1385.65" x2="308.20" y2="1411.03" stroke="#000" stroke-width="1.8" stroke-linecap="butt"/>
<line x1="184.10" y1="1420.82" x2="308.20" y2="1371.35" stroke="#000" stroke-width="1.8" stroke-linecap="butt"/>
<line x1="184.10" y1="1467.75" x2="308.20" y2="1366.80" stroke="#000" stroke-width="1.8" stroke-linecap="butt"/>
<line x1="184.10" y1="1435.74" x2="308.20" y2="1389.29" stroke="#000" stroke-width="1.8" stroke-linecap="butt"/>
<line x1="184.10" y1="1498.56" x2="308.20" y2="1495.88" stroke="#000" stroke-width="1.8" stroke-linecap="butt"/>
<line x1="184.10" y1="1488.61" x2="308.20" y2="1494.36" stroke="#000" stroke-width="1.8" stroke-linecap="butt"/>
<line x1="184.10" y1="1477.82" x2="308.20" y2="1488.67" stroke="#000" stroke-width="1.8" stroke-linecap="butt"/>
<line x1="184.10" y1="1476.73" x2="308.20" y2="1486.49" stroke="#000" stroke-width="1.8" stroke-linecap="butt"/>
<line x1="184.10" y1="1489.34" x2="308.20" y2="1484.68" stroke="#000" stroke-width="1.8" stroke-linecap="butt"/>
<line x1="184.10" y1="1497.46" x2="308.20" y2="1484.21" stroke="#000" stroke-width="1.8" stroke-linecap="butt"/>
<line x1="184.10" y1="1481.58" x2="308.20" y2="1479.75" stroke="#000" stroke-width="1.8" stroke-linecap="butt"/>
<line x1="184.10" y1="1454.53" x2="308.20" y2="1478.32" stroke="#000" stroke-width="1.8" stroke-linecap="butt"/>
<line x1="184.10" y1="1479.76" x2="308.20" y2="1477.37" stroke="#000" stroke-width="1.8" stroke-linecap="butt"/>
<line x1="184.10" y1="1455.75" x2="308.20" y2="1476.52" stroke="#000" stroke-width="1.8" stroke-linecap="butt"/>
<line x1="184.10" y1="1495.64" x2="308.20" y2="1475.38" stroke="#000" stroke-width="1.8" stroke-linecap="butt"/>
<line x1="184.10" y1="1404.93" x2="308.20" y2="1475.38" stroke="#000" stroke-width="1.8" stroke-linecap="butt"/>
<line x1="184.10" y1="1464.96" x2="308.20" y2="1473.86" stroke="#000" stroke-width="1.8" stroke-linecap="butt"/>
<line x1="184.10" y1="1464.96" x2="308.20" y2="1473.10" stroke="#000" stroke-width="1.8" stroke-linecap="butt"/>
<line x1="184.10" y1="1456.84" x2="308.20" y2="1473.10" stroke="#000" stroke-width="1.8" stroke-linecap="butt"/>
<line x1="184.10" y1="1473.09" x2="308.20" y2="1472.34" stroke="#000" stroke-width="1.8" stroke-linecap="butt"/>
<line x1="184.10" y1="1475.63" x2="308.20" y2="1470.63" stroke="#000" stroke-width="1.8" stroke-linecap="butt"/>
<line x1="184.10" y1="1479.76" x2="308.20" y2="1465.41" stroke="#000" stroke-width="1.8" stroke-linecap="butt"/>
<line x1="184.10" y1="1435.01" x2="308.20" y2="1463.23" stroke="#000" stroke-width="1.8" stroke-linecap="butt"/>
<line x1="184.10" y1="1450.89" x2="308.20" y2="1461.52" stroke="#000" stroke-width="1.8" stroke-linecap="butt"/>
<line x1="184.10" y1="1465.69" x2="308.20" y2="1460.00" stroke="#000" stroke-width="1.8" stroke-linecap="butt"/>
<line x1="184.10" y1="1439.01" x2="308.20" y2="1456.30" stroke="#000" stroke-width="1.8" stroke-linecap="butt"/>
<line x1="184.10" y1="1433.19" x2="308.20" y2="1455.92" stroke="#000" stroke-width="1.8" stroke-linecap="butt"/>
<line x1="184.10" y1="1471.63" x2="308.20" y2="1453.93" stroke="#000" stroke-width="1.8" stroke-linecap="butt"/>
<line x1="184.10" y1="1432.34" x2="308.20" y2="1452.32" stroke="#000" stroke-width="1.8" stroke-linecap="butt"/>
<line x1="184.10" y1="1413.06" x2="308.20" y2="1443.30" stroke="#000" stroke-width="1.8" stroke-linecap="butt"/>
<line x1="184.10" y1="1430.52" x2="308.20" y2="1437.60" stroke="#000" stroke-width="1.8" stroke-linecap="butt"/>
<line x1="184.10" y1="1404.93" x2="308.20" y2="1436.75" stroke="#000" stroke-width="1.8" stroke-linecap="butt"/>
<line x1="184.10" y1="1422.27" x2="308.20" y2="1434.19" stroke="#000" stroke-width="1.8" stroke-linecap="butt"/>
<line x1="184.10" y1="1460.48" x2="308.20" y2="1424.03" stroke="#000" stroke-width="1.8" stroke-linecap="butt"/>
</g>
<circle cx="184.1" cy="1338.7" r="3.0" fill="#0000f5"/>
<circle cx="184.1" cy="1379.7" r="3.0" fill="#0000f5"/>
<circle cx="184.1" cy="1385.6" r="3.0" fill="#0000f5"/>
<circle cx="184.1" cy="1404.9" r="3.0" fill="#0000f5"/>
<circle cx="184.1" cy="1404.9" r="3.0" fill="#0000f5"/>
<circle cx="184.1" cy="1413.1" r="3.0" fill="#0000f5"/>
<circle cx="184.1" cy="1420.8" r="3.0" fill="#0000f5"/>
<circle cx="184.1" cy="1422.3" r="3.0" fill="#0000f5"/>
<circle cx="184.1" cy="1430.5" r="3.0" fill="#0000f5"/>
<circle cx="184.1" cy="1435.0" r="3.0" fill="#0000f5"/>
<circle cx="184.1" cy="1432.3" r="3.0" fill="#0000f5"/>
<circle cx="184.1" cy="1433.2" r="3.0" fill="#0000f5"/>
<circle cx="184.1" cy="1435.7" r="3.0" fill="#0000f5"/>
<circle cx="184.1" cy="1439.0" r="3.0" fill="#0000f5"/>
<circle cx="184.1" cy="1450.9" r="3.0" fill="#0000f5"/>
<circle cx="184.1" cy="1455.7" r="3.0" fill="#0000f5"/>
<circle cx="184.1" cy="1454.5" r="3.0" fill="#0000f5"/>
<circle cx="184.1" cy="1456.8" r="3.0" fill="#0000f5"/>
<circle cx="184.1" cy="1460.5" r="3.0" fill="#0000f5"/>
<circle cx="184.1" cy="1465.0" r="3.0" fill="#0000f5"/>
<circle cx="184.1" cy="1467.8" r="3.0" fill="#0000f5"/>
<circle cx="184.1" cy="1465.7" r="3.0" fill="#0000f5"/>
<circle cx="184.1" cy="1465.0" r="3.0" fill="#0000f5"/>
<circle cx="184.1" cy="1471.6" r="3.0" fill="#0000f5"/>
<circle cx="184.1" cy="1473.1" r="3.0" fill="#0000f5"/>
<circle cx="184.1" cy="1476.7" r="3.0" fill="#0000f5"/>
<circle cx="184.1" cy="1475.6" r="3.0" fill="#0000f5"/>
<circle cx="184.1" cy="1479.8" r="3.0" fill="#0000f5"/>
<circle cx="184.1" cy="1481.6" r="3.0" fill="#0000f5"/>
<circle cx="184.1" cy="1479.8" r="3.0" fill="#0000f5"/>
<circle cx="184.1" cy="1477.8" r="3.0" fill="#0000f5"/>
<circle cx="184.1" cy="1489.3" r="3.0" fill="#0000f5"/>
<circle cx="184.1" cy="1488.6" r="3.0" fill="#0000f5"/>
<circle cx="184.1" cy="1498.6" r="3.0" fill="#0000f5"/>
<circle cx="184.1" cy="1497.5" r="3.0" fill="#0000f5"/>
<circle cx="184.1" cy="1495.6" r="3.0" fill="#0000f5"/>
<circle cx="308.2" cy="1366.8" r="3.0" fill="#f44545"/>
<circle cx="308.2" cy="1368.8" r="3.0" fill="#f44545"/>
<circle cx="308.2" cy="1371.4" r="3.0" fill="#f44545"/>
<circle cx="308.2" cy="1389.3" r="3.0" fill="#f44545"/>
<circle cx="308.2" cy="1411.0" r="3.0" fill="#f44545"/>
<circle cx="308.2" cy="1424.0" r="3.0" fill="#f44545"/>
<circle cx="308.2" cy="1434.2" r="3.0" fill="#f44545"/>
<circle cx="308.2" cy="1437.6" r="3.0" fill="#f44545"/>
<circle cx="308.2" cy="1436.7" r="3.0" fill="#f44545"/>
<circle cx="308.2" cy="1443.3" r="3.0" fill="#f44545"/>
<circle cx="308.2" cy="1446.4" r="3.0" fill="#f44545"/>
<circle cx="308.2" cy="1452.3" r="3.0" fill="#f44545"/>
<circle cx="308.2" cy="1453.9" r="3.0" fill="#f44545"/>
<circle cx="308.2" cy="1456.3" r="3.0" fill="#f44545"/>
<circle cx="308.2" cy="1455.9" r="3.0" fill="#f44545"/>
<circle cx="308.2" cy="1460.0" r="3.0" fill="#f44545"/>
<circle cx="308.2" cy="1461.5" r="3.0" fill="#f44545"/>
<circle cx="308.2" cy="1463.2" r="3.0" fill="#f44545"/>
<circle cx="308.2" cy="1465.4" r="3.0" fill="#f44545"/>
<circle cx="308.2" cy="1470.6" r="3.0" fill="#f44545"/>
<circle cx="308.2" cy="1472.3" r="3.0" fill="#f44545"/>
<circle cx="308.2" cy="1473.9" r="3.0" fill="#f44545"/>
<circle cx="308.2" cy="1473.1" r="3.0" fill="#f44545"/>
<circle cx="308.2" cy="1473.1" r="3.0" fill="#f44545"/>
<circle cx="308.2" cy="1475.4" r="3.0" fill="#f44545"/>
<circle cx="308.2" cy="1475.4" r="3.0" fill="#f44545"/>
<circle cx="308.2" cy="1476.5" r="3.0" fill="#f44545"/>
<circle cx="308.2" cy="1477.4" r="3.0" fill="#f44545"/>
<circle cx="308.2" cy="1478.3" r="3.0" fill="#f44545"/>
<circle cx="308.2" cy="1479.7" r="3.0" fill="#f44545"/>
<circle cx="308.2" cy="1484.7" r="3.0" fill="#f44545"/>
<circle cx="308.2" cy="1484.2" r="3.0" fill="#f44545"/>
<circle cx="308.2" cy="1486.5" r="3.0" fill="#f44545"/>
<circle cx="308.2" cy="1488.7" r="3.0" fill="#f44545"/>
<circle cx="308.2" cy="1494.4" r="3.0" fill="#f44545"/>
<circle cx="308.2" cy="1495.9" r="3.0" fill="#f44545"/>
<clipPath id="cgap1"><path d="M0 1250H1476V1357.6H0Z M0 1369.9H1476V1565H0Z"/></clipPath>
<g clip-path="url(#cgap1)">
<line x1="529.30" y1="1332.14" x2="653.90" y2="1400.05" stroke="#000" stroke-width="1.8" stroke-linecap="butt"/>
<line x1="529.30" y1="1355.51" x2="653.90" y2="1513.85" stroke="#000" stroke-width="1.8" stroke-linecap="butt"/>
<line x1="529.30" y1="1402.80" x2="653.90" y2="1440.93" stroke="#000" stroke-width="1.8" stroke-linecap="butt"/>
<line x1="529.30" y1="1432.36" x2="653.90" y2="1348.91" stroke="#000" stroke-width="1.8" stroke-linecap="butt"/>
<line x1="529.30" y1="1434.68" x2="653.90" y2="1349.79" stroke="#000" stroke-width="1.8" stroke-linecap="butt"/>
<line x1="529.30" y1="1453.89" x2="653.90" y2="1353.27" stroke="#000" stroke-width="1.8" stroke-linecap="butt"/>
<line x1="529.30" y1="1461.70" x2="653.90" y2="1353.52" stroke="#000" stroke-width="1.8" stroke-linecap="butt"/>
<line x1="529.30" y1="1507.72" x2="653.90" y2="1501.83" stroke="#000" stroke-width="1.8" stroke-linecap="butt"/>
<line x1="529.30" y1="1473.52" x2="653.90" y2="1496.14" stroke="#000" stroke-width="1.8" stroke-linecap="butt"/>
<line x1="529.30" y1="1473.52" x2="653.90" y2="1493.83" stroke="#000" stroke-width="1.8" stroke-linecap="butt"/>
<line x1="529.30" y1="1500.54" x2="653.90" y2="1492.14" stroke="#000" stroke-width="1.8" stroke-linecap="butt"/>
<line x1="529.30" y1="1503.71" x2="653.90" y2="1490.45" stroke="#000" stroke-width="1.8" stroke-linecap="butt"/>
<line x1="529.30" y1="1479.22" x2="653.90" y2="1487.29" stroke="#000" stroke-width="1.8" stroke-linecap="butt"/>
<line x1="529.30" y1="1483.66" x2="653.90" y2="1482.24" stroke="#000" stroke-width="1.8" stroke-linecap="butt"/>
<line x1="529.30" y1="1504.77" x2="653.90" y2="1480.97" stroke="#000" stroke-width="1.8" stroke-linecap="butt"/>
<line x1="529.30" y1="1488.30" x2="653.90" y2="1480.97" stroke="#000" stroke-width="1.8" stroke-linecap="butt"/>
<line x1="529.30" y1="1471.62" x2="653.90" y2="1480.34" stroke="#000" stroke-width="1.8" stroke-linecap="butt"/>
<line x1="529.30" y1="1498.01" x2="653.90" y2="1471.49" stroke="#000" stroke-width="1.8" stroke-linecap="butt"/>
<line x1="529.30" y1="1445.02" x2="653.90" y2="1470.86" stroke="#000" stroke-width="1.8" stroke-linecap="butt"/>
<line x1="529.30" y1="1470.36" x2="653.90" y2="1470.86" stroke="#000" stroke-width="1.8" stroke-linecap="butt"/>
<line x1="529.30" y1="1438.06" x2="653.90" y2="1468.75" stroke="#000" stroke-width="1.8" stroke-linecap="butt"/>
<line x1="529.30" y1="1466.35" x2="653.90" y2="1466.01" stroke="#000" stroke-width="1.8" stroke-linecap="butt"/>
<line x1="529.30" y1="1430.46" x2="653.90" y2="1464.75" stroke="#000" stroke-width="1.8" stroke-linecap="butt"/>
<line x1="529.30" y1="1439.32" x2="653.90" y2="1459.48" stroke="#000" stroke-width="1.8" stroke-linecap="butt"/>
<line x1="529.30" y1="1455.58" x2="653.90" y2="1458.63" stroke="#000" stroke-width="1.8" stroke-linecap="butt"/>
<line x1="529.30" y1="1479.86" x2="653.90" y2="1452.94" stroke="#000" stroke-width="1.8" stroke-linecap="butt"/>
<line x1="529.30" y1="1462.55" x2="653.90" y2="1452.73" stroke="#000" stroke-width="1.8" stroke-linecap="butt"/>
<line x1="529.30" y1="1445.24" x2="653.90" y2="1450.42" stroke="#000" stroke-width="1.8" stroke-linecap="butt"/>
<line x1="529.30" y1="1429.40" x2="653.90" y2="1445.15" stroke="#000" stroke-width="1.8" stroke-linecap="butt"/>
<line x1="529.30" y1="1443.34" x2="653.90" y2="1443.88" stroke="#000" stroke-width="1.8" stroke-linecap="butt"/>
<line x1="529.30" y1="1447.77" x2="653.90" y2="1435.45" stroke="#000" stroke-width="1.8" stroke-linecap="butt"/>
<line x1="529.30" y1="1456.21" x2="653.90" y2="1416.91" stroke="#000" stroke-width="1.8" stroke-linecap="butt"/>
<line x1="529.30" y1="1432.99" x2="653.90" y2="1410.17" stroke="#000" stroke-width="1.8" stroke-linecap="butt"/>
<line x1="529.30" y1="1460.01" x2="653.90" y2="1405.53" stroke="#000" stroke-width="1.8" stroke-linecap="butt"/>
<line x1="529.30" y1="1437.42" x2="653.90" y2="1398.79" stroke="#000" stroke-width="1.8" stroke-linecap="butt"/>
<line x1="529.30" y1="1428.14" x2="653.90" y2="1392.04" stroke="#000" stroke-width="1.8" stroke-linecap="butt"/>
</g>
<circle cx="529.3" cy="1332.1" r="3.0" fill="#0000f5"/>
<circle cx="529.3" cy="1355.5" r="3.0" fill="#0000f5"/>
<circle cx="529.3" cy="1402.8" r="3.0" fill="#0000f5"/>
<circle cx="529.3" cy="1428.1" r="3.0" fill="#0000f5"/>
<circle cx="529.3" cy="1432.4" r="3.0" fill="#0000f5"/>
<circle cx="529.3" cy="1433.0" r="3.0" fill="#0000f5"/>
<circle cx="529.3" cy="1430.5" r="3.0" fill="#0000f5"/>
<circle cx="529.3" cy="1429.4" r="3.0" fill="#0000f5"/>
<circle cx="529.3" cy="1439.3" r="3.0" fill="#0000f5"/>
<circle cx="529.3" cy="1438.1" r="3.0" fill="#0000f5"/>
<circle cx="529.3" cy="1437.4" r="3.0" fill="#0000f5"/>
<circle cx="529.3" cy="1434.7" r="3.0" fill="#0000f5"/>
<circle cx="529.3" cy="1445.2" r="3.0" fill="#0000f5"/>
<circle cx="529.3" cy="1445.0" r="3.0" fill="#0000f5"/>
<circle cx="529.3" cy="1447.8" r="3.0" fill="#0000f5"/>
<circle cx="529.3" cy="1443.3" r="3.0" fill="#0000f5"/>
<circle cx="529.3" cy="1453.9" r="3.0" fill="#0000f5"/>
<circle cx="529.3" cy="1456.2" r="3.0" fill="#0000f5"/>
<circle cx="529.3" cy="1455.6" r="3.0" fill="#0000f5"/>
<circle cx="529.3" cy="1462.5" r="3.0" fill="#0000f5"/>
<circle cx="529.3" cy="1460.0" r="3.0" fill="#0000f5"/>
<circle cx="529.3" cy="1461.7" r="3.0" fill="#0000f5"/>
<circle cx="529.3" cy="1466.3" r="3.0" fill="#0000f5"/>
<circle cx="529.3" cy="1473.5" r="3.0" fill="#0000f5"/>
<circle cx="529.3" cy="1471.6" r="3.0" fill="#0000f5"/>
<circle cx="529.3" cy="1470.4" r="3.0" fill="#0000f5"/>
<circle cx="529.3" cy="1473.5" r="3.0" fill="#0000f5"/>
<circle cx="529.3" cy="1483.7" r="3.0" fill="#0000f5"/>
<circle cx="529.3" cy="1479.9" r="3.0" fill="#0000f5"/>
<circle cx="529.3" cy="1479.2" r="3.0" fill="#0000f5"/>
<circle cx="529.3" cy="1488.3" r="3.0" fill="#0000f5"/>
<circle cx="529.3" cy="1498.0" r="3.0" fill="#0000f5"/>
<circle cx="529.3" cy="1500.5" r="3.0" fill="#0000f5"/>
<circle cx="529.3" cy="1504.8" r="3.0" fill="#0000f5"/>
<circle cx="529.3" cy="1503.7" r="3.0" fill="#0000f5"/>
<circle cx="529.3" cy="1507.7" r="3.0" fill="#0000f5"/>
<circle cx="653.9" cy="1348.9" r="3.0" fill="#f44545"/>
<circle cx="653.9" cy="1349.8" r="3.0" fill="#f44545"/>
<circle cx="653.9" cy="1353.3" r="3.0" fill="#f44545"/>
<circle cx="653.9" cy="1353.5" r="3.0" fill="#f44545"/>
<circle cx="653.9" cy="1392.0" r="3.0" fill="#f44545"/>
<circle cx="653.9" cy="1405.5" r="3.0" fill="#f44545"/>
<circle cx="653.9" cy="1398.8" r="3.0" fill="#f44545"/>
<circle cx="653.9" cy="1410.2" r="3.0" fill="#f44545"/>
<circle cx="653.9" cy="1400.1" r="3.0" fill="#f44545"/>
<circle cx="653.9" cy="1416.9" r="3.0" fill="#f44545"/>
<circle cx="653.9" cy="1435.5" r="3.0" fill="#f44545"/>
<circle cx="653.9" cy="1443.9" r="3.0" fill="#f44545"/>
<circle cx="653.9" cy="1440.9" r="3.0" fill="#f44545"/>
<circle cx="653.9" cy="1445.1" r="3.0" fill="#f44545"/>
<circle cx="653.9" cy="1450.4" r="3.0" fill="#f44545"/>
<circle cx="653.9" cy="1452.7" r="3.0" fill="#f44545"/>
<circle cx="653.9" cy="1452.9" r="3.0" fill="#f44545"/>
<circle cx="653.9" cy="1458.6" r="3.0" fill="#f44545"/>
<circle cx="653.9" cy="1459.5" r="3.0" fill="#f44545"/>
<circle cx="653.9" cy="1464.7" r="3.0" fill="#f44545"/>
<circle cx="653.9" cy="1466.0" r="3.0" fill="#f44545"/>
<circle cx="653.9" cy="1468.7" r="3.0" fill="#f44545"/>
<circle cx="653.9" cy="1470.9" r="3.0" fill="#f44545"/>
<circle cx="653.9" cy="1471.5" r="3.0" fill="#f44545"/>
<circle cx="653.9" cy="1470.9" r="3.0" fill="#f44545"/>
<circle cx="653.9" cy="1481.0" r="3.0" fill="#f44545"/>
<circle cx="653.9" cy="1482.2" r="3.0" fill="#f44545"/>
<circle cx="653.9" cy="1481.0" r="3.0" fill="#f44545"/>
<circle cx="653.9" cy="1480.3" r="3.0" fill="#f44545"/>
<circle cx="653.9" cy="1492.1" r="3.0" fill="#f44545"/>
<circle cx="653.9" cy="1493.8" r="3.0" fill="#f44545"/>
<circle cx="653.9" cy="1490.5" r="3.0" fill="#f44545"/>
<circle cx="653.9" cy="1487.3" r="3.0" fill="#f44545"/>
<circle cx="653.9" cy="1496.1" r="3.0" fill="#f44545"/>
<circle cx="653.9" cy="1501.8" r="3.0" fill="#f44545"/>
<circle cx="653.9" cy="1513.8" r="3.0" fill="#f44545"/>
<clipPath id="cgap2"><path d="M0 1250H1476V1393.7H0Z M0 1406.6H1476V1565H0Z"/></clipPath>
<g clip-path="url(#cgap2)">
<line x1="880.50" y1="1342.51" x2="1005.40" y2="1386.68" stroke="#000" stroke-width="1.8" stroke-linecap="butt"/>
<line x1="880.50" y1="1375.27" x2="1005.40" y2="1434.63" stroke="#000" stroke-width="1.8" stroke-linecap="butt"/>
<line x1="880.50" y1="1387.17" x2="1005.40" y2="1354.91" stroke="#000" stroke-width="1.8" stroke-linecap="butt"/>
<line x1="880.50" y1="1388.98" x2="1005.40" y2="1360.03" stroke="#000" stroke-width="1.8" stroke-linecap="butt"/>
<line x1="880.50" y1="1514.90" x2="1005.40" y2="1493.19" stroke="#000" stroke-width="1.8" stroke-linecap="butt"/>
<line x1="880.50" y1="1500.97" x2="1005.40" y2="1514.90" stroke="#000" stroke-width="1.8" stroke-linecap="butt"/>
<line x1="880.50" y1="1502.20" x2="1005.40" y2="1514.90" stroke="#000" stroke-width="1.8" stroke-linecap="butt"/>
<line x1="880.50" y1="1514.90" x2="1005.40" y2="1514.90" stroke="#000" stroke-width="1.8" stroke-linecap="butt"/>
<line x1="880.50" y1="1484.99" x2="1005.40" y2="1514.90" stroke="#000" stroke-width="1.8" stroke-linecap="butt"/>
<line x1="880.50" y1="1474.74" x2="1005.40" y2="1514.90" stroke="#000" stroke-width="1.8" stroke-linecap="butt"/>
<line x1="880.50" y1="1487.03" x2="1005.40" y2="1514.90" stroke="#000" stroke-width="1.8" stroke-linecap="butt"/>
<line x1="880.50" y1="1435.40" x2="1005.40" y2="1514.90" stroke="#000" stroke-width="1.8" stroke-linecap="butt"/>
<line x1="880.50" y1="1500.97" x2="1005.40" y2="1514.90" stroke="#000" stroke-width="1.8" stroke-linecap="butt"/>
<line x1="880.50" y1="1491.13" x2="1005.40" y2="1499.34" stroke="#000" stroke-width="1.8" stroke-linecap="butt"/>
<line x1="880.50" y1="1429.67" x2="1005.40" y2="1498.52" stroke="#000" stroke-width="1.8" stroke-linecap="butt"/>
<line x1="880.50" y1="1480.89" x2="1005.40" y2="1495.65" stroke="#000" stroke-width="1.8" stroke-linecap="butt"/>
<line x1="880.50" y1="1482.12" x2="1005.40" y2="1494.01" stroke="#000" stroke-width="1.8" stroke-linecap="butt"/>
<line x1="880.50" y1="1495.64" x2="1005.40" y2="1487.46" stroke="#000" stroke-width="1.8" stroke-linecap="butt"/>
<line x1="880.50" y1="1389.88" x2="1005.40" y2="1475.99" stroke="#000" stroke-width="1.8" stroke-linecap="butt"/>
<line x1="880.50" y1="1496.05" x2="1005.40" y2="1460.02" stroke="#000" stroke-width="1.8" stroke-linecap="butt"/>
<line x1="880.50" y1="1493.59" x2="1005.40" y2="1451.01" stroke="#000" stroke-width="1.8" stroke-linecap="butt"/>
<line x1="880.50" y1="1502.20" x2="1005.40" y2="1451.01" stroke="#000" stroke-width="1.8" stroke-linecap="butt"/>
<line x1="880.50" y1="1469.82" x2="1005.40" y2="1448.96" stroke="#000" stroke-width="1.8" stroke-linecap="butt"/>
<line x1="880.50" y1="1392.30" x2="1005.40" y2="1445.28" stroke="#000" stroke-width="1.8" stroke-linecap="butt"/>
<line x1="880.50" y1="1387.06" x2="1005.40" y2="1440.77" stroke="#000" stroke-width="1.8" stroke-linecap="butt"/>
<line x1="880.50" y1="1479.66" x2="1005.40" y2="1436.27" stroke="#000" stroke-width="1.8" stroke-linecap="butt"/>
<line x1="880.50" y1="1480.48" x2="1005.40" y2="1426.03" stroke="#000" stroke-width="1.8" stroke-linecap="butt"/>
<line x1="880.50" y1="1474.74" x2="1005.40" y2="1414.15" stroke="#000" stroke-width="1.8" stroke-linecap="butt"/>
<line x1="880.50" y1="1392.19" x2="1005.40" y2="1413.74" stroke="#000" stroke-width="1.8" stroke-linecap="butt"/>
<line x1="880.50" y1="1457.12" x2="1005.40" y2="1410.47" stroke="#000" stroke-width="1.8" stroke-linecap="butt"/>
<line x1="880.50" y1="1433.76" x2="1005.40" y2="1388.79" stroke="#000" stroke-width="1.8" stroke-linecap="butt"/>
<line x1="880.50" y1="1468.59" x2="1005.40" y2="1387.11" stroke="#000" stroke-width="1.8" stroke-linecap="butt"/>
<line x1="880.50" y1="1389.09" x2="1005.40" y2="1385.93" stroke="#000" stroke-width="1.8" stroke-linecap="butt"/>
<line x1="880.50" y1="1468.18" x2="1005.40" y2="1384.60" stroke="#000" stroke-width="1.8" stroke-linecap="butt"/>
<line x1="880.50" y1="1418.19" x2="1005.40" y2="1383.39" stroke="#000" stroke-width="1.8" stroke-linecap="butt"/>
<line x1="880.50" y1="1391.64" x2="1005.40" y2="1376.11" stroke="#000" stroke-width="1.8" stroke-linecap="butt"/>
</g>
<circle cx="880.5" cy="1342.5" r="3.0" fill="#0000f5"/>
<circle cx="880.5" cy="1375.3" r="3.0" fill="#0000f5"/>
<circle cx="880.5" cy="1387.2" r="3.0" fill="#0000f5"/>
<circle cx="880.5" cy="1387.1" r="3.0" fill="#0000f5"/>
<circle cx="880.5" cy="1389.0" r="3.0" fill="#0000f5"/>
<circle cx="880.5" cy="1389.1" r="3.0" fill="#0000f5"/>
<circle cx="880.5" cy="1389.9" r="3.0" fill="#0000f5"/>
<circle cx="880.5" cy="1391.6" r="3.0" fill="#0000f5"/>
<circle cx="880.5" cy="1392.2" r="3.0" fill="#0000f5"/>
<circle cx="880.5" cy="1392.3" r="3.0" fill="#0000f5"/>
<circle cx="880.5" cy="1418.2" r="3.0" fill="#0000f5"/>
<circle cx="880.5" cy="1429.7" r="3.0" fill="#0000f5"/>
<circle cx="880.5" cy="1435.4" r="3.0" fill="#0000f5"/>
<circle cx="880.5" cy="1433.8" r="3.0" fill="#0000f5"/>
<circle cx="880.5" cy="1457.1" r="3.0" fill="#0000f5"/>
<circle cx="880.5" cy="1468.2" r="3.0" fill="#0000f5"/>
<circle cx="880.5" cy="1469.8" r="3.0" fill="#0000f5"/>
<circle cx="880.5" cy="1474.7" r="3.0" fill="#0000f5"/>
<circle cx="880.5" cy="1474.7" r="3.0" fill="#0000f5"/>
<circle cx="880.5" cy="1468.6" r="3.0" fill="#0000f5"/>
<circle cx="880.5" cy="1480.9" r="3.0" fill="#0000f5"/>
<circle cx="880.5" cy="1480.5" r="3.0" fill="#0000f5"/>
<circle cx="880.5" cy="1485.0" r="3.0" fill="#0000f5"/>
<circle cx="880.5" cy="1479.7" r="3.0" fill="#0000f5"/>
<circle cx="880.5" cy="1482.1" r="3.0" fill="#0000f5"/>
<circle cx="880.5" cy="1487.0" r="3.0" fill="#0000f5"/>
<circle cx="880.5" cy="1491.1" r="3.0" fill="#0000f5"/>
<circle cx="880.5" cy="1493.6" r="3.0" fill="#0000f5"/>
<circle cx="880.5" cy="1496.1" r="3.0" fill="#0000f5"/>
<circle cx="880.5" cy="1495.6" r="3.0" fill="#0000f5"/>
<circle cx="880.5" cy="1502.2" r="3.0" fill="#0000f5"/>
<circle cx="880.5" cy="1502.2" r="3.0" fill="#0000f5"/>
<circle cx="880.5" cy="1501.0" r="3.0" fill="#0000f5"/>
<circle cx="880.5" cy="1501.0" r="3.0" fill="#0000f5"/>
<circle cx="880.5" cy="1514.9" r="3.0" fill="#0000f5"/>
<circle cx="880.5" cy="1514.9" r="3.0" fill="#0000f5"/>
<circle cx="1005.4" cy="1354.9" r="3.0" fill="#f44545"/>
<circle cx="1005.4" cy="1360.0" r="3.0" fill="#f44545"/>
<circle cx="1005.4" cy="1376.1" r="3.0" fill="#f44545"/>
<circle cx="1005.4" cy="1383.4" r="3.0" fill="#f44545"/>
<circle cx="1005.4" cy="1384.6" r="3.0" fill="#f44545"/>
<circle cx="1005.4" cy="1385.9" r="3.0" fill="#f44545"/>
<circle cx="1005.4" cy="1386.7" r="3.0" fill="#f44545"/>
<circle cx="1005.4" cy="1387.1" r="3.0" fill="#f44545"/>
<circle cx="1005.4" cy="1388.8" r="3.0" fill="#f44545"/>
<circle cx="1005.4" cy="1413.7" r="3.0" fill="#f44545"/>
<circle cx="1005.4" cy="1410.5" r="3.0" fill="#f44545"/>
<circle cx="1005.4" cy="1414.2" r="3.0" fill="#f44545"/>
<circle cx="1005.4" cy="1426.0" r="3.0" fill="#f44545"/>
<circle cx="1005.4" cy="1434.6" r="3.0" fill="#f44545"/>
<circle cx="1005.4" cy="1436.3" r="3.0" fill="#f44545"/>
<circle cx="1005.4" cy="1440.8" r="3.0" fill="#f44545"/>
<circle cx="1005.4" cy="1445.3" r="3.0" fill="#f44545"/>
<circle cx="1005.4" cy="1449.0" r="3.0" fill="#f44545"/>
<circle cx="1005.4" cy="1451.0" r="3.0" fill="#f44545"/>
<circle cx="1005.4" cy="1451.0" r="3.0" fill="#f44545"/>
<circle cx="1005.4" cy="1460.0" r="3.0" fill="#f44545"/>
<circle cx="1005.4" cy="1476.0" r="3.0" fill="#f44545"/>
<circle cx="1005.4" cy="1493.2" r="3.0" fill="#f44545"/>
<circle cx="1005.4" cy="1498.5" r="3.0" fill="#f44545"/>
<circle cx="1005.4" cy="1494.0" r="3.0" fill="#f44545"/>
<circle cx="1005.4" cy="1495.7" r="3.0" fill="#f44545"/>
<circle cx="1005.4" cy="1487.5" r="3.0" fill="#f44545"/>
<circle cx="1005.4" cy="1499.3" r="3.0" fill="#f44545"/>
<circle cx="1005.4" cy="1514.9" r="3.0" fill="#f44545"/>
<circle cx="1005.4" cy="1514.9" r="3.0" fill="#f44545"/>
<circle cx="1005.4" cy="1514.9" r="3.0" fill="#f44545"/>
<circle cx="1005.4" cy="1514.9" r="3.0" fill="#f44545"/>
<circle cx="1005.4" cy="1514.9" r="3.0" fill="#f44545"/>
<circle cx="1005.4" cy="1514.9" r="3.0" fill="#f44545"/>
<circle cx="1005.4" cy="1514.9" r="3.0" fill="#f44545"/>
<circle cx="1005.4" cy="1514.9" r="3.0" fill="#f44545"/>
<g>
<line x1="1227.60" y1="1342.26" x2="1352.80" y2="1379.01" stroke="#000" stroke-width="1.8" stroke-linecap="butt"/>
<line x1="1227.60" y1="1372.52" x2="1352.80" y2="1393.57" stroke="#000" stroke-width="1.8" stroke-linecap="butt"/>
<line x1="1227.60" y1="1379.14" x2="1352.80" y2="1501.13" stroke="#000" stroke-width="1.8" stroke-linecap="butt"/>
<line x1="1227.60" y1="1468.42" x2="1352.80" y2="1342.18" stroke="#000" stroke-width="1.8" stroke-linecap="butt"/>
<line x1="1227.60" y1="1414.99" x2="1352.80" y2="1362.76" stroke="#000" stroke-width="1.8" stroke-linecap="butt"/>
<line x1="1227.60" y1="1402.43" x2="1352.80" y2="1367.42" stroke="#000" stroke-width="1.8" stroke-linecap="butt"/>
<line x1="1227.60" y1="1436.79" x2="1352.80" y2="1402.32" stroke="#000" stroke-width="1.8" stroke-linecap="butt"/>
<line x1="1227.60" y1="1497.87" x2="1352.80" y2="1498.74" stroke="#000" stroke-width="1.8" stroke-linecap="butt"/>
<line x1="1227.60" y1="1501.76" x2="1352.80" y2="1492.37" stroke="#000" stroke-width="1.8" stroke-linecap="butt"/>
<line x1="1227.60" y1="1480.52" x2="1352.80" y2="1490.67" stroke="#000" stroke-width="1.8" stroke-linecap="butt"/>
<line x1="1227.60" y1="1478.12" x2="1352.80" y2="1485.67" stroke="#000" stroke-width="1.8" stroke-linecap="butt"/>
<line x1="1227.60" y1="1494.11" x2="1352.80" y2="1484.30" stroke="#000" stroke-width="1.8" stroke-linecap="butt"/>
<line x1="1227.60" y1="1479.49" x2="1352.80" y2="1483.05" stroke="#000" stroke-width="1.8" stroke-linecap="butt"/>
<line x1="1227.60" y1="1481.09" x2="1352.80" y2="1482.82" stroke="#000" stroke-width="1.8" stroke-linecap="butt"/>
<line x1="1227.60" y1="1450.95" x2="1352.80" y2="1482.14" stroke="#000" stroke-width="1.8" stroke-linecap="butt"/>
<line x1="1227.60" y1="1504.95" x2="1352.80" y2="1481.34" stroke="#000" stroke-width="1.8" stroke-linecap="butt"/>
<line x1="1227.60" y1="1468.76" x2="1352.80" y2="1479.64" stroke="#000" stroke-width="1.8" stroke-linecap="butt"/>
<line x1="1227.60" y1="1509.98" x2="1352.80" y2="1478.39" stroke="#000" stroke-width="1.8" stroke-linecap="butt"/>
<line x1="1227.60" y1="1481.89" x2="1352.80" y2="1477.25" stroke="#000" stroke-width="1.8" stroke-linecap="butt"/>
<line x1="1227.60" y1="1455.52" x2="1352.80" y2="1474.75" stroke="#000" stroke-width="1.8" stroke-linecap="butt"/>
<line x1="1227.60" y1="1458.83" x2="1352.80" y2="1472.36" stroke="#000" stroke-width="1.8" stroke-linecap="butt"/>
<line x1="1227.60" y1="1454.61" x2="1352.80" y2="1470.09" stroke="#000" stroke-width="1.8" stroke-linecap="butt"/>
<line x1="1227.60" y1="1475.73" x2="1352.80" y2="1467.36" stroke="#000" stroke-width="1.8" stroke-linecap="butt"/>
<line x1="1227.60" y1="1446.84" x2="1352.80" y2="1466.79" stroke="#000" stroke-width="1.8" stroke-linecap="butt"/>
<line x1="1227.60" y1="1472.76" x2="1352.80" y2="1463.95" stroke="#000" stroke-width="1.8" stroke-linecap="butt"/>
<line x1="1227.60" y1="1476.98" x2="1352.80" y2="1463.27" stroke="#000" stroke-width="1.8" stroke-linecap="butt"/>
<line x1="1227.60" y1="1470.70" x2="1352.80" y2="1461.90" stroke="#000" stroke-width="1.8" stroke-linecap="butt"/>
<line x1="1227.60" y1="1478.58" x2="1352.80" y2="1454.63" stroke="#000" stroke-width="1.8" stroke-linecap="butt"/>
<line x1="1227.60" y1="1442.27" x2="1352.80" y2="1452.58" stroke="#000" stroke-width="1.8" stroke-linecap="butt"/>
<line x1="1227.60" y1="1422.18" x2="1352.80" y2="1452.24" stroke="#000" stroke-width="1.8" stroke-linecap="butt"/>
<line x1="1227.60" y1="1412.25" x2="1352.80" y2="1444.51" stroke="#000" stroke-width="1.8" stroke-linecap="butt"/>
<line x1="1227.60" y1="1416.02" x2="1352.80" y2="1439.50" stroke="#000" stroke-width="1.8" stroke-linecap="butt"/>
<line x1="1227.60" y1="1414.30" x2="1352.80" y2="1437.12" stroke="#000" stroke-width="1.8" stroke-linecap="butt"/>
<line x1="1227.60" y1="1456.09" x2="1352.80" y2="1435.75" stroke="#000" stroke-width="1.8" stroke-linecap="butt"/>
<line x1="1227.60" y1="1441.93" x2="1352.80" y2="1427.45" stroke="#000" stroke-width="1.8" stroke-linecap="butt"/>
<line x1="1227.60" y1="1404.14" x2="1352.80" y2="1425.52" stroke="#000" stroke-width="1.8" stroke-linecap="butt"/>
</g>
<circle cx="1227.6" cy="1342.3" r="3.0" fill="#0000f5"/>
<circle cx="1227.6" cy="1372.5" r="3.0" fill="#0000f5"/>
<circle cx="1227.6" cy="1379.1" r="3.0" fill="#0000f5"/>
<circle cx="1227.6" cy="1402.4" r="3.0" fill="#0000f5"/>
<circle cx="1227.6" cy="1404.1" r="3.0" fill="#0000f5"/>
<circle cx="1227.6" cy="1412.2" r="3.0" fill="#0000f5"/>
<circle cx="1227.6" cy="1415.0" r="3.0" fill="#0000f5"/>
<circle cx="1227.6" cy="1416.0" r="3.0" fill="#0000f5"/>
<circle cx="1227.6" cy="1414.3" r="3.0" fill="#0000f5"/>
<circle cx="1227.6" cy="1422.2" r="3.0" fill="#0000f5"/>
<circle cx="1227.6" cy="1436.8" r="3.0" fill="#0000f5"/>
<circle cx="1227.6" cy="1441.9" r="3.0" fill="#0000f5"/>
<circle cx="1227.6" cy="1442.3" r="3.0" fill="#0000f5"/>
<circle cx="1227.6" cy="1446.8" r="3.0" fill="#0000f5"/>
<circle cx="1227.6" cy="1451.0" r="3.0" fill="#0000f5"/>
<circle cx="1227.6" cy="1454.6" r="3.0" fill="#0000f5"/>
<circle cx="1227.6" cy="1455.5" r="3.0" fill="#0000f5"/>
<circle cx="1227.6" cy="1456.1" r="3.0" fill="#0000f5"/>
<circle cx="1227.6" cy="1458.8" r="3.0" fill="#0000f5"/>
<circle cx="1227.6" cy="1468.4" r="3.0" fill="#0000f5"/>
<circle cx="1227.6" cy="1468.8" r="3.0" fill="#0000f5"/>
<circle cx="1227.6" cy="1470.7" r="3.0" fill="#0000f5"/>
<circle cx="1227.6" cy="1472.8" r="3.0" fill="#0000f5"/>
<circle cx="1227.6" cy="1475.7" r="3.0" fill="#0000f5"/>
<circle cx="1227.6" cy="1477.0" r="3.0" fill="#0000f5"/>
<circle cx="1227.6" cy="1479.5" r="3.0" fill="#0000f5"/>
<circle cx="1227.6" cy="1478.6" r="3.0" fill="#0000f5"/>
<circle cx="1227.6" cy="1478.1" r="3.0" fill="#0000f5"/>
<circle cx="1227.6" cy="1481.1" r="3.0" fill="#0000f5"/>
<circle cx="1227.6" cy="1481.9" r="3.0" fill="#0000f5"/>
<circle cx="1227.6" cy="1480.5" r="3.0" fill="#0000f5"/>
<circle cx="1227.6" cy="1494.1" r="3.0" fill="#0000f5"/>
<circle cx="1227.6" cy="1497.9" r="3.0" fill="#0000f5"/>
<circle cx="1227.6" cy="1501.8" r="3.0" fill="#0000f5"/>
<circle cx="1227.6" cy="1505.0" r="3.0" fill="#0000f5"/>
<circle cx="1227.6" cy="1510.0" r="3.0" fill="#0000f5"/>
<circle cx="1352.8" cy="1342.2" r="3.0" fill="#f44545"/>
<circle cx="1352.8" cy="1362.8" r="3.0" fill="#f44545"/>
<circle cx="1352.8" cy="1367.4" r="3.0" fill="#f44545"/>
<circle cx="1352.8" cy="1379.0" r="3.0" fill="#f44545"/>
<circle cx="1352.8" cy="1393.6" r="3.0" fill="#f44545"/>
<circle cx="1352.8" cy="1402.3" r="3.0" fill="#f44545"/>
<circle cx="1352.8" cy="1427.5" r="3.0" fill="#f44545"/>
<circle cx="1352.8" cy="1425.5" r="3.0" fill="#f44545"/>
<circle cx="1352.8" cy="1435.8" r="3.0" fill="#f44545"/>
<circle cx="1352.8" cy="1437.1" r="3.0" fill="#f44545"/>
<circle cx="1352.8" cy="1439.5" r="3.0" fill="#f44545"/>
<circle cx="1352.8" cy="1444.5" r="3.0" fill="#f44545"/>
<circle cx="1352.8" cy="1452.6" r="3.0" fill="#f44545"/>
<circle cx="1352.8" cy="1452.2" r="3.0" fill="#f44545"/>
<circle cx="1352.8" cy="1454.6" r="3.0" fill="#f44545"/>
<circle cx="1352.8" cy="1461.9" r="3.0" fill="#f44545"/>
<circle cx="1352.8" cy="1463.9" r="3.0" fill="#f44545"/>
<circle cx="1352.8" cy="1463.3" r="3.0" fill="#f44545"/>
<circle cx="1352.8" cy="1467.4" r="3.0" fill="#f44545"/>
<circle cx="1352.8" cy="1466.8" r="3.0" fill="#f44545"/>
<circle cx="1352.8" cy="1470.1" r="3.0" fill="#f44545"/>
<circle cx="1352.8" cy="1472.4" r="3.0" fill="#f44545"/>
<circle cx="1352.8" cy="1474.8" r="3.0" fill="#f44545"/>
<circle cx="1352.8" cy="1478.4" r="3.0" fill="#f44545"/>
<circle cx="1352.8" cy="1477.3" r="3.0" fill="#f44545"/>
<circle cx="1352.8" cy="1479.6" r="3.0" fill="#f44545"/>
<circle cx="1352.8" cy="1483.1" r="3.0" fill="#f44545"/>
<circle cx="1352.8" cy="1482.8" r="3.0" fill="#f44545"/>
<circle cx="1352.8" cy="1482.1" r="3.0" fill="#f44545"/>
<circle cx="1352.8" cy="1481.3" r="3.0" fill="#f44545"/>
<circle cx="1352.8" cy="1485.7" r="3.0" fill="#f44545"/>
<circle cx="1352.8" cy="1484.3" r="3.0" fill="#f44545"/>
<circle cx="1352.8" cy="1490.7" r="3.0" fill="#f44545"/>
<circle cx="1352.8" cy="1492.4" r="3.0" fill="#f44545"/>
<circle cx="1352.8" cy="1498.7" r="3.0" fill="#f44545"/>
<circle cx="1352.8" cy="1501.1" r="3.0" fill="#f44545"/>
</svg></body></html>
